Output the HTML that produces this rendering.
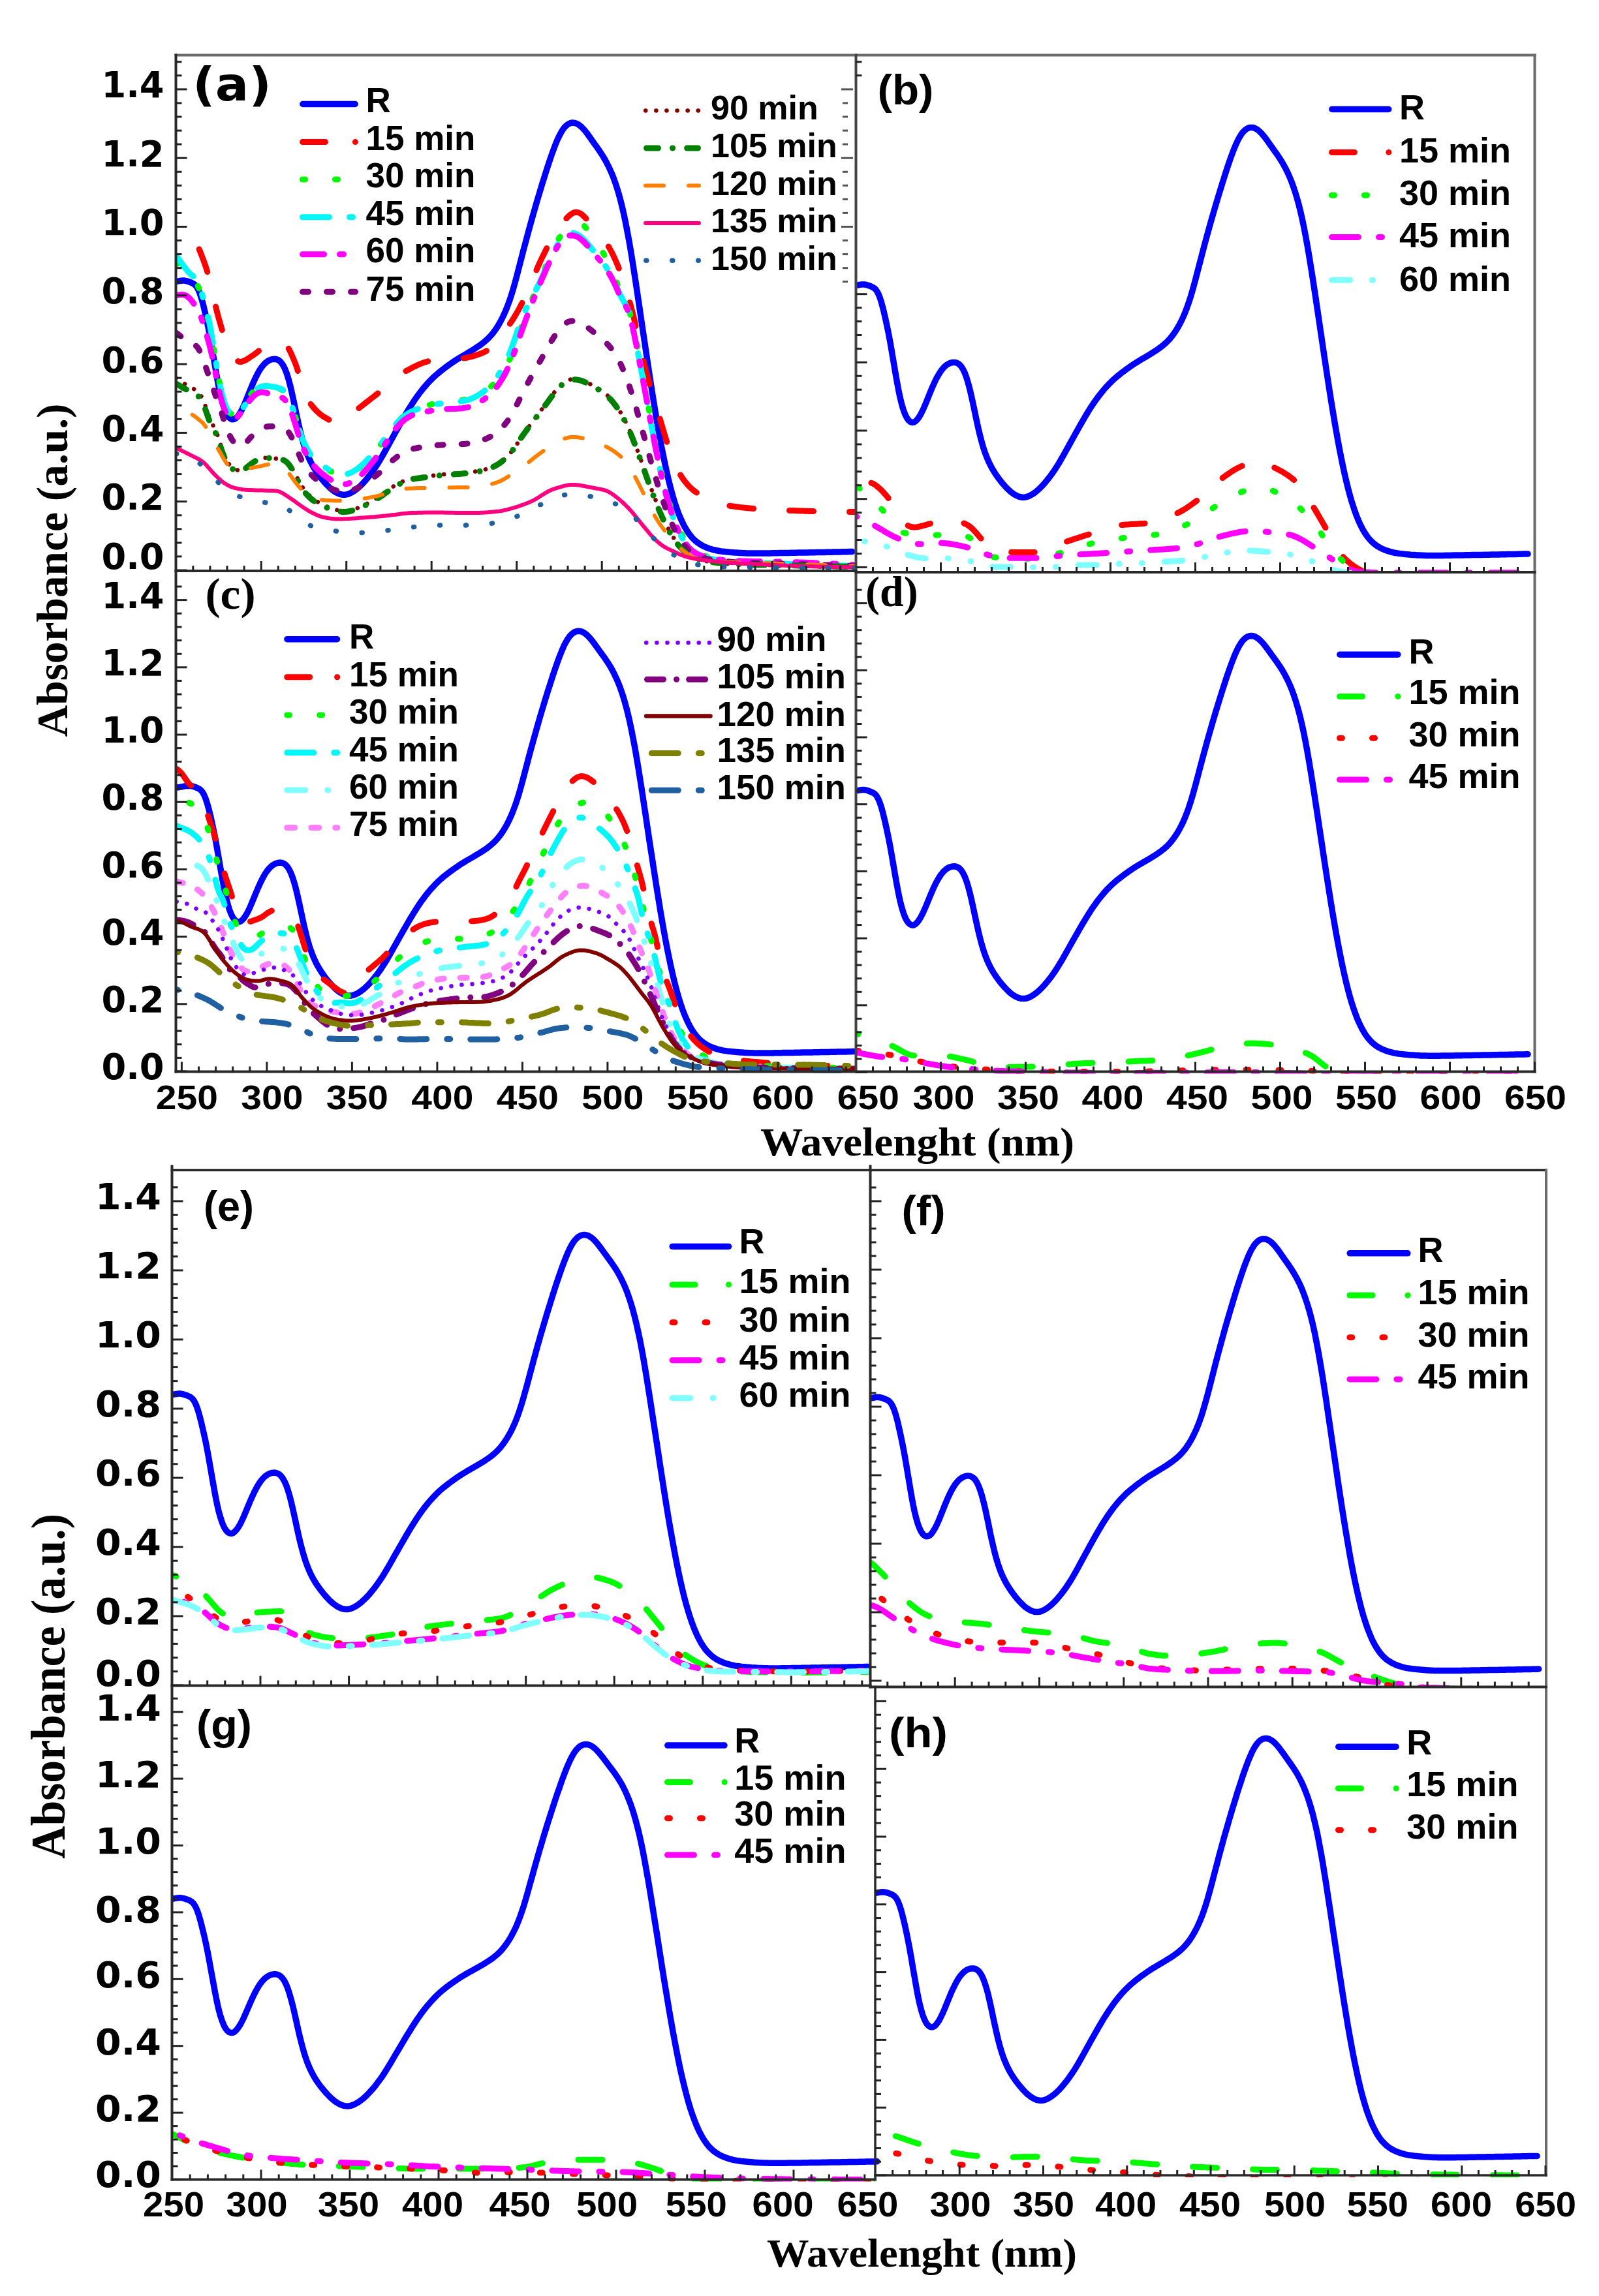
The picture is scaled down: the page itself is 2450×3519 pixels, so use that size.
<!DOCTYPE html>
<html lang="en"><head><meta charset="utf-8"><title>UV-Vis absorbance spectra</title>
<style>html,body{margin:0;padding:0;background:#fff}svg{display:block}</style></head>
<body>
<svg width="2450" height="3519" viewBox="0 0 2450 3519">
<rect width="2450" height="3519" fill="#fff"/>
<clipPath id="clip_a"><rect x="269.5" y="84.5" width="1042.0" height="793.5"/></clipPath>
<g clip-path="url(#clip_a)">
<rect x="269.5" y="84.5" width="1042.0" height="793.5" fill="#fff"/>
<path d="M269.7 431.5 L272.3 431.1 L274.9 430.6 L277.5 430.2 L280.1 430.0 L282.8 430.1 L285.4 430.6 L288.0 431.3 L290.6 432.3 L293.2 433.3 L295.8 434.5 L298.4 436.3 L301.0 439.1 L303.6 443.5 L306.2 449.7 L308.8 457.8 L311.5 467.6 L314.1 478.6 L316.7 490.4 L319.3 503.0 L321.9 516.7 L324.5 531.5 L327.1 547.0 L329.7 562.5 L332.3 577.6 L334.9 591.8 L337.6 604.4 L340.2 615.0 L342.8 623.7 L345.4 630.7 L348.0 635.9 L350.6 639.5 L353.2 641.7 L355.8 642.8 L358.4 642.6 L361.0 641.3 L363.7 638.8 L366.3 635.4 L368.9 631.1 L371.5 626.1 L374.1 620.5 L376.7 614.4 L379.3 607.9 L381.9 601.4 L384.5 595.0 L387.1 588.8 L389.8 582.8 L392.4 577.3 L395.0 572.2 L397.6 567.7 L400.2 563.7 L402.8 560.3 L405.4 557.4 L408.0 555.1 L410.6 553.3 L413.2 551.9 L415.9 550.9 L418.5 550.4 L421.1 550.3 L423.7 550.7 L426.3 551.7 L428.9 553.6 L431.5 556.4 L434.1 560.4 L436.7 565.7 L439.4 572.5 L442.0 580.9 L444.6 590.7 L447.2 601.8 L449.8 613.8 L452.4 626.3 L455.0 638.7 L457.6 650.6 L460.2 661.8 L462.8 671.9 L465.4 681.0 L468.1 688.9 L470.7 695.9 L473.3 702.1 L475.9 707.6 L478.5 712.6 L481.1 717.1 L483.7 721.3 L486.3 725.2 L488.9 728.8 L491.5 732.2 L494.2 735.5 L496.8 738.6 L499.4 741.6 L502.0 744.3 L504.6 746.9 L507.2 749.3 L509.8 751.4 L512.4 753.2 L515.0 754.8 L517.6 756.1 L520.3 757.1 L522.9 757.9 L525.5 758.3 L528.1 758.3 L530.7 757.9 L533.3 757.3 L535.9 756.2 L538.5 755.0 L541.1 753.4 L543.8 751.7 L546.4 749.7 L549.0 747.6 L551.6 745.2 L554.2 742.7 L556.8 739.9 L559.4 737.0 L562.0 734.0 L564.6 730.7 L567.2 727.4 L569.8 723.9 L572.5 720.2 L575.1 716.4 L577.7 712.4 L580.3 708.2 L582.9 703.9 L585.5 699.5 L588.1 694.9 L590.7 690.2 L593.3 685.5 L596.0 680.7 L598.6 676.0 L601.2 671.2 L603.8 666.5 L606.4 661.8 L609.0 657.1 L611.6 652.4 L614.2 647.8 L616.8 643.2 L619.4 638.7 L622.0 634.2 L624.7 629.8 L627.3 625.6 L629.9 621.4 L632.5 617.3 L635.1 613.4 L637.7 609.6 L640.3 606.0 L642.9 602.5 L645.5 599.1 L648.1 595.8 L650.8 592.6 L653.4 589.6 L656.0 586.7 L658.6 583.9 L661.2 581.3 L663.8 578.7 L666.4 576.3 L669.0 574.0 L671.6 571.8 L674.2 569.7 L676.9 567.6 L679.5 565.6 L682.1 563.6 L684.7 561.6 L687.3 559.7 L689.9 557.8 L692.5 556.0 L695.1 554.2 L697.7 552.5 L700.3 550.8 L703.0 549.2 L705.6 547.6 L708.2 546.1 L710.8 544.5 L713.4 543.0 L716.0 541.4 L718.6 539.9 L721.2 538.3 L723.8 536.7 L726.5 535.0 L729.1 533.3 L731.7 531.6 L734.3 529.8 L736.9 528.0 L739.5 526.0 L742.1 523.9 L744.7 521.7 L747.3 519.3 L749.9 516.7 L752.5 513.8 L755.2 510.7 L757.8 507.2 L760.4 503.5 L763.0 499.4 L765.6 495.0 L768.2 490.2 L770.8 485.0 L773.4 479.3 L776.0 473.2 L778.6 466.4 L781.3 459.0 L783.9 451.0 L786.5 442.3 L789.1 433.0 L791.7 423.4 L794.3 413.4 L796.9 403.3 L799.5 393.2 L802.1 383.1 L804.8 373.2 L807.4 363.4 L810.0 353.7 L812.6 344.2 L815.2 334.9 L817.8 325.7 L820.4 316.6 L823.0 307.7 L825.6 299.0 L828.2 290.3 L830.8 281.7 L833.5 273.3 L836.1 264.9 L838.7 256.8 L841.3 248.8 L843.9 241.1 L846.5 233.7 L849.1 226.6 L851.7 219.9 L854.3 213.7 L857.0 208.1 L859.6 203.2 L862.2 198.9 L864.8 195.4 L867.4 192.7 L870.0 190.6 L872.6 189.2 L875.2 188.3 L877.8 188.1 L880.4 188.4 L883.0 189.2 L885.7 190.5 L888.3 192.3 L890.9 194.5 L893.5 197.2 L896.1 200.1 L898.7 203.4 L901.3 206.9 L903.9 210.6 L906.5 214.3 L909.1 218.0 L911.8 221.7 L914.4 225.3 L917.0 229.0 L919.6 232.9 L922.2 236.8 L924.8 241.0 L927.4 245.5 L930.0 250.3 L932.6 255.4 L935.2 261.1 L937.9 267.2 L940.5 273.8 L943.1 281.1 L945.7 289.1 L948.3 297.9 L950.9 307.5 L953.5 318.0 L956.1 329.5 L958.7 342.0 L961.3 355.5 L964.0 370.0 L966.6 385.3 L969.2 401.3 L971.8 417.9 L974.4 434.9 L977.0 452.3 L979.6 469.8 L982.2 487.6 L984.8 505.4 L987.5 523.1 L990.1 540.8 L992.7 558.3 L995.3 575.5 L997.9 592.4 L1000.5 608.9 L1003.1 625.1 L1005.7 640.8 L1008.3 655.9 L1010.9 670.5 L1013.5 684.5 L1016.2 697.8 L1018.8 710.5 L1021.4 722.5 L1024.0 733.8 L1026.6 744.4 L1029.2 754.3 L1031.8 763.5 L1034.4 771.9 L1037.0 779.6 L1039.6 786.7 L1042.3 793.2 L1044.9 799.0 L1047.5 804.4 L1050.1 809.2 L1052.7 813.6 L1055.3 817.5 L1057.9 820.9 L1060.5 824.0 L1063.1 826.7 L1065.8 829.1 L1068.4 831.2 L1071.0 833.1 L1073.6 834.8 L1076.2 836.2 L1078.8 837.5 L1081.4 838.7 L1084.0 839.7 L1086.6 840.7 L1089.2 841.5 L1091.8 842.3 L1094.5 842.9 L1097.1 843.5 L1099.7 844.0 L1102.3 844.5 L1104.9 844.9 L1107.5 845.2 L1110.1 845.5 L1112.7 845.8 L1115.3 846.0 L1118.0 846.3 L1120.6 846.5 L1123.2 846.7 L1125.8 846.9 L1128.4 847.1 L1131.0 847.3 L1133.6 847.5 L1136.2 847.6 L1138.8 847.7 L1141.4 847.8 L1144.0 847.9 L1146.7 848.0 L1149.3 848.0 L1151.9 848.0 L1154.5 848.1 L1157.1 848.1 L1159.7 848.1 L1162.3 848.1 L1164.9 848.0 L1167.5 848.0 L1170.1 848.0 L1172.8 848.0 L1175.4 847.9 L1178.0 847.9 L1180.6 847.9 L1183.2 847.8 L1185.8 847.8 L1188.4 847.7 L1191.0 847.7 L1193.6 847.6 L1196.2 847.6 L1198.9 847.5 L1201.5 847.5 L1204.1 847.4 L1206.7 847.4 L1209.3 847.4 L1211.9 847.3 L1214.5 847.3 L1217.1 847.2 L1219.7 847.2 L1222.3 847.1 L1225.0 847.1 L1227.6 847.0 L1230.2 847.0 L1232.8 846.9 L1235.4 846.9 L1238.0 846.9 L1240.6 846.8 L1243.2 846.8 L1245.8 846.7 L1248.5 846.7 L1251.1 846.6 L1253.7 846.6 L1256.3 846.5 L1258.9 846.5 L1261.5 846.4 L1264.1 846.4 L1266.7 846.3 L1269.3 846.3 L1271.9 846.2 L1274.5 846.2 L1277.2 846.1 L1279.8 846.1 L1282.4 846.0 L1285.0 845.9 L1287.6 845.9 L1290.2 845.8 L1292.8 845.8 L1295.4 845.7 L1298.0 845.7 L1300.7 845.6 L1303.3 845.5 L1305.9 845.5" fill="none" stroke="#0000ff" stroke-width="9.5" stroke-linecap="round" stroke-linejoin="round"/>
<path d="M301.0 373.8 L303.6 378.3 L306.2 384.5 L308.8 391.2 L311.5 398.1 L314.1 405.3 L316.7 413.2 L319.3 422.0 L321.9 432.2 L324.5 443.6 L327.1 455.3 L329.7 466.6 L332.3 477.1 L334.9 487.0 L337.6 496.4 L340.2 505.4 L342.8 514.0 L345.4 522.4 L348.0 530.2 L350.6 536.7 L353.2 541.7 L355.8 545.5 L358.4 548.7 L361.0 551.3 L363.7 553.2 L366.3 554.3 L368.9 554.5 L371.5 554.0 L374.1 553.1 L376.7 551.7 L379.3 550.1 L381.9 548.4 L384.5 546.6 L387.1 544.9 L389.8 543.1 L392.4 541.1 L395.0 539.0 L397.6 536.9 L400.2 534.7 L402.8 532.7 L405.4 530.9 L408.0 529.2 L410.6 527.6 L413.2 526.1 L415.9 524.8 L418.5 523.6 L421.1 522.9 L423.7 522.5 L426.3 522.6 L428.9 523.0 L431.5 523.7 L434.1 524.8 L436.7 526.7 L439.4 529.7 L442.0 533.8 L444.6 538.7 L447.2 544.4 L449.8 550.4 L452.4 556.8 L455.0 564.0 L457.6 572.5 L460.2 582.0 L462.8 591.4 L465.4 599.7 L468.1 606.2 L470.7 611.1 L473.3 615.3 L475.9 619.0 L478.5 622.4 L481.1 625.6 L483.7 628.4 L486.3 631.0 L488.9 633.4 L491.5 635.5 L494.2 637.5 L496.8 639.2 L499.4 640.7 L502.0 642.2 L504.6 643.6 L507.2 644.9 L509.8 646.0 L512.4 647.0 L515.0 647.8 L517.6 648.3 L520.3 648.3 L522.9 647.8 L525.5 646.6 L528.1 644.7 L530.7 642.4 L533.3 639.9 L535.9 637.2 L538.5 634.7 L541.1 632.4 L543.8 630.3 L546.4 628.3 L549.0 626.2 L551.6 624.2 L554.2 622.2 L556.8 620.2 L559.4 618.1 L562.0 616.1 L564.6 614.1 L567.2 612.1 L569.8 610.0 L572.5 608.0 L575.1 605.9 L577.7 603.9 L580.3 601.8 L582.9 599.6 L585.5 597.4 L588.1 595.2 L590.7 592.9 L593.3 590.6 L596.0 588.3 L598.6 586.0 L601.2 583.8 L603.8 581.6 L606.4 579.4 L609.0 577.4 L611.6 575.4 L614.2 573.5 L616.8 571.8 L619.4 570.2 L622.0 568.7 L624.7 567.2 L627.3 565.9 L629.9 564.5 L632.5 563.1 L635.1 561.8 L637.7 560.6 L640.3 559.3 L642.9 558.2 L645.5 557.1 L648.1 556.1 L650.8 555.3 L653.4 554.5 L656.0 553.8 L658.6 553.3 L661.2 552.9 L663.8 552.6 L666.4 552.3 L669.0 552.1 L671.6 551.9 L674.2 551.7 L676.9 551.5 L679.5 551.4 L682.1 551.3 L684.7 551.2 L687.3 551.0 L689.9 550.9 L692.5 550.7 L695.1 550.6 L697.7 550.4 L700.3 550.2 L703.0 549.9 L705.6 549.7 L708.2 549.3 L710.8 548.9 L713.4 548.5 L716.0 548.0 L718.6 547.4 L721.2 546.8 L723.8 546.1 L726.5 545.4 L729.1 544.6 L731.7 543.7 L734.3 542.8 L736.9 541.8 L739.5 540.7 L742.1 539.6 L744.7 538.2 L747.3 536.5 L749.9 534.5 L752.5 532.2 L755.2 529.7 L757.8 526.9 L760.4 524.0 L763.0 520.8 L765.6 517.5 L768.2 514.2 L770.8 510.7 L773.4 507.2 L776.0 503.7 L778.6 500.1 L781.3 496.5 L783.9 492.6 L786.5 488.5 L789.1 484.2 L791.7 479.7 L794.3 475.1 L796.9 470.3 L799.5 465.3 L802.1 460.1 L804.8 454.6 L807.4 448.8 L810.0 442.7 L812.6 436.6 L815.2 430.3 L817.8 424.0 L820.4 417.7 L823.0 411.6 L825.6 405.6 L828.2 399.9 L830.8 394.4 L833.5 389.1 L836.1 383.8 L838.7 378.5 L841.3 373.4 L843.9 368.3 L846.5 363.5 L849.1 359.0 L851.7 354.8 L854.3 351.0 L857.0 347.6 L859.6 344.4 L862.2 341.3 L864.8 338.2 L867.4 335.2 L870.0 332.5 L872.6 330.1 L875.2 328.1 L877.8 326.5 L880.4 325.5 L883.0 325.2 L885.7 325.6 L888.3 326.6 L890.9 328.3 L893.5 330.4 L896.1 332.9 L898.7 335.7 L901.3 338.7 L903.9 341.7 L906.5 344.6 L909.1 347.5 L911.8 350.3 L914.4 353.2 L917.0 356.2 L919.6 359.4 L922.2 362.7 L924.8 366.2 L927.4 370.0 L930.0 374.0 L932.6 378.3 L935.2 382.9 L937.9 387.9 L940.5 393.3 L943.1 399.0 L945.7 405.0 L948.3 411.4 L950.9 418.3 L953.5 425.6 L956.1 433.5 L958.7 441.8 L961.3 450.6 L964.0 459.7 L966.6 469.1 L969.2 479.0 L971.8 489.5 L974.4 500.8 L977.0 512.8 L979.6 524.9 L982.2 537.0 L984.8 548.5 L987.5 559.3 L990.1 569.4 L992.7 578.9 L995.3 588.1 L997.9 597.0 L1000.5 605.8 L1003.1 614.5 L1005.7 623.1 L1008.3 631.9 L1010.9 640.8 L1013.5 649.9 L1016.2 658.9 L1018.8 667.8 L1021.4 676.2 L1024.0 684.2 L1026.6 691.6 L1029.2 698.5 L1031.8 705.1 L1034.4 711.3 L1037.0 717.2 L1039.6 722.6 L1042.3 727.4 L1044.9 731.6 L1047.5 735.3 L1050.1 738.7 L1052.7 741.9 L1055.3 744.7 L1057.9 747.4 L1060.5 749.8 L1063.1 751.9 L1065.8 753.9 L1068.4 755.7 L1071.0 757.4 L1073.6 759.1 L1076.2 760.7 L1078.8 762.3 L1081.4 763.8 L1084.0 765.2 L1086.6 766.5 L1089.2 767.7 L1091.8 768.9 L1094.5 769.9 L1097.1 770.8 L1099.7 771.6 L1102.3 772.3 L1104.9 772.9 L1107.5 773.4 L1110.1 773.9 L1112.7 774.3 L1115.3 774.7 L1118.0 775.2 L1120.6 775.6 L1123.2 776.0 L1125.8 776.3 L1128.4 776.7 L1131.0 777.0 L1133.6 777.4 L1136.2 777.7 L1138.8 778.0 L1141.4 778.3 L1144.0 778.6 L1146.7 778.8 L1149.3 779.1 L1151.9 779.3 L1154.5 779.5 L1157.1 779.8 L1159.7 780.0 L1162.3 780.2 L1164.9 780.3 L1167.5 780.5 L1170.1 780.7 L1172.8 780.8 L1175.4 781.0 L1178.0 781.1 L1180.6 781.2 L1183.2 781.3 L1185.8 781.4 L1188.4 781.6 L1191.0 781.7 L1193.6 781.8 L1196.2 781.9 L1198.9 782.0 L1201.5 782.1 L1204.1 782.2 L1206.7 782.3 L1209.3 782.4 L1211.9 782.5 L1214.5 782.5 L1217.1 782.6 L1219.7 782.7 L1222.3 782.8 L1225.0 782.9 L1227.6 783.0 L1230.2 783.1 L1232.8 783.2 L1235.4 783.2 L1238.0 783.3 L1240.6 783.4 L1243.2 783.5 L1245.8 783.5 L1248.5 783.6 L1251.1 783.7 L1253.7 783.7 L1256.3 783.8 L1258.9 783.8 L1261.5 783.9 L1264.1 784.0 L1266.7 784.0 L1269.3 784.1 L1271.9 784.1 L1274.5 784.2 L1277.2 784.2 L1279.8 784.2 L1282.4 784.3 L1285.0 784.3 L1287.6 784.3 L1290.2 784.4 L1292.8 784.4 L1295.4 784.4 L1298.0 784.4 L1300.7 784.5 L1303.3 784.5 L1305.9 784.5 L1308.5 784.5 L1311.1 784.5 L1313.7 784.5" fill="none" stroke="#ff0000" stroke-width="9" stroke-linecap="round" stroke-linejoin="round" stroke-dasharray="37 55" stroke-dashoffset="82.9"/>
<path d="M269.7 401.5 L272.3 403.8 L274.9 406.8 L277.5 409.8 L280.1 412.8 L282.8 415.9 L285.4 418.9 L288.0 421.7 L290.6 424.2 L293.2 426.4 L295.8 428.5 L298.4 430.9 L301.0 434.3 L303.6 439.1 L306.2 445.7 L308.8 453.8 L311.5 462.7 L314.1 471.6 L316.7 480.5 L319.3 490.1 L321.9 502.0 L324.5 516.3 L327.1 532.2 L329.7 548.5 L332.3 564.5 L334.9 579.5 L337.6 592.9 L340.2 604.2 L342.8 613.6 L345.4 621.1 L348.0 626.9 L350.6 630.9 L353.2 633.6 L355.8 635.1 L358.4 635.4 L361.0 634.6 L363.7 632.9 L366.3 630.5 L368.9 627.6 L371.5 624.2 L374.1 620.3 L376.7 616.3 L379.3 612.2 L381.9 608.3 L384.5 604.6 L387.1 601.3 L389.8 598.5 L392.4 596.1 L395.0 594.2 L397.6 592.9 L400.2 592.0 L402.8 591.6 L405.4 591.5 L408.0 591.7 L410.6 592.1 L413.2 592.6 L415.9 593.2 L418.5 593.8 L421.1 594.4 L423.7 595.0 L426.3 595.5 L428.9 596.3 L431.5 597.3 L434.1 598.9 L436.7 601.4 L439.4 604.8 L442.0 609.5 L444.6 615.3 L447.2 622.4 L449.8 630.3 L452.4 638.8 L455.0 647.5 L457.6 656.0 L460.2 664.0 L462.8 671.3 L465.4 677.7 L468.1 683.4 L470.7 688.3 L473.3 692.7 L475.9 696.6 L478.5 700.1 L481.1 703.2 L483.7 706.0 L486.3 708.5 L488.9 710.7 L491.5 712.7 L494.2 714.6 L496.8 716.4 L499.4 718.1 L502.0 719.7 L504.6 721.3 L507.2 722.7 L509.8 724.0 L512.4 725.1 L515.0 726.1 L517.6 727.0 L520.3 727.7 L522.9 728.2 L525.5 728.5 L528.1 728.6 L530.7 728.3 L533.3 727.7 L535.9 726.7 L538.5 725.5 L541.1 724.1 L543.8 722.5 L546.4 720.7 L549.0 718.7 L551.6 716.6 L554.2 714.4 L556.8 711.9 L559.4 709.4 L562.0 706.8 L564.6 704.0 L567.2 701.2 L569.8 698.3 L572.5 695.3 L575.1 692.2 L577.7 688.9 L580.3 685.5 L582.9 682.0 L585.5 678.4 L588.1 674.7 L590.7 671.0 L593.3 667.2 L596.0 663.4 L598.6 659.8 L601.2 656.3 L603.8 653.0 L606.4 649.9 L609.0 647.0 L611.6 644.2 L614.2 641.6 L616.8 639.2 L619.4 637.0 L622.0 635.0 L624.7 633.1 L627.3 631.4 L629.9 629.9 L632.5 628.6 L635.1 627.4 L637.7 626.4 L640.3 625.5 L642.9 624.6 L645.5 623.9 L648.1 623.2 L650.8 622.5 L653.4 621.9 L656.0 621.2 L658.6 620.5 L661.2 619.7 L663.8 619.0 L666.4 618.4 L669.0 617.8 L671.6 617.4 L674.2 617.0 L676.9 616.7 L679.5 616.4 L682.1 616.1 L684.7 615.8 L687.3 615.6 L689.9 615.3 L692.5 615.0 L695.1 614.8 L697.7 614.5 L700.3 614.3 L703.0 614.0 L705.6 613.6 L708.2 613.3 L710.8 612.8 L713.4 612.3 L716.0 611.7 L718.6 611.0 L721.2 610.1 L723.8 609.2 L726.5 608.1 L729.1 606.9 L731.7 605.6 L734.3 604.3 L736.9 603.0 L739.5 601.5 L742.1 600.0 L744.7 598.3 L747.3 596.5 L749.9 594.5 L752.5 592.3 L755.2 589.8 L757.8 587.2 L760.4 584.3 L763.0 581.2 L765.6 577.8 L768.2 574.1 L770.8 570.1 L773.4 565.7 L776.0 560.9 L778.6 555.7 L781.3 550.1 L783.9 543.9 L786.5 537.2 L789.1 530.1 L791.7 522.8 L794.3 515.2 L796.9 507.7 L799.5 500.3 L802.1 493.1 L804.8 486.0 L807.4 479.1 L810.0 472.4 L812.6 465.8 L815.2 459.3 L817.8 452.9 L820.4 446.6 L823.0 440.3 L825.6 434.0 L828.2 427.6 L830.8 421.2 L833.5 414.8 L836.1 408.4 L838.7 402.1 L841.3 396.0 L843.9 390.1 L846.5 384.3 L849.1 378.9 L851.7 373.7 L854.3 368.8 L857.0 364.5 L859.6 360.6 L862.2 357.2 L864.8 354.4 L867.4 352.1 L870.0 350.3 L872.6 349.0 L875.2 348.1 L877.8 347.3 L880.4 346.1 L883.0 344.5 L885.7 343.0 L888.3 342.3 L890.9 342.9 L893.5 344.7 L896.1 347.3 L898.7 350.4 L901.3 353.7 L903.9 357.3 L906.5 361.1 L909.1 364.9 L911.8 368.7 L914.4 372.6 L917.0 376.5 L919.6 380.4 L922.2 384.5 L924.8 388.9 L927.4 393.6 L930.0 398.8 L932.6 404.3 L935.2 410.1 L937.9 416.2 L940.5 422.5 L943.1 428.9 L945.7 435.5 L948.3 441.9 L950.9 447.8 L953.5 452.9 L956.1 457.7 L958.7 462.8 L961.3 468.7 L964.0 475.9 L966.6 484.9 L969.2 495.6 L971.8 507.6 L974.4 520.4 L977.0 533.7 L979.6 547.3 L982.2 561.3 L984.8 575.4 L987.5 589.7 L990.1 604.1 L992.7 618.4 L995.3 632.7 L997.9 646.8 L1000.5 660.6 L1003.1 674.1 L1005.7 687.2 L1008.3 700.0 L1010.9 712.2 L1013.5 723.9 L1016.2 735.0 L1018.8 745.6 L1021.4 755.6 L1024.0 764.9 L1026.6 773.7 L1029.2 781.9 L1031.8 789.5 L1034.4 796.7 L1037.0 803.3 L1039.6 809.3 L1042.3 814.8 L1044.9 819.9 L1047.5 824.4 L1050.1 828.5 L1052.7 832.2 L1055.3 835.4 L1057.9 838.3 L1060.5 840.8 L1063.1 843.0 L1065.8 844.9 L1068.4 846.6 L1071.0 848.1 L1073.6 849.4 L1076.2 850.6 L1078.8 851.6 L1081.4 852.5 L1084.0 853.4 L1086.6 854.2 L1089.2 854.9 L1091.8 855.5 L1094.5 856.1 L1097.1 856.6 L1099.7 857.1 L1102.3 857.5 L1104.9 857.9 L1107.5 858.3 L1110.1 858.6 L1112.7 858.9 L1115.3 859.2 L1118.0 859.5 L1120.6 859.7 L1123.2 860.0 L1125.8 860.3 L1128.4 860.5 L1131.0 860.7 L1133.6 860.9 L1136.2 861.1 L1138.8 861.3 L1141.4 861.5 L1144.0 861.7 L1146.7 861.8 L1149.3 862.0 L1151.9 862.1 L1154.5 862.3 L1157.1 862.4 L1159.7 862.5 L1162.3 862.6 L1164.9 862.7 L1167.5 862.9 L1170.1 863.0 L1172.8 863.1 L1175.4 863.2 L1178.0 863.3 L1180.6 863.4 L1183.2 863.5 L1185.8 863.6 L1188.4 863.7 L1191.0 863.8 L1193.6 863.9 L1196.2 863.9 L1198.9 864.0 L1201.5 864.1 L1204.1 864.2 L1206.7 864.3 L1209.3 864.4 L1211.9 864.5 L1214.5 864.6 L1217.1 864.7 L1219.7 864.8 L1222.3 864.9 L1225.0 865.0 L1227.6 865.1 L1230.2 865.2 L1232.8 865.2 L1235.4 865.3 L1238.0 865.4 L1240.6 865.5 L1243.2 865.6 L1245.8 865.7 L1248.5 865.8 L1251.1 865.9 L1253.7 865.9 L1256.3 866.0 L1258.9 866.1 L1261.5 866.2 L1264.1 866.3 L1266.7 866.4 L1269.3 866.4 L1271.9 866.5 L1274.5 866.6 L1277.2 866.7 L1279.8 866.8 L1282.4 866.8 L1285.0 866.9 L1287.6 867.0 L1290.2 867.1 L1292.8 867.1 L1295.4 867.2 L1298.0 867.3 L1300.7 867.3 L1303.3 867.4 L1305.9 867.5 L1308.5 867.5 L1311.1 867.6 L1313.7 867.7" fill="none" stroke="#00fa00" stroke-width="9" stroke-linecap="round" stroke-linejoin="round" stroke-dasharray="4 46" stroke-dashoffset="0"/>
<path d="M269.7 392.3 L272.3 395.1 L274.9 398.7 L277.5 402.5 L280.1 406.1 L282.8 409.6 L285.4 413.0 L288.0 416.2 L290.6 418.9 L293.2 421.1 L295.8 423.1 L298.4 425.5 L301.0 428.9 L303.6 433.7 L306.2 440.3 L308.8 448.6 L311.5 457.8 L314.1 467.4 L316.7 477.0 L319.3 487.6 L321.9 500.0 L324.5 514.7 L327.1 530.8 L329.7 547.3 L332.3 563.5 L334.9 578.7 L337.6 592.4 L340.2 603.9 L342.8 613.6 L345.4 621.4 L348.0 627.4 L350.6 631.7 L353.2 634.7 L355.8 636.4 L358.4 637.0 L361.0 636.4 L363.7 634.9 L366.3 632.6 L368.9 629.8 L371.5 626.4 L374.1 622.6 L376.7 618.6 L379.3 614.4 L381.9 610.4 L384.5 606.6 L387.1 603.2 L389.8 600.1 L392.4 597.5 L395.0 595.4 L397.6 593.8 L400.2 592.6 L402.8 591.9 L405.4 591.6 L408.0 591.5 L410.6 591.7 L413.2 592.0 L415.9 592.5 L418.5 592.9 L421.1 593.4 L423.7 593.9 L426.3 594.5 L428.9 595.3 L431.5 596.4 L434.1 598.1 L436.7 600.6 L439.4 604.2 L442.0 608.9 L444.6 614.9 L447.2 622.0 L449.8 630.0 L452.4 638.6 L455.0 647.4 L457.6 656.0 L460.2 664.0 L462.8 671.3 L465.4 677.8 L468.1 683.5 L470.7 688.4 L473.3 692.7 L475.9 696.6 L478.5 700.1 L481.1 703.2 L483.7 705.9 L486.3 708.2 L488.9 710.3 L491.5 712.2 L494.2 714.0 L496.8 715.6 L499.4 717.2 L502.0 718.8 L504.6 720.2 L507.2 721.5 L509.8 722.7 L512.4 723.7 L515.0 724.7 L517.6 725.5 L520.3 726.1 L522.9 726.6 L525.5 727.0 L528.1 727.0 L530.7 726.7 L533.3 726.1 L535.9 725.2 L538.5 724.0 L541.1 722.6 L543.8 721.0 L546.4 719.3 L549.0 717.4 L551.6 715.3 L554.2 713.1 L556.8 710.7 L559.4 708.2 L562.0 705.7 L564.6 703.0 L567.2 700.3 L569.8 697.4 L572.5 694.5 L575.1 691.4 L577.7 688.3 L580.3 685.0 L582.9 681.6 L585.5 678.1 L588.1 674.5 L590.7 670.8 L593.3 667.1 L596.0 663.4 L598.6 659.9 L601.2 656.5 L603.8 653.3 L606.4 650.2 L609.0 647.4 L611.6 644.7 L614.2 642.2 L616.8 639.9 L619.4 637.8 L622.0 635.8 L624.7 634.0 L627.3 632.4 L629.9 631.0 L632.5 629.8 L635.1 628.7 L637.7 627.7 L640.3 626.8 L642.9 626.1 L645.5 625.4 L648.1 624.7 L650.8 624.1 L653.4 623.4 L656.0 622.8 L658.6 622.0 L661.2 621.3 L663.8 620.6 L666.4 619.9 L669.0 619.4 L671.6 618.9 L674.2 618.6 L676.9 618.3 L679.5 618.0 L682.1 617.7 L684.7 617.5 L687.3 617.2 L689.9 617.0 L692.5 616.7 L695.1 616.4 L697.7 616.2 L700.3 615.9 L703.0 615.6 L705.6 615.2 L708.2 614.8 L710.8 614.3 L713.4 613.8 L716.0 613.1 L718.6 612.3 L721.2 611.4 L723.8 610.3 L726.5 609.1 L729.1 607.8 L731.7 606.3 L734.3 604.7 L736.9 603.0 L739.5 601.2 L742.1 599.2 L744.7 597.0 L747.3 594.7 L749.9 592.2 L752.5 589.4 L755.2 586.4 L757.8 583.1 L760.4 579.6 L763.0 575.8 L765.6 571.7 L768.2 567.4 L770.8 562.7 L773.4 557.7 L776.0 552.2 L778.6 546.4 L781.3 540.1 L783.9 533.3 L786.5 526.1 L789.1 518.5 L791.7 510.8 L794.3 503.0 L796.9 495.6 L799.5 488.7 L802.1 482.2 L804.8 476.1 L807.4 470.4 L810.0 465.1 L812.6 460.0 L815.2 455.1 L817.8 450.3 L820.4 445.5 L823.0 440.6 L825.6 435.5 L828.2 430.0 L830.8 424.3 L833.5 418.3 L836.1 412.3 L838.7 406.4 L841.3 400.6 L843.9 394.9 L846.5 389.5 L849.1 384.3 L851.7 379.4 L854.3 374.9 L857.0 370.8 L859.6 367.2 L862.2 364.2 L864.8 361.7 L867.4 359.8 L870.0 358.4 L872.6 357.5 L875.2 357.1 L877.8 357.2 L880.4 357.7 L883.0 358.6 L885.7 360.0 L888.3 361.7 L890.9 363.8 L893.5 366.2 L896.1 368.8 L898.7 371.7 L901.3 374.7 L903.9 377.9 L906.5 381.1 L909.1 384.3 L911.8 387.4 L914.4 390.6 L917.0 393.7 L919.6 396.9 L922.2 400.2 L924.8 403.7 L927.4 407.4 L930.0 411.4 L932.6 415.6 L935.2 420.1 L937.9 425.0 L940.5 430.2 L943.1 435.8 L945.7 441.7 L948.3 447.8 L950.9 453.4 L953.5 458.3 L956.1 462.7 L958.7 467.5 L961.3 473.1 L964.0 480.2 L966.6 489.1 L969.2 499.9 L971.8 512.0 L974.4 524.9 L977.0 538.2 L979.6 551.9 L982.2 565.7 L984.8 579.8 L987.5 594.0 L990.1 608.2 L992.7 622.6 L995.3 636.9 L997.9 651.1 L1000.5 665.1 L1003.1 678.8 L1005.7 692.1 L1008.3 705.0 L1010.9 717.4 L1013.5 729.2 L1016.2 740.4 L1018.8 751.0 L1021.4 761.0 L1024.0 770.3 L1026.6 778.9 L1029.2 787.0 L1031.8 794.5 L1034.4 801.5 L1037.0 807.9 L1039.6 813.8 L1042.3 819.1 L1044.9 823.9 L1047.5 828.3 L1050.1 832.2 L1052.7 835.7 L1055.3 838.8 L1057.9 841.4 L1060.5 843.8 L1063.1 845.8 L1065.8 847.6 L1068.4 849.1 L1071.0 850.4 L1073.6 851.6 L1076.2 852.6 L1078.8 853.6 L1081.4 854.4 L1084.0 855.2 L1086.6 855.9 L1089.2 856.5 L1091.8 857.0 L1094.5 857.6 L1097.1 858.0 L1099.7 858.4 L1102.3 858.8 L1104.9 859.1 L1107.5 859.4 L1110.1 859.7 L1112.7 859.9 L1115.3 860.1 L1118.0 860.4 L1120.6 860.6 L1123.2 860.8 L1125.8 861.0 L1128.4 861.2 L1131.0 861.4 L1133.6 861.5 L1136.2 861.7 L1138.8 861.8 L1141.4 862.0 L1144.0 862.1 L1146.7 862.2 L1149.3 862.3 L1151.9 862.4 L1154.5 862.5 L1157.1 862.6 L1159.7 862.7 L1162.3 862.8 L1164.9 862.9 L1167.5 863.0 L1170.1 863.1 L1172.8 863.1 L1175.4 863.2 L1178.0 863.3 L1180.6 863.4 L1183.2 863.5 L1185.8 863.6 L1188.4 863.6 L1191.0 863.7 L1193.6 863.8 L1196.2 863.9 L1198.9 864.0 L1201.5 864.1 L1204.1 864.1 L1206.7 864.2 L1209.3 864.3 L1211.9 864.4 L1214.5 864.5 L1217.1 864.6 L1219.7 864.6 L1222.3 864.7 L1225.0 864.8 L1227.6 864.9 L1230.2 865.0 L1232.8 865.1 L1235.4 865.2 L1238.0 865.2 L1240.6 865.3 L1243.2 865.4 L1245.8 865.5 L1248.5 865.6 L1251.1 865.7 L1253.7 865.7 L1256.3 865.8 L1258.9 865.9 L1261.5 866.0 L1264.1 866.1 L1266.7 866.2 L1269.3 866.2 L1271.9 866.3 L1274.5 866.4 L1277.2 866.5 L1279.8 866.6 L1282.4 866.7 L1285.0 866.8 L1287.6 866.8 L1290.2 866.9 L1292.8 867.0 L1295.4 867.1 L1298.0 867.2 L1300.7 867.3 L1303.3 867.3 L1305.9 867.4 L1308.5 867.5 L1311.1 867.6 L1313.7 867.6" fill="none" stroke="#00f8f8" stroke-width="9" stroke-linecap="round" stroke-linejoin="round" stroke-dasharray="41 31 5 31" stroke-dashoffset="0"/>
<path d="M269.7 452.6 L272.3 452.3 L274.9 452.0 L277.5 451.7 L280.1 451.8 L282.8 452.2 L285.4 453.2 L288.0 454.9 L290.6 457.4 L293.2 460.4 L295.8 463.8 L298.4 467.3 L301.0 471.3 L303.6 475.9 L306.2 481.4 L308.8 488.1 L311.5 495.9 L314.1 504.6 L316.7 513.5 L319.3 522.7 L321.9 532.5 L324.5 543.4 L327.1 555.7 L329.7 568.9 L332.3 582.4 L334.9 595.4 L337.6 607.0 L340.2 616.7 L342.8 624.7 L345.4 631.1 L348.0 635.8 L350.6 639.0 L353.2 641.0 L355.8 641.9 L358.4 641.8 L361.0 640.7 L363.7 638.8 L366.3 636.2 L368.9 633.2 L371.5 629.8 L374.1 626.1 L376.7 622.3 L379.3 618.4 L381.9 614.7 L384.5 611.4 L387.1 608.5 L389.8 606.0 L392.4 604.1 L395.0 602.6 L397.6 601.7 L400.2 601.3 L402.8 601.2 L405.4 601.5 L408.0 602.1 L410.6 602.9 L413.2 603.7 L415.9 604.5 L418.5 605.3 L421.1 605.9 L423.7 606.5 L426.3 607.1 L428.9 607.9 L431.5 609.0 L434.1 610.6 L436.7 613.1 L439.4 616.6 L442.0 621.2 L444.6 627.0 L447.2 633.9 L449.8 641.7 L452.4 650.0 L455.0 658.5 L457.6 666.8 L460.2 674.7 L462.8 681.8 L465.4 688.2 L468.1 693.8 L470.7 698.8 L473.3 703.1 L475.9 707.0 L478.5 710.6 L481.1 713.9 L483.7 716.8 L486.3 719.5 L488.9 721.9 L491.5 724.2 L494.2 726.4 L496.8 728.4 L499.4 730.4 L502.0 732.3 L504.6 734.1 L507.2 735.7 L509.8 737.2 L512.4 738.5 L515.0 739.6 L517.6 740.5 L520.3 741.3 L522.9 741.9 L525.5 742.2 L528.1 742.2 L530.7 741.9 L533.3 741.2 L535.9 740.2 L538.5 739.0 L541.1 737.5 L543.8 735.8 L546.4 733.9 L549.0 731.8 L551.6 729.5 L554.2 727.1 L556.8 724.5 L559.4 721.7 L562.0 718.8 L564.6 715.8 L567.2 712.7 L569.8 709.5 L572.5 706.2 L575.1 702.7 L577.7 699.1 L580.3 695.4 L582.9 691.6 L585.5 687.6 L588.1 683.6 L590.7 679.5 L593.3 675.4 L596.0 671.4 L598.6 667.4 L601.2 663.7 L603.8 660.2 L606.4 657.0 L609.0 653.9 L611.6 651.1 L614.2 648.4 L616.8 646.0 L619.4 643.8 L622.0 641.8 L624.7 640.1 L627.3 638.5 L629.9 637.1 L632.5 635.9 L635.1 634.9 L637.7 634.1 L640.3 633.4 L642.9 632.8 L645.5 632.3 L648.1 631.8 L650.8 631.3 L653.4 630.8 L656.0 630.3 L658.6 629.8 L661.2 629.2 L663.8 628.6 L666.4 628.1 L669.0 627.7 L671.6 627.4 L674.2 627.2 L676.9 627.1 L679.5 627.0 L682.1 626.9 L684.7 626.8 L687.3 626.7 L689.9 626.6 L692.5 626.6 L695.1 626.5 L697.7 626.4 L700.3 626.3 L703.0 626.1 L705.6 625.9 L708.2 625.7 L710.8 625.3 L713.4 624.9 L716.0 624.3 L718.6 623.6 L721.2 622.8 L723.8 621.8 L726.5 620.7 L729.1 619.4 L731.7 618.1 L734.3 616.6 L736.9 615.0 L739.5 613.4 L742.1 611.6 L744.7 609.6 L747.3 607.5 L749.9 605.2 L752.5 602.7 L755.2 600.0 L757.8 597.0 L760.4 593.8 L763.0 590.4 L765.6 586.6 L768.2 582.6 L770.8 578.3 L773.4 573.7 L776.0 568.6 L778.6 563.2 L781.3 557.3 L783.9 551.0 L786.5 544.2 L789.1 537.0 L791.7 529.6 L794.3 522.0 L796.9 514.4 L799.5 506.8 L802.1 499.4 L804.8 492.1 L807.4 485.0 L810.0 478.0 L812.6 471.1 L815.2 464.5 L817.8 457.9 L820.4 451.5 L823.0 445.1 L825.6 438.9 L828.2 432.7 L830.8 426.5 L833.5 420.4 L836.1 414.4 L838.7 408.5 L841.3 402.8 L843.9 397.2 L846.5 391.9 L849.1 386.8 L851.7 382.0 L854.3 377.6 L857.0 373.7 L859.6 370.2 L862.2 367.3 L864.8 365.0 L867.4 363.1 L870.0 361.9 L872.6 361.1 L875.2 360.8 L877.8 360.9 L880.4 361.4 L883.0 362.3 L885.7 363.6 L888.3 365.3 L890.9 367.4 L893.5 369.7 L896.1 372.3 L898.7 375.1 L901.3 378.0 L903.9 381.1 L906.5 384.2 L909.1 387.3 L911.8 390.4 L914.4 393.4 L917.0 396.5 L919.6 399.6 L922.2 402.9 L924.8 406.3 L927.4 409.9 L930.0 413.8 L932.6 418.0 L935.2 422.4 L937.9 427.2 L940.5 432.4 L943.1 437.9 L945.7 443.9 L948.3 449.9 L950.9 455.4 L953.5 460.1 L956.1 464.4 L958.7 469.0 L961.3 474.4 L964.0 481.4 L966.6 490.2 L969.2 500.9 L971.8 513.1 L974.4 526.0 L977.0 539.4 L979.6 553.0 L982.2 566.9 L984.8 580.9 L987.5 595.0 L990.1 609.2 L992.7 623.5 L995.3 637.7 L997.9 651.8 L1000.5 665.7 L1003.1 679.4 L1005.7 692.6 L1008.3 705.4 L1010.9 717.7 L1013.5 729.5 L1016.2 740.6 L1018.8 751.1 L1021.4 761.0 L1024.0 770.3 L1026.6 778.9 L1029.2 787.0 L1031.8 794.6 L1034.4 801.6 L1037.0 808.0 L1039.6 814.0 L1042.3 819.4 L1044.9 824.2 L1047.5 828.6 L1050.1 832.5 L1052.7 836.0 L1055.3 839.1 L1057.9 841.7 L1060.5 844.0 L1063.1 845.9 L1065.8 847.6 L1068.4 849.0 L1071.0 850.2 L1073.6 851.3 L1076.2 852.3 L1078.8 853.1 L1081.4 853.9 L1084.0 854.5 L1086.6 855.2 L1089.2 855.7 L1091.8 856.2 L1094.5 856.7 L1097.1 857.0 L1099.7 857.4 L1102.3 857.7 L1104.9 857.9 L1107.5 858.2 L1110.1 858.4 L1112.7 858.6 L1115.3 858.8 L1118.0 858.9 L1120.6 859.1 L1123.2 859.3 L1125.8 859.4 L1128.4 859.5 L1131.0 859.7 L1133.6 859.8 L1136.2 859.9 L1138.8 860.0 L1141.4 860.1 L1144.0 860.1 L1146.7 860.2 L1149.3 860.3 L1151.9 860.3 L1154.5 860.4 L1157.1 860.4 L1159.7 860.5 L1162.3 860.5 L1164.9 860.5 L1167.5 860.6 L1170.1 860.6 L1172.8 860.7 L1175.4 860.7 L1178.0 860.7 L1180.6 860.8 L1183.2 860.8 L1185.8 860.9 L1188.4 860.9 L1191.0 861.0 L1193.6 861.1 L1196.2 861.1 L1198.9 861.2 L1201.5 861.2 L1204.1 861.3 L1206.7 861.4 L1209.3 861.4 L1211.9 861.5 L1214.5 861.6 L1217.1 861.7 L1219.7 861.7 L1222.3 861.8 L1225.0 861.9 L1227.6 862.0 L1230.2 862.1 L1232.8 862.2 L1235.4 862.3 L1238.0 862.4 L1240.6 862.5 L1243.2 862.6 L1245.8 862.7 L1248.5 862.8 L1251.1 862.9 L1253.7 863.0 L1256.3 863.1 L1258.9 863.3 L1261.5 863.4 L1264.1 863.5 L1266.7 863.6 L1269.3 863.7 L1271.9 863.9 L1274.5 864.0 L1277.2 864.1 L1279.8 864.2 L1282.4 864.4 L1285.0 864.5 L1287.6 864.6 L1290.2 864.8 L1292.8 864.9 L1295.4 865.1 L1298.0 865.2 L1300.7 865.3 L1303.3 865.5 L1305.9 865.6 L1308.5 865.8 L1311.1 865.9 L1313.7 866.0" fill="none" stroke="#ff00ff" stroke-width="9" stroke-linecap="round" stroke-linejoin="round" stroke-dasharray="33 24 6 24" stroke-dashoffset="0"/>
<path d="M269.7 510.1 L272.3 511.7 L274.9 513.8 L277.5 515.9 L280.1 518.0 L282.8 520.0 L285.4 522.0 L288.0 523.8 L290.6 525.3 L293.2 526.4 L295.8 527.4 L298.4 528.7 L301.0 530.6 L303.6 533.7 L306.2 538.2 L308.8 544.1 L311.5 551.2 L314.1 559.0 L316.7 566.8 L319.3 574.1 L321.9 581.2 L324.5 588.8 L327.1 596.8 L329.7 604.7 L332.3 612.0 L334.9 619.3 L337.6 626.8 L340.2 634.7 L342.8 643.0 L345.4 651.1 L348.0 658.4 L350.6 664.7 L353.2 670.1 L355.8 674.4 L358.4 677.7 L361.0 680.1 L363.7 681.9 L366.3 683.1 L368.9 683.6 L371.5 683.1 L374.1 681.4 L376.7 678.8 L379.3 675.8 L381.9 672.8 L384.5 669.8 L387.1 667.0 L389.8 664.4 L392.4 662.0 L395.0 659.9 L397.6 658.2 L400.2 656.7 L402.8 655.6 L405.4 654.7 L408.0 654.1 L410.6 653.7 L413.2 653.5 L415.9 653.4 L418.5 653.5 L421.1 653.7 L423.7 653.9 L426.3 654.2 L428.9 654.5 L431.5 655.0 L434.1 655.8 L436.7 657.1 L439.4 659.2 L442.0 662.1 L444.6 666.1 L447.2 670.9 L449.8 676.6 L452.4 682.8 L455.0 689.2 L457.6 695.5 L460.2 701.4 L462.8 706.9 L465.4 711.8 L468.1 716.1 L470.7 719.9 L473.3 723.2 L475.9 726.3 L478.5 729.1 L481.1 731.7 L483.7 734.0 L486.3 736.0 L488.9 737.9 L491.5 739.7 L494.2 741.3 L496.8 742.9 L499.4 744.4 L502.0 745.9 L504.6 747.3 L507.2 748.6 L509.8 749.7 L512.4 750.8 L515.0 751.7 L517.6 752.4 L520.3 753.1 L522.9 753.5 L525.5 753.8 L528.1 753.9 L530.7 753.7 L533.3 753.3 L535.9 752.7 L538.5 751.8 L541.1 750.8 L543.8 749.7 L546.4 748.5 L549.0 747.2 L551.6 745.8 L554.2 744.3 L556.8 742.7 L559.4 741.0 L562.0 739.3 L564.6 737.5 L567.2 735.7 L569.8 733.8 L572.5 731.8 L575.1 729.8 L577.7 727.7 L580.3 725.5 L582.9 723.2 L585.5 720.8 L588.1 718.4 L590.7 715.9 L593.3 713.4 L596.0 710.8 L598.6 708.3 L601.2 706.0 L603.8 703.7 L606.4 701.7 L609.0 699.7 L611.6 697.9 L614.2 696.2 L616.8 694.6 L619.4 693.2 L622.0 691.9 L624.7 690.7 L627.3 689.7 L629.9 688.8 L632.5 688.0 L635.1 687.3 L637.7 686.8 L640.3 686.3 L642.9 685.8 L645.5 685.5 L648.1 685.1 L650.8 684.8 L653.4 684.5 L656.0 684.2 L658.6 683.8 L661.2 683.4 L663.8 683.0 L666.4 682.7 L669.0 682.4 L671.6 682.2 L674.2 682.1 L676.9 681.9 L679.5 681.8 L682.1 681.7 L684.7 681.6 L687.3 681.5 L689.9 681.4 L692.5 681.3 L695.1 681.2 L697.7 681.1 L700.3 681.0 L703.0 680.9 L705.6 680.8 L708.2 680.6 L710.8 680.4 L713.4 680.2 L716.0 679.9 L718.6 679.6 L721.2 679.2 L723.8 678.7 L726.5 678.1 L729.1 677.5 L731.7 676.8 L734.3 676.1 L736.9 675.3 L739.5 674.4 L742.1 673.5 L744.7 672.5 L747.3 671.3 L749.9 670.0 L752.5 668.6 L755.2 667.0 L757.8 665.3 L760.4 663.3 L763.0 661.2 L765.6 658.9 L768.2 656.3 L770.8 653.6 L773.4 650.6 L776.0 647.3 L778.6 643.7 L781.3 639.7 L783.9 635.4 L786.5 630.8 L789.1 625.8 L791.7 620.7 L794.3 615.4 L796.9 610.1 L799.5 604.9 L802.1 599.7 L804.8 594.7 L807.4 589.7 L810.0 584.8 L812.6 580.0 L815.2 575.3 L817.8 570.7 L820.4 566.0 L823.0 561.4 L825.6 556.8 L828.2 552.2 L830.8 547.6 L833.5 542.9 L836.1 538.2 L838.7 533.6 L841.3 529.0 L843.9 524.5 L846.5 520.1 L849.1 515.9 L851.7 511.9 L854.3 508.2 L857.0 504.7 L859.6 501.7 L862.2 499.0 L864.8 496.8 L867.4 495.0 L870.0 493.6 L872.6 492.7 L875.2 492.1 L877.8 491.9 L880.4 492.1 L883.0 492.5 L885.7 493.3 L888.3 494.3 L890.9 495.5 L893.5 497.0 L896.1 498.7 L898.7 500.5 L901.3 502.5 L903.9 504.5 L906.5 506.6 L909.1 508.7 L911.8 510.7 L914.4 512.8 L917.0 514.9 L919.6 517.0 L922.2 519.2 L924.8 521.5 L927.4 524.0 L930.0 526.6 L932.6 529.5 L935.2 532.5 L937.9 535.9 L940.5 539.5 L943.1 543.5 L945.7 547.8 L948.3 552.6 L950.9 557.9 L953.5 563.6 L956.1 569.8 L958.7 576.4 L961.3 583.4 L964.0 590.9 L966.6 598.8 L969.2 607.0 L971.8 615.6 L974.4 624.4 L977.0 633.4 L979.6 642.7 L982.2 652.1 L984.8 661.7 L987.5 671.3 L990.1 680.9 L992.7 690.4 L995.3 699.8 L997.9 709.1 L1000.5 718.2 L1003.1 727.1 L1005.7 735.9 L1008.3 744.4 L1010.9 752.7 L1013.5 760.7 L1016.2 768.4 L1018.8 775.7 L1021.4 782.8 L1024.0 789.5 L1026.6 795.9 L1029.2 802.0 L1031.8 807.7 L1034.4 813.0 L1037.0 818.0 L1039.6 822.6 L1042.3 826.9 L1044.9 830.8 L1047.5 834.3 L1050.1 837.5 L1052.7 840.3 L1055.3 842.8 L1057.9 845.1 L1060.5 847.0 L1063.1 848.7 L1065.8 850.2 L1068.4 851.5 L1071.0 852.6 L1073.6 853.6 L1076.2 854.5 L1078.8 855.3 L1081.4 856.0 L1084.0 856.7 L1086.6 857.2 L1089.2 857.8 L1091.8 858.2 L1094.5 858.7 L1097.1 859.1 L1099.7 859.4 L1102.3 859.7 L1104.9 860.0 L1107.5 860.2 L1110.1 860.4 L1112.7 860.6 L1115.3 860.8 L1118.0 861.0 L1120.6 861.2 L1123.2 861.4 L1125.8 861.5 L1128.4 861.7 L1131.0 861.8 L1133.6 862.0 L1136.2 862.1 L1138.8 862.2 L1141.4 862.3 L1144.0 862.4 L1146.7 862.5 L1149.3 862.6 L1151.9 862.7 L1154.5 862.8 L1157.1 862.8 L1159.7 862.9 L1162.3 863.0 L1164.9 863.0 L1167.5 863.1 L1170.1 863.1 L1172.8 863.2 L1175.4 863.3 L1178.0 863.3 L1180.6 863.4 L1183.2 863.5 L1185.8 863.5 L1188.4 863.6 L1191.0 863.7 L1193.6 863.7 L1196.2 863.8 L1198.9 863.9 L1201.5 863.9 L1204.1 864.0 L1206.7 864.1 L1209.3 864.2 L1211.9 864.2 L1214.5 864.3 L1217.1 864.4 L1219.7 864.5 L1222.3 864.5 L1225.0 864.6 L1227.6 864.7 L1230.2 864.8 L1232.8 864.8 L1235.4 864.9 L1238.0 865.0 L1240.6 865.1 L1243.2 865.2 L1245.8 865.3 L1248.5 865.3 L1251.1 865.4 L1253.7 865.5 L1256.3 865.6 L1258.9 865.7 L1261.5 865.8 L1264.1 865.9 L1266.7 865.9 L1269.3 866.0 L1271.9 866.1 L1274.5 866.2 L1277.2 866.3 L1279.8 866.4 L1282.4 866.5 L1285.0 866.6 L1287.6 866.7 L1290.2 866.8 L1292.8 866.9 L1295.4 867.0 L1298.0 867.1 L1300.7 867.2 L1303.3 867.3 L1305.9 867.4 L1308.5 867.5 L1311.1 867.6 L1313.7 867.6" fill="none" stroke="#800080" stroke-width="9" stroke-linecap="round" stroke-linejoin="round" stroke-dasharray="9 28" stroke-dashoffset="0"/>
<path d="M269.7 579.5 L272.3 581.0 L274.9 582.9 L277.5 584.7 L280.1 586.5 L282.8 588.2 L285.4 589.9 L288.0 591.5 L290.6 593.0 L293.2 594.3 L295.8 595.6 L298.4 596.9 L301.0 598.5 L303.6 600.7 L306.2 603.9 L308.8 608.1 L311.5 613.7 L314.1 620.6 L316.7 628.2 L319.3 636.0 L321.9 643.0 L324.5 648.6 L327.1 653.1 L329.7 657.8 L332.3 663.9 L334.9 671.7 L337.6 680.3 L340.2 688.4 L342.8 695.6 L345.4 701.8 L348.0 706.9 L350.6 711.0 L353.2 714.2 L355.8 716.7 L358.4 718.4 L361.0 719.7 L363.7 720.5 L366.3 720.9 L368.9 720.6 L371.5 719.6 L374.1 718.0 L376.7 716.1 L379.3 714.0 L381.9 711.9 L384.5 709.9 L387.1 708.1 L389.8 706.5 L392.4 705.1 L395.0 703.9 L397.6 703.0 L400.2 702.4 L402.8 702.0 L405.4 701.7 L408.0 701.7 L410.6 701.8 L413.2 701.9 L415.9 702.1 L418.5 702.3 L421.1 702.6 L423.7 702.9 L426.3 703.2 L428.9 703.4 L431.5 703.9 L434.1 704.6 L436.7 705.7 L439.4 707.5 L442.0 709.9 L444.6 713.1 L447.2 717.1 L449.8 721.6 L452.4 726.5 L455.0 731.6 L457.6 736.6 L460.2 741.4 L462.8 745.7 L465.4 749.6 L468.1 753.0 L470.7 756.0 L473.3 758.7 L475.9 761.1 L478.5 763.3 L481.1 765.4 L483.7 767.2 L486.3 768.9 L488.9 770.4 L491.5 771.9 L494.2 773.2 L496.8 774.5 L499.4 775.8 L502.0 776.9 L504.6 778.1 L507.2 779.1 L509.8 780.1 L512.4 780.9 L515.0 781.6 L517.6 782.2 L520.3 782.7 L522.9 783.1 L525.5 783.4 L528.1 783.4 L530.7 783.3 L533.3 782.9 L535.9 782.4 L538.5 781.8 L541.1 781.0 L543.8 780.2 L546.4 779.3 L549.0 778.3 L551.6 777.2 L554.2 776.0 L556.8 774.8 L559.4 773.5 L562.0 772.2 L564.6 770.8 L567.2 769.4 L569.8 767.9 L572.5 766.4 L575.1 764.9 L577.7 763.3 L580.3 761.6 L582.9 759.8 L585.5 758.0 L588.1 756.1 L590.7 754.2 L593.3 752.2 L596.0 750.3 L598.6 748.4 L601.2 746.6 L603.8 744.9 L606.4 743.3 L609.0 741.8 L611.6 740.5 L614.2 739.2 L616.8 738.0 L619.4 736.9 L622.0 736.0 L624.7 735.1 L627.3 734.3 L629.9 733.6 L632.5 733.0 L635.1 732.5 L637.7 732.1 L640.3 731.7 L642.9 731.4 L645.5 731.1 L648.1 730.8 L650.8 730.5 L653.4 730.2 L656.0 729.9 L658.6 729.6 L661.2 729.2 L663.8 728.8 L666.4 728.5 L669.0 728.2 L671.6 727.9 L674.2 727.6 L676.9 727.4 L679.5 727.1 L682.1 726.9 L684.7 726.7 L687.3 726.5 L689.9 726.3 L692.5 726.0 L695.1 725.8 L697.7 725.6 L700.3 725.4 L703.0 725.2 L705.6 725.0 L708.2 724.8 L710.8 724.6 L713.4 724.4 L716.0 724.1 L718.6 723.9 L721.2 723.6 L723.8 723.2 L726.5 722.9 L729.1 722.5 L731.7 722.0 L734.3 721.6 L736.9 721.1 L739.5 720.5 L742.1 719.9 L744.7 719.2 L747.3 718.4 L749.9 717.5 L752.5 716.5 L755.2 715.4 L757.8 714.1 L760.4 712.7 L763.0 711.2 L765.6 709.5 L768.2 707.7 L770.8 705.6 L773.4 703.4 L776.0 701.0 L778.6 698.3 L781.3 695.4 L783.9 692.2 L786.5 688.8 L789.1 685.1 L791.7 681.3 L794.3 677.3 L796.9 673.4 L799.5 669.5 L802.1 665.6 L804.8 661.9 L807.4 658.1 L810.0 654.5 L812.6 650.9 L815.2 647.4 L817.8 643.9 L820.4 640.5 L823.0 637.0 L825.6 633.5 L828.2 630.1 L830.8 626.5 L833.5 623.0 L836.1 619.4 L838.7 615.8 L841.3 612.2 L843.9 608.6 L846.5 605.1 L849.1 601.8 L851.7 598.5 L854.3 595.4 L857.0 592.6 L859.6 590.0 L862.2 587.8 L864.8 585.8 L867.4 584.2 L870.0 582.9 L872.6 581.9 L875.2 581.2 L877.8 580.9 L880.4 580.8 L883.0 580.9 L885.7 581.2 L888.3 581.8 L890.9 582.5 L893.5 583.4 L896.1 584.5 L898.7 585.8 L901.3 587.1 L903.9 588.5 L906.5 589.9 L909.1 591.4 L911.8 592.9 L914.4 594.4 L917.0 595.9 L919.6 597.5 L922.2 599.2 L924.8 601.1 L927.4 603.2 L930.0 605.5 L932.6 608.0 L935.2 610.7 L937.9 613.7 L940.5 616.9 L943.1 620.3 L945.7 624.0 L948.3 627.9 L950.9 632.2 L953.5 636.7 L956.1 641.5 L958.7 646.7 L961.3 652.2 L964.0 658.1 L966.6 664.2 L969.2 670.6 L971.8 677.3 L974.4 684.1 L977.0 691.1 L979.6 698.3 L982.2 705.5 L984.8 712.9 L987.5 720.2 L990.1 727.6 L992.7 734.9 L995.3 742.0 L997.9 749.1 L1000.5 756.0 L1003.1 762.8 L1005.7 769.4 L1008.3 775.9 L1010.9 782.2 L1013.5 788.2 L1016.2 794.0 L1018.8 799.6 L1021.4 805.0 L1024.0 810.1 L1026.6 814.9 L1029.2 819.5 L1031.8 823.7 L1034.4 827.7 L1037.0 831.5 L1039.6 834.9 L1042.3 838.0 L1044.9 840.9 L1047.5 843.5 L1050.1 845.9 L1052.7 848.0 L1055.3 849.9 L1057.9 851.6 L1060.5 853.1 L1063.1 854.4 L1065.8 855.5 L1068.4 856.5 L1071.0 857.4 L1073.6 858.2 L1076.2 858.8 L1078.8 859.5 L1081.4 860.0 L1084.0 860.5 L1086.6 861.0 L1089.2 861.4 L1091.8 861.8 L1094.5 862.1 L1097.1 862.4 L1099.7 862.7 L1102.3 862.9 L1104.9 863.1 L1107.5 863.3 L1110.1 863.5 L1112.7 863.7 L1115.3 863.8 L1118.0 864.0 L1120.6 864.1 L1123.2 864.3 L1125.8 864.4 L1128.4 864.6 L1131.0 864.7 L1133.6 864.8 L1136.2 864.9 L1138.8 865.0 L1141.4 865.1 L1144.0 865.2 L1146.7 865.3 L1149.3 865.4 L1151.9 865.4 L1154.5 865.5 L1157.1 865.6 L1159.7 865.6 L1162.3 865.7 L1164.9 865.7 L1167.5 865.8 L1170.1 865.8 L1172.8 865.9 L1175.4 865.9 L1178.0 866.0 L1180.6 866.1 L1183.2 866.1 L1185.8 866.2 L1188.4 866.2 L1191.0 866.3 L1193.6 866.3 L1196.2 866.4 L1198.9 866.4 L1201.5 866.5 L1204.1 866.5 L1206.7 866.6 L1209.3 866.6 L1211.9 866.7 L1214.5 866.7 L1217.1 866.8 L1219.7 866.8 L1222.3 866.9 L1225.0 866.9 L1227.6 867.0 L1230.2 867.0 L1232.8 867.1 L1235.4 867.1 L1238.0 867.2 L1240.6 867.2 L1243.2 867.3 L1245.8 867.3 L1248.5 867.4 L1251.1 867.4 L1253.7 867.5 L1256.3 867.5 L1258.9 867.6 L1261.5 867.6 L1264.1 867.7 L1266.7 867.8 L1269.3 867.8 L1271.9 867.9 L1274.5 867.9 L1277.2 868.0 L1279.8 868.0 L1282.4 868.1 L1285.0 868.1 L1287.6 868.2 L1290.2 868.2 L1292.8 868.3 L1295.4 868.3 L1298.0 868.4 L1300.7 868.5 L1303.3 868.5 L1305.9 868.6 L1308.5 868.6 L1311.1 868.7 L1313.7 868.7" fill="none" stroke="#800000" stroke-width="6.5" stroke-linecap="round" stroke-linejoin="round" stroke-dasharray="0.1 16" stroke-dashoffset="0"/>
<path d="M269.7 587.9 L272.3 589.2 L274.9 590.9 L277.5 592.5 L280.1 594.0 L282.8 595.5 L285.4 596.9 L288.0 598.4 L290.6 599.7 L293.2 600.9 L295.8 602.0 L298.4 603.2 L301.0 604.8 L303.6 606.9 L306.2 609.8 L308.8 613.8 L311.5 619.2 L314.1 625.8 L316.7 633.2 L319.3 640.8 L321.9 647.7 L324.5 653.1 L327.1 657.4 L329.7 661.9 L332.3 667.8 L334.9 675.4 L337.6 683.8 L340.2 691.7 L342.8 698.6 L345.4 704.5 L348.0 709.3 L350.6 713.2 L353.2 716.2 L355.8 718.4 L358.4 720.0 L361.0 721.2 L363.7 722.0 L366.3 722.4 L368.9 722.2 L371.5 721.2 L374.1 719.5 L376.7 717.5 L379.3 715.4 L381.9 713.2 L384.5 711.2 L387.1 709.3 L389.8 707.5 L392.4 706.0 L395.0 704.8 L397.6 703.8 L400.2 703.0 L402.8 702.5 L405.4 702.2 L408.0 702.0 L410.6 702.0 L413.2 702.1 L415.9 702.2 L418.5 702.4 L421.1 702.6 L423.7 702.9 L426.3 703.2 L428.9 703.6 L431.5 704.2 L434.1 705.1 L436.7 706.4 L439.4 708.4 L442.0 711.1 L444.6 714.6 L447.2 718.8 L449.8 723.5 L452.4 728.6 L455.0 733.9 L457.6 739.0 L460.2 743.9 L462.8 748.3 L465.4 752.2 L468.1 755.7 L470.7 758.7 L473.3 761.4 L475.9 763.8 L478.5 766.0 L481.1 767.9 L483.7 769.7 L486.3 771.3 L488.9 772.7 L491.5 774.0 L494.2 775.2 L496.8 776.4 L499.4 777.5 L502.0 778.6 L504.6 779.6 L507.2 780.6 L509.8 781.4 L512.4 782.2 L515.0 782.8 L517.6 783.4 L520.3 783.8 L522.9 784.2 L525.5 784.4 L528.1 784.5 L530.7 784.3 L533.3 784.0 L535.9 783.5 L538.5 782.9 L541.1 782.1 L543.8 781.3 L546.4 780.4 L549.0 779.4 L551.6 778.4 L554.2 777.2 L556.8 776.0 L559.4 774.7 L562.0 773.4 L564.6 772.1 L567.2 770.7 L569.8 769.3 L572.5 767.8 L575.1 766.3 L577.7 764.7 L580.3 763.0 L582.9 761.3 L585.5 759.5 L588.1 757.6 L590.7 755.7 L593.3 753.8 L596.0 751.9 L598.6 750.0 L601.2 748.2 L603.8 746.5 L606.4 744.9 L609.0 743.4 L611.6 742.1 L614.2 740.8 L616.8 739.6 L619.4 738.5 L622.0 737.5 L624.7 736.6 L627.3 735.7 L629.9 735.0 L632.5 734.4 L635.1 733.9 L637.7 733.4 L640.3 733.0 L642.9 732.6 L645.5 732.3 L648.1 732.0 L650.8 731.7 L653.4 731.3 L656.0 731.0 L658.6 730.7 L661.2 730.3 L663.8 729.9 L666.4 729.5 L669.0 729.2 L671.6 728.9 L674.2 728.7 L676.9 728.5 L679.5 728.2 L682.1 728.0 L684.7 727.8 L687.3 727.6 L689.9 727.4 L692.5 727.2 L695.1 727.0 L697.7 726.8 L700.3 726.6 L703.0 726.4 L705.6 726.2 L708.2 726.0 L710.8 725.8 L713.4 725.6 L716.0 725.3 L718.6 725.0 L721.2 724.7 L723.8 724.3 L726.5 723.9 L729.1 723.5 L731.7 723.0 L734.3 722.5 L736.9 721.9 L739.5 721.3 L742.1 720.6 L744.7 719.9 L747.3 719.0 L749.9 718.1 L752.5 717.0 L755.2 715.8 L757.8 714.5 L760.4 713.1 L763.0 711.5 L765.6 709.8 L768.2 707.9 L770.8 705.8 L773.4 703.6 L776.0 701.1 L778.6 698.4 L781.3 695.5 L783.9 692.3 L786.5 688.8 L789.1 685.1 L791.7 681.3 L794.3 677.3 L796.9 673.4 L799.5 669.6 L802.1 665.8 L804.8 662.1 L807.4 658.5 L810.0 654.9 L812.6 651.4 L815.2 648.0 L817.8 644.6 L820.4 641.3 L823.0 637.9 L825.6 634.5 L828.2 631.1 L830.8 627.6 L833.5 624.0 L836.1 620.4 L838.7 616.8 L841.3 613.3 L843.9 609.7 L846.5 606.2 L849.1 602.9 L851.7 599.6 L854.3 596.5 L857.0 593.7 L859.6 591.1 L862.2 588.8 L864.8 586.9 L867.4 585.2 L870.0 583.9 L872.6 583.0 L875.2 582.3 L877.8 581.9 L880.4 581.8 L883.0 581.9 L885.7 582.3 L888.3 582.8 L890.9 583.6 L893.5 584.5 L896.1 585.6 L898.7 586.8 L901.3 588.2 L903.9 589.6 L906.5 591.0 L909.1 592.5 L911.8 594.0 L914.4 595.5 L917.0 597.0 L919.6 598.6 L922.2 600.3 L924.8 602.2 L927.4 604.2 L930.0 606.5 L932.6 609.1 L935.2 611.8 L937.9 614.8 L940.5 618.0 L943.1 621.4 L945.7 625.1 L948.3 629.0 L950.9 633.2 L953.5 637.8 L956.1 642.6 L958.7 647.8 L961.3 653.3 L964.0 659.2 L966.6 665.4 L969.2 671.8 L971.8 678.5 L974.4 685.4 L977.0 692.5 L979.6 699.7 L982.2 707.0 L984.8 714.4 L987.5 721.8 L990.1 729.2 L992.7 736.6 L995.3 743.8 L997.9 750.9 L1000.5 757.9 L1003.1 764.8 L1005.7 771.4 L1008.3 777.9 L1010.9 784.2 L1013.5 790.2 L1016.2 796.0 L1018.8 801.5 L1021.4 806.8 L1024.0 811.8 L1026.6 816.5 L1029.2 820.9 L1031.8 825.0 L1034.4 828.9 L1037.0 832.4 L1039.6 835.7 L1042.3 838.7 L1044.9 841.5 L1047.5 844.0 L1050.1 846.3 L1052.7 848.3 L1055.3 850.1 L1057.9 851.7 L1060.5 853.1 L1063.1 854.4 L1065.8 855.5 L1068.4 856.5 L1071.0 857.3 L1073.6 858.1 L1076.2 858.8 L1078.8 859.4 L1081.4 859.9 L1084.0 860.4 L1086.6 860.9 L1089.2 861.3 L1091.8 861.7 L1094.5 862.0 L1097.1 862.3 L1099.7 862.6 L1102.3 862.8 L1104.9 863.0 L1107.5 863.2 L1110.1 863.4 L1112.7 863.6 L1115.3 863.8 L1118.0 863.9 L1120.6 864.1 L1123.2 864.2 L1125.8 864.4 L1128.4 864.5 L1131.0 864.6 L1133.6 864.7 L1136.2 864.9 L1138.8 865.0 L1141.4 865.1 L1144.0 865.2 L1146.7 865.2 L1149.3 865.3 L1151.9 865.4 L1154.5 865.5 L1157.1 865.5 L1159.7 865.6 L1162.3 865.7 L1164.9 865.7 L1167.5 865.8 L1170.1 865.8 L1172.8 865.9 L1175.4 865.9 L1178.0 866.0 L1180.6 866.1 L1183.2 866.1 L1185.8 866.2 L1188.4 866.2 L1191.0 866.3 L1193.6 866.3 L1196.2 866.4 L1198.9 866.4 L1201.5 866.5 L1204.1 866.5 L1206.7 866.6 L1209.3 866.6 L1211.9 866.7 L1214.5 866.7 L1217.1 866.8 L1219.7 866.8 L1222.3 866.9 L1225.0 866.9 L1227.6 867.0 L1230.2 867.0 L1232.8 867.1 L1235.4 867.1 L1238.0 867.2 L1240.6 867.2 L1243.2 867.3 L1245.8 867.3 L1248.5 867.4 L1251.1 867.4 L1253.7 867.5 L1256.3 867.5 L1258.9 867.6 L1261.5 867.6 L1264.1 867.7 L1266.7 867.8 L1269.3 867.8 L1271.9 867.9 L1274.5 867.9 L1277.2 868.0 L1279.8 868.0 L1282.4 868.1 L1285.0 868.1 L1287.6 868.2 L1290.2 868.2 L1292.8 868.3 L1295.4 868.3 L1298.0 868.4 L1300.7 868.5 L1303.3 868.5 L1305.9 868.6 L1308.5 868.6 L1311.1 868.7 L1313.7 868.7" fill="none" stroke="#008000" stroke-width="9" stroke-linecap="round" stroke-linejoin="round" stroke-dasharray="18 22 0.1 22" stroke-dashoffset="0"/>
<path d="M269.7 630.8 L272.3 630.8 L274.9 630.8 L277.5 630.8 L280.1 630.8 L282.8 631.1 L285.4 631.6 L288.0 632.4 L290.6 633.5 L293.2 634.9 L295.8 636.4 L298.4 638.2 L301.0 640.1 L303.6 642.2 L306.2 644.3 L308.8 646.6 L311.5 649.2 L314.1 652.5 L316.7 656.4 L319.3 660.8 L321.9 665.7 L324.5 670.7 L327.1 675.6 L329.7 680.4 L332.3 685.0 L334.9 689.5 L337.6 694.1 L340.2 698.7 L342.8 703.3 L345.4 707.4 L348.0 711.0 L350.6 713.8 L353.2 715.7 L355.8 717.1 L358.4 718.1 L361.0 718.9 L363.7 719.4 L366.3 719.6 L368.9 719.6 L371.5 719.4 L374.1 719.1 L376.7 718.7 L379.3 718.3 L381.9 717.8 L384.5 717.3 L387.1 716.8 L389.8 716.3 L392.4 715.9 L395.0 715.4 L397.6 714.8 L400.2 714.2 L402.8 713.6 L405.4 713.0 L408.0 712.4 L410.6 711.9 L413.2 711.5 L415.9 711.2 L418.5 711.0 L421.1 711.0 L423.7 711.4 L426.3 712.2 L428.9 713.5 L431.5 715.1 L434.1 716.9 L436.7 718.9 L439.4 721.4 L442.0 724.4 L444.6 727.9 L447.2 731.7 L449.8 735.5 L452.4 739.0 L455.0 742.2 L457.6 745.2 L460.2 748.2 L462.8 751.1 L465.4 753.9 L468.1 756.5 L470.7 758.8 L473.3 760.7 L475.9 762.2 L478.5 763.3 L481.1 764.0 L483.7 764.6 L486.3 765.1 L488.9 765.5 L491.5 765.9 L494.2 766.3 L496.8 766.5 L499.4 766.8 L502.0 767.0 L504.6 767.1 L507.2 767.2 L509.8 767.3 L512.4 767.4 L515.0 767.5 L517.6 767.5 L520.3 767.6 L522.9 767.6 L525.5 767.6 L528.1 767.6 L530.7 767.4 L533.3 767.3 L535.9 767.0 L538.5 766.7 L541.1 766.4 L543.8 766.1 L546.4 765.7 L549.0 765.4 L551.6 765.0 L554.2 764.6 L556.8 764.3 L559.4 763.8 L562.0 763.4 L564.6 762.9 L567.2 762.4 L569.8 761.9 L572.5 761.4 L575.1 760.8 L577.7 760.2 L580.3 759.6 L582.9 759.0 L585.5 758.2 L588.1 757.4 L590.7 756.4 L593.3 755.4 L596.0 754.4 L598.6 753.4 L601.2 752.4 L603.8 751.5 L606.4 750.7 L609.0 750.1 L611.6 749.6 L614.2 749.3 L616.8 749.1 L619.4 748.9 L622.0 748.8 L624.7 748.7 L627.3 748.5 L629.9 748.4 L632.5 748.4 L635.1 748.3 L637.7 748.2 L640.3 748.1 L642.9 748.0 L645.5 748.0 L648.1 747.9 L650.8 747.9 L653.4 747.8 L656.0 747.8 L658.6 747.7 L661.2 747.6 L663.8 747.6 L666.4 747.5 L669.0 747.5 L671.6 747.5 L674.2 747.4 L676.9 747.4 L679.5 747.3 L682.1 747.3 L684.7 747.3 L687.3 747.3 L689.9 747.2 L692.5 747.2 L695.1 747.2 L697.7 747.2 L700.3 747.1 L703.0 747.1 L705.6 747.1 L708.2 747.0 L710.8 747.0 L713.4 746.9 L716.0 746.9 L718.6 746.8 L721.2 746.7 L723.8 746.7 L726.5 746.6 L729.1 746.4 L731.7 746.2 L734.3 745.9 L736.9 745.5 L739.5 745.1 L742.1 744.5 L744.7 744.0 L747.3 743.4 L749.9 742.7 L752.5 742.0 L755.2 741.3 L757.8 740.5 L760.4 739.7 L763.0 738.8 L765.6 737.7 L768.2 736.5 L770.8 735.2 L773.4 733.7 L776.0 732.1 L778.6 730.5 L781.3 728.8 L783.9 727.0 L786.5 725.3 L789.1 723.6 L791.7 721.8 L794.3 720.1 L796.9 718.3 L799.5 716.4 L802.1 714.5 L804.8 712.5 L807.4 710.4 L810.0 708.4 L812.6 706.3 L815.2 704.3 L817.8 702.2 L820.4 700.2 L823.0 698.2 L825.6 696.2 L828.2 694.3 L830.8 692.3 L833.5 690.4 L836.1 688.5 L838.7 686.5 L841.3 684.5 L843.9 682.6 L846.5 680.8 L849.1 679.0 L851.7 677.5 L854.3 676.2 L857.0 675.1 L859.6 674.1 L862.2 673.1 L864.8 672.3 L867.4 671.5 L870.0 670.8 L872.6 670.3 L875.2 669.9 L877.8 669.8 L880.4 669.9 L883.0 670.0 L885.7 670.3 L888.3 670.7 L890.9 671.2 L893.5 671.7 L896.1 672.2 L898.7 672.8 L901.3 673.4 L903.9 674.1 L906.5 674.9 L909.1 675.8 L911.8 676.7 L914.4 677.8 L917.0 678.9 L919.6 680.1 L922.2 681.3 L924.8 682.6 L927.4 683.9 L930.0 685.2 L932.6 686.7 L935.2 688.2 L937.9 689.8 L940.5 691.5 L943.1 693.3 L945.7 695.3 L948.3 697.3 L950.9 699.6 L953.5 702.0 L956.1 704.8 L958.7 708.1 L961.3 711.7 L964.0 715.6 L966.6 719.8 L969.2 724.1 L971.8 728.6 L974.4 733.3 L977.0 738.3 L979.6 743.5 L982.2 748.8 L984.8 754.0 L987.5 759.2 L990.1 764.5 L992.7 769.8 L995.3 775.2 L997.9 780.4 L1000.5 785.6 L1003.1 790.4 L1005.7 794.9 L1008.3 799.0 L1010.9 803.0 L1013.5 806.7 L1016.2 810.3 L1018.8 813.8 L1021.4 817.1 L1024.0 820.3 L1026.6 823.4 L1029.2 826.5 L1031.8 829.5 L1034.4 832.3 L1037.0 835.1 L1039.6 837.7 L1042.3 840.1 L1044.9 842.4 L1047.5 844.5 L1050.1 846.5 L1052.7 848.5 L1055.3 850.3 L1057.9 852.0 L1060.5 853.4 L1063.1 854.6 L1065.8 855.5 L1068.4 856.1 L1071.0 856.7 L1073.6 857.2 L1076.2 857.7 L1078.8 858.1 L1081.4 858.5 L1084.0 858.9 L1086.6 859.2 L1089.2 859.5 L1091.8 859.8 L1094.5 860.1 L1097.1 860.3 L1099.7 860.5 L1102.3 860.7 L1104.9 860.8 L1107.5 861.0 L1110.1 861.1 L1112.7 861.2 L1115.3 861.4 L1118.0 861.5 L1120.6 861.6 L1123.2 861.7 L1125.8 861.8 L1128.4 861.9 L1131.0 862.0 L1133.6 862.1 L1136.2 862.2 L1138.8 862.2 L1141.4 862.3 L1144.0 862.4 L1146.7 862.5 L1149.3 862.5 L1151.9 862.6 L1154.5 862.7 L1157.1 862.7 L1159.7 862.8 L1162.3 862.9 L1164.9 862.9 L1167.5 863.0 L1170.1 863.1 L1172.8 863.2 L1175.4 863.2 L1178.0 863.3 L1180.6 863.4 L1183.2 863.5 L1185.8 863.6 L1188.4 863.6 L1191.0 863.7 L1193.6 863.8 L1196.2 863.9 L1198.9 864.0 L1201.5 864.1 L1204.1 864.2 L1206.7 864.2 L1209.3 864.3 L1211.9 864.4 L1214.5 864.5 L1217.1 864.6 L1219.7 864.7 L1222.3 864.8 L1225.0 864.8 L1227.6 864.9 L1230.2 865.0 L1232.8 865.1 L1235.4 865.2 L1238.0 865.3 L1240.6 865.3 L1243.2 865.4 L1245.8 865.5 L1248.5 865.6 L1251.1 865.7 L1253.7 865.8 L1256.3 865.9 L1258.9 865.9 L1261.5 866.0 L1264.1 866.1 L1266.7 866.2 L1269.3 866.3 L1271.9 866.4 L1274.5 866.4 L1277.2 866.5 L1279.8 866.6 L1282.4 866.7 L1285.0 866.8 L1287.6 866.9 L1290.2 866.9 L1292.8 867.0 L1295.4 867.1 L1298.0 867.2 L1300.7 867.3 L1303.3 867.4 L1305.9 867.4 L1308.5 867.5 L1311.1 867.6 L1313.7 867.6" fill="none" stroke="#ff8000" stroke-width="6" stroke-linecap="round" stroke-linejoin="round" stroke-dasharray="28 38" stroke-dashoffset="40"/>
<path d="M269.7 687.1 L272.3 687.9 L274.9 689.1 L277.5 690.3 L280.1 691.6 L282.8 692.9 L285.4 694.2 L288.0 695.5 L290.6 696.8 L293.2 698.1 L295.8 699.4 L298.4 700.7 L301.0 701.9 L303.6 703.2 L306.2 704.7 L308.8 706.4 L311.5 708.4 L314.1 710.8 L316.7 713.5 L319.3 716.6 L321.9 719.6 L324.5 722.6 L327.1 725.4 L329.7 728.1 L332.3 730.7 L334.9 733.2 L337.6 735.6 L340.2 737.9 L342.8 739.8 L345.4 741.5 L348.0 743.1 L350.6 744.5 L353.2 745.7 L355.8 746.7 L358.4 747.6 L361.0 748.2 L363.7 748.8 L366.3 749.3 L368.9 749.8 L371.5 750.2 L374.1 750.5 L376.7 750.7 L379.3 750.9 L381.9 751.0 L384.5 751.1 L387.1 751.2 L389.8 751.3 L392.4 751.4 L395.0 751.4 L397.6 751.5 L400.2 751.6 L402.8 751.6 L405.4 751.7 L408.0 751.8 L410.6 751.9 L413.2 751.9 L415.9 752.0 L418.5 752.1 L421.1 752.3 L423.7 752.5 L426.3 753.0 L428.9 753.9 L431.5 755.1 L434.1 756.6 L436.7 758.2 L439.4 760.0 L442.0 761.7 L444.6 763.4 L447.2 765.2 L449.8 767.0 L452.4 768.9 L455.0 770.8 L457.6 772.7 L460.2 774.6 L462.8 776.4 L465.4 778.2 L468.1 779.9 L470.7 781.6 L473.3 783.2 L475.9 784.7 L478.5 786.0 L481.1 787.3 L483.7 788.5 L486.3 789.7 L488.9 790.8 L491.5 791.7 L494.2 792.4 L496.8 793.0 L499.4 793.5 L502.0 794.0 L504.6 794.4 L507.2 794.8 L509.8 795.1 L512.4 795.3 L515.0 795.5 L517.6 795.5 L520.3 795.5 L522.9 795.5 L525.5 795.4 L528.1 795.3 L530.7 795.2 L533.3 795.1 L535.9 794.9 L538.5 794.8 L541.1 794.6 L543.8 794.4 L546.4 794.2 L549.0 794.0 L551.6 793.8 L554.2 793.6 L556.8 793.4 L559.4 793.2 L562.0 793.0 L564.6 792.8 L567.2 792.6 L569.8 792.4 L572.5 792.2 L575.1 792.0 L577.7 791.7 L580.3 791.5 L582.9 791.2 L585.5 791.0 L588.1 790.7 L590.7 790.4 L593.3 790.2 L596.0 789.9 L598.6 789.6 L601.2 789.3 L603.8 789.0 L606.4 788.7 L609.0 788.3 L611.6 788.0 L614.2 787.6 L616.8 787.3 L619.4 787.0 L622.0 786.7 L624.7 786.5 L627.3 786.3 L629.9 786.1 L632.5 786.0 L635.1 786.0 L637.7 785.9 L640.3 785.8 L642.9 785.8 L645.5 785.7 L648.1 785.7 L650.8 785.6 L653.4 785.6 L656.0 785.6 L658.6 785.6 L661.2 785.6 L663.8 785.6 L666.4 785.6 L669.0 785.6 L671.6 785.6 L674.2 785.6 L676.9 785.6 L679.5 785.6 L682.1 785.7 L684.7 785.7 L687.3 785.7 L689.9 785.8 L692.5 785.8 L695.1 785.8 L697.7 785.9 L700.3 785.9 L703.0 785.9 L705.6 785.9 L708.2 786.0 L710.8 786.0 L713.4 786.0 L716.0 786.0 L718.6 786.1 L721.2 786.1 L723.8 786.1 L726.5 786.1 L729.1 786.0 L731.7 786.0 L734.3 785.9 L736.9 785.8 L739.5 785.7 L742.1 785.6 L744.7 785.4 L747.3 785.2 L749.9 785.0 L752.5 784.8 L755.2 784.5 L757.8 784.3 L760.4 784.0 L763.0 783.7 L765.6 783.4 L768.2 783.0 L770.8 782.5 L773.4 781.9 L776.0 781.3 L778.6 780.6 L781.3 779.9 L783.9 779.2 L786.5 778.5 L789.1 777.7 L791.7 776.9 L794.3 776.0 L796.9 775.1 L799.5 774.2 L802.1 773.3 L804.8 772.3 L807.4 771.3 L810.0 770.2 L812.6 769.1 L815.2 767.9 L817.8 766.6 L820.4 765.2 L823.0 763.6 L825.6 762.0 L828.2 760.3 L830.8 758.6 L833.5 757.0 L836.1 755.3 L838.7 753.8 L841.3 752.5 L843.9 751.2 L846.5 750.2 L849.1 749.3 L851.7 748.4 L854.3 747.6 L857.0 746.8 L859.6 746.0 L862.2 745.3 L864.8 744.6 L867.4 744.1 L870.0 743.6 L872.6 743.3 L875.2 743.1 L877.8 743.0 L880.4 743.0 L883.0 743.2 L885.7 743.4 L888.3 743.8 L890.9 744.2 L893.5 744.7 L896.1 745.2 L898.7 745.7 L901.3 746.2 L903.9 746.8 L906.5 747.3 L909.1 747.8 L911.8 748.2 L914.4 748.7 L917.0 749.1 L919.6 749.7 L922.2 750.2 L924.8 750.9 L927.4 751.6 L930.0 752.6 L932.6 753.8 L935.2 755.3 L937.9 757.0 L940.5 758.9 L943.1 760.9 L945.7 762.9 L948.3 765.0 L950.9 767.2 L953.5 769.5 L956.1 772.0 L958.7 774.5 L961.3 777.2 L964.0 779.9 L966.6 782.8 L969.2 785.8 L971.8 788.9 L974.4 792.1 L977.0 795.4 L979.6 798.6 L982.2 801.9 L984.8 805.1 L987.5 808.3 L990.1 811.5 L992.7 814.7 L995.3 817.8 L997.9 820.7 L1000.5 823.4 L1003.1 826.0 L1005.7 828.6 L1008.3 831.0 L1010.9 833.2 L1013.5 835.2 L1016.2 837.0 L1018.8 838.6 L1021.4 840.1 L1024.0 841.4 L1026.6 842.6 L1029.2 843.8 L1031.8 845.0 L1034.4 846.2 L1037.0 847.5 L1039.6 848.7 L1042.3 849.9 L1044.9 851.0 L1047.5 852.0 L1050.1 852.9 L1052.7 853.6 L1055.3 854.3 L1057.9 854.9 L1060.5 855.5 L1063.1 856.0 L1065.8 856.5 L1068.4 857.0 L1071.0 857.4 L1073.6 857.8 L1076.2 858.2 L1078.8 858.6 L1081.4 858.9 L1084.0 859.3 L1086.6 859.5 L1089.2 859.8 L1091.8 860.1 L1094.5 860.4 L1097.1 860.6 L1099.7 860.9 L1102.3 861.2 L1104.9 861.4 L1107.5 861.6 L1110.1 861.8 L1112.7 862.1 L1115.3 862.3 L1118.0 862.5 L1120.6 862.7 L1123.2 862.9 L1125.8 863.0 L1128.4 863.2 L1131.0 863.4 L1133.6 863.6 L1136.2 863.7 L1138.8 863.9 L1141.4 864.0 L1144.0 864.1 L1146.7 864.3 L1149.3 864.4 L1151.9 864.5 L1154.5 864.6 L1157.1 864.8 L1159.7 864.9 L1162.3 865.0 L1164.9 865.1 L1167.5 865.2 L1170.1 865.3 L1172.8 865.5 L1175.4 865.6 L1178.0 865.7 L1180.6 865.8 L1183.2 865.9 L1185.8 866.0 L1188.4 866.1 L1191.0 866.2 L1193.6 866.3 L1196.2 866.5 L1198.9 866.6 L1201.5 866.7 L1204.1 866.8 L1206.7 866.9 L1209.3 867.0 L1211.9 867.1 L1214.5 867.2 L1217.1 867.3 L1219.7 867.4 L1222.3 867.5 L1225.0 867.5 L1227.6 867.6 L1230.2 867.7 L1232.8 867.8 L1235.4 867.9 L1238.0 868.0 L1240.6 868.1 L1243.2 868.1 L1245.8 868.2 L1248.5 868.3 L1251.1 868.4 L1253.7 868.4 L1256.3 868.5 L1258.9 868.6 L1261.5 868.6 L1264.1 868.7 L1266.7 868.7 L1269.3 868.8 L1271.9 868.8 L1274.5 868.9 L1277.2 868.9 L1279.8 869.0 L1282.4 869.0 L1285.0 869.1 L1287.6 869.1 L1290.2 869.1 L1292.8 869.1 L1295.4 869.2 L1298.0 869.2 L1300.7 869.2 L1303.3 869.2 L1305.9 869.2 L1308.5 869.3 L1311.1 869.3 L1313.7 869.3" fill="none" stroke="#ff0080" stroke-width="6" stroke-linecap="round" stroke-linejoin="round"/>
<path d="M269.7 695.2 L272.3 695.6 L274.9 696.2 L277.5 696.9 L280.1 697.7 L282.8 698.6 L285.4 699.6 L288.0 700.7 L290.6 701.8 L293.2 702.9 L295.8 704.2 L298.4 705.6 L301.0 707.1 L303.6 708.7 L306.2 710.5 L308.8 712.4 L311.5 714.4 L314.1 716.6 L316.7 719.1 L319.3 721.9 L321.9 724.9 L324.5 728.1 L327.1 731.2 L329.7 734.2 L332.3 737.1 L334.9 739.8 L337.6 742.6 L340.2 745.3 L342.8 747.8 L345.4 750.1 L348.0 752.1 L350.6 753.8 L353.2 755.2 L355.8 756.5 L358.4 757.6 L361.0 758.7 L363.7 759.7 L366.3 760.7 L368.9 761.6 L371.5 762.4 L374.1 763.2 L376.7 764.0 L379.3 764.7 L381.9 765.4 L384.5 766.0 L387.1 766.7 L389.8 767.3 L392.4 767.9 L395.0 768.4 L397.6 768.9 L400.2 769.3 L402.8 769.7 L405.4 770.0 L408.0 770.4 L410.6 770.7 L413.2 771.1 L415.9 771.5 L418.5 771.9 L421.1 772.4 L423.7 772.9 L426.3 773.5 L428.9 774.2 L431.5 775.1 L434.1 776.2 L436.7 777.7 L439.4 779.4 L442.0 781.2 L444.6 783.2 L447.2 785.2 L449.8 787.2 L452.4 789.3 L455.0 791.7 L457.6 794.1 L460.2 796.5 L462.8 798.8 L465.4 800.8 L468.1 802.4 L470.7 803.6 L473.3 804.7 L475.9 805.6 L478.5 806.5 L481.1 807.4 L483.7 808.2 L486.3 808.9 L488.9 809.6 L491.5 810.2 L494.2 810.8 L496.8 811.3 L499.4 811.8 L502.0 812.3 L504.6 812.7 L507.2 813.1 L509.8 813.4 L512.4 813.8 L515.0 814.1 L517.6 814.4 L520.3 814.7 L522.9 815.0 L525.5 815.3 L528.1 815.5 L530.7 815.8 L533.3 816.0 L535.9 816.2 L538.5 816.3 L541.1 816.4 L543.8 816.5 L546.4 816.6 L549.0 816.6 L551.6 816.6 L554.2 816.5 L556.8 816.4 L559.4 816.2 L562.0 816.1 L564.6 815.9 L567.2 815.6 L569.8 815.4 L572.5 815.2 L575.1 814.9 L577.7 814.6 L580.3 814.3 L582.9 814.1 L585.5 813.8 L588.1 813.5 L590.7 813.3 L593.3 813.0 L596.0 812.7 L598.6 812.3 L601.2 812.0 L603.8 811.6 L606.4 811.2 L609.0 810.9 L611.6 810.5 L614.2 810.1 L616.8 809.7 L619.4 809.4 L622.0 809.0 L624.7 808.7 L627.3 808.4 L629.9 808.1 L632.5 807.9 L635.1 807.6 L637.7 807.3 L640.3 807.0 L642.9 806.7 L645.5 806.5 L648.1 806.2 L650.8 805.9 L653.4 805.7 L656.0 805.5 L658.6 805.4 L661.2 805.2 L663.8 805.1 L666.4 805.1 L669.0 805.0 L671.6 805.0 L674.2 805.0 L676.9 805.0 L679.5 805.0 L682.1 805.0 L684.7 805.0 L687.3 805.0 L689.9 805.0 L692.5 805.0 L695.1 805.0 L697.7 805.0 L700.3 805.0 L703.0 805.0 L705.6 805.0 L708.2 805.0 L710.8 805.0 L713.4 805.0 L716.0 804.9 L718.6 804.8 L721.2 804.7 L723.8 804.6 L726.5 804.5 L729.1 804.3 L731.7 804.2 L734.3 804.0 L736.9 803.8 L739.5 803.6 L742.1 803.4 L744.7 803.1 L747.3 802.9 L749.9 802.6 L752.5 802.3 L755.2 801.9 L757.8 801.4 L760.4 800.9 L763.0 800.3 L765.6 799.7 L768.2 799.0 L770.8 798.3 L773.4 797.5 L776.0 796.7 L778.6 795.9 L781.3 795.1 L783.9 794.3 L786.5 793.4 L789.1 792.5 L791.7 791.6 L794.3 790.5 L796.9 789.3 L799.5 788.1 L802.1 786.8 L804.8 785.5 L807.4 784.1 L810.0 782.7 L812.6 781.3 L815.2 779.9 L817.8 778.5 L820.4 777.2 L823.0 775.9 L825.6 774.7 L828.2 773.5 L830.8 772.3 L833.5 771.1 L836.1 769.8 L838.7 768.5 L841.3 767.2 L843.9 766.0 L846.5 764.7 L849.1 763.6 L851.7 762.5 L854.3 761.4 L857.0 760.5 L859.6 759.7 L862.2 759.1 L864.8 758.6 L867.4 758.2 L870.0 757.9 L872.6 757.7 L875.2 757.5 L877.8 757.4 L880.4 757.3 L883.0 757.2 L885.7 757.2 L888.3 757.3 L890.9 757.6 L893.5 758.1 L896.1 758.6 L898.7 759.3 L901.3 760.0 L903.9 760.7 L906.5 761.3 L909.1 762.0 L911.8 762.6 L914.4 763.2 L917.0 763.9 L919.6 764.6 L922.2 765.3 L924.8 766.0 L927.4 766.8 L930.0 767.6 L932.6 768.5 L935.2 769.4 L937.9 770.3 L940.5 771.3 L943.1 772.3 L945.7 773.4 L948.3 774.7 L950.9 776.0 L953.5 777.5 L956.1 779.2 L958.7 781.0 L961.3 783.0 L964.0 785.0 L966.6 787.2 L969.2 789.7 L971.8 792.4 L974.4 795.3 L977.0 798.3 L979.6 801.4 L982.2 804.5 L984.8 807.5 L987.5 810.4 L990.1 813.2 L992.7 816.0 L995.3 818.8 L997.9 821.5 L1000.5 824.1 L1003.1 826.7 L1005.7 829.2 L1008.3 831.7 L1010.9 834.1 L1013.5 836.5 L1016.2 838.8 L1018.8 841.0 L1021.4 843.1 L1024.0 845.0 L1026.6 846.7 L1029.2 848.4 L1031.8 850.1 L1034.4 851.7 L1037.0 853.3 L1039.6 854.9 L1042.3 856.4 L1044.9 857.8 L1047.5 859.1 L1050.1 860.3 L1052.7 861.4 L1055.3 862.4 L1057.9 863.2 L1060.5 863.9 L1063.1 864.5 L1065.8 864.9 L1068.4 865.4 L1071.0 865.7 L1073.6 866.1 L1076.2 866.5 L1078.8 866.8 L1081.4 867.1 L1084.0 867.4 L1086.6 867.6 L1089.2 867.9 L1091.8 868.1 L1094.5 868.3 L1097.1 868.4 L1099.7 868.5 L1102.3 868.6 L1104.9 868.7 L1107.5 868.8 L1110.1 868.8 L1112.7 868.9 L1115.3 869.0 L1118.0 869.0 L1120.6 869.1 L1123.2 869.1 L1125.8 869.2 L1128.4 869.2 L1131.0 869.3 L1133.6 869.3 L1136.2 869.4 L1138.8 869.4 L1141.4 869.5 L1144.0 869.5 L1146.7 869.6 L1149.3 869.6 L1151.9 869.6 L1154.5 869.7 L1157.1 869.7 L1159.7 869.8 L1162.3 869.8 L1164.9 869.8 L1167.5 869.9 L1170.1 869.9 L1172.8 870.0 L1175.4 870.0 L1178.0 870.0 L1180.6 870.1 L1183.2 870.1 L1185.8 870.1 L1188.4 870.1 L1191.0 870.2 L1193.6 870.2 L1196.2 870.2 L1198.9 870.3 L1201.5 870.3 L1204.1 870.3 L1206.7 870.3 L1209.3 870.4 L1211.9 870.4 L1214.5 870.4 L1217.1 870.4 L1219.7 870.5 L1222.3 870.5 L1225.0 870.5 L1227.6 870.5 L1230.2 870.5 L1232.8 870.6 L1235.4 870.6 L1238.0 870.6 L1240.6 870.6 L1243.2 870.6 L1245.8 870.7 L1248.5 870.7 L1251.1 870.7 L1253.7 870.7 L1256.3 870.7 L1258.9 870.7 L1261.5 870.7 L1264.1 870.7 L1266.7 870.8 L1269.3 870.8 L1271.9 870.8 L1274.5 870.8 L1277.2 870.8 L1279.8 870.8 L1282.4 870.8 L1285.0 870.8 L1287.6 870.8 L1290.2 870.8 L1292.8 870.8 L1295.4 870.8 L1298.0 870.8 L1300.7 870.8 L1303.3 870.8 L1305.9 870.8 L1308.5 870.8 L1311.1 870.8 L1313.7 870.8" fill="none" stroke="#2060a0" stroke-width="7.5" stroke-linecap="round" stroke-linejoin="round" stroke-dasharray="1 39" stroke-dashoffset="0"/>
</g>
<clipPath id="clip_c"><rect x="269.5" y="875" width="1042.0" height="770.5"/></clipPath>
<g clip-path="url(#clip_c)">
<rect x="269.5" y="875" width="1042.0" height="770.5" fill="#fff"/>
<path d="M270.6 1207.0 L273.2 1206.7 L275.8 1206.4 L278.4 1205.9 L281.0 1205.4 L283.6 1204.9 L286.2 1204.5 L288.8 1204.3 L291.4 1204.4 L294.1 1204.8 L296.7 1205.6 L299.3 1206.5 L301.9 1207.5 L304.5 1208.7 L307.1 1210.5 L309.7 1213.2 L312.3 1217.5 L314.9 1223.6 L317.5 1231.5 L320.2 1241.1 L322.8 1251.9 L325.4 1263.5 L328.0 1275.8 L330.6 1289.3 L333.2 1303.8 L335.8 1318.9 L338.4 1334.1 L341.0 1349.0 L343.6 1362.9 L346.3 1375.2 L348.9 1385.6 L351.5 1394.1 L354.1 1400.9 L356.7 1406.0 L359.3 1409.6 L361.9 1411.8 L364.5 1412.8 L367.1 1412.7 L369.8 1411.4 L372.4 1408.9 L375.0 1405.5 L377.6 1401.4 L380.2 1396.5 L382.8 1391.0 L385.4 1384.9 L388.0 1378.7 L390.6 1372.3 L393.2 1366.0 L395.8 1359.9 L398.5 1354.1 L401.1 1348.6 L403.7 1343.7 L406.3 1339.2 L408.9 1335.3 L411.5 1332.0 L414.1 1329.2 L416.7 1326.9 L419.3 1325.1 L421.9 1323.7 L424.6 1322.8 L427.2 1322.2 L429.8 1322.1 L432.4 1322.5 L435.0 1323.6 L437.6 1325.4 L440.2 1328.2 L442.8 1332.1 L445.4 1337.3 L448.0 1344.0 L450.7 1352.2 L453.3 1361.8 L455.9 1372.7 L458.5 1384.4 L461.1 1396.6 L463.7 1408.8 L466.3 1420.5 L468.9 1431.4 L471.5 1441.4 L474.1 1450.2 L476.8 1458.0 L479.4 1464.9 L482.0 1471.0 L484.6 1476.4 L487.2 1481.2 L489.8 1485.6 L492.4 1489.7 L495.0 1493.5 L497.6 1497.1 L500.2 1500.5 L502.9 1503.7 L505.5 1506.7 L508.1 1509.6 L510.7 1512.3 L513.3 1514.9 L515.9 1517.2 L518.5 1519.3 L521.1 1521.1 L523.7 1522.6 L526.3 1523.9 L529.0 1524.9 L531.6 1525.6 L534.2 1526.0 L536.8 1526.0 L539.4 1525.7 L542.0 1525.0 L544.6 1524.0 L547.2 1522.8 L549.8 1521.3 L552.5 1519.5 L555.1 1517.6 L557.7 1515.5 L560.3 1513.2 L562.9 1510.7 L565.5 1508.0 L568.1 1505.2 L570.7 1502.2 L573.3 1499.0 L575.9 1495.7 L578.5 1492.3 L581.2 1488.7 L583.8 1485.0 L586.4 1481.0 L589.0 1477.0 L591.6 1472.7 L594.2 1468.4 L596.8 1463.9 L599.4 1459.3 L602.0 1454.6 L604.6 1450.0 L607.3 1445.3 L609.9 1440.7 L612.5 1436.0 L615.1 1431.4 L617.7 1426.8 L620.3 1422.3 L622.9 1417.8 L625.5 1413.3 L628.1 1408.8 L630.8 1404.4 L633.4 1400.1 L636.0 1395.9 L638.6 1391.9 L641.2 1387.9 L643.8 1384.0 L646.4 1380.3 L649.0 1376.8 L651.6 1373.3 L654.2 1370.0 L656.8 1366.8 L659.5 1363.7 L662.1 1360.7 L664.7 1357.9 L667.3 1355.1 L669.9 1352.5 L672.5 1350.1 L675.1 1347.7 L677.7 1345.4 L680.3 1343.2 L682.9 1341.1 L685.6 1339.1 L688.2 1337.1 L690.8 1335.2 L693.4 1333.3 L696.0 1331.4 L698.6 1329.6 L701.2 1327.8 L703.8 1326.0 L706.4 1324.3 L709.0 1322.7 L711.7 1321.1 L714.3 1319.5 L716.9 1318.0 L719.5 1316.5 L722.1 1315.0 L724.7 1313.5 L727.3 1311.9 L729.9 1310.4 L732.5 1308.8 L735.1 1307.2 L737.8 1305.5 L740.4 1303.9 L743.0 1302.1 L745.6 1300.3 L748.2 1298.4 L750.8 1296.3 L753.4 1294.1 L756.0 1291.8 L758.6 1289.2 L761.2 1286.4 L763.9 1283.3 L766.5 1280.0 L769.1 1276.3 L771.7 1272.3 L774.3 1268.0 L776.9 1263.3 L779.5 1258.2 L782.1 1252.6 L784.7 1246.6 L787.3 1239.9 L790.0 1232.7 L792.6 1224.8 L795.2 1216.3 L797.8 1207.3 L800.4 1197.8 L803.0 1188.0 L805.6 1178.1 L808.2 1168.2 L810.8 1158.3 L813.4 1148.6 L816.1 1139.0 L818.7 1129.5 L821.3 1120.2 L823.9 1111.1 L826.5 1102.0 L829.1 1093.2 L831.7 1084.5 L834.3 1075.8 L836.9 1067.3 L839.5 1059.0 L842.2 1050.7 L844.8 1042.5 L847.4 1034.5 L850.0 1026.7 L852.6 1019.1 L855.2 1011.9 L857.8 1004.9 L860.4 998.4 L863.0 992.3 L865.6 986.8 L868.3 982.0 L870.9 977.8 L873.5 974.4 L876.1 971.7 L878.7 969.7 L881.3 968.3 L883.9 967.4 L886.5 967.2 L889.1 967.5 L891.8 968.2 L894.4 969.5 L897.0 971.3 L899.6 973.5 L902.2 976.1 L904.8 979.0 L907.4 982.2 L910.0 985.6 L912.6 989.2 L915.2 992.8 L917.8 996.5 L920.5 1000.1 L923.1 1003.7 L925.7 1007.3 L928.3 1011.1 L930.9 1014.9 L933.5 1019.0 L936.1 1023.4 L938.7 1028.1 L941.3 1033.2 L943.9 1038.7 L946.6 1044.7 L949.2 1051.2 L951.8 1058.4 L954.4 1066.2 L957.0 1074.8 L959.6 1084.2 L962.2 1094.5 L964.8 1105.7 L967.4 1118.0 L970.0 1131.3 L972.7 1145.5 L975.3 1160.5 L977.9 1176.2 L980.5 1192.4 L983.1 1209.1 L985.7 1226.1 L988.3 1243.3 L990.9 1260.7 L993.5 1278.1 L996.1 1295.5 L998.8 1312.8 L1001.4 1330.0 L1004.0 1346.8 L1006.6 1363.4 L1009.2 1379.6 L1011.8 1395.5 L1014.4 1410.8 L1017.0 1425.7 L1019.6 1440.0 L1022.2 1453.7 L1024.9 1466.8 L1027.5 1479.2 L1030.1 1491.0 L1032.7 1502.1 L1035.3 1512.4 L1037.9 1522.1 L1040.5 1531.1 L1043.1 1539.3 L1045.7 1546.9 L1048.3 1553.9 L1051.0 1560.2 L1053.6 1566.0 L1056.2 1571.2 L1058.8 1575.9 L1061.4 1580.2 L1064.0 1584.0 L1066.6 1587.4 L1069.2 1590.4 L1071.8 1593.1 L1074.4 1595.4 L1077.1 1597.5 L1079.7 1599.3 L1082.3 1601.0 L1084.9 1602.4 L1087.5 1603.7 L1090.1 1604.8 L1092.7 1605.8 L1095.3 1606.7 L1097.9 1607.6 L1100.5 1608.3 L1103.2 1609.0 L1105.8 1609.6 L1108.4 1610.1 L1111.0 1610.5 L1113.6 1610.9 L1116.2 1611.2 L1118.8 1611.5 L1121.4 1611.8 L1124.0 1612.0 L1126.7 1612.3 L1129.3 1612.5 L1131.9 1612.7 L1134.5 1612.9 L1137.1 1613.1 L1139.7 1613.3 L1142.3 1613.4 L1144.9 1613.5 L1147.5 1613.7 L1150.1 1613.8 L1152.8 1613.8 L1155.4 1613.9 L1158.0 1613.9 L1160.6 1614.0 L1163.2 1614.0 L1165.8 1614.0 L1168.4 1614.0 L1171.0 1614.0 L1173.6 1614.0 L1176.2 1614.0 L1178.8 1613.9 L1181.5 1613.9 L1184.1 1613.9 L1186.7 1613.8 L1189.3 1613.8 L1191.9 1613.8 L1194.5 1613.7 L1197.1 1613.7 L1199.7 1613.6 L1202.3 1613.6 L1204.9 1613.5 L1207.6 1613.5 L1210.2 1613.4 L1212.8 1613.4 L1215.4 1613.4 L1218.0 1613.3 L1220.6 1613.3 L1223.2 1613.2 L1225.8 1613.2 L1228.4 1613.1 L1231.0 1613.1 L1233.7 1613.0 L1236.3 1613.0 L1238.9 1612.9 L1241.5 1612.9 L1244.1 1612.9 L1246.7 1612.8 L1249.3 1612.8 L1251.9 1612.7 L1254.5 1612.7 L1257.2 1612.6 L1259.8 1612.6 L1262.4 1612.5 L1265.0 1612.5 L1267.6 1612.4 L1270.2 1612.4 L1272.8 1612.3 L1275.4 1612.3 L1278.0 1612.2 L1280.6 1612.2 L1283.2 1612.1 L1285.9 1612.1 L1288.5 1612.0 L1291.1 1612.0 L1293.7 1611.9 L1296.3 1611.9 L1298.9 1611.8 L1301.5 1611.8 L1304.1 1611.7 L1306.7 1611.6 L1309.3 1611.6 L1312.0 1611.5 L1314.6 1611.5 L1317.2 1611.4 L1319.8 1611.4 L1322.4 1611.4" fill="none" stroke="#0000ff" stroke-width="9.5" stroke-linecap="round" stroke-linejoin="round"/>
<path d="M270.6 1178.6 L273.2 1180.3 L275.8 1182.7 L278.4 1185.6 L281.0 1189.0 L283.6 1192.8 L286.2 1196.7 L288.8 1200.2 L291.4 1203.1 L294.1 1205.4 L296.7 1207.5 L299.3 1209.4 L301.9 1211.4 L304.5 1213.9 L307.1 1217.3 L309.7 1222.4 L312.3 1229.5 L314.9 1237.8 L317.5 1246.5 L320.2 1254.9 L322.8 1262.8 L325.4 1270.5 L328.0 1278.5 L330.6 1287.3 L333.2 1296.8 L335.8 1306.8 L338.4 1317.0 L341.0 1327.5 L343.6 1337.5 L346.3 1346.3 L348.9 1354.0 L351.5 1361.5 L354.1 1369.6 L356.7 1378.4 L359.3 1387.5 L361.9 1396.1 L364.5 1403.4 L367.1 1408.6 L369.8 1411.7 L372.4 1413.2 L375.0 1413.7 L377.6 1413.7 L380.2 1413.3 L382.8 1412.6 L385.4 1411.8 L388.0 1410.9 L390.6 1410.0 L393.2 1409.1 L395.8 1408.1 L398.5 1407.0 L401.1 1405.6 L403.7 1404.0 L406.3 1402.0 L408.9 1400.0 L411.5 1398.3 L414.1 1396.8 L416.7 1395.7 L419.3 1394.9 L421.9 1394.4 L424.6 1394.1 L427.2 1394.0 L429.8 1394.1 L432.4 1394.3 L435.0 1394.5 L437.6 1394.7 L440.2 1395.2 L442.8 1396.1 L445.4 1398.0 L448.0 1401.1 L450.7 1405.4 L453.3 1410.8 L455.9 1417.2 L458.5 1424.6 L461.1 1432.7 L463.7 1441.2 L466.3 1449.7 L468.9 1457.9 L471.5 1465.4 L474.1 1472.0 L476.8 1477.8 L479.4 1482.7 L482.0 1486.8 L484.6 1490.3 L487.2 1493.2 L489.8 1495.8 L492.4 1498.1 L495.0 1500.2 L497.6 1502.2 L500.2 1504.1 L502.9 1506.0 L505.5 1508.0 L508.1 1510.0 L510.7 1512.0 L513.3 1514.0 L515.9 1515.8 L518.5 1517.6 L521.1 1519.1 L523.7 1520.4 L526.3 1521.4 L529.0 1522.0 L531.6 1522.2 L534.2 1521.8 L536.8 1520.4 L539.4 1518.0 L542.0 1514.6 L544.6 1510.6 L547.2 1506.2 L549.8 1502.0 L552.5 1498.3 L555.1 1495.2 L557.7 1492.7 L560.3 1490.3 L562.9 1488.0 L565.5 1485.8 L568.1 1483.6 L570.7 1481.4 L573.3 1479.2 L575.9 1477.1 L578.5 1474.9 L581.2 1472.7 L583.8 1470.4 L586.4 1467.9 L589.0 1465.3 L591.6 1462.5 L594.2 1459.6 L596.8 1456.6 L599.4 1453.6 L602.0 1450.8 L604.6 1448.0 L607.3 1445.4 L609.9 1442.8 L612.5 1440.4 L615.1 1438.1 L617.7 1435.9 L620.3 1433.8 L622.9 1431.8 L625.5 1429.8 L628.1 1427.9 L630.8 1426.1 L633.4 1424.3 L636.0 1422.7 L638.6 1421.2 L641.2 1419.8 L643.8 1418.6 L646.4 1417.6 L649.0 1416.6 L651.6 1415.8 L654.2 1415.1 L656.8 1414.5 L659.5 1414.0 L662.1 1413.6 L664.7 1413.2 L667.3 1412.9 L669.9 1412.6 L672.5 1412.4 L675.1 1412.2 L677.7 1412.1 L680.3 1412.1 L682.9 1412.1 L685.6 1412.2 L688.2 1412.3 L690.8 1412.4 L693.4 1412.5 L696.0 1412.6 L698.6 1412.7 L701.2 1412.7 L703.8 1412.7 L706.4 1412.7 L709.0 1412.7 L711.7 1412.6 L714.3 1412.5 L716.9 1412.3 L719.5 1412.1 L722.1 1411.9 L724.7 1411.7 L727.3 1411.5 L729.9 1411.3 L732.5 1411.0 L735.1 1410.6 L737.8 1410.2 L740.4 1409.6 L743.0 1409.0 L745.6 1408.2 L748.2 1407.3 L750.8 1406.1 L753.4 1404.8 L756.0 1403.2 L758.6 1401.4 L761.2 1399.4 L763.9 1397.2 L766.5 1394.7 L769.1 1392.0 L771.7 1389.1 L774.3 1386.0 L776.9 1382.6 L779.5 1378.9 L782.1 1374.9 L784.7 1370.6 L787.3 1365.9 L790.0 1360.9 L792.6 1355.6 L795.2 1350.3 L797.8 1345.1 L800.4 1340.1 L803.0 1335.1 L805.6 1329.9 L808.2 1324.6 L810.8 1319.0 L813.4 1313.5 L816.1 1307.9 L818.7 1302.5 L821.3 1297.1 L823.9 1291.7 L826.5 1286.2 L829.1 1280.8 L831.7 1275.4 L834.3 1270.0 L836.9 1264.7 L839.5 1259.4 L842.2 1254.1 L844.8 1248.9 L847.4 1243.7 L850.0 1238.5 L852.6 1233.4 L855.2 1228.4 L857.8 1223.6 L860.4 1218.9 L863.0 1214.5 L865.6 1210.5 L868.3 1206.8 L870.9 1203.6 L873.5 1200.6 L876.1 1197.9 L878.7 1195.6 L881.3 1193.5 L883.9 1191.8 L886.5 1190.5 L889.1 1189.8 L891.8 1189.6 L894.4 1189.9 L897.0 1190.7 L899.6 1191.8 L902.2 1193.2 L904.8 1194.9 L907.4 1196.9 L910.0 1199.0 L912.6 1201.2 L915.2 1203.6 L917.8 1206.0 L920.5 1208.6 L923.1 1211.3 L925.7 1214.2 L928.3 1217.3 L930.9 1220.5 L933.5 1223.9 L936.1 1227.5 L938.7 1231.2 L941.3 1235.1 L943.9 1239.2 L946.6 1243.4 L949.2 1248.0 L951.8 1252.9 L954.4 1258.2 L957.0 1264.0 L959.6 1270.5 L962.2 1277.6 L964.8 1285.6 L967.4 1294.3 L970.0 1303.7 L972.7 1313.4 L975.3 1322.9 L977.9 1331.8 L980.5 1340.8 L983.1 1350.5 L985.7 1361.7 L988.3 1373.9 L990.9 1386.5 L993.5 1398.5 L996.1 1409.0 L998.8 1417.8 L1001.4 1426.1 L1004.0 1435.7 L1006.6 1447.2 L1009.2 1460.1 L1011.8 1472.7 L1014.4 1483.8 L1017.0 1492.7 L1019.6 1499.7 L1022.2 1506.0 L1024.9 1512.5 L1027.5 1519.7 L1030.1 1527.2 L1032.7 1534.8 L1035.3 1542.0 L1037.9 1548.9 L1040.5 1555.4 L1043.1 1561.4 L1045.7 1566.9 L1048.3 1572.0 L1051.0 1576.7 L1053.6 1580.9 L1056.2 1584.8 L1058.8 1588.3 L1061.4 1591.5 L1064.0 1594.5 L1066.6 1597.2 L1069.2 1599.6 L1071.8 1601.9 L1074.4 1604.0 L1077.1 1605.9 L1079.7 1607.7 L1082.3 1609.4 L1084.9 1611.0 L1087.5 1612.5 L1090.1 1613.8 L1092.7 1615.1 L1095.3 1616.3 L1097.9 1617.4 L1100.5 1618.4 L1103.2 1619.3 L1105.8 1620.1 L1108.4 1620.8 L1111.0 1621.5 L1113.6 1622.0 L1116.2 1622.5 L1118.8 1622.9 L1121.4 1623.4 L1124.0 1623.7 L1126.7 1624.1 L1129.3 1624.5 L1131.9 1624.8 L1134.5 1625.2 L1137.1 1625.5 L1139.7 1625.8 L1142.3 1626.1 L1144.9 1626.4 L1147.5 1626.6 L1150.1 1626.9 L1152.8 1627.1 L1155.4 1627.4 L1158.0 1627.6 L1160.6 1627.8 L1163.2 1628.0 L1165.8 1628.3 L1168.4 1628.5 L1171.0 1628.7 L1173.6 1628.9 L1176.2 1629.1 L1178.8 1629.3 L1181.5 1629.5 L1184.1 1629.7 L1186.7 1629.9 L1189.3 1630.1 L1191.9 1630.3 L1194.5 1630.4 L1197.1 1630.6 L1199.7 1630.8 L1202.3 1630.9 L1204.9 1631.1 L1207.6 1631.2 L1210.2 1631.3 L1212.8 1631.5 L1215.4 1631.6 L1218.0 1631.7 L1220.6 1631.8 L1223.2 1631.9 L1225.8 1632.0 L1228.4 1632.1 L1231.0 1632.2 L1233.7 1632.3 L1236.3 1632.4 L1238.9 1632.5 L1241.5 1632.6 L1244.1 1632.6 L1246.7 1632.7 L1249.3 1632.8 L1251.9 1632.9 L1254.5 1633.0 L1257.2 1633.1 L1259.8 1633.2 L1262.4 1633.3 L1265.0 1633.3 L1267.6 1633.4 L1270.2 1633.5 L1272.8 1633.6 L1275.4 1633.6 L1278.0 1633.7 L1280.6 1633.8 L1283.2 1633.8 L1285.9 1633.9 L1288.5 1633.9 L1291.1 1634.0 L1293.7 1634.0 L1296.3 1634.1 L1298.9 1634.1 L1301.5 1634.1 L1304.1 1634.2 L1306.7 1634.2 L1309.3 1634.2 L1312.0 1634.2 L1314.6 1634.2 L1317.2 1634.3 L1319.8 1634.3 L1322.4 1634.3" fill="none" stroke="#ff0000" stroke-width="9" stroke-linecap="round" stroke-linejoin="round" stroke-dasharray="37 55" stroke-dashoffset="3.2"/>
<path d="M270.6 1224.4 L273.2 1225.1 L275.8 1226.0 L278.4 1226.8 L281.0 1227.6 L283.6 1228.3 L286.2 1229.0 L288.8 1229.9 L291.4 1231.0 L294.1 1232.5 L296.7 1234.1 L299.3 1235.9 L301.9 1237.8 L304.5 1239.9 L307.1 1242.7 L309.7 1246.6 L312.3 1252.0 L314.9 1258.9 L317.5 1267.0 L320.2 1275.8 L322.8 1284.8 L325.4 1293.7 L328.0 1302.9 L330.6 1312.6 L333.2 1322.7 L335.8 1332.1 L338.4 1340.4 L341.0 1348.5 L343.6 1356.9 L346.3 1366.1 L348.9 1375.8 L351.5 1385.7 L354.1 1395.2 L356.7 1403.5 L359.3 1410.7 L361.9 1416.6 L364.5 1421.6 L367.1 1425.9 L369.8 1429.4 L372.4 1432.2 L375.0 1434.2 L377.6 1435.3 L380.2 1435.7 L382.8 1435.8 L385.4 1435.7 L388.0 1435.4 L390.6 1435.1 L393.2 1434.5 L395.8 1433.7 L398.5 1432.5 L401.1 1430.9 L403.7 1429.0 L406.3 1427.2 L408.9 1425.7 L411.5 1424.5 L414.1 1423.6 L416.7 1423.0 L419.3 1422.5 L421.9 1422.3 L424.6 1422.2 L427.2 1422.3 L429.8 1422.4 L432.4 1422.6 L435.0 1422.5 L437.6 1422.2 L440.2 1421.8 L442.8 1421.8 L445.4 1422.6 L448.0 1424.6 L450.7 1428.0 L453.3 1432.7 L455.9 1438.4 L458.5 1445.0 L461.1 1452.2 L463.7 1459.8 L466.3 1467.5 L468.9 1475.2 L471.5 1482.4 L474.1 1489.1 L476.8 1495.1 L479.4 1500.3 L482.0 1505.0 L484.6 1509.2 L487.2 1512.9 L489.8 1516.3 L492.4 1519.4 L495.0 1522.2 L497.6 1524.7 L500.2 1526.7 L502.9 1528.3 L505.5 1529.2 L508.1 1529.8 L510.7 1529.9 L513.3 1529.8 L515.9 1529.5 L518.5 1529.0 L521.1 1528.4 L523.7 1527.8 L526.3 1527.2 L529.0 1526.7 L531.6 1526.2 L534.2 1525.9 L536.8 1525.4 L539.4 1524.7 L542.0 1523.7 L544.6 1522.6 L547.2 1521.3 L549.8 1520.0 L552.5 1518.5 L555.1 1517.0 L557.7 1515.4 L560.3 1513.7 L562.9 1511.9 L565.5 1510.1 L568.1 1508.2 L570.7 1506.2 L573.3 1504.2 L575.9 1502.1 L578.5 1500.0 L581.2 1497.8 L583.8 1495.5 L586.4 1493.1 L589.0 1490.5 L591.6 1487.9 L594.2 1485.1 L596.8 1482.3 L599.4 1479.5 L602.0 1476.8 L604.6 1474.2 L607.3 1471.7 L609.9 1469.3 L612.5 1467.0 L615.1 1464.9 L617.7 1462.8 L620.3 1460.9 L622.9 1459.0 L625.5 1457.2 L628.1 1455.5 L630.8 1453.9 L633.4 1452.3 L636.0 1450.8 L638.6 1449.4 L641.2 1448.0 L643.8 1446.8 L646.4 1445.6 L649.0 1444.6 L651.6 1443.7 L654.2 1442.9 L656.8 1442.3 L659.5 1441.7 L662.1 1441.2 L664.7 1440.8 L667.3 1440.5 L669.9 1440.2 L672.5 1440.0 L675.1 1439.9 L677.7 1439.7 L680.3 1439.6 L682.9 1439.5 L685.6 1439.4 L688.2 1439.3 L690.8 1439.1 L693.4 1439.0 L696.0 1438.9 L698.6 1438.9 L701.2 1438.9 L703.8 1438.9 L706.4 1439.0 L709.0 1439.1 L711.7 1439.2 L714.3 1439.2 L716.9 1439.2 L719.5 1439.2 L722.1 1439.1 L724.7 1438.9 L727.3 1438.6 L729.9 1438.2 L732.5 1437.7 L735.1 1437.0 L737.8 1436.2 L740.4 1435.2 L743.0 1434.2 L745.6 1433.0 L748.2 1431.7 L750.8 1430.4 L753.4 1429.0 L756.0 1427.4 L758.6 1425.7 L761.2 1423.8 L763.9 1421.8 L766.5 1419.6 L769.1 1417.2 L771.7 1414.6 L774.3 1411.8 L776.9 1408.9 L779.5 1405.7 L782.1 1402.2 L784.7 1398.6 L787.3 1395.0 L790.0 1391.2 L792.6 1387.3 L795.2 1383.2 L797.8 1378.9 L800.4 1374.4 L803.0 1369.7 L805.6 1364.8 L808.2 1359.6 L810.8 1354.2 L813.4 1348.6 L816.1 1342.9 L818.7 1337.2 L821.3 1331.5 L823.9 1325.9 L826.5 1320.4 L829.1 1314.9 L831.7 1309.5 L834.3 1304.1 L836.9 1298.8 L839.5 1293.5 L842.2 1288.1 L844.8 1282.8 L847.4 1277.5 L850.0 1272.3 L852.6 1267.2 L855.2 1262.3 L857.8 1257.7 L860.4 1253.3 L863.0 1249.3 L865.6 1245.8 L868.3 1242.6 L870.9 1239.9 L873.5 1237.7 L876.1 1235.8 L878.7 1234.4 L881.3 1233.3 L883.9 1232.4 L886.5 1231.8 L889.1 1231.2 L891.8 1230.5 L894.4 1229.9 L897.0 1229.5 L899.6 1229.3 L902.2 1229.7 L904.8 1230.4 L907.4 1231.6 L910.0 1233.0 L912.6 1234.6 L915.2 1236.3 L917.8 1238.1 L920.5 1240.1 L923.1 1242.2 L925.7 1244.7 L928.3 1247.4 L930.9 1250.5 L933.5 1253.9 L936.1 1257.5 L938.7 1261.3 L941.3 1265.3 L943.9 1269.5 L946.6 1273.9 L949.2 1278.6 L951.8 1283.5 L954.4 1288.9 L957.0 1294.7 L959.6 1301.0 L962.2 1307.9 L964.8 1315.4 L967.4 1323.5 L970.0 1332.2 L972.7 1341.6 L975.3 1351.4 L977.9 1361.5 L980.5 1371.6 L983.1 1381.9 L985.7 1392.2 L988.3 1402.6 L990.9 1413.1 L993.5 1423.6 L996.1 1434.1 L998.8 1444.6 L1001.4 1454.9 L1004.0 1465.0 L1006.6 1475.0 L1009.2 1484.7 L1011.8 1494.2 L1014.4 1503.4 L1017.0 1512.3 L1019.6 1520.9 L1022.2 1529.1 L1024.9 1537.0 L1027.5 1544.4 L1030.1 1551.5 L1032.7 1558.2 L1035.3 1564.4 L1037.9 1570.3 L1040.5 1575.7 L1043.1 1580.8 L1045.7 1585.5 L1048.3 1589.8 L1051.0 1593.8 L1053.6 1597.4 L1056.2 1600.7 L1058.8 1603.7 L1061.4 1606.4 L1064.0 1608.8 L1066.6 1610.9 L1069.2 1612.9 L1071.8 1614.7 L1074.4 1616.3 L1077.1 1617.8 L1079.7 1619.1 L1082.3 1620.4 L1084.9 1621.5 L1087.5 1622.5 L1090.1 1623.5 L1092.7 1624.4 L1095.3 1625.2 L1097.9 1625.9 L1100.5 1626.6 L1103.2 1627.2 L1105.8 1627.8 L1108.4 1628.3 L1111.0 1628.7 L1113.6 1629.1 L1116.2 1629.4 L1118.8 1629.7 L1121.4 1630.0 L1124.0 1630.3 L1126.7 1630.6 L1129.3 1630.8 L1131.9 1631.1 L1134.5 1631.3 L1137.1 1631.5 L1139.7 1631.7 L1142.3 1631.9 L1144.9 1632.1 L1147.5 1632.3 L1150.1 1632.5 L1152.8 1632.6 L1155.4 1632.8 L1158.0 1632.9 L1160.6 1633.1 L1163.2 1633.2 L1165.8 1633.3 L1168.4 1633.4 L1171.0 1633.5 L1173.6 1633.6 L1176.2 1633.7 L1178.8 1633.8 L1181.5 1633.9 L1184.1 1634.0 L1186.7 1634.1 L1189.3 1634.2 L1191.9 1634.3 L1194.5 1634.3 L1197.1 1634.4 L1199.7 1634.5 L1202.3 1634.6 L1204.9 1634.6 L1207.6 1634.7 L1210.2 1634.8 L1212.8 1634.8 L1215.4 1634.9 L1218.0 1635.0 L1220.6 1635.0 L1223.2 1635.1 L1225.8 1635.2 L1228.4 1635.3 L1231.0 1635.3 L1233.7 1635.4 L1236.3 1635.5 L1238.9 1635.5 L1241.5 1635.6 L1244.1 1635.7 L1246.7 1635.7 L1249.3 1635.8 L1251.9 1635.8 L1254.5 1635.9 L1257.2 1636.0 L1259.8 1636.0 L1262.4 1636.1 L1265.0 1636.1 L1267.6 1636.2 L1270.2 1636.2 L1272.8 1636.3 L1275.4 1636.3 L1278.0 1636.4 L1280.6 1636.4 L1283.2 1636.5 L1285.9 1636.5 L1288.5 1636.5 L1291.1 1636.6 L1293.7 1636.6 L1296.3 1636.6 L1298.9 1636.7 L1301.5 1636.7 L1304.1 1636.7 L1306.7 1636.7 L1309.3 1636.8 L1312.0 1636.8 L1314.6 1636.8 L1317.2 1636.8 L1319.8 1636.8 L1322.4 1636.8" fill="none" stroke="#00fa00" stroke-width="9" stroke-linecap="round" stroke-linejoin="round" stroke-dasharray="4 46" stroke-dashoffset="30"/>
<path d="M270.6 1265.8 L273.2 1266.7 L275.8 1267.8 L278.4 1268.9 L281.0 1270.0 L283.6 1271.0 L286.2 1272.1 L288.8 1273.3 L291.4 1274.8 L294.1 1276.6 L296.7 1278.7 L299.3 1280.9 L301.9 1283.3 L304.5 1286.0 L307.1 1289.0 L309.7 1292.5 L312.3 1296.8 L314.9 1301.7 L317.5 1307.4 L320.2 1313.9 L322.8 1321.6 L325.4 1330.4 L328.0 1340.2 L330.6 1350.7 L333.2 1360.5 L335.8 1367.8 L338.4 1372.8 L341.0 1377.9 L343.6 1385.3 L346.3 1394.7 L348.9 1404.1 L351.5 1412.4 L354.1 1419.2 L356.7 1424.8 L359.3 1429.6 L361.9 1434.4 L364.5 1439.5 L367.1 1444.6 L369.8 1449.0 L372.4 1452.6 L375.0 1454.9 L377.6 1456.1 L380.2 1456.4 L382.8 1456.1 L385.4 1455.3 L388.0 1453.9 L390.6 1451.9 L393.2 1449.3 L395.8 1446.6 L398.5 1444.0 L401.1 1441.7 L403.7 1439.6 L406.3 1437.8 L408.9 1436.2 L411.5 1434.9 L414.1 1433.7 L416.7 1432.8 L419.3 1432.1 L421.9 1431.4 L424.6 1430.9 L427.2 1430.5 L429.8 1430.4 L432.4 1430.5 L435.0 1430.9 L437.6 1431.5 L440.2 1432.6 L442.8 1434.2 L445.4 1436.7 L448.0 1440.1 L450.7 1444.6 L453.3 1450.0 L455.9 1456.2 L458.5 1463.1 L461.1 1470.3 L463.7 1477.6 L466.3 1484.4 L468.9 1490.7 L471.5 1496.4 L474.1 1501.5 L476.8 1506.1 L479.4 1510.3 L482.0 1514.3 L484.6 1518.1 L487.2 1521.6 L489.8 1524.9 L492.4 1527.9 L495.0 1530.6 L497.6 1532.9 L500.2 1534.7 L502.9 1535.9 L505.5 1536.7 L508.1 1537.0 L510.7 1537.1 L513.3 1537.1 L515.9 1537.0 L518.5 1536.8 L521.1 1536.6 L523.7 1536.6 L526.3 1536.7 L529.0 1537.0 L531.6 1537.5 L534.2 1537.8 L536.8 1537.8 L539.4 1537.6 L542.0 1537.0 L544.6 1536.3 L547.2 1535.2 L549.8 1534.0 L552.5 1532.6 L555.1 1531.1 L557.7 1529.3 L560.3 1527.5 L562.9 1525.4 L565.5 1523.3 L568.1 1521.1 L570.7 1518.9 L573.3 1516.8 L575.9 1514.8 L578.5 1512.8 L581.2 1510.8 L583.8 1508.8 L586.4 1506.8 L589.0 1504.8 L591.6 1502.8 L594.2 1500.8 L596.8 1498.8 L599.4 1496.7 L602.0 1494.6 L604.6 1492.5 L607.3 1490.4 L609.9 1488.2 L612.5 1486.1 L615.1 1484.1 L617.7 1482.1 L620.3 1480.2 L622.9 1478.4 L625.5 1476.7 L628.1 1475.0 L630.8 1473.5 L633.4 1472.0 L636.0 1470.6 L638.6 1469.3 L641.2 1468.1 L643.8 1466.9 L646.4 1465.8 L649.0 1464.7 L651.6 1463.7 L654.2 1462.7 L656.8 1461.7 L659.5 1460.8 L662.1 1459.9 L664.7 1459.0 L667.3 1458.3 L669.9 1457.6 L672.5 1456.9 L675.1 1456.3 L677.7 1455.8 L680.3 1455.3 L682.9 1454.8 L685.6 1454.4 L688.2 1454.1 L690.8 1453.7 L693.4 1453.4 L696.0 1453.1 L698.6 1452.8 L701.2 1452.5 L703.8 1452.2 L706.4 1451.9 L709.0 1451.7 L711.7 1451.4 L714.3 1451.1 L716.9 1450.8 L719.5 1450.5 L722.1 1450.3 L724.7 1450.1 L727.3 1449.8 L729.9 1449.5 L732.5 1449.2 L735.1 1448.9 L737.8 1448.5 L740.4 1448.0 L743.0 1447.5 L745.6 1446.8 L748.2 1446.0 L750.8 1445.1 L753.4 1444.0 L756.0 1442.7 L758.6 1441.2 L761.2 1439.4 L763.9 1437.4 L766.5 1435.1 L769.1 1432.7 L771.7 1430.0 L774.3 1427.2 L776.9 1424.1 L779.5 1421.0 L782.1 1417.6 L784.7 1414.1 L787.3 1410.3 L790.0 1406.3 L792.6 1401.9 L795.2 1397.2 L797.8 1392.2 L800.4 1387.1 L803.0 1382.1 L805.6 1377.4 L808.2 1372.9 L810.8 1368.8 L813.4 1364.9 L816.1 1361.1 L818.7 1357.4 L821.3 1353.5 L823.9 1349.4 L826.5 1344.9 L829.1 1339.9 L831.7 1334.5 L834.3 1328.7 L836.9 1322.8 L839.5 1317.0 L842.2 1311.4 L844.8 1306.1 L847.4 1300.9 L850.0 1296.0 L852.6 1291.1 L855.2 1286.5 L857.8 1282.0 L860.4 1277.6 L863.0 1273.5 L865.6 1269.7 L868.3 1266.3 L870.9 1263.2 L873.5 1260.6 L876.1 1258.4 L878.7 1256.6 L881.3 1255.2 L883.9 1254.1 L886.5 1253.4 L889.1 1253.0 L891.8 1253.1 L894.4 1253.7 L897.0 1254.6 L899.6 1255.9 L902.2 1257.4 L904.8 1259.1 L907.4 1261.1 L910.0 1263.1 L912.6 1265.2 L915.2 1267.4 L917.8 1269.5 L920.5 1271.7 L923.1 1273.9 L925.7 1276.1 L928.3 1278.5 L930.9 1281.1 L933.5 1283.9 L936.1 1287.1 L938.7 1290.4 L941.3 1294.1 L943.9 1297.9 L946.6 1302.0 L949.2 1306.2 L951.8 1310.8 L954.4 1315.7 L957.0 1321.1 L959.6 1326.8 L962.2 1333.0 L964.8 1339.5 L967.4 1346.3 L970.0 1353.2 L972.7 1360.1 L975.3 1367.5 L977.9 1376.1 L980.5 1387.0 L983.1 1399.8 L985.7 1411.7 L988.3 1420.8 L990.9 1427.7 L993.5 1433.9 L996.1 1440.8 L998.8 1449.2 L1001.4 1459.1 L1004.0 1470.2 L1006.6 1481.6 L1009.2 1492.6 L1011.8 1502.6 L1014.4 1511.2 L1017.0 1518.5 L1019.6 1525.0 L1022.2 1531.2 L1024.9 1537.8 L1027.5 1545.1 L1030.1 1552.9 L1032.7 1561.0 L1035.3 1568.8 L1037.9 1575.9 L1040.5 1582.2 L1043.1 1587.7 L1045.7 1592.5 L1048.3 1596.9 L1051.0 1600.8 L1053.6 1604.2 L1056.2 1607.3 L1058.8 1610.1 L1061.4 1612.6 L1064.0 1614.8 L1066.6 1616.7 L1069.2 1618.4 L1071.8 1619.9 L1074.4 1621.3 L1077.1 1622.5 L1079.7 1623.6 L1082.3 1624.5 L1084.9 1625.4 L1087.5 1626.1 L1090.1 1626.8 L1092.7 1627.5 L1095.3 1628.1 L1097.9 1628.6 L1100.5 1629.1 L1103.2 1629.6 L1105.8 1630.0 L1108.4 1630.4 L1111.0 1630.7 L1113.6 1631.1 L1116.2 1631.4 L1118.8 1631.6 L1121.4 1631.9 L1124.0 1632.2 L1126.7 1632.4 L1129.3 1632.7 L1131.9 1632.9 L1134.5 1633.1 L1137.1 1633.3 L1139.7 1633.6 L1142.3 1633.7 L1144.9 1633.9 L1147.5 1634.1 L1150.1 1634.3 L1152.8 1634.4 L1155.4 1634.6 L1158.0 1634.7 L1160.6 1634.8 L1163.2 1635.0 L1165.8 1635.1 L1168.4 1635.2 L1171.0 1635.3 L1173.6 1635.4 L1176.2 1635.4 L1178.8 1635.5 L1181.5 1635.6 L1184.1 1635.7 L1186.7 1635.7 L1189.3 1635.8 L1191.9 1635.8 L1194.5 1635.8 L1197.1 1635.9 L1199.7 1635.9 L1202.3 1636.0 L1204.9 1636.0 L1207.6 1636.0 L1210.2 1636.1 L1212.8 1636.1 L1215.4 1636.1 L1218.0 1636.2 L1220.6 1636.2 L1223.2 1636.2 L1225.8 1636.3 L1228.4 1636.3 L1231.0 1636.3 L1233.7 1636.4 L1236.3 1636.4 L1238.9 1636.4 L1241.5 1636.5 L1244.1 1636.5 L1246.7 1636.5 L1249.3 1636.5 L1251.9 1636.6 L1254.5 1636.6 L1257.2 1636.6 L1259.8 1636.6 L1262.4 1636.7 L1265.0 1636.7 L1267.6 1636.7 L1270.2 1636.7 L1272.8 1636.7 L1275.4 1636.8 L1278.0 1636.8 L1280.6 1636.8 L1283.2 1636.8 L1285.9 1636.8 L1288.5 1636.8 L1291.1 1636.8 L1293.7 1636.8 L1296.3 1636.8 L1298.9 1636.9 L1301.5 1636.9 L1304.1 1636.9 L1306.7 1636.9 L1309.3 1636.9 L1312.0 1636.9 L1314.6 1636.9 L1317.2 1636.8 L1319.8 1636.8 L1322.4 1636.8" fill="none" stroke="#00f8f8" stroke-width="9" stroke-linecap="round" stroke-linejoin="round" stroke-dasharray="41 31 5 31" stroke-dashoffset="0"/>
<path d="M270.6 1322.5 L273.2 1323.3 L275.8 1324.0 L278.4 1324.4 L281.0 1324.4 L283.6 1324.2 L286.2 1324.0 L288.8 1323.9 L291.4 1324.0 L294.1 1324.4 L296.7 1325.1 L299.3 1325.8 L301.9 1326.8 L304.5 1328.0 L307.1 1329.6 L309.7 1331.8 L312.3 1335.2 L314.9 1339.7 L317.5 1345.6 L320.2 1352.5 L322.8 1359.7 L325.4 1366.3 L328.0 1371.9 L330.6 1377.3 L333.2 1383.4 L335.8 1390.3 L338.4 1397.6 L341.0 1404.8 L343.6 1411.6 L346.3 1418.1 L348.9 1424.3 L351.5 1430.6 L354.1 1437.1 L356.7 1443.6 L359.3 1449.8 L361.9 1455.6 L364.5 1461.0 L367.1 1465.6 L369.8 1469.2 L372.4 1471.5 L375.0 1472.8 L377.6 1473.1 L380.2 1472.6 L382.8 1471.5 L385.4 1470.0 L388.0 1468.3 L390.6 1466.6 L393.2 1465.1 L395.8 1463.7 L398.5 1462.5 L401.1 1461.4 L403.7 1460.4 L406.3 1459.5 L408.9 1458.6 L411.5 1457.7 L414.1 1456.8 L416.7 1455.8 L419.3 1454.9 L421.9 1454.2 L424.6 1453.8 L427.2 1453.6 L429.8 1453.6 L432.4 1453.8 L435.0 1454.3 L437.6 1455.2 L440.2 1456.6 L442.8 1458.3 L445.4 1460.4 L448.0 1462.8 L450.7 1465.9 L453.3 1469.6 L455.9 1473.9 L458.5 1478.7 L461.1 1483.8 L463.7 1489.3 L466.3 1494.9 L468.9 1500.5 L471.5 1505.7 L474.1 1510.4 L476.8 1514.6 L479.4 1518.3 L482.0 1521.5 L484.6 1524.3 L487.2 1526.8 L489.8 1529.0 L492.4 1530.9 L495.0 1532.6 L497.6 1534.1 L500.2 1535.3 L502.9 1536.5 L505.5 1537.5 L508.1 1538.5 L510.7 1539.4 L513.3 1540.2 L515.9 1540.9 L518.5 1541.6 L521.1 1542.1 L523.7 1542.6 L526.3 1543.0 L529.0 1543.4 L531.6 1543.7 L534.2 1543.9 L536.8 1543.9 L539.4 1543.8 L542.0 1543.4 L544.6 1542.8 L547.2 1542.1 L549.8 1541.3 L552.5 1540.3 L555.1 1539.2 L557.7 1538.0 L560.3 1536.7 L562.9 1535.2 L565.5 1533.6 L568.1 1532.0 L570.7 1530.4 L573.3 1528.8 L575.9 1527.2 L578.5 1525.7 L581.2 1524.2 L583.8 1522.6 L586.4 1521.0 L589.0 1519.4 L591.6 1517.7 L594.2 1516.0 L596.8 1514.2 L599.4 1512.5 L602.0 1510.8 L604.6 1509.2 L607.3 1507.7 L609.9 1506.3 L612.5 1505.1 L615.1 1503.9 L617.7 1502.8 L620.3 1501.7 L622.9 1500.6 L625.5 1499.6 L628.1 1498.5 L630.8 1497.3 L633.4 1496.2 L636.0 1495.1 L638.6 1494.1 L641.2 1493.1 L643.8 1492.1 L646.4 1491.2 L649.0 1490.4 L651.6 1489.6 L654.2 1488.8 L656.8 1488.1 L659.5 1487.4 L662.1 1486.7 L664.7 1486.1 L667.3 1485.5 L669.9 1485.0 L672.5 1484.4 L675.1 1484.0 L677.7 1483.5 L680.3 1483.1 L682.9 1482.8 L685.6 1482.4 L688.2 1482.1 L690.8 1481.7 L693.4 1481.4 L696.0 1481.1 L698.6 1480.8 L701.2 1480.5 L703.8 1480.2 L706.4 1480.0 L709.0 1479.7 L711.7 1479.5 L714.3 1479.2 L716.9 1479.0 L719.5 1478.7 L722.1 1478.4 L724.7 1478.1 L727.3 1477.8 L729.9 1477.5 L732.5 1477.2 L735.1 1476.9 L737.8 1476.5 L740.4 1476.1 L743.0 1475.7 L745.6 1475.1 L748.2 1474.4 L750.8 1473.7 L753.4 1472.7 L756.0 1471.6 L758.6 1470.3 L761.2 1468.9 L763.9 1467.2 L766.5 1465.4 L769.1 1463.4 L771.7 1461.2 L774.3 1458.9 L776.9 1456.4 L779.5 1453.7 L782.1 1450.9 L784.7 1447.9 L787.3 1444.8 L790.0 1441.6 L792.6 1438.3 L795.2 1434.9 L797.8 1431.3 L800.4 1427.6 L803.0 1423.7 L805.6 1419.9 L808.2 1416.1 L810.8 1412.4 L813.4 1409.0 L816.1 1405.7 L818.7 1402.6 L821.3 1399.4 L823.9 1396.2 L826.5 1392.9 L829.1 1389.2 L831.7 1385.1 L834.3 1380.5 L836.9 1375.5 L839.5 1370.2 L842.2 1364.9 L844.8 1359.9 L847.4 1355.3 L850.0 1351.2 L852.6 1347.3 L855.2 1343.7 L857.8 1340.2 L860.4 1337.0 L863.0 1333.9 L865.6 1331.1 L868.3 1328.6 L870.9 1326.3 L873.5 1324.3 L876.1 1322.6 L878.7 1321.1 L881.3 1319.8 L883.9 1318.7 L886.5 1317.9 L889.1 1317.3 L891.8 1317.0 L894.4 1316.8 L897.0 1316.7 L899.6 1317.0 L902.2 1317.7 L904.8 1318.8 L907.4 1320.2 L910.0 1321.7 L912.6 1323.4 L915.2 1325.0 L917.8 1326.8 L920.5 1328.5 L923.1 1330.2 L925.7 1331.9 L928.3 1333.7 L930.9 1335.7 L933.5 1337.9 L936.1 1340.7 L938.7 1344.0 L941.3 1347.7 L943.9 1351.6 L946.6 1355.6 L949.2 1359.5 L951.8 1363.3 L954.4 1367.1 L957.0 1371.0 L959.6 1375.1 L962.2 1379.6 L964.8 1384.5 L967.4 1389.9 L970.0 1395.8 L972.7 1402.0 L975.3 1408.7 L977.9 1415.6 L980.5 1422.9 L983.1 1430.6 L985.7 1438.5 L988.3 1446.6 L990.9 1454.9 L993.5 1463.3 L996.1 1471.8 L998.8 1480.6 L1001.4 1489.5 L1004.0 1498.6 L1006.6 1507.6 L1009.2 1516.5 L1011.8 1525.1 L1014.4 1533.6 L1017.0 1542.0 L1019.6 1550.4 L1022.2 1558.5 L1024.9 1566.3 L1027.5 1573.4 L1030.1 1579.8 L1032.7 1585.3 L1035.3 1590.1 L1037.9 1594.2 L1040.5 1597.9 L1043.1 1601.3 L1045.7 1604.4 L1048.3 1607.2 L1051.0 1609.7 L1053.6 1612.1 L1056.2 1614.2 L1058.8 1616.0 L1061.4 1617.7 L1064.0 1619.3 L1066.6 1620.6 L1069.2 1621.8 L1071.8 1622.9 L1074.4 1623.9 L1077.1 1624.8 L1079.7 1625.5 L1082.3 1626.2 L1084.9 1626.9 L1087.5 1627.4 L1090.1 1628.0 L1092.7 1628.5 L1095.3 1628.9 L1097.9 1629.3 L1100.5 1629.7 L1103.2 1630.1 L1105.8 1630.4 L1108.4 1630.8 L1111.0 1631.0 L1113.6 1631.3 L1116.2 1631.6 L1118.8 1631.8 L1121.4 1632.0 L1124.0 1632.3 L1126.7 1632.5 L1129.3 1632.7 L1131.9 1632.9 L1134.5 1633.1 L1137.1 1633.3 L1139.7 1633.5 L1142.3 1633.7 L1144.9 1633.9 L1147.5 1634.1 L1150.1 1634.2 L1152.8 1634.4 L1155.4 1634.5 L1158.0 1634.7 L1160.6 1634.8 L1163.2 1634.9 L1165.8 1635.0 L1168.4 1635.1 L1171.0 1635.2 L1173.6 1635.3 L1176.2 1635.4 L1178.8 1635.5 L1181.5 1635.6 L1184.1 1635.7 L1186.7 1635.7 L1189.3 1635.8 L1191.9 1635.8 L1194.5 1635.8 L1197.1 1635.9 L1199.7 1635.9 L1202.3 1636.0 L1204.9 1636.0 L1207.6 1636.0 L1210.2 1636.1 L1212.8 1636.1 L1215.4 1636.1 L1218.0 1636.2 L1220.6 1636.2 L1223.2 1636.2 L1225.8 1636.3 L1228.4 1636.3 L1231.0 1636.3 L1233.7 1636.4 L1236.3 1636.4 L1238.9 1636.4 L1241.5 1636.4 L1244.1 1636.5 L1246.7 1636.5 L1249.3 1636.5 L1251.9 1636.6 L1254.5 1636.6 L1257.2 1636.6 L1259.8 1636.6 L1262.4 1636.7 L1265.0 1636.7 L1267.6 1636.7 L1270.2 1636.7 L1272.8 1636.7 L1275.4 1636.7 L1278.0 1636.8 L1280.6 1636.8 L1283.2 1636.8 L1285.9 1636.8 L1288.5 1636.8 L1291.1 1636.8 L1293.7 1636.8 L1296.3 1636.8 L1298.9 1636.8 L1301.5 1636.9 L1304.1 1636.9 L1306.7 1636.9 L1309.3 1636.9 L1312.0 1636.9 L1314.6 1636.9 L1317.2 1636.8 L1319.8 1636.8 L1322.4 1636.8" fill="none" stroke="#80ffff" stroke-width="9" stroke-linecap="round" stroke-linejoin="round" stroke-dasharray="28 34 1 34 1 34" stroke-dashoffset="100"/>
<path d="M270.6 1350.9 L273.2 1351.5 L275.8 1352.3 L278.4 1352.9 L281.0 1353.4 L283.6 1353.7 L286.2 1354.0 L288.8 1354.5 L291.4 1355.4 L294.1 1356.8 L296.7 1358.6 L299.3 1360.7 L301.9 1362.8 L304.5 1365.0 L307.1 1367.1 L309.7 1369.3 L312.3 1371.9 L314.9 1374.9 L317.5 1378.5 L320.2 1382.8 L322.8 1387.6 L325.4 1392.6 L328.0 1397.5 L330.6 1402.8 L333.2 1408.6 L335.8 1414.7 L338.4 1420.9 L341.0 1427.3 L343.6 1434.0 L346.3 1441.0 L348.9 1448.0 L351.5 1454.5 L354.1 1460.0 L356.7 1464.8 L359.3 1468.8 L361.9 1472.5 L364.5 1476.2 L367.1 1479.9 L369.8 1483.3 L372.4 1486.0 L375.0 1487.8 L377.6 1488.7 L380.2 1488.9 L382.8 1488.7 L385.4 1488.0 L388.0 1487.2 L390.6 1486.2 L393.2 1485.3 L395.8 1484.3 L398.5 1483.3 L401.1 1482.0 L403.7 1480.6 L406.3 1479.4 L408.9 1478.2 L411.5 1477.3 L414.1 1476.7 L416.7 1476.2 L419.3 1475.9 L421.9 1475.9 L424.6 1476.2 L427.2 1476.6 L429.8 1477.3 L432.4 1478.3 L435.0 1479.6 L437.6 1481.3 L440.2 1483.4 L442.8 1486.1 L445.4 1489.4 L448.0 1493.5 L450.7 1498.2 L453.3 1503.4 L455.9 1508.8 L458.5 1514.1 L461.1 1519.2 L463.7 1523.9 L466.3 1528.2 L468.9 1531.8 L471.5 1534.7 L474.1 1537.0 L476.8 1538.9 L479.4 1540.4 L482.0 1541.6 L484.6 1542.8 L487.2 1543.9 L489.8 1545.0 L492.4 1546.0 L495.0 1546.8 L497.6 1547.5 L500.2 1548.1 L502.9 1548.8 L505.5 1549.4 L508.1 1550.0 L510.7 1550.6 L513.3 1551.1 L515.9 1551.7 L518.5 1552.2 L521.1 1552.7 L523.7 1553.1 L526.3 1553.5 L529.0 1553.8 L531.6 1554.0 L534.2 1554.2 L536.8 1554.3 L539.4 1554.2 L542.0 1553.9 L544.6 1553.5 L547.2 1553.0 L549.8 1552.4 L552.5 1551.7 L555.1 1550.9 L557.7 1549.9 L560.3 1548.9 L562.9 1547.8 L565.5 1546.5 L568.1 1545.2 L570.7 1543.9 L573.3 1542.6 L575.9 1541.3 L578.5 1539.9 L581.2 1538.6 L583.8 1537.3 L586.4 1535.9 L589.0 1534.6 L591.6 1533.3 L594.2 1531.9 L596.8 1530.5 L599.4 1529.0 L602.0 1527.4 L604.6 1525.8 L607.3 1524.2 L609.9 1522.7 L612.5 1521.3 L615.1 1520.0 L617.7 1518.8 L620.3 1517.7 L622.9 1516.8 L625.5 1516.1 L628.1 1515.3 L630.8 1514.4 L633.4 1513.4 L636.0 1512.4 L638.6 1511.2 L641.2 1510.1 L643.8 1508.9 L646.4 1507.8 L649.0 1506.8 L651.6 1505.9 L654.2 1505.1 L656.8 1504.3 L659.5 1503.6 L662.1 1503.0 L664.7 1502.4 L667.3 1501.9 L669.9 1501.4 L672.5 1501.0 L675.1 1500.6 L677.7 1500.3 L680.3 1500.0 L682.9 1499.8 L685.6 1499.5 L688.2 1499.3 L690.8 1499.2 L693.4 1499.0 L696.0 1498.9 L698.6 1498.8 L701.2 1498.7 L703.8 1498.7 L706.4 1498.6 L709.0 1498.6 L711.7 1498.6 L714.3 1498.5 L716.9 1498.5 L719.5 1498.4 L722.1 1498.4 L724.7 1498.3 L727.3 1498.2 L729.9 1498.0 L732.5 1497.8 L735.1 1497.7 L737.8 1497.5 L740.4 1497.2 L743.0 1496.7 L745.6 1496.1 L748.2 1495.3 L750.8 1494.5 L753.4 1493.5 L756.0 1492.4 L758.6 1491.2 L761.2 1490.0 L763.9 1488.6 L766.5 1487.2 L769.1 1485.8 L771.7 1484.4 L774.3 1483.1 L776.9 1481.6 L779.5 1480.0 L782.1 1478.1 L784.7 1476.0 L787.3 1473.7 L790.0 1471.1 L792.6 1468.2 L795.2 1465.1 L797.8 1461.7 L800.4 1458.1 L803.0 1454.3 L805.6 1450.4 L808.2 1446.3 L810.8 1442.3 L813.4 1438.2 L816.1 1434.2 L818.7 1430.3 L821.3 1426.4 L823.9 1422.6 L826.5 1418.8 L829.1 1415.0 L831.7 1411.4 L834.3 1407.7 L836.9 1404.1 L839.5 1400.6 L842.2 1397.1 L844.8 1393.6 L847.4 1390.2 L850.0 1386.8 L852.6 1383.5 L855.2 1380.4 L857.8 1377.3 L860.4 1374.4 L863.0 1371.7 L865.6 1369.2 L868.3 1367.0 L870.9 1365.0 L873.5 1363.2 L876.1 1361.8 L878.7 1360.5 L881.3 1359.6 L883.9 1358.8 L886.5 1358.3 L889.1 1357.9 L891.8 1357.6 L894.4 1357.6 L897.0 1357.8 L899.6 1358.3 L902.2 1359.1 L904.8 1360.1 L907.4 1361.1 L910.0 1362.3 L912.6 1363.6 L915.2 1364.9 L917.8 1366.3 L920.5 1367.6 L923.1 1369.0 L925.7 1370.4 L928.3 1371.9 L930.9 1373.4 L933.5 1375.1 L936.1 1376.9 L938.7 1379.0 L941.3 1381.3 L943.9 1383.9 L946.6 1386.8 L949.2 1390.1 L951.8 1393.7 L954.4 1397.6 L957.0 1401.8 L959.6 1406.3 L962.2 1411.1 L964.8 1416.2 L967.4 1421.7 L970.0 1427.6 L972.7 1433.8 L975.3 1440.3 L977.9 1447.0 L980.5 1453.6 L983.1 1460.0 L985.7 1466.2 L988.3 1472.3 L990.9 1478.7 L993.5 1485.4 L996.1 1492.7 L998.8 1500.4 L1001.4 1508.6 L1004.0 1517.0 L1006.6 1525.4 L1009.2 1533.6 L1011.8 1541.4 L1014.4 1548.9 L1017.0 1556.1 L1019.6 1562.9 L1022.2 1569.4 L1024.9 1575.5 L1027.5 1581.2 L1030.1 1586.4 L1032.7 1591.1 L1035.3 1595.3 L1037.9 1599.2 L1040.5 1602.6 L1043.1 1605.8 L1045.7 1608.6 L1048.3 1611.2 L1051.0 1613.6 L1053.6 1615.7 L1056.2 1617.6 L1058.8 1619.3 L1061.4 1620.9 L1064.0 1622.3 L1066.6 1623.5 L1069.2 1624.6 L1071.8 1625.6 L1074.4 1626.5 L1077.1 1627.3 L1079.7 1628.0 L1082.3 1628.6 L1084.9 1629.2 L1087.5 1629.7 L1090.1 1630.2 L1092.7 1630.6 L1095.3 1631.0 L1097.9 1631.4 L1100.5 1631.8 L1103.2 1632.1 L1105.8 1632.4 L1108.4 1632.6 L1111.0 1632.9 L1113.6 1633.1 L1116.2 1633.3 L1118.8 1633.6 L1121.4 1633.8 L1124.0 1633.9 L1126.7 1634.1 L1129.3 1634.3 L1131.9 1634.5 L1134.5 1634.7 L1137.1 1634.8 L1139.7 1635.0 L1142.3 1635.1 L1144.9 1635.3 L1147.5 1635.4 L1150.1 1635.5 L1152.8 1635.7 L1155.4 1635.8 L1158.0 1635.9 L1160.6 1636.0 L1163.2 1636.1 L1165.8 1636.2 L1168.4 1636.3 L1171.0 1636.4 L1173.6 1636.4 L1176.2 1636.5 L1178.8 1636.6 L1181.5 1636.6 L1184.1 1636.7 L1186.7 1636.8 L1189.3 1636.8 L1191.9 1636.8 L1194.5 1636.9 L1197.1 1636.9 L1199.7 1636.9 L1202.3 1637.0 L1204.9 1637.0 L1207.6 1637.0 L1210.2 1637.1 L1212.8 1637.1 L1215.4 1637.1 L1218.0 1637.2 L1220.6 1637.2 L1223.2 1637.2 L1225.8 1637.3 L1228.4 1637.3 L1231.0 1637.3 L1233.7 1637.4 L1236.3 1637.4 L1238.9 1637.4 L1241.5 1637.5 L1244.1 1637.5 L1246.7 1637.5 L1249.3 1637.5 L1251.9 1637.6 L1254.5 1637.6 L1257.2 1637.6 L1259.8 1637.6 L1262.4 1637.7 L1265.0 1637.7 L1267.6 1637.7 L1270.2 1637.7 L1272.8 1637.7 L1275.4 1637.8 L1278.0 1637.8 L1280.6 1637.8 L1283.2 1637.8 L1285.9 1637.8 L1288.5 1637.8 L1291.1 1637.8 L1293.7 1637.9 L1296.3 1637.9 L1298.9 1637.9 L1301.5 1637.9 L1304.1 1637.9 L1306.7 1637.9 L1309.3 1637.9 L1312.0 1637.9 L1314.6 1637.9 L1317.2 1637.9 L1319.8 1637.9 L1322.4 1637.9" fill="none" stroke="#ff80ff" stroke-width="9" stroke-linecap="round" stroke-linejoin="round" stroke-dasharray="10 25" stroke-dashoffset="0"/>
<path d="M270.6 1381.8 L273.2 1382.5 L275.8 1383.2 L278.4 1383.9 L281.0 1384.4 L283.6 1384.7 L286.2 1385.1 L288.8 1385.8 L291.4 1386.9 L294.1 1388.5 L296.7 1390.3 L299.3 1392.0 L301.9 1393.3 L304.5 1394.2 L307.1 1394.8 L309.7 1395.4 L312.3 1396.5 L314.9 1398.3 L317.5 1400.9 L320.2 1404.2 L322.8 1407.6 L325.4 1410.7 L328.0 1413.8 L330.6 1417.6 L333.2 1422.3 L335.8 1427.5 L338.4 1432.9 L341.0 1438.4 L343.6 1444.4 L346.3 1450.7 L348.9 1457.4 L351.5 1463.8 L354.1 1469.7 L356.7 1474.6 L359.3 1478.7 L361.9 1482.1 L364.5 1485.2 L367.1 1488.2 L369.8 1490.9 L372.4 1492.9 L375.0 1494.2 L377.6 1494.6 L380.2 1494.4 L382.8 1493.8 L385.4 1492.7 L388.0 1491.6 L390.6 1490.3 L393.2 1489.2 L395.8 1488.2 L398.5 1487.5 L401.1 1486.9 L403.7 1486.3 L406.3 1485.8 L408.9 1485.1 L411.5 1484.4 L414.1 1483.8 L416.7 1483.3 L419.3 1483.0 L421.9 1482.9 L424.6 1483.1 L427.2 1483.6 L429.8 1484.4 L432.4 1485.5 L435.0 1486.8 L437.6 1488.3 L440.2 1489.7 L442.8 1491.1 L445.4 1492.5 L448.0 1494.2 L450.7 1496.3 L453.3 1499.0 L455.9 1502.3 L458.5 1505.8 L461.1 1509.4 L463.7 1513.1 L466.3 1516.9 L468.9 1520.7 L471.5 1524.2 L474.1 1527.5 L476.8 1530.3 L479.4 1532.8 L482.0 1534.9 L484.6 1536.9 L487.2 1538.7 L489.8 1540.4 L492.4 1541.9 L495.0 1543.2 L497.6 1544.5 L500.2 1545.7 L502.9 1546.8 L505.5 1547.9 L508.1 1549.0 L510.7 1550.0 L513.3 1551.0 L515.9 1551.9 L518.5 1552.8 L521.1 1553.5 L523.7 1554.2 L526.3 1554.7 L529.0 1555.2 L531.6 1555.5 L534.2 1555.8 L536.8 1555.9 L539.4 1556.0 L542.0 1556.0 L544.6 1555.9 L547.2 1555.8 L549.8 1555.7 L552.5 1555.5 L555.1 1555.2 L557.7 1554.9 L560.3 1554.4 L562.9 1553.9 L565.5 1553.2 L568.1 1552.5 L570.7 1551.8 L573.3 1551.1 L575.9 1550.5 L578.5 1549.9 L581.2 1549.3 L583.8 1548.7 L586.4 1548.1 L589.0 1547.4 L591.6 1546.6 L594.2 1545.8 L596.8 1544.9 L599.4 1543.9 L602.0 1543.0 L604.6 1542.0 L607.3 1541.0 L609.9 1540.0 L612.5 1538.9 L615.1 1537.8 L617.7 1536.6 L620.3 1535.3 L622.9 1533.9 L625.5 1532.6 L628.1 1531.2 L630.8 1529.9 L633.4 1528.7 L636.0 1527.5 L638.6 1526.3 L641.2 1525.2 L643.8 1524.1 L646.4 1523.1 L649.0 1522.1 L651.6 1521.1 L654.2 1520.2 L656.8 1519.3 L659.5 1518.4 L662.1 1517.6 L664.7 1516.9 L667.3 1516.2 L669.9 1515.6 L672.5 1515.0 L675.1 1514.5 L677.7 1514.0 L680.3 1513.5 L682.9 1513.0 L685.6 1512.5 L688.2 1512.0 L690.8 1511.5 L693.4 1511.1 L696.0 1510.6 L698.6 1510.3 L701.2 1509.9 L703.8 1509.6 L706.4 1509.4 L709.0 1509.1 L711.7 1508.9 L714.3 1508.8 L716.9 1508.6 L719.5 1508.5 L722.1 1508.3 L724.7 1508.2 L727.3 1508.0 L729.9 1507.8 L732.5 1507.5 L735.1 1507.3 L737.8 1507.0 L740.4 1506.6 L743.0 1506.3 L745.6 1505.9 L748.2 1505.5 L750.8 1505.0 L753.4 1504.4 L756.0 1503.8 L758.6 1503.1 L761.2 1502.2 L763.9 1501.3 L766.5 1500.2 L769.1 1499.0 L771.7 1497.7 L774.3 1496.2 L776.9 1494.4 L779.5 1492.4 L782.1 1490.1 L784.7 1487.4 L787.3 1484.5 L790.0 1481.4 L792.6 1478.2 L795.2 1475.1 L797.8 1472.1 L800.4 1469.3 L803.0 1466.7 L805.6 1464.0 L808.2 1461.4 L810.8 1458.8 L813.4 1456.2 L816.1 1453.8 L818.7 1451.3 L821.3 1448.6 L823.9 1445.8 L826.5 1442.9 L829.1 1440.0 L831.7 1437.0 L834.3 1434.0 L836.9 1430.8 L839.5 1427.5 L842.2 1424.0 L844.8 1420.5 L847.4 1417.0 L850.0 1413.7 L852.6 1410.8 L855.2 1408.1 L857.8 1405.6 L860.4 1403.3 L863.0 1401.1 L865.6 1399.1 L868.3 1397.3 L870.9 1395.8 L873.5 1394.4 L876.1 1393.3 L878.7 1392.4 L881.3 1391.7 L883.9 1391.2 L886.5 1391.0 L889.1 1390.9 L891.8 1391.0 L894.4 1391.3 L897.0 1391.7 L899.6 1392.3 L902.2 1392.9 L904.8 1393.6 L907.4 1394.3 L910.0 1395.1 L912.6 1395.9 L915.2 1396.8 L917.8 1397.8 L920.5 1398.8 L923.1 1399.9 L925.7 1400.9 L928.3 1402.1 L930.9 1403.5 L933.5 1405.3 L936.1 1407.4 L938.7 1410.0 L941.3 1412.8 L943.9 1415.6 L946.6 1418.2 L949.2 1420.7 L951.8 1423.2 L954.4 1425.9 L957.0 1428.8 L959.6 1432.1 L962.2 1435.9 L964.8 1440.4 L967.4 1445.5 L970.0 1451.0 L972.7 1456.8 L975.3 1462.6 L977.9 1468.3 L980.5 1473.8 L983.1 1479.0 L985.7 1484.3 L988.3 1489.8 L990.9 1495.5 L993.5 1501.6 L996.1 1508.1 L998.8 1515.2 L1001.4 1522.8 L1004.0 1530.5 L1006.6 1538.2 L1009.2 1545.7 L1011.8 1552.7 L1014.4 1559.2 L1017.0 1565.2 L1019.6 1570.9 L1022.2 1576.2 L1024.9 1581.3 L1027.5 1585.9 L1030.1 1590.3 L1032.7 1594.3 L1035.3 1598.0 L1037.9 1601.4 L1040.5 1604.5 L1043.1 1607.3 L1045.7 1609.9 L1048.3 1612.3 L1051.0 1614.5 L1053.6 1616.4 L1056.2 1618.2 L1058.8 1619.8 L1061.4 1621.3 L1064.0 1622.6 L1066.6 1623.7 L1069.2 1624.7 L1071.8 1625.7 L1074.4 1626.5 L1077.1 1627.2 L1079.7 1627.9 L1082.3 1628.5 L1084.9 1629.0 L1087.5 1629.5 L1090.1 1629.9 L1092.7 1630.4 L1095.3 1630.7 L1097.9 1631.1 L1100.5 1631.5 L1103.2 1631.8 L1105.8 1632.1 L1108.4 1632.3 L1111.0 1632.6 L1113.6 1632.8 L1116.2 1633.0 L1118.8 1633.2 L1121.4 1633.5 L1124.0 1633.7 L1126.7 1633.9 L1129.3 1634.0 L1131.9 1634.2 L1134.5 1634.4 L1137.1 1634.6 L1139.7 1634.8 L1142.3 1634.9 L1144.9 1635.1 L1147.5 1635.2 L1150.1 1635.4 L1152.8 1635.5 L1155.4 1635.7 L1158.0 1635.8 L1160.6 1635.9 L1163.2 1636.0 L1165.8 1636.1 L1168.4 1636.2 L1171.0 1636.3 L1173.6 1636.4 L1176.2 1636.5 L1178.8 1636.6 L1181.5 1636.6 L1184.1 1636.7 L1186.7 1636.7 L1189.3 1636.8 L1191.9 1636.8 L1194.5 1636.9 L1197.1 1636.9 L1199.7 1636.9 L1202.3 1637.0 L1204.9 1637.0 L1207.6 1637.0 L1210.2 1637.1 L1212.8 1637.1 L1215.4 1637.1 L1218.0 1637.2 L1220.6 1637.2 L1223.2 1637.2 L1225.8 1637.3 L1228.4 1637.3 L1231.0 1637.3 L1233.7 1637.4 L1236.3 1637.4 L1238.9 1637.4 L1241.5 1637.5 L1244.1 1637.5 L1246.7 1637.5 L1249.3 1637.5 L1251.9 1637.6 L1254.5 1637.6 L1257.2 1637.6 L1259.8 1637.6 L1262.4 1637.7 L1265.0 1637.7 L1267.6 1637.7 L1270.2 1637.7 L1272.8 1637.7 L1275.4 1637.8 L1278.0 1637.8 L1280.6 1637.8 L1283.2 1637.8 L1285.9 1637.8 L1288.5 1637.8 L1291.1 1637.8 L1293.7 1637.9 L1296.3 1637.9 L1298.9 1637.9 L1301.5 1637.9 L1304.1 1637.9 L1306.7 1637.9 L1309.3 1637.9 L1312.0 1637.9 L1314.6 1637.9 L1317.2 1637.9 L1319.8 1637.9 L1322.4 1637.9" fill="none" stroke="#8000ff" stroke-width="6.5" stroke-linecap="round" stroke-linejoin="round" stroke-dasharray="0.1 16" stroke-dashoffset="0"/>
<path d="M270.6 1409.9 L273.2 1410.2 L275.8 1410.5 L278.4 1410.9 L281.0 1411.4 L283.6 1412.0 L286.2 1412.8 L288.8 1413.7 L291.4 1414.9 L294.1 1416.3 L296.7 1417.7 L299.3 1419.2 L301.9 1420.5 L304.5 1421.9 L307.1 1423.2 L309.7 1424.8 L312.3 1426.9 L314.9 1429.7 L317.5 1433.1 L320.2 1437.1 L322.8 1441.5 L325.4 1446.2 L328.0 1450.6 L330.6 1454.5 L333.2 1457.8 L335.8 1460.9 L338.4 1464.2 L341.0 1468.2 L343.6 1472.8 L346.3 1477.5 L348.9 1481.7 L351.5 1485.1 L354.1 1487.8 L356.7 1489.8 L359.3 1491.4 L361.9 1493.0 L364.5 1494.9 L367.1 1497.4 L369.8 1500.1 L372.4 1502.7 L375.0 1504.9 L377.6 1506.7 L380.2 1508.3 L382.8 1509.9 L385.4 1511.4 L388.0 1512.7 L390.6 1513.3 L393.2 1513.2 L395.8 1512.4 L398.5 1511.5 L401.1 1510.6 L403.7 1509.8 L406.3 1509.0 L408.9 1508.4 L411.5 1507.9 L414.1 1507.5 L416.7 1507.1 L419.3 1506.8 L421.9 1506.6 L424.6 1506.5 L427.2 1506.5 L429.8 1506.6 L432.4 1506.9 L435.0 1507.2 L437.6 1507.7 L440.2 1508.4 L442.8 1509.5 L445.4 1511.0 L448.0 1513.1 L450.7 1515.7 L453.3 1518.6 L455.9 1521.7 L458.5 1524.9 L461.1 1528.4 L463.7 1532.2 L466.3 1536.2 L468.9 1540.1 L471.5 1543.7 L474.1 1546.9 L476.8 1549.8 L479.4 1552.4 L482.0 1554.8 L484.6 1557.1 L487.2 1559.4 L489.8 1561.7 L492.4 1563.9 L495.0 1566.0 L497.6 1568.0 L500.2 1569.9 L502.9 1571.7 L505.5 1573.3 L508.1 1574.8 L510.7 1575.9 L513.3 1576.6 L515.9 1576.9 L518.5 1577.0 L521.1 1576.9 L523.7 1576.6 L526.3 1576.4 L529.0 1576.1 L531.6 1576.0 L534.2 1576.0 L536.8 1576.0 L539.4 1575.9 L542.0 1575.6 L544.6 1575.3 L547.2 1574.9 L549.8 1574.4 L552.5 1573.8 L555.1 1573.1 L557.7 1572.4 L560.3 1571.6 L562.9 1570.7 L565.5 1569.8 L568.1 1568.8 L570.7 1567.9 L573.3 1567.1 L575.9 1566.4 L578.5 1565.6 L581.2 1564.9 L583.8 1564.2 L586.4 1563.5 L589.0 1562.7 L591.6 1561.8 L594.2 1560.8 L596.8 1559.7 L599.4 1558.6 L602.0 1557.4 L604.6 1556.2 L607.3 1555.1 L609.9 1553.9 L612.5 1552.9 L615.1 1551.8 L617.7 1550.8 L620.3 1549.7 L622.9 1548.7 L625.5 1547.8 L628.1 1546.8 L630.8 1545.8 L633.4 1544.9 L636.0 1544.0 L638.6 1543.1 L641.2 1542.2 L643.8 1541.4 L646.4 1540.6 L649.0 1539.8 L651.6 1539.0 L654.2 1538.3 L656.8 1537.6 L659.5 1537.0 L662.1 1536.4 L664.7 1535.8 L667.3 1535.2 L669.9 1534.7 L672.5 1534.2 L675.1 1533.8 L677.7 1533.4 L680.3 1533.0 L682.9 1532.6 L685.6 1532.2 L688.2 1531.9 L690.8 1531.5 L693.4 1531.1 L696.0 1530.8 L698.6 1530.4 L701.2 1530.1 L703.8 1529.8 L706.4 1529.5 L709.0 1529.2 L711.7 1529.0 L714.3 1528.9 L716.9 1528.8 L719.5 1528.8 L722.1 1528.8 L724.7 1528.9 L727.3 1528.9 L729.9 1528.9 L732.5 1528.9 L735.1 1528.8 L737.8 1528.6 L740.4 1528.3 L743.0 1527.9 L745.6 1527.4 L748.2 1526.8 L750.8 1526.1 L753.4 1525.3 L756.0 1524.5 L758.6 1523.6 L761.2 1522.6 L763.9 1521.5 L766.5 1520.4 L769.1 1519.1 L771.7 1517.8 L774.3 1516.4 L776.9 1514.9 L779.5 1513.2 L782.1 1511.5 L784.7 1509.5 L787.3 1507.5 L790.0 1505.2 L792.6 1502.8 L795.2 1500.2 L797.8 1497.6 L800.4 1494.8 L803.0 1491.9 L805.6 1489.0 L808.2 1486.0 L810.8 1483.0 L813.4 1480.1 L816.1 1477.1 L818.7 1474.3 L821.3 1471.5 L823.9 1468.7 L826.5 1466.0 L829.1 1463.3 L831.7 1460.6 L834.3 1458.0 L836.9 1455.4 L839.5 1452.7 L842.2 1450.1 L844.8 1447.5 L847.4 1444.9 L850.0 1442.3 L852.6 1439.8 L855.2 1437.4 L857.8 1435.1 L860.4 1432.9 L863.0 1430.9 L865.6 1429.0 L868.3 1427.3 L870.9 1425.9 L873.5 1424.5 L876.1 1423.3 L878.7 1422.1 L881.3 1421.1 L883.9 1420.3 L886.5 1419.6 L889.1 1419.3 L891.8 1419.2 L894.4 1419.4 L897.0 1419.8 L899.6 1420.4 L902.2 1421.2 L904.8 1422.0 L907.4 1422.9 L910.0 1423.9 L912.6 1424.9 L915.2 1425.9 L917.8 1426.9 L920.5 1427.9 L923.1 1428.9 L925.7 1429.9 L928.3 1431.0 L930.9 1432.2 L933.5 1433.5 L936.1 1435.0 L938.7 1436.7 L941.3 1438.7 L943.9 1440.9 L946.6 1443.3 L949.2 1445.8 L951.8 1448.4 L954.4 1451.2 L957.0 1454.0 L959.6 1457.1 L962.2 1460.5 L964.8 1464.2 L967.4 1468.2 L970.0 1472.2 L972.7 1476.4 L975.3 1480.7 L977.9 1485.2 L980.5 1490.0 L983.1 1495.1 L985.7 1500.4 L988.3 1506.0 L990.9 1511.7 L993.5 1517.5 L996.1 1523.4 L998.8 1529.4 L1001.4 1535.4 L1004.0 1541.5 L1006.6 1547.4 L1009.2 1553.3 L1011.8 1559.0 L1014.4 1564.5 L1017.0 1569.9 L1019.6 1575.1 L1022.2 1580.1 L1024.9 1584.8 L1027.5 1589.3 L1030.1 1593.4 L1032.7 1597.1 L1035.3 1600.6 L1037.9 1603.7 L1040.5 1606.5 L1043.1 1609.0 L1045.7 1611.4 L1048.3 1613.5 L1051.0 1615.5 L1053.6 1617.2 L1056.2 1618.8 L1058.8 1620.3 L1061.4 1621.6 L1064.0 1622.8 L1066.6 1623.9 L1069.2 1624.8 L1071.8 1625.7 L1074.4 1626.5 L1077.1 1627.2 L1079.7 1627.8 L1082.3 1628.4 L1084.9 1628.9 L1087.5 1629.4 L1090.1 1629.8 L1092.7 1630.2 L1095.3 1630.6 L1097.9 1631.0 L1100.5 1631.3 L1103.2 1631.6 L1105.8 1631.9 L1108.4 1632.2 L1111.0 1632.4 L1113.6 1632.7 L1116.2 1632.9 L1118.8 1633.1 L1121.4 1633.3 L1124.0 1633.5 L1126.7 1633.7 L1129.3 1633.9 L1131.9 1634.1 L1134.5 1634.3 L1137.1 1634.5 L1139.7 1634.7 L1142.3 1634.8 L1144.9 1635.0 L1147.5 1635.2 L1150.1 1635.3 L1152.8 1635.5 L1155.4 1635.6 L1158.0 1635.7 L1160.6 1635.9 L1163.2 1636.0 L1165.8 1636.1 L1168.4 1636.2 L1171.0 1636.3 L1173.6 1636.4 L1176.2 1636.5 L1178.8 1636.6 L1181.5 1636.6 L1184.1 1636.7 L1186.7 1636.7 L1189.3 1636.8 L1191.9 1636.8 L1194.5 1636.9 L1197.1 1636.9 L1199.7 1636.9 L1202.3 1637.0 L1204.9 1637.0 L1207.6 1637.0 L1210.2 1637.1 L1212.8 1637.1 L1215.4 1637.1 L1218.0 1637.2 L1220.6 1637.2 L1223.2 1637.2 L1225.8 1637.3 L1228.4 1637.3 L1231.0 1637.3 L1233.7 1637.4 L1236.3 1637.4 L1238.9 1637.4 L1241.5 1637.5 L1244.1 1637.5 L1246.7 1637.5 L1249.3 1637.5 L1251.9 1637.6 L1254.5 1637.6 L1257.2 1637.6 L1259.8 1637.6 L1262.4 1637.7 L1265.0 1637.7 L1267.6 1637.7 L1270.2 1637.7 L1272.8 1637.7 L1275.4 1637.8 L1278.0 1637.8 L1280.6 1637.8 L1283.2 1637.8 L1285.9 1637.8 L1288.5 1637.8 L1291.1 1637.8 L1293.7 1637.9 L1296.3 1637.9 L1298.9 1637.9 L1301.5 1637.9 L1304.1 1637.9 L1306.7 1637.9 L1309.3 1637.9 L1312.0 1637.9 L1314.6 1637.9 L1317.2 1637.9 L1319.8 1637.9 L1322.4 1637.9" fill="none" stroke="#800080" stroke-width="9" stroke-linecap="round" stroke-linejoin="round" stroke-dasharray="27 21 0.1 21" stroke-dashoffset="0"/>
<path d="M270.6 1411.6 L273.2 1412.0 L275.8 1412.7 L278.4 1413.5 L281.0 1414.5 L283.6 1415.6 L286.2 1416.9 L288.8 1418.2 L291.4 1419.5 L294.1 1420.7 L296.7 1421.7 L299.3 1422.6 L301.9 1423.5 L304.5 1424.4 L307.1 1425.6 L309.7 1427.0 L312.3 1429.0 L314.9 1431.8 L317.5 1435.3 L320.2 1439.4 L322.8 1443.6 L325.4 1447.8 L328.0 1451.8 L330.6 1455.6 L333.2 1459.4 L335.8 1463.2 L338.4 1466.9 L341.0 1470.5 L343.6 1473.8 L346.3 1476.9 L348.9 1479.8 L351.5 1482.7 L354.1 1485.3 L356.7 1487.8 L359.3 1490.1 L361.9 1492.2 L364.5 1494.2 L367.1 1496.0 L369.8 1497.8 L372.4 1499.3 L375.0 1500.5 L377.6 1501.4 L380.2 1502.0 L382.8 1502.5 L385.4 1502.9 L388.0 1503.2 L390.6 1503.5 L393.2 1503.6 L395.8 1503.5 L398.5 1503.2 L401.1 1502.6 L403.7 1501.9 L406.3 1501.1 L408.9 1500.6 L411.5 1500.3 L414.1 1500.3 L416.7 1500.5 L419.3 1500.8 L421.9 1501.3 L424.6 1501.8 L427.2 1502.4 L429.8 1503.1 L432.4 1503.7 L435.0 1504.4 L437.6 1505.2 L440.2 1506.1 L442.8 1507.2 L445.4 1508.7 L448.0 1510.7 L450.7 1513.3 L453.3 1516.6 L455.9 1520.1 L458.5 1523.6 L461.1 1527.0 L463.7 1530.1 L466.3 1532.9 L468.9 1535.7 L471.5 1538.4 L474.1 1540.9 L476.8 1543.3 L479.4 1545.4 L482.0 1547.4 L484.6 1549.2 L487.2 1550.8 L489.8 1552.4 L492.4 1553.8 L495.0 1555.2 L497.6 1556.4 L500.2 1557.6 L502.9 1558.7 L505.5 1559.7 L508.1 1560.6 L510.7 1561.4 L513.3 1562.0 L515.9 1562.4 L518.5 1562.9 L521.1 1563.3 L523.7 1563.6 L526.3 1563.9 L529.0 1564.2 L531.6 1564.4 L534.2 1564.5 L536.8 1564.6 L539.4 1564.5 L542.0 1564.3 L544.6 1564.1 L547.2 1563.8 L549.8 1563.4 L552.5 1563.0 L555.1 1562.6 L557.7 1562.1 L560.3 1561.6 L562.9 1561.2 L565.5 1560.7 L568.1 1560.2 L570.7 1559.7 L573.3 1559.1 L575.9 1558.5 L578.5 1557.8 L581.2 1557.2 L583.8 1556.5 L586.4 1555.8 L589.0 1555.1 L591.6 1554.4 L594.2 1553.7 L596.8 1552.9 L599.4 1552.2 L602.0 1551.4 L604.6 1550.6 L607.3 1549.7 L609.9 1548.8 L612.5 1547.9 L615.1 1547.0 L617.7 1546.2 L620.3 1545.3 L622.9 1544.6 L625.5 1543.8 L628.1 1543.2 L630.8 1542.6 L633.4 1542.1 L636.0 1541.6 L638.6 1541.1 L641.2 1540.7 L643.8 1540.3 L646.4 1539.8 L649.0 1539.5 L651.6 1539.1 L654.2 1538.7 L656.8 1538.4 L659.5 1538.1 L662.1 1537.9 L664.7 1537.6 L667.3 1537.4 L669.9 1537.3 L672.5 1537.1 L675.1 1537.0 L677.7 1536.9 L680.3 1536.8 L682.9 1536.7 L685.6 1536.6 L688.2 1536.5 L690.8 1536.4 L693.4 1536.3 L696.0 1536.3 L698.6 1536.2 L701.2 1536.2 L703.8 1536.1 L706.4 1536.1 L709.0 1536.1 L711.7 1536.0 L714.3 1536.0 L716.9 1536.0 L719.5 1536.0 L722.1 1535.9 L724.7 1535.9 L727.3 1535.9 L729.9 1535.8 L732.5 1535.8 L735.1 1535.7 L737.8 1535.6 L740.4 1535.4 L743.0 1535.1 L745.6 1534.8 L748.2 1534.4 L750.8 1534.0 L753.4 1533.5 L756.0 1532.9 L758.6 1532.4 L761.2 1531.8 L763.9 1531.2 L766.5 1530.5 L769.1 1529.7 L771.7 1528.8 L774.3 1527.8 L776.9 1526.6 L779.5 1525.3 L782.1 1523.8 L784.7 1522.1 L787.3 1520.2 L790.0 1518.1 L792.6 1516.0 L795.2 1513.7 L797.8 1511.5 L800.4 1509.4 L803.0 1507.3 L805.6 1505.3 L808.2 1503.5 L810.8 1501.7 L813.4 1500.0 L816.1 1498.3 L818.7 1496.6 L821.3 1494.9 L823.9 1493.3 L826.5 1491.6 L829.1 1490.0 L831.7 1488.3 L834.3 1486.6 L836.9 1484.8 L839.5 1483.0 L842.2 1481.1 L844.8 1479.1 L847.4 1476.9 L850.0 1474.8 L852.6 1472.6 L855.2 1470.6 L857.8 1468.6 L860.4 1466.9 L863.0 1465.4 L865.6 1464.1 L868.3 1462.8 L870.9 1461.6 L873.5 1460.5 L876.1 1459.4 L878.7 1458.5 L881.3 1457.7 L883.9 1457.0 L886.5 1456.6 L889.1 1456.4 L891.8 1456.4 L894.4 1456.5 L897.0 1456.8 L899.6 1457.3 L902.2 1457.8 L904.8 1458.4 L907.4 1459.1 L910.0 1459.8 L912.6 1460.6 L915.2 1461.5 L917.8 1462.5 L920.5 1463.7 L923.1 1465.0 L925.7 1466.5 L928.3 1468.1 L930.9 1469.6 L933.5 1471.2 L936.1 1472.7 L938.7 1474.3 L941.3 1476.0 L943.9 1477.7 L946.6 1479.6 L949.2 1481.6 L951.8 1483.9 L954.4 1486.4 L957.0 1489.2 L959.6 1492.0 L962.2 1495.0 L964.8 1498.1 L967.4 1501.4 L970.0 1504.8 L972.7 1508.3 L975.3 1511.8 L977.9 1515.3 L980.5 1518.8 L983.1 1522.2 L985.7 1525.5 L988.3 1528.7 L990.9 1531.9 L993.5 1535.3 L996.1 1539.0 L998.8 1543.2 L1001.4 1547.7 L1004.0 1552.5 L1006.6 1557.5 L1009.2 1562.6 L1011.8 1567.5 L1014.4 1572.3 L1017.0 1576.7 L1019.6 1581.0 L1022.2 1585.3 L1024.9 1589.4 L1027.5 1593.3 L1030.1 1596.9 L1032.7 1600.2 L1035.3 1603.1 L1037.9 1605.8 L1040.5 1608.2 L1043.1 1610.4 L1045.7 1612.5 L1048.3 1614.5 L1051.0 1616.2 L1053.6 1617.9 L1056.2 1619.3 L1058.8 1620.7 L1061.4 1622.0 L1064.0 1623.3 L1066.6 1624.4 L1069.2 1625.6 L1071.8 1626.6 L1074.4 1627.5 L1077.1 1628.4 L1079.7 1629.1 L1082.3 1629.7 L1084.9 1630.2 L1087.5 1630.7 L1090.1 1631.1 L1092.7 1631.5 L1095.3 1631.9 L1097.9 1632.3 L1100.5 1632.7 L1103.2 1633.1 L1105.8 1633.4 L1108.4 1633.7 L1111.0 1634.1 L1113.6 1634.4 L1116.2 1634.6 L1118.8 1634.9 L1121.4 1635.2 L1124.0 1635.4 L1126.7 1635.6 L1129.3 1635.8 L1131.9 1636.0 L1134.5 1636.2 L1137.1 1636.3 L1139.7 1636.5 L1142.3 1636.6 L1144.9 1636.7 L1147.5 1636.8 L1150.1 1636.8 L1152.8 1636.9 L1155.4 1636.9 L1158.0 1636.9 L1160.6 1637.0 L1163.2 1637.0 L1165.8 1637.0 L1168.4 1637.0 L1171.0 1637.1 L1173.6 1637.1 L1176.2 1637.1 L1178.8 1637.2 L1181.5 1637.2 L1184.1 1637.2 L1186.7 1637.2 L1189.3 1637.3 L1191.9 1637.3 L1194.5 1637.3 L1197.1 1637.3 L1199.7 1637.4 L1202.3 1637.4 L1204.9 1637.4 L1207.6 1637.4 L1210.2 1637.5 L1212.8 1637.5 L1215.4 1637.5 L1218.0 1637.5 L1220.6 1637.5 L1223.2 1637.5 L1225.8 1637.6 L1228.4 1637.6 L1231.0 1637.6 L1233.7 1637.6 L1236.3 1637.6 L1238.9 1637.6 L1241.5 1637.7 L1244.1 1637.7 L1246.7 1637.7 L1249.3 1637.7 L1251.9 1637.7 L1254.5 1637.7 L1257.2 1637.7 L1259.8 1637.7 L1262.4 1637.8 L1265.0 1637.8 L1267.6 1637.8 L1270.2 1637.8 L1272.8 1637.8 L1275.4 1637.8 L1278.0 1637.8 L1280.6 1637.8 L1283.2 1637.8 L1285.9 1637.8 L1288.5 1637.8 L1291.1 1637.8 L1293.7 1637.8 L1296.3 1637.9 L1298.9 1637.9 L1301.5 1637.9 L1304.1 1637.9 L1306.7 1637.9 L1309.3 1637.9 L1312.0 1637.9 L1314.6 1637.9 L1317.2 1637.9 L1319.8 1637.9 L1322.4 1637.9" fill="none" stroke="#800000" stroke-width="6" stroke-linecap="round" stroke-linejoin="round"/>
<path d="M270.6 1459.1 L273.2 1459.6 L275.8 1460.2 L278.4 1460.9 L281.0 1461.6 L283.6 1462.3 L286.2 1462.9 L288.8 1463.6 L291.4 1464.3 L294.1 1465.0 L296.7 1465.8 L299.3 1466.6 L301.9 1467.5 L304.5 1468.5 L307.1 1469.6 L309.7 1470.8 L312.3 1472.1 L314.9 1473.4 L317.5 1474.9 L320.2 1476.6 L322.8 1478.5 L325.4 1480.5 L328.0 1482.8 L330.6 1485.1 L333.2 1487.5 L335.8 1489.9 L338.4 1492.2 L341.0 1494.4 L343.6 1496.5 L346.3 1498.5 L348.9 1500.4 L351.5 1502.2 L354.1 1504.0 L356.7 1505.9 L359.3 1507.7 L361.9 1509.5 L364.5 1511.2 L367.1 1512.9 L369.8 1514.6 L372.4 1516.1 L375.0 1517.6 L377.6 1519.0 L380.2 1520.2 L382.8 1521.3 L385.4 1522.3 L388.0 1523.2 L390.6 1523.9 L393.2 1524.5 L395.8 1525.0 L398.5 1525.5 L401.1 1525.9 L403.7 1526.2 L406.3 1526.6 L408.9 1526.9 L411.5 1527.2 L414.1 1527.6 L416.7 1528.0 L419.3 1528.5 L421.9 1529.0 L424.6 1529.6 L427.2 1530.3 L429.8 1531.0 L432.4 1531.8 L435.0 1532.7 L437.6 1533.5 L440.2 1534.5 L442.8 1535.4 L445.4 1536.4 L448.0 1537.5 L450.7 1538.7 L453.3 1539.9 L455.9 1541.3 L458.5 1542.8 L461.1 1544.3 L463.7 1545.9 L466.3 1547.6 L468.9 1549.3 L471.5 1550.9 L474.1 1552.6 L476.8 1554.2 L479.4 1555.8 L482.0 1557.3 L484.6 1558.7 L487.2 1560.0 L489.8 1561.2 L492.4 1562.3 L495.0 1563.3 L497.6 1564.2 L500.2 1565.0 L502.9 1565.8 L505.5 1566.6 L508.1 1567.3 L510.7 1568.0 L513.3 1568.6 L515.9 1569.2 L518.5 1569.8 L521.1 1570.3 L523.7 1570.9 L526.3 1571.4 L529.0 1571.8 L531.6 1572.1 L534.2 1572.3 L536.8 1572.3 L539.4 1572.3 L542.0 1572.2 L544.6 1572.1 L547.2 1572.0 L549.8 1571.9 L552.5 1571.8 L555.1 1571.7 L557.7 1571.6 L560.3 1571.5 L562.9 1571.4 L565.5 1571.3 L568.1 1571.2 L570.7 1571.1 L573.3 1571.0 L575.9 1570.9 L578.5 1570.8 L581.2 1570.7 L583.8 1570.6 L586.4 1570.5 L589.0 1570.4 L591.6 1570.3 L594.2 1570.2 L596.8 1570.1 L599.4 1570.0 L602.0 1569.9 L604.6 1569.7 L607.3 1569.6 L609.9 1569.5 L612.5 1569.4 L615.1 1569.3 L617.7 1569.1 L620.3 1569.0 L622.9 1568.8 L625.5 1568.7 L628.1 1568.5 L630.8 1568.2 L633.4 1567.9 L636.0 1567.7 L638.6 1567.4 L641.2 1567.1 L643.8 1566.9 L646.4 1566.8 L649.0 1566.7 L651.6 1566.7 L654.2 1566.7 L656.8 1566.7 L659.5 1566.7 L662.1 1566.7 L664.7 1566.7 L667.3 1566.7 L669.9 1566.7 L672.5 1566.7 L675.1 1566.7 L677.7 1566.7 L680.3 1566.7 L682.9 1566.7 L685.6 1566.7 L688.2 1566.7 L690.8 1566.7 L693.4 1566.7 L696.0 1566.7 L698.6 1566.7 L701.2 1566.7 L703.8 1566.7 L706.4 1566.8 L709.0 1566.9 L711.7 1567.0 L714.3 1567.1 L716.9 1567.3 L719.5 1567.4 L722.1 1567.5 L724.7 1567.6 L727.3 1567.8 L729.9 1567.9 L732.5 1568.0 L735.1 1568.1 L737.8 1568.2 L740.4 1568.4 L743.0 1568.5 L745.6 1568.6 L748.2 1568.6 L750.8 1568.7 L753.4 1568.7 L756.0 1568.6 L758.6 1568.5 L761.2 1568.3 L763.9 1568.0 L766.5 1567.7 L769.1 1567.3 L771.7 1566.9 L774.3 1566.4 L776.9 1565.9 L779.5 1565.4 L782.1 1564.8 L784.7 1564.3 L787.3 1563.8 L790.0 1563.2 L792.6 1562.7 L795.2 1562.2 L797.8 1561.8 L800.4 1561.3 L803.0 1560.7 L805.6 1560.2 L808.2 1559.7 L810.8 1559.1 L813.4 1558.5 L816.1 1557.9 L818.7 1557.3 L821.3 1556.7 L823.9 1556.1 L826.5 1555.4 L829.1 1554.7 L831.7 1553.9 L834.3 1553.0 L836.9 1552.1 L839.5 1551.0 L842.2 1549.9 L844.8 1548.9 L847.4 1547.9 L850.0 1547.0 L852.6 1546.3 L855.2 1545.7 L857.8 1545.4 L860.4 1545.1 L863.0 1544.8 L865.6 1544.6 L868.3 1544.4 L870.9 1544.2 L873.5 1544.1 L876.1 1544.0 L878.7 1544.0 L881.3 1544.0 L883.9 1544.1 L886.5 1544.2 L889.1 1544.3 L891.8 1544.5 L894.4 1544.7 L897.0 1544.9 L899.6 1545.1 L902.2 1545.4 L904.8 1545.7 L907.4 1546.0 L910.0 1546.5 L912.6 1547.0 L915.2 1547.6 L917.8 1548.2 L920.5 1548.9 L923.1 1549.6 L925.7 1550.3 L928.3 1551.0 L930.9 1551.7 L933.5 1552.4 L936.1 1553.1 L938.7 1553.8 L941.3 1554.5 L943.9 1555.2 L946.6 1556.0 L949.2 1556.8 L951.8 1557.6 L954.4 1558.5 L957.0 1559.5 L959.6 1560.5 L962.2 1561.6 L964.8 1562.9 L967.4 1564.4 L970.0 1565.9 L972.7 1567.6 L975.3 1569.4 L977.9 1571.2 L980.5 1573.1 L983.1 1575.0 L985.7 1577.0 L988.3 1579.1 L990.9 1581.3 L993.5 1583.6 L996.1 1585.9 L998.8 1588.1 L1001.4 1590.3 L1004.0 1592.3 L1006.6 1594.3 L1009.2 1596.2 L1011.8 1598.0 L1014.4 1599.8 L1017.0 1601.6 L1019.6 1603.3 L1022.2 1605.0 L1024.9 1606.6 L1027.5 1608.2 L1030.1 1609.7 L1032.7 1611.1 L1035.3 1612.5 L1037.9 1613.9 L1040.5 1615.3 L1043.1 1616.7 L1045.7 1618.1 L1048.3 1619.4 L1051.0 1620.6 L1053.6 1621.8 L1056.2 1622.8 L1058.8 1623.6 L1061.4 1624.4 L1064.0 1624.9 L1066.6 1625.4 L1069.2 1625.7 L1071.8 1626.1 L1074.4 1626.4 L1077.1 1626.7 L1079.7 1626.9 L1082.3 1627.2 L1084.9 1627.4 L1087.5 1627.6 L1090.1 1627.8 L1092.7 1628.0 L1095.3 1628.2 L1097.9 1628.4 L1100.5 1628.6 L1103.2 1628.8 L1105.8 1629.0 L1108.4 1629.2 L1111.0 1629.4 L1113.6 1629.6 L1116.2 1629.8 L1118.8 1630.0 L1121.4 1630.2 L1124.0 1630.4 L1126.7 1630.6 L1129.3 1630.8 L1131.9 1631.0 L1134.5 1631.1 L1137.1 1631.3 L1139.7 1631.4 L1142.3 1631.5 L1144.9 1631.6 L1147.5 1631.6 L1150.1 1631.7 L1152.8 1631.7 L1155.4 1631.7 L1158.0 1631.7 L1160.6 1631.7 L1163.2 1631.7 L1165.8 1631.7 L1168.4 1631.7 L1171.0 1631.7 L1173.6 1631.7 L1176.2 1631.7 L1178.8 1631.7 L1181.5 1631.7 L1184.1 1631.7 L1186.7 1631.7 L1189.3 1631.7 L1191.9 1631.7 L1194.5 1631.7 L1197.1 1631.7 L1199.7 1631.7 L1202.3 1631.7 L1204.9 1631.7 L1207.6 1631.7 L1210.2 1631.7 L1212.8 1631.8 L1215.4 1631.8 L1218.0 1631.8 L1220.6 1631.8 L1223.2 1631.9 L1225.8 1631.9 L1228.4 1631.9 L1231.0 1632.0 L1233.7 1632.0 L1236.3 1632.0 L1238.9 1632.1 L1241.5 1632.1 L1244.1 1632.2 L1246.7 1632.2 L1249.3 1632.2 L1251.9 1632.3 L1254.5 1632.3 L1257.2 1632.4 L1259.8 1632.5 L1262.4 1632.5 L1265.0 1632.6 L1267.6 1632.6 L1270.2 1632.7 L1272.8 1632.8 L1275.4 1632.8 L1278.0 1632.9 L1280.6 1633.0 L1283.2 1633.0 L1285.9 1633.1 L1288.5 1633.2 L1291.1 1633.3 L1293.7 1633.3 L1296.3 1633.4 L1298.9 1633.5 L1301.5 1633.6 L1304.1 1633.7 L1306.7 1633.7 L1309.3 1633.8 L1312.0 1633.9 L1314.6 1634.0 L1317.2 1634.1 L1319.8 1634.2 L1322.4 1634.2" fill="none" stroke="#808000" stroke-width="9" stroke-linecap="round" stroke-linejoin="round" stroke-dasharray="41 31 5 31" stroke-dashoffset="75"/>
<path d="M270.6 1516.9 L273.2 1517.4 L275.8 1518.0 L278.4 1518.7 L281.0 1519.4 L283.6 1520.0 L286.2 1520.7 L288.8 1521.4 L291.4 1522.0 L294.1 1522.8 L296.7 1523.6 L299.3 1524.4 L301.9 1525.3 L304.5 1526.3 L307.1 1527.3 L309.7 1528.5 L312.3 1529.6 L314.9 1530.9 L317.5 1532.1 L320.2 1533.5 L322.8 1535.0 L325.4 1536.6 L328.0 1538.2 L330.6 1539.9 L333.2 1541.6 L335.8 1543.2 L338.4 1544.9 L341.0 1546.4 L343.6 1547.8 L346.3 1549.1 L348.9 1550.3 L351.5 1551.5 L354.1 1552.7 L356.7 1553.8 L359.3 1555.0 L361.9 1556.1 L364.5 1557.2 L367.1 1558.3 L369.8 1559.3 L372.4 1560.2 L375.0 1561.1 L377.6 1561.9 L380.2 1562.7 L382.8 1563.3 L385.4 1563.8 L388.0 1564.3 L390.6 1564.6 L393.2 1564.9 L395.8 1565.1 L398.5 1565.3 L401.1 1565.4 L403.7 1565.6 L406.3 1565.7 L408.9 1565.9 L411.5 1566.0 L414.1 1566.2 L416.7 1566.4 L419.3 1566.6 L421.9 1566.8 L424.6 1567.1 L427.2 1567.5 L429.8 1567.9 L432.4 1568.3 L435.0 1568.7 L437.6 1569.2 L440.2 1569.7 L442.8 1570.3 L445.4 1570.9 L448.0 1571.5 L450.7 1572.3 L453.3 1573.2 L455.9 1574.2 L458.5 1575.4 L461.1 1576.7 L463.7 1578.0 L466.3 1579.4 L468.9 1580.8 L471.5 1582.2 L474.1 1583.6 L476.8 1584.9 L479.4 1586.1 L482.0 1587.2 L484.6 1588.2 L487.2 1589.1 L489.8 1589.8 L492.4 1590.3 L495.0 1590.6 L497.6 1590.9 L500.2 1591.2 L502.9 1591.5 L505.5 1591.7 L508.1 1592.0 L510.7 1592.1 L513.3 1592.3 L515.9 1592.4 L518.5 1592.4 L521.1 1592.5 L523.7 1592.5 L526.3 1592.5 L529.0 1592.5 L531.6 1592.5 L534.2 1592.5 L536.8 1592.5 L539.4 1592.5 L542.0 1592.5 L544.6 1592.5 L547.2 1592.5 L549.8 1592.5 L552.5 1592.4 L555.1 1592.4 L557.7 1592.4 L560.3 1592.3 L562.9 1592.2 L565.5 1592.2 L568.1 1592.1 L570.7 1592.0 L573.3 1591.9 L575.9 1591.8 L578.5 1591.8 L581.2 1591.7 L583.8 1591.6 L586.4 1591.5 L589.0 1591.5 L591.6 1591.5 L594.2 1591.4 L596.8 1591.5 L599.4 1591.5 L602.0 1591.6 L604.6 1591.8 L607.3 1592.0 L609.9 1592.2 L612.5 1592.4 L615.1 1592.6 L617.7 1592.7 L620.3 1592.9 L622.9 1592.9 L625.5 1593.0 L628.1 1593.0 L630.8 1593.0 L633.4 1592.9 L636.0 1592.9 L638.6 1592.9 L641.2 1592.8 L643.8 1592.8 L646.4 1592.7 L649.0 1592.7 L651.6 1592.7 L654.2 1592.6 L656.8 1592.6 L659.5 1592.5 L662.1 1592.5 L664.7 1592.5 L667.3 1592.5 L669.9 1592.5 L672.5 1592.5 L675.1 1592.5 L677.7 1592.5 L680.3 1592.5 L682.9 1592.5 L685.6 1592.6 L688.2 1592.6 L690.8 1592.6 L693.4 1592.7 L696.0 1592.7 L698.6 1592.7 L701.2 1592.8 L703.8 1592.8 L706.4 1592.8 L709.0 1592.9 L711.7 1592.9 L714.3 1592.9 L716.9 1592.9 L719.5 1593.0 L722.1 1593.0 L724.7 1593.0 L727.3 1593.0 L729.9 1593.0 L732.5 1593.0 L735.1 1593.0 L737.8 1593.0 L740.4 1593.0 L743.0 1593.0 L745.6 1593.0 L748.2 1593.0 L750.8 1593.0 L753.4 1593.0 L756.0 1593.0 L758.6 1592.9 L761.2 1592.8 L763.9 1592.7 L766.5 1592.6 L769.1 1592.5 L771.7 1592.3 L774.3 1592.1 L776.9 1591.9 L779.5 1591.7 L782.1 1591.5 L784.7 1591.3 L787.3 1591.0 L790.0 1590.8 L792.6 1590.5 L795.2 1590.2 L797.8 1589.8 L800.4 1589.4 L803.0 1588.9 L805.6 1588.4 L808.2 1587.8 L810.8 1587.2 L813.4 1586.6 L816.1 1585.9 L818.7 1585.3 L821.3 1584.6 L823.9 1583.9 L826.5 1583.3 L829.1 1582.6 L831.7 1582.0 L834.3 1581.3 L836.9 1580.5 L839.5 1579.8 L842.2 1579.0 L844.8 1578.3 L847.4 1577.6 L850.0 1577.0 L852.6 1576.5 L855.2 1576.1 L857.8 1575.8 L860.4 1575.5 L863.0 1575.3 L865.6 1575.0 L868.3 1574.8 L870.9 1574.7 L873.5 1574.5 L876.1 1574.5 L878.7 1574.4 L881.3 1574.4 L883.9 1574.5 L886.5 1574.5 L889.1 1574.6 L891.8 1574.8 L894.4 1574.9 L897.0 1575.0 L899.6 1575.2 L902.2 1575.4 L904.8 1575.6 L907.4 1575.8 L910.0 1576.2 L912.6 1576.6 L915.2 1577.0 L917.8 1577.5 L920.5 1578.0 L923.1 1578.5 L925.7 1579.1 L928.3 1579.6 L930.9 1580.1 L933.5 1580.5 L936.1 1581.0 L938.7 1581.5 L941.3 1581.9 L943.9 1582.4 L946.6 1582.9 L949.2 1583.4 L951.8 1584.0 L954.4 1584.6 L957.0 1585.2 L959.6 1585.9 L962.2 1586.8 L964.8 1587.8 L967.4 1588.9 L970.0 1590.2 L972.7 1591.6 L975.3 1593.1 L977.9 1594.6 L980.5 1596.1 L983.1 1597.6 L985.7 1599.2 L988.3 1600.9 L990.9 1602.6 L993.5 1604.3 L996.1 1606.1 L998.8 1607.8 L1001.4 1609.5 L1004.0 1611.1 L1006.6 1612.6 L1009.2 1614.2 L1011.8 1615.7 L1014.4 1617.2 L1017.0 1618.8 L1019.6 1620.2 L1022.2 1621.6 L1024.9 1622.9 L1027.5 1624.1 L1030.1 1625.2 L1032.7 1626.2 L1035.3 1627.1 L1037.9 1627.9 L1040.5 1628.7 L1043.1 1629.5 L1045.7 1630.3 L1048.3 1631.0 L1051.0 1631.7 L1053.6 1632.4 L1056.2 1633.0 L1058.8 1633.6 L1061.4 1634.1 L1064.0 1634.6 L1066.6 1635.0 L1069.2 1635.3 L1071.8 1635.6 L1074.4 1635.8 L1077.1 1636.0 L1079.7 1636.1 L1082.3 1636.3 L1084.9 1636.4 L1087.5 1636.5 L1090.1 1636.7 L1092.7 1636.8 L1095.3 1636.9 L1097.9 1637.1 L1100.5 1637.2 L1103.2 1637.3 L1105.8 1637.4 L1108.4 1637.5 L1111.0 1637.6 L1113.6 1637.7 L1116.2 1637.8 L1118.8 1637.9 L1121.4 1638.0 L1124.0 1638.1 L1126.7 1638.1 L1129.3 1638.2 L1131.9 1638.3 L1134.5 1638.4 L1137.1 1638.4 L1139.7 1638.5 L1142.3 1638.6 L1144.9 1638.6 L1147.5 1638.7 L1150.1 1638.7 L1152.8 1638.8 L1155.4 1638.9 L1158.0 1638.9 L1160.6 1638.9 L1163.2 1639.0 L1165.8 1639.0 L1168.4 1639.1 L1171.0 1639.1 L1173.6 1639.2 L1176.2 1639.2 L1178.8 1639.2 L1181.5 1639.3 L1184.1 1639.3 L1186.7 1639.4 L1189.3 1639.4 L1191.9 1639.4 L1194.5 1639.5 L1197.1 1639.5 L1199.7 1639.5 L1202.3 1639.6 L1204.9 1639.6 L1207.6 1639.6 L1210.2 1639.6 L1212.8 1639.7 L1215.4 1639.7 L1218.0 1639.7 L1220.6 1639.8 L1223.2 1639.8 L1225.8 1639.8 L1228.4 1639.9 L1231.0 1639.9 L1233.7 1639.9 L1236.3 1639.9 L1238.9 1640.0 L1241.5 1640.0 L1244.1 1640.0 L1246.7 1640.0 L1249.3 1640.1 L1251.9 1640.1 L1254.5 1640.1 L1257.2 1640.1 L1259.8 1640.2 L1262.4 1640.2 L1265.0 1640.2 L1267.6 1640.2 L1270.2 1640.2 L1272.8 1640.3 L1275.4 1640.3 L1278.0 1640.3 L1280.6 1640.3 L1283.2 1640.3 L1285.9 1640.3 L1288.5 1640.4 L1291.1 1640.4 L1293.7 1640.4 L1296.3 1640.4 L1298.9 1640.4 L1301.5 1640.4 L1304.1 1640.4 L1306.7 1640.4 L1309.3 1640.4 L1312.0 1640.4 L1314.6 1640.4 L1317.2 1640.4 L1319.8 1640.5 L1322.4 1640.5" fill="none" stroke="#2060a0" stroke-width="9" stroke-linecap="round" stroke-linejoin="round" stroke-dasharray="41 31 5 31" stroke-dashoffset="75"/>
</g>
<clipPath id="clip_b"><rect x="1311.5" y="84.5" width="1040.0" height="795.5"/></clipPath>
<g clip-path="url(#clip_b)">
<rect x="1311.5" y="84.5" width="1040.0" height="795.5" fill="#fff"/>
<path d="M1311.5 437.4 L1314.1 437.0 L1316.7 436.5 L1319.3 436.1 L1321.9 435.9 L1324.5 436.0 L1327.1 436.4 L1329.7 437.2 L1332.3 438.1 L1334.9 439.2 L1337.5 440.4 L1340.1 442.1 L1342.7 444.9 L1345.3 449.2 L1347.9 455.4 L1350.5 463.5 L1353.1 473.2 L1355.7 484.2 L1358.3 495.9 L1360.9 508.4 L1363.5 522.1 L1366.1 536.8 L1368.7 552.2 L1371.3 567.6 L1373.9 582.6 L1376.5 596.7 L1379.1 609.2 L1381.7 619.8 L1384.3 628.4 L1386.9 635.3 L1389.5 640.5 L1392.1 644.1 L1394.7 646.3 L1397.3 647.4 L1399.9 647.3 L1402.5 645.9 L1405.1 643.4 L1407.7 640.0 L1410.3 635.8 L1412.9 630.8 L1415.5 625.2 L1418.1 619.1 L1420.7 612.7 L1423.3 606.3 L1425.9 599.9 L1428.5 593.7 L1431.1 587.8 L1433.7 582.3 L1436.3 577.3 L1438.9 572.8 L1441.5 568.8 L1444.1 565.4 L1446.7 562.6 L1449.3 560.2 L1451.9 558.4 L1454.5 557.0 L1457.1 556.1 L1459.7 555.5 L1462.3 555.4 L1464.9 555.8 L1467.5 556.9 L1470.1 558.7 L1472.7 561.5 L1475.3 565.5 L1477.9 570.8 L1480.5 577.6 L1483.1 585.9 L1485.7 595.7 L1488.3 606.7 L1490.9 618.6 L1493.5 631.0 L1496.1 643.3 L1498.7 655.2 L1501.3 666.3 L1503.9 676.4 L1506.5 685.4 L1509.1 693.3 L1511.7 700.2 L1514.3 706.4 L1516.9 711.8 L1519.5 716.8 L1522.1 721.3 L1524.7 725.4 L1527.3 729.3 L1529.9 732.9 L1532.5 736.3 L1535.1 739.6 L1537.7 742.7 L1540.3 745.6 L1542.9 748.4 L1545.5 750.9 L1548.1 753.3 L1550.7 755.4 L1553.3 757.2 L1555.9 758.8 L1558.5 760.1 L1561.1 761.1 L1563.7 761.8 L1566.3 762.2 L1568.9 762.2 L1571.5 761.9 L1574.1 761.2 L1576.7 760.2 L1579.3 758.9 L1581.9 757.4 L1584.5 755.7 L1587.1 753.7 L1589.7 751.6 L1592.3 749.2 L1594.9 746.7 L1597.5 744.0 L1600.1 741.1 L1602.7 738.0 L1605.3 734.8 L1607.9 731.5 L1610.5 728.0 L1613.1 724.4 L1615.7 720.6 L1618.3 716.6 L1620.9 712.5 L1623.5 708.2 L1626.1 703.7 L1628.7 699.2 L1631.3 694.5 L1633.9 689.8 L1636.5 685.1 L1639.1 680.4 L1641.7 675.7 L1644.3 671.0 L1646.9 666.3 L1649.5 661.6 L1652.1 657.0 L1654.7 652.4 L1657.3 647.8 L1659.9 643.3 L1662.5 638.9 L1665.1 634.5 L1667.7 630.3 L1670.3 626.1 L1672.9 622.1 L1675.5 618.2 L1678.1 614.5 L1680.7 610.8 L1683.3 607.3 L1685.9 603.9 L1688.5 600.7 L1691.1 597.5 L1693.7 594.5 L1696.3 591.7 L1698.9 588.9 L1701.5 586.3 L1704.1 583.7 L1706.7 581.3 L1709.3 579.0 L1711.9 576.8 L1714.5 574.7 L1717.1 572.6 L1719.7 570.6 L1722.3 568.7 L1724.9 566.7 L1727.5 564.8 L1730.1 563.0 L1732.7 561.1 L1735.3 559.4 L1737.9 557.6 L1740.5 556.0 L1743.1 554.4 L1745.7 552.8 L1748.3 551.2 L1750.9 549.7 L1753.5 548.2 L1756.1 546.6 L1758.7 545.1 L1761.3 543.5 L1763.9 541.9 L1766.5 540.3 L1769.1 538.6 L1771.7 536.9 L1774.3 535.1 L1776.9 533.2 L1779.5 531.3 L1782.1 529.2 L1784.7 527.0 L1787.3 524.6 L1789.9 522.0 L1792.5 519.2 L1795.1 516.0 L1797.7 512.6 L1800.3 508.9 L1802.9 504.9 L1805.5 500.5 L1808.1 495.7 L1810.7 490.6 L1813.3 484.9 L1815.9 478.8 L1818.5 472.0 L1821.1 464.7 L1823.7 456.7 L1826.3 448.1 L1828.9 438.9 L1831.5 429.3 L1834.1 419.3 L1836.7 409.3 L1839.3 399.2 L1841.9 389.3 L1844.5 379.4 L1847.1 369.6 L1849.7 360.1 L1852.3 350.6 L1854.9 341.3 L1857.5 332.2 L1860.1 323.2 L1862.7 314.3 L1865.3 305.6 L1867.9 297.0 L1870.5 288.5 L1873.1 280.1 L1875.7 271.8 L1878.3 263.7 L1880.9 255.7 L1883.5 248.1 L1886.1 240.7 L1888.7 233.6 L1891.3 227.0 L1893.9 220.9 L1896.5 215.3 L1899.1 210.4 L1901.7 206.2 L1904.3 202.7 L1906.9 199.9 L1909.5 197.9 L1912.1 196.5 L1914.7 195.6 L1917.3 195.4 L1919.9 195.6 L1922.5 196.4 L1925.1 197.8 L1927.7 199.5 L1930.3 201.8 L1932.9 204.4 L1935.5 207.4 L1938.1 210.6 L1940.7 214.1 L1943.3 217.7 L1945.9 221.4 L1948.5 225.1 L1951.1 228.7 L1953.7 232.4 L1956.3 236.1 L1958.9 239.9 L1961.5 243.8 L1964.1 248.0 L1966.7 252.4 L1969.3 257.2 L1971.9 262.3 L1974.5 267.9 L1977.1 274.0 L1979.7 280.6 L1982.3 287.9 L1984.9 295.8 L1987.5 304.5 L1990.1 314.0 L1992.7 324.5 L1995.3 335.9 L1997.9 348.4 L2000.5 361.8 L2003.1 376.2 L2005.7 391.4 L2008.3 407.4 L2010.9 423.8 L2013.5 440.8 L2016.1 458.0 L2018.7 475.5 L2021.3 493.1 L2023.9 510.8 L2026.5 528.4 L2029.1 546.0 L2031.7 563.4 L2034.3 580.5 L2036.9 597.3 L2039.5 613.8 L2042.1 629.8 L2044.7 645.4 L2047.3 660.5 L2049.9 675.0 L2052.5 688.9 L2055.1 702.1 L2057.7 714.7 L2060.3 726.7 L2062.9 737.9 L2065.5 748.5 L2068.1 758.3 L2070.7 767.4 L2073.3 775.7 L2075.9 783.4 L2078.5 790.5 L2081.1 796.9 L2083.7 802.7 L2086.3 808.1 L2088.9 812.9 L2091.5 817.2 L2094.1 821.0 L2096.7 824.5 L2099.3 827.5 L2101.9 830.2 L2104.5 832.6 L2107.1 834.7 L2109.7 836.6 L2112.3 838.2 L2114.9 839.7 L2117.5 841.0 L2120.1 842.1 L2122.7 843.2 L2125.3 844.1 L2127.9 844.9 L2130.5 845.7 L2133.1 846.4 L2135.7 847.0 L2138.3 847.5 L2140.9 847.9 L2143.5 848.3 L2146.1 848.6 L2148.7 848.9 L2151.3 849.2 L2153.9 849.5 L2156.5 849.7 L2159.1 849.9 L2161.7 850.2 L2164.3 850.4 L2166.9 850.5 L2169.5 850.7 L2172.1 850.9 L2174.7 851.0 L2177.3 851.1 L2179.9 851.2 L2182.5 851.3 L2185.1 851.4 L2187.7 851.4 L2190.3 851.4 L2192.9 851.5 L2195.5 851.5 L2198.1 851.5 L2200.7 851.5 L2203.3 851.4 L2205.9 851.4 L2208.5 851.4 L2211.1 851.4 L2213.7 851.3 L2216.3 851.3 L2218.9 851.3 L2221.5 851.2 L2224.1 851.2 L2226.7 851.1 L2229.3 851.1 L2231.9 851.0 L2234.5 851.0 L2237.1 851.0 L2239.7 850.9 L2242.3 850.9 L2244.9 850.8 L2247.5 850.8 L2250.1 850.7 L2252.7 850.7 L2255.3 850.6 L2257.9 850.6 L2260.5 850.5 L2263.1 850.5 L2265.7 850.4 L2268.3 850.4 L2270.9 850.4 L2273.5 850.3 L2276.1 850.3 L2278.7 850.2 L2281.3 850.2 L2283.9 850.1 L2286.5 850.1 L2289.1 850.0 L2291.7 850.0 L2294.3 849.9 L2296.9 849.9 L2299.5 849.8 L2302.1 849.8 L2304.7 849.7 L2307.3 849.7 L2309.9 849.6 L2312.5 849.6 L2315.1 849.5 L2317.7 849.5 L2320.3 849.4 L2322.9 849.4 L2325.5 849.3 L2328.1 849.2 L2330.7 849.2 L2333.3 849.1 L2335.9 849.1 L2338.5 849.0 L2341.1 849.0" fill="none" stroke="#0000ff" stroke-width="9.5" stroke-linecap="round" stroke-linejoin="round"/>
<path d="M1334.9 740.1 L1337.5 741.1 L1340.1 742.6 L1342.7 744.4 L1345.3 746.5 L1347.9 748.8 L1350.5 751.3 L1353.1 754.0 L1355.7 756.9 L1358.3 759.9 L1360.9 763.1 L1363.5 766.4 L1366.1 769.8 L1368.7 773.5 L1371.3 777.8 L1373.9 782.9 L1376.5 788.3 L1379.1 793.4 L1381.7 797.7 L1384.3 800.8 L1386.9 803.0 L1389.5 804.7 L1392.1 806.1 L1394.7 807.1 L1397.3 807.8 L1399.9 808.0 L1402.5 807.9 L1405.1 807.7 L1407.7 807.3 L1410.3 806.7 L1412.9 806.1 L1415.5 805.4 L1418.1 804.7 L1420.7 803.9 L1423.3 803.1 L1425.9 802.4 L1428.5 801.6 L1431.1 800.9 L1433.7 800.3 L1436.3 799.8 L1438.9 799.4 L1441.5 799.1 L1444.1 798.8 L1446.7 798.6 L1449.3 798.4 L1451.9 798.2 L1454.5 798.0 L1457.1 797.8 L1459.7 797.8 L1462.3 797.8 L1464.9 798.0 L1467.5 798.5 L1470.1 799.2 L1472.7 800.1 L1475.3 801.2 L1477.9 802.4 L1480.5 803.7 L1483.1 805.2 L1485.7 806.8 L1488.3 808.9 L1490.9 811.4 L1493.5 814.2 L1496.1 817.2 L1498.7 820.2 L1501.3 823.3 L1503.9 826.3 L1506.5 829.1 L1509.1 831.5 L1511.7 833.6 L1514.3 835.2 L1516.9 836.6 L1519.5 837.9 L1522.1 839.1 L1524.7 840.3 L1527.3 841.4 L1529.9 842.4 L1532.5 843.4 L1535.1 844.2 L1537.7 844.9 L1540.3 845.5 L1542.9 845.9 L1545.5 846.2 L1548.1 846.3 L1550.7 846.4 L1553.3 846.4 L1555.9 846.4 L1558.5 846.4 L1561.1 846.4 L1563.7 846.4 L1566.3 846.4 L1568.9 846.4 L1571.5 846.4 L1574.1 846.4 L1576.7 846.4 L1579.3 846.4 L1581.9 846.4 L1584.5 846.4 L1587.1 846.3 L1589.7 846.2 L1592.3 845.9 L1594.9 845.4 L1597.5 844.8 L1600.1 844.1 L1602.7 843.2 L1605.3 842.2 L1607.9 841.2 L1610.5 840.0 L1613.1 838.9 L1615.7 837.7 L1618.3 836.5 L1620.9 835.3 L1623.5 834.2 L1626.1 833.1 L1628.7 832.0 L1631.3 831.1 L1633.9 830.2 L1636.5 829.3 L1639.1 828.4 L1641.7 827.6 L1644.3 826.7 L1646.9 825.8 L1649.5 825.0 L1652.1 824.2 L1654.7 823.3 L1657.3 822.5 L1659.9 821.6 L1662.5 820.8 L1665.1 820.0 L1667.7 819.2 L1670.3 818.3 L1672.9 817.5 L1675.5 816.6 L1678.1 815.8 L1680.7 814.8 L1683.3 813.9 L1685.9 813.0 L1688.5 812.0 L1691.1 811.1 L1693.7 810.2 L1696.3 809.4 L1698.9 808.5 L1701.5 807.8 L1704.1 807.1 L1706.7 806.4 L1709.3 805.9 L1711.9 805.4 L1714.5 805.1 L1717.1 804.8 L1719.7 804.5 L1722.3 804.3 L1724.9 804.1 L1727.5 803.9 L1730.1 803.7 L1732.7 803.6 L1735.3 803.5 L1737.9 803.3 L1740.5 803.2 L1743.1 803.0 L1745.7 802.8 L1748.3 802.6 L1750.9 802.4 L1753.5 802.2 L1756.1 801.9 L1758.7 801.5 L1761.3 801.1 L1763.9 800.6 L1766.5 800.0 L1769.1 799.4 L1771.7 798.7 L1774.3 797.9 L1776.9 797.1 L1779.5 796.3 L1782.1 795.4 L1784.7 794.5 L1787.3 793.5 L1789.9 792.5 L1792.5 791.5 L1795.1 790.4 L1797.7 789.3 L1800.3 788.2 L1802.9 787.1 L1805.5 785.8 L1808.1 784.5 L1810.7 783.0 L1813.3 781.5 L1815.9 779.9 L1818.5 778.2 L1821.1 776.4 L1823.7 774.6 L1826.3 772.8 L1828.9 770.9 L1831.5 769.0 L1834.1 767.1 L1836.7 765.1 L1839.3 763.1 L1841.9 761.0 L1844.5 758.8 L1847.1 756.5 L1849.7 754.1 L1852.3 751.6 L1854.9 749.0 L1857.5 746.5 L1860.1 744.0 L1862.7 741.5 L1865.3 739.1 L1867.9 736.8 L1870.5 734.6 L1873.1 732.6 L1875.7 730.7 L1878.3 728.8 L1880.9 727.0 L1883.5 725.2 L1886.1 723.5 L1888.7 721.8 L1891.3 720.2 L1893.9 718.7 L1896.5 717.3 L1899.1 716.0 L1901.7 714.7 L1904.3 713.6 L1906.9 712.6 L1909.5 711.7 L1912.1 710.7 L1914.7 709.8 L1917.3 709.0 L1919.9 708.3 L1922.5 707.7 L1925.1 707.4 L1927.7 707.3 L1930.3 707.5 L1932.9 708.0 L1935.5 708.8 L1938.1 709.8 L1940.7 710.9 L1943.3 712.2 L1945.9 713.5 L1948.5 714.8 L1951.1 716.0 L1953.7 717.3 L1956.3 718.5 L1958.9 719.9 L1961.5 721.3 L1964.1 722.7 L1966.7 724.2 L1969.3 725.9 L1971.9 727.5 L1974.5 729.3 L1977.1 731.2 L1979.7 733.2 L1982.3 735.3 L1984.9 737.6 L1987.5 740.0 L1990.1 742.8 L1992.7 746.0 L1995.3 749.6 L1997.9 753.4 L2000.5 757.6 L2003.1 761.8 L2005.7 766.1 L2008.3 770.4 L2010.9 774.7 L2013.5 778.9 L2016.1 783.2 L2018.7 787.6 L2021.3 792.1 L2023.9 796.6 L2026.5 801.1 L2029.1 805.6 L2031.7 810.2 L2034.3 814.9 L2036.9 819.9 L2039.5 824.9 L2042.1 829.9 L2044.7 834.8 L2047.3 839.3 L2049.9 843.5 L2052.5 847.2 L2055.1 850.4 L2057.7 853.3 L2060.3 855.9 L2062.9 858.4 L2065.5 860.7 L2068.1 862.9 L2070.7 865.0 L2073.3 866.9 L2075.9 868.7 L2078.5 870.3 L2081.1 871.9 L2083.7 873.3 L2086.3 874.6 L2088.9 875.8 L2091.5 877.0 L2094.1 878.2 L2096.7 879.4 L2099.3 880.4 L2101.9 881.4 L2104.5 882.4 L2107.1 883.2 L2109.7 883.8 L2112.3 884.4 L2114.9 884.8 L2117.5 885.1 L2120.1 885.2 L2122.7 885.4 L2125.3 885.5 L2127.9 885.6 L2130.5 885.8 L2133.1 885.9 L2135.7 886.0 L2138.3 886.1 L2140.9 886.3 L2143.5 886.4 L2146.1 886.5 L2148.7 886.6 L2151.3 886.7 L2153.9 886.8 L2156.5 887.0 L2159.1 887.1 L2161.7 887.2 L2164.3 887.3 L2166.9 887.4 L2169.5 887.5 L2172.1 887.6 L2174.7 887.6 L2177.3 887.7 L2179.9 887.8 L2182.5 887.9 L2185.1 888.0 L2187.7 888.1 L2190.3 888.2 L2192.9 888.3 L2195.5 888.3 L2198.1 888.4 L2200.7 888.5 L2203.3 888.6 L2205.9 888.6 L2208.5 888.7 L2211.1 888.8 L2213.7 888.8 L2216.3 888.9 L2218.9 889.0 L2221.5 889.0 L2224.1 889.1 L2226.7 889.1 L2229.3 889.2 L2231.9 889.2 L2234.5 889.3 L2237.1 889.3 L2239.7 889.4 L2242.3 889.4 L2244.9 889.5 L2247.5 889.5 L2250.1 889.6 L2252.7 889.6 L2255.3 889.7 L2257.9 889.7 L2260.5 889.7 L2263.1 889.8 L2265.7 889.8 L2268.3 889.8 L2270.9 889.9 L2273.5 889.9 L2276.1 889.9 L2278.7 890.0 L2281.3 890.0 L2283.9 890.0 L2286.5 890.1 L2289.1 890.1 L2291.7 890.1 L2294.3 890.1 L2296.9 890.1 L2299.5 890.2 L2302.1 890.2 L2304.7 890.2 L2307.3 890.2 L2309.9 890.2 L2312.5 890.2 L2315.1 890.3 L2317.7 890.3 L2320.3 890.3 L2322.9 890.3 L2325.5 890.3 L2328.1 890.3 L2330.7 890.3 L2333.3 890.3 L2335.9 890.3 L2338.5 890.3 L2341.1 890.3 L2343.7 890.3 L2346.3 890.3 L2348.9 890.3 L2351.5 890.3" fill="none" stroke="#ff0000" stroke-width="9" stroke-linecap="round" stroke-linejoin="round" stroke-dasharray="35.5 52.5" stroke-dashoffset="0"/>
<path d="M1311.5 744.7 L1314.1 746.2 L1316.7 748.3 L1319.3 750.6 L1321.9 752.9 L1324.5 755.3 L1327.1 757.7 L1329.7 760.0 L1332.3 762.5 L1334.9 764.9 L1337.5 767.3 L1340.1 769.8 L1342.7 772.3 L1345.3 774.8 L1347.9 777.4 L1350.5 780.0 L1353.1 782.8 L1355.7 785.8 L1358.3 789.1 L1360.9 792.5 L1363.5 796.0 L1366.1 799.4 L1368.7 802.8 L1371.3 806.0 L1373.9 808.9 L1376.5 811.5 L1379.1 813.7 L1381.7 815.3 L1384.3 816.4 L1386.9 817.1 L1389.5 817.5 L1392.1 817.8 L1394.7 818.1 L1397.3 818.4 L1399.9 818.7 L1402.5 818.9 L1405.1 819.1 L1407.7 819.3 L1410.3 819.5 L1412.9 819.7 L1415.5 819.8 L1418.1 819.9 L1420.7 820.0 L1423.3 820.1 L1425.9 820.1 L1428.5 820.2 L1431.1 820.2 L1433.7 820.1 L1436.3 820.0 L1438.9 819.9 L1441.5 819.6 L1444.1 819.4 L1446.7 819.2 L1449.3 818.9 L1451.9 818.7 L1454.5 818.5 L1457.1 818.3 L1459.7 818.2 L1462.3 818.2 L1464.9 818.3 L1467.5 818.6 L1470.1 819.0 L1472.7 819.6 L1475.3 820.3 L1477.9 821.0 L1480.5 821.9 L1483.1 822.8 L1485.7 824.1 L1488.3 825.7 L1490.9 827.7 L1493.5 829.9 L1496.1 832.3 L1498.7 834.9 L1501.3 837.6 L1503.9 840.2 L1506.5 842.9 L1509.1 845.3 L1511.7 847.6 L1514.3 849.7 L1516.9 851.4 L1519.5 852.7 L1522.1 853.6 L1524.7 854.2 L1527.3 854.5 L1529.9 854.7 L1532.5 854.8 L1535.1 855.0 L1537.7 855.2 L1540.3 855.3 L1542.9 855.5 L1545.5 855.6 L1548.1 855.7 L1550.7 855.8 L1553.3 855.9 L1555.9 856.0 L1558.5 856.1 L1561.1 856.2 L1563.7 856.2 L1566.3 856.3 L1568.9 856.3 L1571.5 856.3 L1574.1 856.3 L1576.7 856.2 L1579.3 856.1 L1581.9 856.0 L1584.5 855.7 L1587.1 855.4 L1589.7 855.1 L1592.3 854.7 L1594.9 854.2 L1597.5 853.7 L1600.1 853.2 L1602.7 852.7 L1605.3 852.1 L1607.9 851.5 L1610.5 850.9 L1613.1 850.3 L1615.7 849.7 L1618.3 849.1 L1620.9 848.5 L1623.5 847.9 L1626.1 847.3 L1628.7 846.7 L1631.3 846.0 L1633.9 845.2 L1636.5 844.5 L1639.1 843.6 L1641.7 842.8 L1644.3 841.9 L1646.9 841.0 L1649.5 840.1 L1652.1 839.2 L1654.7 838.3 L1657.3 837.5 L1659.9 836.6 L1662.5 835.8 L1665.1 835.0 L1667.7 834.2 L1670.3 833.5 L1672.9 832.9 L1675.5 832.3 L1678.1 831.7 L1680.7 831.2 L1683.3 830.7 L1685.9 830.2 L1688.5 829.7 L1691.1 829.2 L1693.7 828.7 L1696.3 828.3 L1698.9 827.9 L1701.5 827.4 L1704.1 827.0 L1706.7 826.6 L1709.3 826.2 L1711.9 825.9 L1714.5 825.5 L1717.1 825.1 L1719.7 824.8 L1722.3 824.4 L1724.9 824.1 L1727.5 823.8 L1730.1 823.5 L1732.7 823.2 L1735.3 822.9 L1737.9 822.7 L1740.5 822.4 L1743.1 822.2 L1745.7 822.0 L1748.3 821.8 L1750.9 821.5 L1753.5 821.3 L1756.1 821.1 L1758.7 820.9 L1761.3 820.6 L1763.9 820.3 L1766.5 820.0 L1769.1 819.7 L1771.7 819.4 L1774.3 819.0 L1776.9 818.6 L1779.5 818.1 L1782.1 817.6 L1784.7 817.0 L1787.3 816.3 L1789.9 815.5 L1792.5 814.7 L1795.1 813.8 L1797.7 812.8 L1800.3 811.8 L1802.9 810.8 L1805.5 809.7 L1808.1 808.6 L1810.7 807.4 L1813.3 806.2 L1815.9 805.0 L1818.5 803.8 L1821.1 802.5 L1823.7 801.3 L1826.3 800.0 L1828.9 798.7 L1831.5 797.3 L1834.1 795.9 L1836.7 794.3 L1839.3 792.6 L1841.9 790.8 L1844.5 789.0 L1847.1 787.1 L1849.7 785.2 L1852.3 783.3 L1854.9 781.4 L1857.5 779.5 L1860.1 777.6 L1862.7 775.8 L1865.3 774.1 L1867.9 772.4 L1870.5 770.8 L1873.1 769.4 L1875.7 767.9 L1878.3 766.5 L1880.9 765.1 L1883.5 763.7 L1886.1 762.2 L1888.7 760.8 L1891.3 759.4 L1893.9 758.0 L1896.5 756.7 L1899.1 755.5 L1901.7 754.3 L1904.3 753.3 L1906.9 752.3 L1909.5 751.5 L1912.1 750.8 L1914.7 750.2 L1917.3 749.8 L1919.9 749.6 L1922.5 749.4 L1925.1 749.3 L1927.7 749.2 L1930.3 749.1 L1932.9 749.1 L1935.5 749.1 L1938.1 749.2 L1940.7 749.6 L1943.3 750.1 L1945.9 750.8 L1948.5 751.6 L1951.1 752.6 L1953.7 753.7 L1956.3 754.8 L1958.9 756.1 L1961.5 757.4 L1964.1 758.8 L1966.7 760.2 L1969.3 761.6 L1971.9 763.0 L1974.5 764.6 L1977.1 766.3 L1979.7 768.2 L1982.3 770.2 L1984.9 772.4 L1987.5 774.7 L1990.1 777.1 L1992.7 779.6 L1995.3 782.2 L1997.9 784.8 L2000.5 787.6 L2003.1 790.4 L2005.7 793.2 L2008.3 796.1 L2010.9 799.1 L2013.5 802.2 L2016.1 805.5 L2018.7 809.2 L2021.3 813.0 L2023.9 817.1 L2026.5 821.2 L2029.1 825.4 L2031.7 829.5 L2034.3 833.4 L2036.9 837.2 L2039.5 840.6 L2042.1 843.8 L2044.7 846.7 L2047.3 849.5 L2049.9 852.2 L2052.5 854.8 L2055.1 857.4 L2057.7 859.9 L2060.3 862.2 L2062.9 864.5 L2065.5 866.6 L2068.1 868.6 L2070.7 870.4 L2073.3 871.9 L2075.9 873.4 L2078.5 874.6 L2081.1 875.7 L2083.7 876.7 L2086.3 877.7 L2088.9 878.6 L2091.5 879.5 L2094.1 880.4 L2096.7 881.2 L2099.3 881.9 L2101.9 882.6 L2104.5 883.2 L2107.1 883.8 L2109.7 884.2 L2112.3 884.6 L2114.9 884.9 L2117.5 885.1 L2120.1 885.2 L2122.7 885.4 L2125.3 885.5 L2127.9 885.6 L2130.5 885.7 L2133.1 885.9 L2135.7 886.0 L2138.3 886.1 L2140.9 886.2 L2143.5 886.3 L2146.1 886.5 L2148.7 886.6 L2151.3 886.7 L2153.9 886.8 L2156.5 886.9 L2159.1 887.0 L2161.7 887.1 L2164.3 887.2 L2166.9 887.3 L2169.5 887.4 L2172.1 887.5 L2174.7 887.6 L2177.3 887.7 L2179.9 887.8 L2182.5 887.8 L2185.1 887.9 L2187.7 888.0 L2190.3 888.1 L2192.9 888.2 L2195.5 888.3 L2198.1 888.3 L2200.7 888.4 L2203.3 888.5 L2205.9 888.5 L2208.5 888.6 L2211.1 888.7 L2213.7 888.8 L2216.3 888.8 L2218.9 888.9 L2221.5 888.9 L2224.1 889.0 L2226.7 889.1 L2229.3 889.1 L2231.9 889.2 L2234.5 889.2 L2237.1 889.3 L2239.7 889.3 L2242.3 889.4 L2244.9 889.4 L2247.5 889.5 L2250.1 889.5 L2252.7 889.6 L2255.3 889.6 L2257.9 889.7 L2260.5 889.7 L2263.1 889.7 L2265.7 889.8 L2268.3 889.8 L2270.9 889.8 L2273.5 889.9 L2276.1 889.9 L2278.7 889.9 L2281.3 890.0 L2283.9 890.0 L2286.5 890.0 L2289.1 890.0 L2291.7 890.1 L2294.3 890.1 L2296.9 890.1 L2299.5 890.1 L2302.1 890.2 L2304.7 890.2 L2307.3 890.2 L2309.9 890.2 L2312.5 890.2 L2315.1 890.2 L2317.7 890.3 L2320.3 890.3 L2322.9 890.3 L2325.5 890.3 L2328.1 890.3 L2330.7 890.3 L2333.3 890.3 L2335.9 890.3 L2338.5 890.3 L2341.1 890.3 L2343.7 890.3 L2346.3 890.3 L2348.9 890.3 L2351.5 890.3" fill="none" stroke="#00fa00" stroke-width="9" stroke-linecap="round" stroke-linejoin="round" stroke-dasharray="4 46" stroke-dashoffset="47.1"/>
<path d="M1311.5 791.4 L1314.1 792.3 L1316.7 793.5 L1319.3 794.8 L1321.9 796.1 L1324.5 797.4 L1327.1 798.7 L1329.7 800.0 L1332.3 801.4 L1334.9 802.7 L1337.5 804.1 L1340.1 805.6 L1342.7 807.1 L1345.3 808.6 L1347.9 810.1 L1350.5 811.7 L1353.1 813.2 L1355.7 814.8 L1358.3 816.3 L1360.9 817.8 L1363.5 819.2 L1366.1 820.6 L1368.7 821.9 L1371.3 823.2 L1373.9 824.4 L1376.5 825.4 L1379.1 826.4 L1381.7 827.3 L1384.3 828.2 L1386.9 829.1 L1389.5 830.0 L1392.1 830.9 L1394.7 831.6 L1397.3 832.3 L1399.9 832.9 L1402.5 833.3 L1405.1 833.6 L1407.7 833.7 L1410.3 833.7 L1412.9 833.7 L1415.5 833.6 L1418.1 833.4 L1420.7 833.2 L1423.3 833.1 L1425.9 832.9 L1428.5 832.7 L1431.1 832.5 L1433.7 832.4 L1436.3 832.3 L1438.9 832.3 L1441.5 832.3 L1444.1 832.4 L1446.7 832.5 L1449.3 832.7 L1451.9 833.0 L1454.5 833.3 L1457.1 833.7 L1459.7 834.1 L1462.3 834.6 L1464.9 835.0 L1467.5 835.6 L1470.1 836.1 L1472.7 836.7 L1475.3 837.3 L1477.9 837.9 L1480.5 838.5 L1483.1 839.2 L1485.7 839.8 L1488.3 840.5 L1490.9 841.3 L1493.5 842.3 L1496.1 843.4 L1498.7 844.5 L1501.3 845.7 L1503.9 846.9 L1506.5 848.0 L1509.1 849.0 L1511.7 849.9 L1514.3 850.6 L1516.9 851.3 L1519.5 851.8 L1522.1 852.3 L1524.7 852.8 L1527.3 853.2 L1529.9 853.6 L1532.5 854.0 L1535.1 854.4 L1537.7 854.7 L1540.3 854.9 L1542.9 855.1 L1545.5 855.2 L1548.1 855.2 L1550.7 855.3 L1553.3 855.3 L1555.9 855.3 L1558.5 855.3 L1561.1 855.3 L1563.7 855.3 L1566.3 855.3 L1568.9 855.3 L1571.5 855.3 L1574.1 855.3 L1576.7 855.3 L1579.3 855.3 L1581.9 855.3 L1584.5 855.3 L1587.1 855.2 L1589.7 855.2 L1592.3 855.1 L1594.9 854.9 L1597.5 854.7 L1600.1 854.5 L1602.7 854.2 L1605.3 853.9 L1607.9 853.6 L1610.5 853.3 L1613.1 853.0 L1615.7 852.8 L1618.3 852.5 L1620.9 852.3 L1623.5 852.1 L1626.1 851.9 L1628.7 851.7 L1631.3 851.5 L1633.9 851.3 L1636.5 851.1 L1639.1 850.9 L1641.7 850.7 L1644.3 850.5 L1646.9 850.3 L1649.5 850.1 L1652.1 850.0 L1654.7 849.8 L1657.3 849.6 L1659.9 849.5 L1662.5 849.3 L1665.1 849.2 L1667.7 849.0 L1670.3 848.9 L1672.9 848.7 L1675.5 848.6 L1678.1 848.5 L1680.7 848.3 L1683.3 848.2 L1685.9 848.0 L1688.5 847.9 L1691.1 847.7 L1693.7 847.6 L1696.3 847.4 L1698.9 847.3 L1701.5 847.1 L1704.1 846.9 L1706.7 846.7 L1709.3 846.6 L1711.9 846.4 L1714.5 846.2 L1717.1 846.0 L1719.7 845.9 L1722.3 845.7 L1724.9 845.5 L1727.5 845.3 L1730.1 845.1 L1732.7 845.0 L1735.3 844.8 L1737.9 844.6 L1740.5 844.5 L1743.1 844.3 L1745.7 844.1 L1748.3 843.9 L1750.9 843.8 L1753.5 843.6 L1756.1 843.4 L1758.7 843.2 L1761.3 843.1 L1763.9 842.9 L1766.5 842.8 L1769.1 842.6 L1771.7 842.5 L1774.3 842.3 L1776.9 842.2 L1779.5 842.0 L1782.1 841.9 L1784.7 841.7 L1787.3 841.6 L1789.9 841.4 L1792.5 841.2 L1795.1 841.0 L1797.7 840.8 L1800.3 840.6 L1802.9 840.3 L1805.5 840.1 L1808.1 839.7 L1810.7 839.4 L1813.3 838.9 L1815.9 838.4 L1818.5 837.9 L1821.1 837.3 L1823.7 836.7 L1826.3 836.0 L1828.9 835.4 L1831.5 834.7 L1834.1 834.0 L1836.7 833.3 L1839.3 832.5 L1841.9 831.7 L1844.5 830.8 L1847.1 829.9 L1849.7 828.9 L1852.3 827.9 L1854.9 827.0 L1857.5 826.0 L1860.1 825.1 L1862.7 824.2 L1865.3 823.4 L1867.9 822.7 L1870.5 822.0 L1873.1 821.4 L1875.7 820.7 L1878.3 820.1 L1880.9 819.4 L1883.5 818.8 L1886.1 818.2 L1888.7 817.6 L1891.3 817.0 L1893.9 816.5 L1896.5 816.0 L1899.1 815.5 L1901.7 815.1 L1904.3 814.7 L1906.9 814.5 L1909.5 814.2 L1912.1 814.1 L1914.7 814.0 L1917.3 813.9 L1919.9 814.0 L1922.5 814.0 L1925.1 814.1 L1927.7 814.3 L1930.3 814.4 L1932.9 814.6 L1935.5 814.8 L1938.1 815.0 L1940.7 815.2 L1943.3 815.4 L1945.9 815.6 L1948.5 815.8 L1951.1 816.0 L1953.7 816.3 L1956.3 816.6 L1958.9 816.9 L1961.5 817.2 L1964.1 817.5 L1966.7 817.9 L1969.3 818.3 L1971.9 818.8 L1974.5 819.3 L1977.1 819.9 L1979.7 820.6 L1982.3 821.5 L1984.9 822.5 L1987.5 823.6 L1990.1 824.9 L1992.7 826.2 L1995.3 827.7 L1997.9 829.2 L2000.5 830.7 L2003.1 832.4 L2005.7 834.0 L2008.3 835.7 L2010.9 837.4 L2013.5 839.1 L2016.1 840.7 L2018.7 842.4 L2021.3 844.0 L2023.9 845.6 L2026.5 847.3 L2029.1 849.0 L2031.7 850.8 L2034.3 852.6 L2036.9 854.4 L2039.5 856.2 L2042.1 857.9 L2044.7 859.5 L2047.3 861.1 L2049.9 862.6 L2052.5 864.1 L2055.1 865.6 L2057.7 867.1 L2060.3 868.6 L2062.9 870.1 L2065.5 871.4 L2068.1 872.6 L2070.7 873.7 L2073.3 874.5 L2075.9 875.2 L2078.5 875.6 L2081.1 875.9 L2083.7 876.2 L2086.3 876.4 L2088.9 876.6 L2091.5 876.8 L2094.1 877.0 L2096.7 877.1 L2099.3 877.3 L2101.9 877.4 L2104.5 877.5 L2107.1 877.6 L2109.7 877.7 L2112.3 877.7 L2114.9 877.8 L2117.5 877.8 L2120.1 877.8 L2122.7 877.8 L2125.3 877.8 L2127.9 877.8 L2130.5 877.8 L2133.1 877.8 L2135.7 877.8 L2138.3 877.8 L2140.9 877.8 L2143.5 877.8 L2146.1 877.8 L2148.7 877.8 L2151.3 877.8 L2153.9 877.8 L2156.5 877.8 L2159.1 877.8 L2161.7 877.8 L2164.3 877.8 L2166.9 877.8 L2169.5 877.8 L2172.1 877.8 L2174.7 877.8 L2177.3 877.8 L2179.9 877.8 L2182.5 877.8 L2185.1 877.8 L2187.7 877.8 L2190.3 877.8 L2192.9 877.8 L2195.5 877.8 L2198.1 877.8 L2200.7 877.8 L2203.3 877.8 L2205.9 877.8 L2208.5 877.8 L2211.1 877.8 L2213.7 877.8 L2216.3 877.8 L2218.9 877.8 L2221.5 877.8 L2224.1 877.8 L2226.7 877.8 L2229.3 877.8 L2231.9 877.8 L2234.5 877.8 L2237.1 877.8 L2239.7 877.8 L2242.3 877.8 L2244.9 877.8 L2247.5 877.8 L2250.1 877.8 L2252.7 877.8 L2255.3 877.8 L2257.9 877.8 L2260.5 877.8 L2263.1 877.8 L2265.7 877.8 L2268.3 877.8 L2270.9 877.8 L2273.5 877.8 L2276.1 877.8 L2278.7 877.8 L2281.3 877.8 L2283.9 877.8 L2286.5 877.8 L2289.1 877.8 L2291.7 877.8 L2294.3 877.8 L2296.9 877.8 L2299.5 877.8 L2302.1 877.8 L2304.7 877.8 L2307.3 877.8 L2309.9 877.8 L2312.5 877.8 L2315.1 877.8 L2317.7 877.8 L2320.3 877.8 L2322.9 877.8 L2325.5 877.8 L2328.1 877.8 L2330.7 877.8 L2333.3 877.8 L2335.9 877.8 L2338.5 877.8 L2341.1 877.8 L2343.7 877.8 L2346.3 877.8 L2348.9 877.8 L2351.5 877.8" fill="none" stroke="#ff00ff" stroke-width="9" stroke-linecap="round" stroke-linejoin="round" stroke-dasharray="41 31 5 31" stroke-dashoffset="75.5"/>
<path d="M1311.5 826.7 L1314.1 827.2 L1316.7 827.8 L1319.3 828.5 L1321.9 829.1 L1324.5 829.7 L1327.1 830.3 L1329.7 830.9 L1332.3 831.4 L1334.9 831.9 L1337.5 832.5 L1340.1 833.0 L1342.7 833.6 L1345.3 834.2 L1347.9 834.7 L1350.5 835.4 L1353.1 836.0 L1355.7 836.7 L1358.3 837.5 L1360.9 838.4 L1363.5 839.4 L1366.1 840.5 L1368.7 841.7 L1371.3 842.9 L1373.9 844.2 L1376.5 845.4 L1379.1 846.5 L1381.7 847.5 L1384.3 848.5 L1386.9 849.3 L1389.5 850.0 L1392.1 850.7 L1394.7 851.5 L1397.3 852.2 L1399.9 852.8 L1402.5 853.5 L1405.1 854.0 L1407.7 854.6 L1410.3 855.0 L1412.9 855.3 L1415.5 855.6 L1418.1 855.7 L1420.7 855.8 L1423.3 855.8 L1425.9 855.8 L1428.5 855.8 L1431.1 855.8 L1433.7 855.8 L1436.3 855.8 L1438.9 855.8 L1441.5 855.8 L1444.1 855.8 L1446.7 855.8 L1449.3 855.8 L1451.9 855.8 L1454.5 855.9 L1457.1 856.0 L1459.7 856.1 L1462.3 856.3 L1464.9 856.6 L1467.5 856.9 L1470.1 857.2 L1472.7 857.6 L1475.3 858.0 L1477.9 858.4 L1480.5 858.9 L1483.1 859.3 L1485.7 859.8 L1488.3 860.3 L1490.9 861.0 L1493.5 861.9 L1496.1 862.9 L1498.7 863.9 L1501.3 865.0 L1503.9 866.0 L1506.5 867.0 L1509.1 867.7 L1511.7 868.3 L1514.3 868.7 L1516.9 868.8 L1519.5 868.9 L1522.1 868.9 L1524.7 868.9 L1527.3 868.9 L1529.9 868.9 L1532.5 868.9 L1535.1 868.9 L1537.7 868.9 L1540.3 868.9 L1542.9 868.9 L1545.5 868.9 L1548.1 868.9 L1550.7 868.9 L1553.3 868.9 L1555.9 868.9 L1558.5 868.9 L1561.1 869.0 L1563.7 869.0 L1566.3 869.1 L1568.9 869.2 L1571.5 869.2 L1574.1 869.3 L1576.7 869.3 L1579.3 869.4 L1581.9 869.4 L1584.5 869.4 L1587.1 869.4 L1589.7 869.4 L1592.3 869.4 L1594.9 869.3 L1597.5 869.3 L1600.1 869.2 L1602.7 869.2 L1605.3 869.2 L1607.9 869.1 L1610.5 869.0 L1613.1 869.0 L1615.7 868.9 L1618.3 868.8 L1620.9 868.7 L1623.5 868.4 L1626.1 868.2 L1628.7 867.9 L1631.3 867.6 L1633.9 867.3 L1636.5 866.9 L1639.1 866.7 L1641.7 866.4 L1644.3 866.2 L1646.9 866.1 L1649.5 866.0 L1652.1 866.0 L1654.7 866.0 L1657.3 866.0 L1659.9 866.0 L1662.5 866.0 L1665.1 866.0 L1667.7 866.0 L1670.3 866.0 L1672.9 866.0 L1675.5 866.0 L1678.1 866.0 L1680.7 866.0 L1683.3 866.0 L1685.9 865.9 L1688.5 865.9 L1691.1 865.7 L1693.7 865.6 L1696.3 865.4 L1698.9 865.2 L1701.5 865.0 L1704.1 864.8 L1706.7 864.6 L1709.3 864.4 L1711.9 864.2 L1714.5 864.1 L1717.1 864.0 L1719.7 863.9 L1722.3 863.9 L1724.9 863.8 L1727.5 863.7 L1730.1 863.7 L1732.7 863.6 L1735.3 863.5 L1737.9 863.5 L1740.5 863.4 L1743.1 863.3 L1745.7 863.2 L1748.3 863.1 L1750.9 863.0 L1753.5 862.9 L1756.1 862.7 L1758.7 862.6 L1761.3 862.4 L1763.9 862.2 L1766.5 862.0 L1769.1 861.8 L1771.7 861.6 L1774.3 861.5 L1776.9 861.3 L1779.5 861.1 L1782.1 861.0 L1784.7 860.8 L1787.3 860.7 L1789.9 860.5 L1792.5 860.4 L1795.1 860.3 L1797.7 860.1 L1800.3 860.0 L1802.9 859.9 L1805.5 859.7 L1808.1 859.5 L1810.7 859.3 L1813.3 859.1 L1815.9 858.9 L1818.5 858.6 L1821.1 858.3 L1823.7 857.9 L1826.3 857.4 L1828.9 856.9 L1831.5 856.4 L1834.1 855.9 L1836.7 855.3 L1839.3 854.8 L1841.9 854.2 L1844.5 853.7 L1847.1 853.2 L1849.7 852.7 L1852.3 852.1 L1854.9 851.6 L1857.5 851.0 L1860.1 850.5 L1862.7 849.9 L1865.3 849.3 L1867.9 848.8 L1870.5 848.3 L1873.1 847.8 L1875.7 847.3 L1878.3 846.9 L1880.9 846.6 L1883.5 846.3 L1886.1 846.0 L1888.7 845.7 L1891.3 845.4 L1893.9 845.1 L1896.5 844.8 L1899.1 844.6 L1901.7 844.4 L1904.3 844.2 L1906.9 844.1 L1909.5 844.1 L1912.1 844.0 L1914.7 844.1 L1917.3 844.1 L1919.9 844.2 L1922.5 844.3 L1925.1 844.5 L1927.7 844.6 L1930.3 844.8 L1932.9 845.0 L1935.5 845.2 L1938.1 845.4 L1940.7 845.6 L1943.3 845.8 L1945.9 846.0 L1948.5 846.2 L1951.1 846.5 L1953.7 846.7 L1956.3 847.0 L1958.9 847.2 L1961.5 847.5 L1964.1 847.8 L1966.7 848.2 L1969.3 848.5 L1971.9 848.9 L1974.5 849.3 L1977.1 849.8 L1979.7 850.3 L1982.3 850.8 L1984.9 851.4 L1987.5 852.1 L1990.1 852.9 L1992.7 853.7 L1995.3 854.5 L1997.9 855.4 L2000.5 856.4 L2003.1 857.3 L2005.7 858.3 L2008.3 859.3 L2010.9 860.3 L2013.5 861.3 L2016.1 862.3 L2018.7 863.5 L2021.3 864.7 L2023.9 866.0 L2026.5 867.3 L2029.1 868.7 L2031.7 869.9 L2034.3 871.1 L2036.9 872.1 L2039.5 873.0 L2042.1 873.7 L2044.7 874.4 L2047.3 874.9 L2049.9 875.5 L2052.5 876.0 L2055.1 876.5 L2057.7 876.9 L2060.3 877.3 L2062.9 877.6 L2065.5 877.9 L2068.1 878.1 L2070.7 878.3 L2073.3 878.5 L2075.9 878.6 L2078.5 878.8 L2081.1 878.9 L2083.7 879.0 L2086.3 879.1 L2088.9 879.2 L2091.5 879.3 L2094.1 879.4 L2096.7 879.5 L2099.3 879.6 L2101.9 879.7 L2104.5 879.7 L2107.1 879.8 L2109.7 879.8 L2112.3 879.8 L2114.9 879.9 L2117.5 879.9 L2120.1 879.9 L2122.7 879.9 L2125.3 879.9 L2127.9 879.9 L2130.5 879.9 L2133.1 879.9 L2135.7 879.9 L2138.3 879.9 L2140.9 879.9 L2143.5 879.9 L2146.1 879.9 L2148.7 879.9 L2151.3 879.9 L2153.9 879.9 L2156.5 879.9 L2159.1 879.9 L2161.7 879.9 L2164.3 879.9 L2166.9 879.9 L2169.5 879.9 L2172.1 879.9 L2174.7 879.9 L2177.3 879.9 L2179.9 879.9 L2182.5 879.9 L2185.1 879.9 L2187.7 879.9 L2190.3 879.9 L2192.9 879.9 L2195.5 879.9 L2198.1 879.9 L2200.7 879.9 L2203.3 879.9 L2205.9 879.9 L2208.5 879.9 L2211.1 879.9 L2213.7 879.9 L2216.3 879.9 L2218.9 879.9 L2221.5 879.9 L2224.1 879.9 L2226.7 879.9 L2229.3 879.9 L2231.9 879.9 L2234.5 879.9 L2237.1 879.9 L2239.7 879.9 L2242.3 879.9 L2244.9 879.9 L2247.5 879.9 L2250.1 879.9 L2252.7 879.9 L2255.3 879.9 L2257.9 879.9 L2260.5 879.9 L2263.1 879.9 L2265.7 879.9 L2268.3 879.9 L2270.9 879.9 L2273.5 879.9 L2276.1 879.9 L2278.7 879.9 L2281.3 879.9 L2283.9 879.9 L2286.5 879.9 L2289.1 879.9 L2291.7 879.9 L2294.3 879.9 L2296.9 879.9 L2299.5 879.9 L2302.1 879.9 L2304.7 879.9 L2307.3 879.9 L2309.9 879.9 L2312.5 879.9 L2315.1 879.9 L2317.7 879.9 L2320.3 879.9 L2322.9 879.9 L2325.5 879.9 L2328.1 879.9 L2330.7 879.9 L2333.3 879.9 L2335.9 879.9 L2338.5 879.9 L2341.1 879.9 L2343.7 879.9 L2346.3 879.9 L2348.9 879.9 L2351.5 879.9" fill="none" stroke="#80ffff" stroke-width="9" stroke-linecap="round" stroke-linejoin="round" stroke-dasharray="28 34 1 34 1 34" stroke-dashoffset="48.9"/>
</g>
<clipPath id="clip_d"><rect x="1311.5" y="877" width="1040.0" height="768.5"/></clipPath>
<g clip-path="url(#clip_d)">
<rect x="1311.5" y="877" width="1040.0" height="768.5" fill="#fff"/>
<path d="M1311.5 1211.9 L1314.1 1211.6 L1316.7 1211.1 L1319.3 1210.7 L1321.9 1210.5 L1324.5 1210.6 L1327.1 1211.0 L1329.7 1211.8 L1332.3 1212.7 L1334.9 1213.7 L1337.5 1214.9 L1340.1 1216.6 L1342.7 1219.3 L1345.3 1223.6 L1347.9 1229.7 L1350.5 1237.6 L1353.1 1247.1 L1355.7 1257.9 L1358.3 1269.4 L1360.9 1281.7 L1363.5 1295.0 L1366.1 1309.5 L1368.7 1324.6 L1371.3 1339.7 L1373.9 1354.5 L1376.5 1368.3 L1379.1 1380.6 L1381.7 1390.9 L1384.3 1399.4 L1386.9 1406.2 L1389.5 1411.2 L1392.1 1414.8 L1394.7 1416.9 L1397.3 1418.0 L1399.9 1417.9 L1402.5 1416.5 L1405.1 1414.1 L1407.7 1410.8 L1410.3 1406.6 L1412.9 1401.7 L1415.5 1396.2 L1418.1 1390.3 L1420.7 1384.0 L1423.3 1377.7 L1425.9 1371.4 L1428.5 1365.3 L1431.1 1359.5 L1433.7 1354.1 L1436.3 1349.2 L1438.9 1344.8 L1441.5 1340.9 L1444.1 1337.6 L1446.7 1334.8 L1449.3 1332.5 L1451.9 1330.7 L1454.5 1329.3 L1457.1 1328.4 L1459.7 1327.9 L1462.3 1327.8 L1464.9 1328.2 L1467.5 1329.2 L1470.1 1331.0 L1472.7 1333.7 L1475.3 1337.6 L1477.9 1342.8 L1480.5 1349.5 L1483.1 1357.6 L1485.7 1367.2 L1488.3 1378.0 L1490.9 1389.7 L1493.5 1401.9 L1496.1 1414.0 L1498.7 1425.7 L1501.3 1436.5 L1503.9 1446.4 L1506.5 1455.2 L1509.1 1463.0 L1511.7 1469.8 L1514.3 1475.9 L1516.9 1481.2 L1519.5 1486.1 L1522.1 1490.5 L1524.7 1494.5 L1527.3 1498.3 L1529.9 1501.9 L1532.5 1505.2 L1535.1 1508.4 L1537.7 1511.4 L1540.3 1514.3 L1542.9 1517.0 L1545.5 1519.6 L1548.1 1521.9 L1550.7 1523.9 L1553.3 1525.7 L1555.9 1527.3 L1558.5 1528.5 L1561.1 1529.5 L1563.7 1530.2 L1566.3 1530.6 L1568.9 1530.6 L1571.5 1530.3 L1574.1 1529.6 L1576.7 1528.7 L1579.3 1527.4 L1581.9 1525.9 L1584.5 1524.2 L1587.1 1522.3 L1589.7 1520.2 L1592.3 1517.9 L1594.9 1515.4 L1597.5 1512.7 L1600.1 1509.9 L1602.7 1506.9 L1605.3 1503.8 L1607.9 1500.5 L1610.5 1497.1 L1613.1 1493.5 L1615.7 1489.8 L1618.3 1485.9 L1620.9 1481.8 L1623.5 1477.6 L1626.1 1473.3 L1628.7 1468.8 L1631.3 1464.2 L1633.9 1459.6 L1636.5 1455.0 L1639.1 1450.3 L1641.7 1445.7 L1644.3 1441.1 L1646.9 1436.5 L1649.5 1432.0 L1652.1 1427.4 L1654.7 1422.9 L1657.3 1418.4 L1659.9 1414.0 L1662.5 1409.7 L1665.1 1405.4 L1667.7 1401.2 L1670.3 1397.1 L1672.9 1393.2 L1675.5 1389.4 L1678.1 1385.7 L1680.7 1382.1 L1683.3 1378.7 L1685.9 1375.4 L1688.5 1372.2 L1691.1 1369.1 L1693.7 1366.1 L1696.3 1363.3 L1698.9 1360.6 L1701.5 1358.0 L1704.1 1355.5 L1706.7 1353.2 L1709.3 1350.9 L1711.9 1348.8 L1714.5 1346.7 L1717.1 1344.7 L1719.7 1342.7 L1722.3 1340.7 L1724.9 1338.8 L1727.5 1337.0 L1730.1 1335.1 L1732.7 1333.4 L1735.3 1331.6 L1737.9 1329.9 L1740.5 1328.3 L1743.1 1326.7 L1745.7 1325.2 L1748.3 1323.7 L1750.9 1322.1 L1753.5 1320.6 L1756.1 1319.1 L1758.7 1317.6 L1761.3 1316.1 L1763.9 1314.5 L1766.5 1312.9 L1769.1 1311.2 L1771.7 1309.6 L1774.3 1307.8 L1776.9 1306.0 L1779.5 1304.1 L1782.1 1302.1 L1784.7 1299.9 L1787.3 1297.6 L1789.9 1295.0 L1792.5 1292.2 L1795.1 1289.1 L1797.7 1285.8 L1800.3 1282.1 L1802.9 1278.2 L1805.5 1273.9 L1808.1 1269.2 L1810.7 1264.1 L1813.3 1258.6 L1815.9 1252.6 L1818.5 1246.0 L1821.1 1238.8 L1823.7 1230.9 L1826.3 1222.5 L1828.9 1213.4 L1831.5 1204.0 L1834.1 1194.2 L1836.7 1184.4 L1839.3 1174.5 L1841.9 1164.7 L1844.5 1155.1 L1847.1 1145.5 L1849.7 1136.1 L1852.3 1126.8 L1854.9 1117.7 L1857.5 1108.7 L1860.1 1099.9 L1862.7 1091.2 L1865.3 1082.7 L1867.9 1074.2 L1870.5 1065.8 L1873.1 1057.6 L1875.7 1049.5 L1878.3 1041.5 L1880.9 1033.8 L1883.5 1026.2 L1886.1 1019.0 L1888.7 1012.1 L1891.3 1005.5 L1893.9 999.5 L1896.5 994.1 L1899.1 989.2 L1901.7 985.1 L1904.3 981.7 L1906.9 979.0 L1909.5 977.0 L1912.1 975.6 L1914.7 974.8 L1917.3 974.5 L1919.9 974.8 L1922.5 975.6 L1925.1 976.9 L1927.7 978.6 L1930.3 980.8 L1932.9 983.4 L1935.5 986.3 L1938.1 989.5 L1940.7 992.9 L1943.3 996.4 L1945.9 1000.1 L1948.5 1003.7 L1951.1 1007.3 L1953.7 1010.8 L1956.3 1014.5 L1958.9 1018.2 L1961.5 1022.0 L1964.1 1026.1 L1966.7 1030.5 L1969.3 1035.2 L1971.9 1040.2 L1974.5 1045.7 L1977.1 1051.6 L1979.7 1058.1 L1982.3 1065.2 L1984.9 1073.0 L1987.5 1081.6 L1990.1 1090.9 L1992.7 1101.2 L1995.3 1112.4 L1997.9 1124.6 L2000.5 1137.8 L2003.1 1151.9 L2005.7 1166.9 L2008.3 1182.5 L2010.9 1198.7 L2013.5 1215.3 L2016.1 1232.2 L2018.7 1249.3 L2021.3 1266.6 L2023.9 1284.0 L2026.5 1301.3 L2029.1 1318.5 L2031.7 1335.5 L2034.3 1352.3 L2036.9 1368.8 L2039.5 1385.0 L2042.1 1400.7 L2044.7 1416.0 L2047.3 1430.8 L2049.9 1445.0 L2052.5 1458.7 L2055.1 1471.7 L2057.7 1484.1 L2060.3 1495.8 L2062.9 1506.8 L2065.5 1517.1 L2068.1 1526.8 L2070.7 1535.7 L2073.3 1543.9 L2075.9 1551.4 L2078.5 1558.4 L2081.1 1564.7 L2083.7 1570.4 L2086.3 1575.6 L2088.9 1580.3 L2091.5 1584.6 L2094.1 1588.4 L2096.7 1591.7 L2099.3 1594.7 L2101.9 1597.4 L2104.5 1599.7 L2107.1 1601.8 L2109.7 1603.6 L2112.3 1605.2 L2114.9 1606.6 L2117.5 1607.9 L2120.1 1609.0 L2122.7 1610.1 L2125.3 1611.0 L2127.9 1611.8 L2130.5 1612.5 L2133.1 1613.2 L2135.7 1613.8 L2138.3 1614.3 L2140.9 1614.7 L2143.5 1615.1 L2146.1 1615.4 L2148.7 1615.7 L2151.3 1616.0 L2153.9 1616.2 L2156.5 1616.5 L2159.1 1616.7 L2161.7 1616.9 L2164.3 1617.1 L2166.9 1617.3 L2169.5 1617.5 L2172.1 1617.6 L2174.7 1617.7 L2177.3 1617.9 L2179.9 1618.0 L2182.5 1618.0 L2185.1 1618.1 L2187.7 1618.2 L2190.3 1618.2 L2192.9 1618.2 L2195.5 1618.2 L2198.1 1618.2 L2200.7 1618.2 L2203.3 1618.2 L2205.9 1618.2 L2208.5 1618.1 L2211.1 1618.1 L2213.7 1618.1 L2216.3 1618.0 L2218.9 1618.0 L2221.5 1618.0 L2224.1 1617.9 L2226.7 1617.9 L2229.3 1617.8 L2231.9 1617.8 L2234.5 1617.7 L2237.1 1617.7 L2239.7 1617.7 L2242.3 1617.6 L2244.9 1617.6 L2247.5 1617.5 L2250.1 1617.5 L2252.7 1617.4 L2255.3 1617.4 L2257.9 1617.3 L2260.5 1617.3 L2263.1 1617.2 L2265.7 1617.2 L2268.3 1617.2 L2270.9 1617.1 L2273.5 1617.1 L2276.1 1617.0 L2278.7 1617.0 L2281.3 1616.9 L2283.9 1616.9 L2286.5 1616.8 L2289.1 1616.8 L2291.7 1616.7 L2294.3 1616.7 L2296.9 1616.6 L2299.5 1616.6 L2302.1 1616.5 L2304.7 1616.5 L2307.3 1616.4 L2309.9 1616.4 L2312.5 1616.3 L2315.1 1616.3 L2317.7 1616.2 L2320.3 1616.2 L2322.9 1616.1 L2325.5 1616.1 L2328.1 1616.0 L2330.7 1616.0 L2333.3 1615.9 L2335.9 1615.9 L2338.5 1615.8 L2341.1 1615.8" fill="none" stroke="#0000ff" stroke-width="9.5" stroke-linecap="round" stroke-linejoin="round"/>
<path d="M1311.5 1583.8 L1314.1 1584.5 L1316.7 1585.5 L1319.3 1586.4 L1321.9 1587.4 L1324.5 1588.3 L1327.1 1589.2 L1329.7 1590.1 L1332.3 1590.9 L1334.9 1591.8 L1337.5 1592.7 L1340.1 1593.5 L1342.7 1594.4 L1345.3 1595.2 L1347.9 1596.1 L1350.5 1597.0 L1353.1 1597.9 L1355.7 1598.8 L1358.3 1599.7 L1360.9 1600.7 L1363.5 1601.6 L1366.1 1602.7 L1368.7 1603.8 L1371.3 1605.1 L1373.9 1606.5 L1376.5 1608.0 L1379.1 1609.5 L1381.7 1610.9 L1384.3 1612.4 L1386.9 1613.7 L1389.5 1614.9 L1392.1 1616.0 L1394.7 1616.8 L1397.3 1617.4 L1399.9 1617.7 L1402.5 1617.8 L1405.1 1617.8 L1407.7 1617.8 L1410.3 1617.8 L1412.9 1617.8 L1415.5 1617.8 L1418.1 1617.8 L1420.7 1617.8 L1423.3 1617.8 L1425.9 1617.8 L1428.5 1617.8 L1431.1 1617.8 L1433.7 1617.8 L1436.3 1617.8 L1438.9 1617.8 L1441.5 1617.9 L1444.1 1617.9 L1446.7 1618.1 L1449.3 1618.3 L1451.9 1618.6 L1454.5 1619.0 L1457.1 1619.4 L1459.7 1619.9 L1462.3 1620.5 L1464.9 1621.0 L1467.5 1621.6 L1470.1 1622.2 L1472.7 1622.8 L1475.3 1623.4 L1477.9 1623.9 L1480.5 1624.5 L1483.1 1625.1 L1485.7 1625.8 L1488.3 1626.5 L1490.9 1627.3 L1493.5 1628.2 L1496.1 1629.1 L1498.7 1630.0 L1501.3 1630.8 L1503.9 1631.7 L1506.5 1632.5 L1509.1 1633.3 L1511.7 1633.9 L1514.3 1634.5 L1516.9 1635.0 L1519.5 1635.4 L1522.1 1635.6 L1524.7 1635.8 L1527.3 1635.8 L1529.9 1635.8 L1532.5 1635.7 L1535.1 1635.7 L1537.7 1635.7 L1540.3 1635.6 L1542.9 1635.6 L1545.5 1635.5 L1548.1 1635.5 L1550.7 1635.4 L1553.3 1635.4 L1555.9 1635.3 L1558.5 1635.3 L1561.1 1635.2 L1563.7 1635.2 L1566.3 1635.2 L1568.9 1635.1 L1571.5 1635.1 L1574.1 1635.0 L1576.7 1635.0 L1579.3 1634.9 L1581.9 1634.9 L1584.5 1634.9 L1587.1 1634.8 L1589.7 1634.8 L1592.3 1634.7 L1594.9 1634.6 L1597.5 1634.6 L1600.1 1634.5 L1602.7 1634.4 L1605.3 1634.3 L1607.9 1634.2 L1610.5 1634.1 L1613.1 1633.9 L1615.7 1633.7 L1618.3 1633.5 L1620.9 1633.2 L1623.5 1632.9 L1626.1 1632.6 L1628.7 1632.3 L1631.3 1632.0 L1633.9 1631.6 L1636.5 1631.3 L1639.1 1631.0 L1641.7 1630.8 L1644.3 1630.5 L1646.9 1630.3 L1649.5 1630.2 L1652.1 1630.0 L1654.7 1629.9 L1657.3 1629.8 L1659.9 1629.7 L1662.5 1629.6 L1665.1 1629.5 L1667.7 1629.4 L1670.3 1629.4 L1672.9 1629.3 L1675.5 1629.2 L1678.1 1629.1 L1680.7 1629.0 L1683.3 1629.0 L1685.9 1628.9 L1688.5 1628.8 L1691.1 1628.7 L1693.7 1628.6 L1696.3 1628.5 L1698.9 1628.4 L1701.5 1628.3 L1704.1 1628.2 L1706.7 1628.0 L1709.3 1627.9 L1711.9 1627.8 L1714.5 1627.7 L1717.1 1627.5 L1719.7 1627.4 L1722.3 1627.3 L1724.9 1627.2 L1727.5 1627.0 L1730.1 1626.9 L1732.7 1626.8 L1735.3 1626.7 L1737.9 1626.6 L1740.5 1626.4 L1743.1 1626.3 L1745.7 1626.2 L1748.3 1626.1 L1750.9 1626.1 L1753.5 1626.0 L1756.1 1625.9 L1758.7 1625.8 L1761.3 1625.7 L1763.9 1625.6 L1766.5 1625.5 L1769.1 1625.4 L1771.7 1625.3 L1774.3 1625.1 L1776.9 1625.0 L1779.5 1624.8 L1782.1 1624.7 L1784.7 1624.5 L1787.3 1624.2 L1789.9 1623.9 L1792.5 1623.6 L1795.1 1623.2 L1797.7 1622.7 L1800.3 1622.2 L1802.9 1621.7 L1805.5 1621.1 L1808.1 1620.5 L1810.7 1619.9 L1813.3 1619.3 L1815.9 1618.7 L1818.5 1618.1 L1821.1 1617.5 L1823.7 1616.9 L1826.3 1616.3 L1828.9 1615.7 L1831.5 1615.1 L1834.1 1614.5 L1836.7 1613.8 L1839.3 1613.2 L1841.9 1612.5 L1844.5 1611.9 L1847.1 1611.2 L1849.7 1610.5 L1852.3 1609.8 L1854.9 1609.2 L1857.5 1608.5 L1860.1 1607.9 L1862.7 1607.2 L1865.3 1606.6 L1867.9 1606.1 L1870.5 1605.5 L1873.1 1605.0 L1875.7 1604.5 L1878.3 1604.1 L1880.9 1603.6 L1883.5 1603.2 L1886.1 1602.7 L1888.7 1602.3 L1891.3 1601.8 L1893.9 1601.4 L1896.5 1601.0 L1899.1 1600.6 L1901.7 1600.3 L1904.3 1599.9 L1906.9 1599.7 L1909.5 1599.4 L1912.1 1599.2 L1914.7 1599.1 L1917.3 1599.1 L1919.9 1599.1 L1922.5 1599.1 L1925.1 1599.2 L1927.7 1599.3 L1930.3 1599.4 L1932.9 1599.6 L1935.5 1599.8 L1938.1 1600.0 L1940.7 1600.2 L1943.3 1600.5 L1945.9 1600.7 L1948.5 1601.0 L1951.1 1601.3 L1953.7 1601.6 L1956.3 1602.0 L1958.9 1602.3 L1961.5 1602.7 L1964.1 1603.0 L1966.7 1603.4 L1969.3 1603.9 L1971.9 1604.4 L1974.5 1605.0 L1977.1 1605.7 L1979.7 1606.4 L1982.3 1607.2 L1984.9 1608.0 L1987.5 1608.9 L1990.1 1609.8 L1992.7 1610.7 L1995.3 1611.7 L1997.9 1612.7 L2000.5 1613.8 L2003.1 1614.9 L2005.7 1616.1 L2008.3 1617.5 L2010.9 1619.0 L2013.5 1620.8 L2016.1 1622.7 L2018.7 1624.7 L2021.3 1626.8 L2023.9 1628.9 L2026.5 1631.0 L2029.1 1633.0 L2031.7 1635.0 L2034.3 1636.8 L2036.9 1638.4 L2039.5 1639.8 L2042.1 1641.0 L2044.7 1642.0 L2047.3 1642.9 L2049.9 1643.7 L2052.5 1644.6 L2055.1 1645.4 L2057.7 1646.1 L2060.3 1646.8 L2062.9 1647.5 L2065.5 1648.1 L2068.1 1648.6 L2070.7 1649.0 L2073.3 1649.3 L2075.9 1649.5 L2078.5 1649.6 L2081.1 1649.7 L2083.7 1649.7 L2086.3 1649.8 L2088.9 1649.8 L2091.5 1649.8 L2094.1 1649.9 L2096.7 1649.9 L2099.3 1649.9 L2101.9 1650.0 L2104.5 1650.0 L2107.1 1650.0 L2109.7 1650.1 L2112.3 1650.1 L2114.9 1650.1 L2117.5 1650.2 L2120.1 1650.2 L2122.7 1650.2 L2125.3 1650.3 L2127.9 1650.3 L2130.5 1650.3 L2133.1 1650.3 L2135.7 1650.4 L2138.3 1650.4 L2140.9 1650.4 L2143.5 1650.4 L2146.1 1650.5 L2148.7 1650.5 L2151.3 1650.5 L2153.9 1650.5 L2156.5 1650.5 L2159.1 1650.6 L2161.7 1650.6 L2164.3 1650.6 L2166.9 1650.6 L2169.5 1650.7 L2172.1 1650.7 L2174.7 1650.7 L2177.3 1650.7 L2179.9 1650.7 L2182.5 1650.7 L2185.1 1650.8 L2187.7 1650.8 L2190.3 1650.8 L2192.9 1650.8 L2195.5 1650.8 L2198.1 1650.8 L2200.7 1650.9 L2203.3 1650.9 L2205.9 1650.9 L2208.5 1650.9 L2211.1 1650.9 L2213.7 1650.9 L2216.3 1650.9 L2218.9 1650.9 L2221.5 1651.0 L2224.1 1651.0 L2226.7 1651.0 L2229.3 1651.0 L2231.9 1651.0 L2234.5 1651.0 L2237.1 1651.0 L2239.7 1651.0 L2242.3 1651.0 L2244.9 1651.1 L2247.5 1651.1 L2250.1 1651.1 L2252.7 1651.1 L2255.3 1651.1 L2257.9 1651.1 L2260.5 1651.1 L2263.1 1651.1 L2265.7 1651.1 L2268.3 1651.1 L2270.9 1651.1 L2273.5 1651.1 L2276.1 1651.1 L2278.7 1651.1 L2281.3 1651.1 L2283.9 1651.1 L2286.5 1651.2 L2289.1 1651.2 L2291.7 1651.2 L2294.3 1651.2 L2296.9 1651.2 L2299.5 1651.2 L2302.1 1651.2 L2304.7 1651.2 L2307.3 1651.2 L2309.9 1651.2 L2312.5 1651.2 L2315.1 1651.2 L2317.7 1651.2 L2320.3 1651.2 L2322.9 1651.2 L2325.5 1651.2 L2328.1 1651.2 L2330.7 1651.2 L2333.3 1651.2 L2335.9 1651.2 L2338.5 1651.2 L2341.1 1651.2 L2343.7 1651.2 L2346.3 1651.2 L2348.9 1651.2 L2351.5 1651.2" fill="none" stroke="#00fa00" stroke-width="9" stroke-linecap="round" stroke-linejoin="round" stroke-dasharray="37 55" stroke-dashoffset="33.3"/>
<path d="M1311.5 1610.2 L1314.1 1610.4 L1316.7 1610.6 L1319.3 1610.8 L1321.9 1611.1 L1324.5 1611.3 L1327.1 1611.6 L1329.7 1611.9 L1332.3 1612.2 L1334.9 1612.6 L1337.5 1612.9 L1340.1 1613.2 L1342.7 1613.6 L1345.3 1613.9 L1347.9 1614.3 L1350.5 1614.7 L1353.1 1615.1 L1355.7 1615.5 L1358.3 1615.9 L1360.9 1616.3 L1363.5 1616.7 L1366.1 1617.2 L1368.7 1617.7 L1371.3 1618.2 L1373.9 1618.8 L1376.5 1619.4 L1379.1 1620.0 L1381.7 1620.6 L1384.3 1621.2 L1386.9 1621.8 L1389.5 1622.4 L1392.1 1623.1 L1394.7 1623.7 L1397.3 1624.3 L1399.9 1624.9 L1402.5 1625.5 L1405.1 1626.0 L1407.7 1626.6 L1410.3 1627.1 L1412.9 1627.6 L1415.5 1628.0 L1418.1 1628.5 L1420.7 1628.9 L1423.3 1629.4 L1425.9 1629.8 L1428.5 1630.2 L1431.1 1630.7 L1433.7 1631.1 L1436.3 1631.5 L1438.9 1631.9 L1441.5 1632.3 L1444.1 1632.7 L1446.7 1633.0 L1449.3 1633.4 L1451.9 1633.7 L1454.5 1634.1 L1457.1 1634.4 L1459.7 1634.7 L1462.3 1635.0 L1464.9 1635.3 L1467.5 1635.6 L1470.1 1635.8 L1472.7 1636.1 L1475.3 1636.3 L1477.9 1636.6 L1480.5 1636.8 L1483.1 1637.1 L1485.7 1637.3 L1488.3 1637.5 L1490.9 1637.7 L1493.5 1637.9 L1496.1 1638.2 L1498.7 1638.3 L1501.3 1638.5 L1503.9 1638.7 L1506.5 1638.9 L1509.1 1639.1 L1511.7 1639.2 L1514.3 1639.4 L1516.9 1639.5 L1519.5 1639.7 L1522.1 1639.9 L1524.7 1640.0 L1527.3 1640.2 L1529.9 1640.3 L1532.5 1640.5 L1535.1 1640.6 L1537.7 1640.8 L1540.3 1640.9 L1542.9 1641.0 L1545.5 1641.2 L1548.1 1641.3 L1550.7 1641.4 L1553.3 1641.5 L1555.9 1641.6 L1558.5 1641.7 L1561.1 1641.8 L1563.7 1641.8 L1566.3 1641.9 L1568.9 1641.9 L1571.5 1642.0 L1574.1 1642.0 L1576.7 1642.0 L1579.3 1642.0 L1581.9 1642.0 L1584.5 1642.1 L1587.1 1642.1 L1589.7 1642.1 L1592.3 1642.1 L1594.9 1642.1 L1597.5 1642.1 L1600.1 1642.2 L1602.7 1642.2 L1605.3 1642.2 L1607.9 1642.2 L1610.5 1642.2 L1613.1 1642.2 L1615.7 1642.3 L1618.3 1642.3 L1620.9 1642.3 L1623.5 1642.3 L1626.1 1642.3 L1628.7 1642.3 L1631.3 1642.3 L1633.9 1642.3 L1636.5 1642.3 L1639.1 1642.4 L1641.7 1642.4 L1644.3 1642.4 L1646.9 1642.4 L1649.5 1642.4 L1652.1 1642.4 L1654.7 1642.4 L1657.3 1642.4 L1659.9 1642.4 L1662.5 1642.4 L1665.1 1642.4 L1667.7 1642.4 L1670.3 1642.4 L1672.9 1642.4 L1675.5 1642.5 L1678.1 1642.5 L1680.7 1642.5 L1683.3 1642.5 L1685.9 1642.5 L1688.5 1642.5 L1691.1 1642.5 L1693.7 1642.5 L1696.3 1642.5 L1698.9 1642.5 L1701.5 1642.5 L1704.1 1642.5 L1706.7 1642.5 L1709.3 1642.5 L1711.9 1642.4 L1714.5 1642.4 L1717.1 1642.4 L1719.7 1642.4 L1722.3 1642.4 L1724.9 1642.4 L1727.5 1642.3 L1730.1 1642.3 L1732.7 1642.3 L1735.3 1642.3 L1737.9 1642.2 L1740.5 1642.2 L1743.1 1642.2 L1745.7 1642.1 L1748.3 1642.1 L1750.9 1642.0 L1753.5 1642.0 L1756.1 1641.9 L1758.7 1641.9 L1761.3 1641.9 L1763.9 1641.8 L1766.5 1641.8 L1769.1 1641.7 L1771.7 1641.7 L1774.3 1641.6 L1776.9 1641.6 L1779.5 1641.5 L1782.1 1641.4 L1784.7 1641.4 L1787.3 1641.3 L1789.9 1641.3 L1792.5 1641.2 L1795.1 1641.2 L1797.7 1641.1 L1800.3 1641.0 L1802.9 1641.0 L1805.5 1640.9 L1808.1 1640.9 L1810.7 1640.8 L1813.3 1640.8 L1815.9 1640.7 L1818.5 1640.6 L1821.1 1640.6 L1823.7 1640.5 L1826.3 1640.5 L1828.9 1640.4 L1831.5 1640.4 L1834.1 1640.3 L1836.7 1640.3 L1839.3 1640.2 L1841.9 1640.2 L1844.5 1640.1 L1847.1 1640.1 L1849.7 1640.0 L1852.3 1640.0 L1854.9 1639.9 L1857.5 1639.9 L1860.1 1639.8 L1862.7 1639.8 L1865.3 1639.8 L1867.9 1639.7 L1870.5 1639.7 L1873.1 1639.6 L1875.7 1639.6 L1878.3 1639.6 L1880.9 1639.6 L1883.5 1639.5 L1886.1 1639.5 L1888.7 1639.5 L1891.3 1639.5 L1893.9 1639.4 L1896.5 1639.4 L1899.1 1639.4 L1901.7 1639.4 L1904.3 1639.4 L1906.9 1639.4 L1909.5 1639.4 L1912.1 1639.4 L1914.7 1639.4 L1917.3 1639.4 L1919.9 1639.4 L1922.5 1639.4 L1925.1 1639.4 L1927.7 1639.5 L1930.3 1639.5 L1932.9 1639.5 L1935.5 1639.5 L1938.1 1639.6 L1940.7 1639.6 L1943.3 1639.6 L1945.9 1639.7 L1948.5 1639.7 L1951.1 1639.8 L1953.7 1639.8 L1956.3 1639.9 L1958.9 1639.9 L1961.5 1640.0 L1964.1 1640.0 L1966.7 1640.1 L1969.3 1640.1 L1971.9 1640.2 L1974.5 1640.3 L1977.1 1640.3 L1979.7 1640.4 L1982.3 1640.5 L1984.9 1640.5 L1987.5 1640.6 L1990.1 1640.7 L1992.7 1640.8 L1995.3 1640.8 L1997.9 1640.9 L2000.5 1641.0 L2003.1 1641.1 L2005.7 1641.2 L2008.3 1641.3 L2010.9 1641.4 L2013.5 1641.5 L2016.1 1641.6 L2018.7 1641.7 L2021.3 1641.9 L2023.9 1642.1 L2026.5 1642.4 L2029.1 1642.7 L2031.7 1642.9 L2034.3 1643.2 L2036.9 1643.5 L2039.5 1643.9 L2042.1 1644.2 L2044.7 1644.5 L2047.3 1644.7 L2049.9 1645.0 L2052.5 1645.3 L2055.1 1645.5 L2057.7 1645.7 L2060.3 1645.8 L2062.9 1646.0 L2065.5 1646.1 L2068.1 1646.1 L2070.7 1646.2 L2073.3 1646.2 L2075.9 1646.3 L2078.5 1646.3 L2081.1 1646.4 L2083.7 1646.4 L2086.3 1646.5 L2088.9 1646.5 L2091.5 1646.6 L2094.1 1646.6 L2096.7 1646.6 L2099.3 1646.7 L2101.9 1646.7 L2104.5 1646.8 L2107.1 1646.8 L2109.7 1646.9 L2112.3 1646.9 L2114.9 1646.9 L2117.5 1647.0 L2120.1 1647.0 L2122.7 1647.1 L2125.3 1647.1 L2127.9 1647.1 L2130.5 1647.2 L2133.1 1647.2 L2135.7 1647.3 L2138.3 1647.3 L2140.9 1647.3 L2143.5 1647.4 L2146.1 1647.4 L2148.7 1647.4 L2151.3 1647.5 L2153.9 1647.5 L2156.5 1647.5 L2159.1 1647.6 L2161.7 1647.6 L2164.3 1647.6 L2166.9 1647.7 L2169.5 1647.7 L2172.1 1647.7 L2174.7 1647.7 L2177.3 1647.8 L2179.9 1647.8 L2182.5 1647.8 L2185.1 1647.9 L2187.7 1647.9 L2190.3 1647.9 L2192.9 1647.9 L2195.5 1648.0 L2198.1 1648.0 L2200.7 1648.0 L2203.3 1648.0 L2205.9 1648.0 L2208.5 1648.1 L2211.1 1648.1 L2213.7 1648.1 L2216.3 1648.1 L2218.9 1648.2 L2221.5 1648.2 L2224.1 1648.2 L2226.7 1648.2 L2229.3 1648.2 L2231.9 1648.2 L2234.5 1648.3 L2237.1 1648.3 L2239.7 1648.3 L2242.3 1648.3 L2244.9 1648.3 L2247.5 1648.3 L2250.1 1648.4 L2252.7 1648.4 L2255.3 1648.4 L2257.9 1648.4 L2260.5 1648.4 L2263.1 1648.4 L2265.7 1648.4 L2268.3 1648.5 L2270.9 1648.5 L2273.5 1648.5 L2276.1 1648.5 L2278.7 1648.5 L2281.3 1648.5 L2283.9 1648.5 L2286.5 1648.5 L2289.1 1648.5 L2291.7 1648.5 L2294.3 1648.6 L2296.9 1648.6 L2299.5 1648.6 L2302.1 1648.6 L2304.7 1648.6 L2307.3 1648.6 L2309.9 1648.6 L2312.5 1648.6 L2315.1 1648.6 L2317.7 1648.6 L2320.3 1648.6 L2322.9 1648.6 L2325.5 1648.6 L2328.1 1648.6 L2330.7 1648.6 L2333.3 1648.6 L2335.9 1648.6 L2338.5 1648.6 L2341.1 1648.6 L2343.7 1648.6 L2346.3 1648.6 L2348.9 1648.6 L2351.5 1648.6" fill="none" stroke="#ff0000" stroke-width="9" stroke-linecap="round" stroke-linejoin="round" stroke-dasharray="4 46" stroke-dashoffset="0"/>
<path d="M1311.5 1612.9 L1314.1 1613.3 L1316.7 1613.9 L1319.3 1614.4 L1321.9 1615.0 L1324.5 1615.5 L1327.1 1616.0 L1329.7 1616.5 L1332.3 1617.0 L1334.9 1617.5 L1337.5 1617.9 L1340.1 1618.4 L1342.7 1618.8 L1345.3 1619.2 L1347.9 1619.5 L1350.5 1619.9 L1353.1 1620.2 L1355.7 1620.5 L1358.3 1620.7 L1360.9 1621.0 L1363.5 1621.2 L1366.1 1621.4 L1368.7 1621.6 L1371.3 1621.9 L1373.9 1622.1 L1376.5 1622.4 L1379.1 1622.7 L1381.7 1623.0 L1384.3 1623.3 L1386.9 1623.7 L1389.5 1624.2 L1392.1 1624.6 L1394.7 1625.1 L1397.3 1625.6 L1399.9 1626.1 L1402.5 1626.7 L1405.1 1627.2 L1407.7 1627.7 L1410.3 1628.2 L1412.9 1628.7 L1415.5 1629.1 L1418.1 1629.6 L1420.7 1630.0 L1423.3 1630.4 L1425.9 1630.9 L1428.5 1631.3 L1431.1 1631.8 L1433.7 1632.2 L1436.3 1632.7 L1438.9 1633.1 L1441.5 1633.5 L1444.1 1633.9 L1446.7 1634.3 L1449.3 1634.7 L1451.9 1635.0 L1454.5 1635.4 L1457.1 1635.7 L1459.7 1636.0 L1462.3 1636.3 L1464.9 1636.6 L1467.5 1636.8 L1470.1 1637.1 L1472.7 1637.3 L1475.3 1637.5 L1477.9 1637.7 L1480.5 1637.9 L1483.1 1638.1 L1485.7 1638.3 L1488.3 1638.5 L1490.9 1638.7 L1493.5 1638.9 L1496.1 1639.1 L1498.7 1639.3 L1501.3 1639.5 L1503.9 1639.7 L1506.5 1639.9 L1509.1 1640.1 L1511.7 1640.2 L1514.3 1640.4 L1516.9 1640.6 L1519.5 1640.8 L1522.1 1640.9 L1524.7 1641.1 L1527.3 1641.2 L1529.9 1641.3 L1532.5 1641.4 L1535.1 1641.5 L1537.7 1641.6 L1540.3 1641.7 L1542.9 1641.8 L1545.5 1641.9 L1548.1 1641.9 L1550.7 1642.0 L1553.3 1642.1 L1555.9 1642.1 L1558.5 1642.2 L1561.1 1642.3 L1563.7 1642.3 L1566.3 1642.4 L1568.9 1642.4 L1571.5 1642.5 L1574.1 1642.5 L1576.7 1642.6 L1579.3 1642.6 L1581.9 1642.7 L1584.5 1642.7 L1587.1 1642.8 L1589.7 1642.9 L1592.3 1642.9 L1594.9 1643.0 L1597.5 1643.0 L1600.1 1643.1 L1602.7 1643.1 L1605.3 1643.2 L1607.9 1643.3 L1610.5 1643.3 L1613.1 1643.4 L1615.7 1643.4 L1618.3 1643.5 L1620.9 1643.5 L1623.5 1643.6 L1626.1 1643.6 L1628.7 1643.7 L1631.3 1643.7 L1633.9 1643.8 L1636.5 1643.8 L1639.1 1643.9 L1641.7 1643.9 L1644.3 1644.0 L1646.9 1644.0 L1649.5 1644.1 L1652.1 1644.1 L1654.7 1644.1 L1657.3 1644.2 L1659.9 1644.2 L1662.5 1644.3 L1665.1 1644.3 L1667.7 1644.3 L1670.3 1644.3 L1672.9 1644.4 L1675.5 1644.4 L1678.1 1644.4 L1680.7 1644.4 L1683.3 1644.5 L1685.9 1644.5 L1688.5 1644.5 L1691.1 1644.5 L1693.7 1644.5 L1696.3 1644.5 L1698.9 1644.5 L1701.5 1644.5 L1704.1 1644.5 L1706.7 1644.5 L1709.3 1644.5 L1711.9 1644.5 L1714.5 1644.5 L1717.1 1644.5 L1719.7 1644.5 L1722.3 1644.5 L1724.9 1644.5 L1727.5 1644.5 L1730.1 1644.5 L1732.7 1644.5 L1735.3 1644.5 L1737.9 1644.4 L1740.5 1644.4 L1743.1 1644.4 L1745.7 1644.4 L1748.3 1644.4 L1750.9 1644.4 L1753.5 1644.4 L1756.1 1644.4 L1758.7 1644.3 L1761.3 1644.3 L1763.9 1644.3 L1766.5 1644.3 L1769.1 1644.3 L1771.7 1644.3 L1774.3 1644.2 L1776.9 1644.2 L1779.5 1644.2 L1782.1 1644.2 L1784.7 1644.2 L1787.3 1644.1 L1789.9 1644.1 L1792.5 1644.1 L1795.1 1644.1 L1797.7 1644.1 L1800.3 1644.1 L1802.9 1644.0 L1805.5 1644.0 L1808.1 1644.0 L1810.7 1644.0 L1813.3 1644.0 L1815.9 1643.9 L1818.5 1643.9 L1821.1 1643.9 L1823.7 1643.9 L1826.3 1643.9 L1828.9 1643.8 L1831.5 1643.8 L1834.1 1643.8 L1836.7 1643.8 L1839.3 1643.8 L1841.9 1643.8 L1844.5 1643.7 L1847.1 1643.7 L1849.7 1643.7 L1852.3 1643.7 L1854.9 1643.7 L1857.5 1643.7 L1860.1 1643.6 L1862.7 1643.6 L1865.3 1643.6 L1867.9 1643.6 L1870.5 1643.6 L1873.1 1643.6 L1875.7 1643.6 L1878.3 1643.6 L1880.9 1643.6 L1883.5 1643.5 L1886.1 1643.5 L1888.7 1643.5 L1891.3 1643.5 L1893.9 1643.5 L1896.5 1643.5 L1899.1 1643.5 L1901.7 1643.5 L1904.3 1643.5 L1906.9 1643.5 L1909.5 1643.5 L1912.1 1643.5 L1914.7 1643.5 L1917.3 1643.5 L1919.9 1643.5 L1922.5 1643.6 L1925.1 1643.6 L1927.7 1643.6 L1930.3 1643.7 L1932.9 1643.7 L1935.5 1643.7 L1938.1 1643.8 L1940.7 1643.8 L1943.3 1643.9 L1945.9 1643.9 L1948.5 1644.0 L1951.1 1644.0 L1953.7 1644.1 L1956.3 1644.2 L1958.9 1644.2 L1961.5 1644.3 L1964.1 1644.4 L1966.7 1644.4 L1969.3 1644.5 L1971.9 1644.6 L1974.5 1644.6 L1977.1 1644.7 L1979.7 1644.8 L1982.3 1644.9 L1984.9 1644.9 L1987.5 1645.0 L1990.1 1645.1 L1992.7 1645.1 L1995.3 1645.2 L1997.9 1645.3 L2000.5 1645.3 L2003.1 1645.4 L2005.7 1645.5 L2008.3 1645.5 L2010.9 1645.6 L2013.5 1645.7 L2016.1 1645.7 L2018.7 1645.8 L2021.3 1645.8 L2023.9 1645.9 L2026.5 1645.9 L2029.1 1645.9 L2031.7 1646.0 L2034.3 1646.0 L2036.9 1646.0 L2039.5 1646.1 L2042.1 1646.1 L2044.7 1646.1 L2047.3 1646.1 L2049.9 1646.2 L2052.5 1646.2 L2055.1 1646.2 L2057.7 1646.2 L2060.3 1646.2 L2062.9 1646.3 L2065.5 1646.3 L2068.1 1646.3 L2070.7 1646.3 L2073.3 1646.3 L2075.9 1646.4 L2078.5 1646.4 L2081.1 1646.4 L2083.7 1646.4 L2086.3 1646.5 L2088.9 1646.5 L2091.5 1646.5 L2094.1 1646.5 L2096.7 1646.5 L2099.3 1646.6 L2101.9 1646.6 L2104.5 1646.6 L2107.1 1646.6 L2109.7 1646.6 L2112.3 1646.6 L2114.9 1646.7 L2117.5 1646.7 L2120.1 1646.7 L2122.7 1646.7 L2125.3 1646.7 L2127.9 1646.8 L2130.5 1646.8 L2133.1 1646.8 L2135.7 1646.8 L2138.3 1646.8 L2140.9 1646.8 L2143.5 1646.9 L2146.1 1646.9 L2148.7 1646.9 L2151.3 1646.9 L2153.9 1646.9 L2156.5 1646.9 L2159.1 1647.0 L2161.7 1647.0 L2164.3 1647.0 L2166.9 1647.0 L2169.5 1647.0 L2172.1 1647.0 L2174.7 1647.1 L2177.3 1647.1 L2179.9 1647.1 L2182.5 1647.1 L2185.1 1647.1 L2187.7 1647.1 L2190.3 1647.1 L2192.9 1647.2 L2195.5 1647.2 L2198.1 1647.2 L2200.7 1647.2 L2203.3 1647.2 L2205.9 1647.2 L2208.5 1647.2 L2211.1 1647.3 L2213.7 1647.3 L2216.3 1647.3 L2218.9 1647.3 L2221.5 1647.3 L2224.1 1647.3 L2226.7 1647.3 L2229.3 1647.3 L2231.9 1647.3 L2234.5 1647.4 L2237.1 1647.4 L2239.7 1647.4 L2242.3 1647.4 L2244.9 1647.4 L2247.5 1647.4 L2250.1 1647.4 L2252.7 1647.4 L2255.3 1647.4 L2257.9 1647.4 L2260.5 1647.5 L2263.1 1647.5 L2265.7 1647.5 L2268.3 1647.5 L2270.9 1647.5 L2273.5 1647.5 L2276.1 1647.5 L2278.7 1647.5 L2281.3 1647.5 L2283.9 1647.5 L2286.5 1647.5 L2289.1 1647.5 L2291.7 1647.5 L2294.3 1647.5 L2296.9 1647.6 L2299.5 1647.6 L2302.1 1647.6 L2304.7 1647.6 L2307.3 1647.6 L2309.9 1647.6 L2312.5 1647.6 L2315.1 1647.6 L2317.7 1647.6 L2320.3 1647.6 L2322.9 1647.6 L2325.5 1647.6 L2328.1 1647.6 L2330.7 1647.6 L2333.3 1647.6 L2335.9 1647.6 L2338.5 1647.6 L2341.1 1647.6 L2343.7 1647.6 L2346.3 1647.6 L2348.9 1647.6 L2351.5 1647.6" fill="none" stroke="#ff00ff" stroke-width="9" stroke-linecap="round" stroke-linejoin="round" stroke-dasharray="41 31 5 31" stroke-dashoffset="0"/>
</g>
<clipPath id="clip_e"><rect x="263.5" y="1793.5" width="1070.0" height="793.0"/></clipPath>
<g clip-path="url(#clip_e)">
<rect x="263.5" y="1793.5" width="1070.0" height="793.0" fill="#fff"/>
<path d="M264.9 2137.3 L267.6 2136.9 L270.3 2136.5 L273.0 2136.1 L275.7 2136.0 L278.4 2136.4 L281.1 2137.0 L283.8 2137.9 L286.5 2138.8 L289.3 2140.0 L292.0 2141.4 L294.7 2143.6 L297.4 2147.2 L300.1 2152.5 L302.8 2159.7 L305.5 2168.8 L308.2 2179.3 L310.9 2190.8 L313.7 2203.1 L316.4 2216.3 L319.1 2230.7 L321.8 2246.0 L324.5 2261.6 L327.2 2277.1 L329.9 2292.0 L332.6 2305.5 L335.3 2317.2 L338.1 2326.9 L340.8 2334.8 L343.5 2340.9 L346.2 2345.3 L348.9 2348.2 L351.6 2349.9 L354.3 2350.3 L357.0 2349.6 L359.7 2347.6 L362.5 2344.6 L365.2 2340.7 L367.9 2336.1 L370.6 2330.7 L373.3 2324.8 L376.0 2318.4 L378.7 2311.9 L381.4 2305.4 L384.1 2299.0 L386.9 2292.8 L389.6 2287.0 L392.3 2281.7 L395.0 2276.9 L397.7 2272.6 L400.4 2268.9 L403.1 2265.7 L405.8 2263.1 L408.5 2261.0 L411.2 2259.4 L414.0 2258.2 L416.7 2257.4 L419.4 2257.1 L422.1 2257.2 L424.8 2258.0 L427.5 2259.4 L430.2 2261.7 L432.9 2265.1 L435.6 2269.8 L438.4 2275.9 L441.1 2283.6 L443.8 2292.7 L446.5 2303.3 L449.2 2315.0 L451.9 2327.3 L454.6 2339.9 L457.3 2352.2 L460.0 2363.9 L462.8 2374.6 L465.5 2384.3 L468.2 2392.8 L470.9 2400.3 L473.6 2407.0 L476.3 2412.8 L479.0 2418.1 L481.7 2422.8 L484.4 2427.2 L487.2 2431.2 L489.9 2435.0 L492.6 2438.6 L495.3 2441.9 L498.0 2445.2 L500.7 2448.2 L503.4 2451.1 L506.1 2453.8 L508.8 2456.3 L511.6 2458.5 L514.3 2460.5 L517.0 2462.3 L519.7 2463.7 L522.4 2464.9 L525.1 2465.8 L527.8 2466.3 L530.5 2466.5 L533.2 2466.4 L536.0 2465.9 L538.7 2465.0 L541.4 2463.8 L544.1 2462.4 L546.8 2460.8 L549.5 2458.9 L552.2 2456.9 L554.9 2454.6 L557.6 2452.1 L560.4 2449.4 L563.1 2446.6 L565.8 2443.6 L568.5 2440.4 L571.2 2437.1 L573.9 2433.7 L576.6 2430.0 L579.3 2426.3 L582.0 2422.4 L584.8 2418.3 L587.5 2414.0 L590.2 2409.6 L592.9 2405.0 L595.6 2400.3 L598.3 2395.6 L601.0 2390.8 L603.7 2386.0 L606.4 2381.2 L609.2 2376.5 L611.9 2371.7 L614.6 2367.0 L617.3 2362.3 L620.0 2357.6 L622.7 2353.0 L625.4 2348.4 L628.1 2343.9 L630.8 2339.4 L633.6 2335.1 L636.3 2330.8 L639.0 2326.7 L641.7 2322.7 L644.4 2318.8 L647.1 2315.0 L649.8 2311.4 L652.5 2307.9 L655.2 2304.6 L658.0 2301.3 L660.7 2298.2 L663.4 2295.3 L666.1 2292.4 L668.8 2289.7 L671.5 2287.0 L674.2 2284.5 L676.9 2282.2 L679.6 2279.9 L682.3 2277.7 L685.1 2275.6 L687.8 2273.5 L690.5 2271.5 L693.2 2269.5 L695.9 2267.6 L698.6 2265.7 L701.3 2263.8 L704.0 2262.0 L706.7 2260.2 L709.5 2258.5 L712.2 2256.9 L714.9 2255.2 L717.6 2253.7 L720.3 2252.1 L723.0 2250.5 L725.7 2249.0 L728.4 2247.4 L731.1 2245.8 L733.9 2244.2 L736.6 2242.6 L739.3 2240.9 L742.0 2239.2 L744.7 2237.4 L747.4 2235.6 L750.1 2233.7 L752.8 2231.7 L755.5 2229.5 L758.3 2227.2 L761.0 2224.6 L763.7 2221.9 L766.4 2218.9 L769.1 2215.5 L771.8 2211.9 L774.5 2208.0 L777.2 2203.8 L779.9 2199.1 L782.7 2194.1 L785.4 2188.6 L788.1 2182.7 L790.8 2176.2 L793.5 2169.1 L796.2 2161.3 L798.9 2152.9 L801.6 2143.8 L804.3 2134.3 L807.1 2124.4 L809.8 2114.2 L812.5 2104.0 L815.2 2093.9 L817.9 2083.8 L820.6 2073.9 L823.3 2064.1 L826.0 2054.5 L828.7 2045.0 L831.5 2035.7 L834.2 2026.5 L836.9 2017.4 L839.6 2008.5 L842.3 1999.8 L845.0 1991.1 L847.7 1982.5 L850.4 1974.1 L853.1 1965.8 L855.9 1957.6 L858.6 1949.7 L861.3 1942.1 L864.0 1934.8 L866.7 1927.9 L869.4 1921.4 L872.1 1915.4 L874.8 1910.1 L877.5 1905.5 L880.3 1901.6 L883.0 1898.5 L885.7 1896.0 L888.4 1894.3 L891.1 1893.1 L893.8 1892.6 L896.5 1892.6 L899.2 1893.1 L901.9 1894.2 L904.7 1895.8 L907.4 1897.8 L910.1 1900.3 L912.8 1903.1 L915.5 1906.3 L918.2 1909.7 L920.9 1913.3 L923.6 1917.0 L926.3 1920.7 L929.1 1924.5 L931.8 1928.2 L934.5 1931.9 L937.2 1935.7 L939.9 1939.6 L942.6 1943.7 L945.3 1948.0 L948.0 1952.7 L950.7 1957.7 L953.4 1963.1 L956.2 1969.0 L958.9 1975.4 L961.6 1982.4 L964.3 1990.1 L967.0 1998.5 L969.7 2007.7 L972.4 2017.9 L975.1 2028.9 L977.8 2041.0 L980.6 2054.1 L983.3 2068.2 L986.0 2083.2 L988.7 2099.0 L991.4 2115.5 L994.1 2132.4 L996.8 2149.7 L999.5 2167.3 L1002.2 2185.1 L1005.0 2202.9 L1007.7 2220.9 L1010.4 2238.7 L1013.1 2256.4 L1015.8 2273.9 L1018.5 2291.0 L1021.2 2307.9 L1023.9 2324.4 L1026.6 2340.4 L1029.4 2355.9 L1032.1 2370.9 L1034.8 2385.3 L1037.5 2399.0 L1040.2 2412.1 L1042.9 2424.6 L1045.6 2436.3 L1048.3 2447.3 L1051.0 2457.6 L1053.8 2467.2 L1056.5 2476.1 L1059.2 2484.2 L1061.9 2491.6 L1064.6 2498.4 L1067.3 2504.7 L1070.0 2510.3 L1072.7 2515.4 L1075.4 2520.0 L1078.2 2524.2 L1080.9 2527.9 L1083.6 2531.2 L1086.3 2534.1 L1089.0 2536.6 L1091.7 2538.9 L1094.4 2540.9 L1097.1 2542.7 L1099.8 2544.3 L1102.6 2545.6 L1105.3 2546.9 L1108.0 2548.0 L1110.7 2549.0 L1113.4 2549.9 L1116.1 2550.7 L1118.8 2551.4 L1121.5 2552.0 L1124.2 2552.6 L1127.0 2553.1 L1129.7 2553.5 L1132.4 2553.8 L1135.1 2554.2 L1137.8 2554.5 L1140.5 2554.7 L1143.2 2555.0 L1145.9 2555.2 L1148.6 2555.4 L1151.4 2555.7 L1154.1 2555.9 L1156.8 2556.0 L1159.5 2556.2 L1162.2 2556.4 L1164.9 2556.5 L1167.6 2556.6 L1170.3 2556.7 L1173.0 2556.8 L1175.8 2556.8 L1178.5 2556.9 L1181.2 2556.9 L1183.9 2556.9 L1186.6 2556.9 L1189.3 2556.9 L1192.0 2556.9 L1194.7 2556.9 L1197.4 2556.8 L1200.2 2556.8 L1202.9 2556.8 L1205.6 2556.7 L1208.3 2556.7 L1211.0 2556.7 L1213.7 2556.6 L1216.4 2556.6 L1219.1 2556.5 L1221.8 2556.5 L1224.5 2556.4 L1227.3 2556.4 L1230.0 2556.3 L1232.7 2556.3 L1235.4 2556.2 L1238.1 2556.2 L1240.8 2556.2 L1243.5 2556.1 L1246.2 2556.1 L1248.9 2556.0 L1251.7 2556.0 L1254.4 2555.9 L1257.1 2555.9 L1259.8 2555.8 L1262.5 2555.8 L1265.2 2555.7 L1267.9 2555.7 L1270.6 2555.7 L1273.3 2555.6 L1276.1 2555.6 L1278.8 2555.5 L1281.5 2555.5 L1284.2 2555.4 L1286.9 2555.4 L1289.6 2555.3 L1292.3 2555.3 L1295.0 2555.2 L1297.7 2555.2 L1300.5 2555.1 L1303.2 2555.1 L1305.9 2555.0 L1308.6 2554.9 L1311.3 2554.9 L1314.0 2554.8 L1316.7 2554.8 L1319.4 2554.7 L1322.1 2554.7 L1324.9 2554.6 L1327.6 2554.6 L1330.3 2554.5 L1333.0 2554.4 L1335.7 2554.4 L1338.4 2554.3 L1341.1 2554.3 L1343.8 2554.2 L1346.5 2554.2" fill="none" stroke="#0000ff" stroke-width="9.5" stroke-linecap="round" stroke-linejoin="round"/>
<path d="M264.9 2414.4 L267.6 2415.2 L270.3 2416.3 L273.0 2417.6 L275.7 2418.9 L278.4 2420.3 L281.1 2421.8 L283.8 2423.3 L286.5 2424.8 L289.3 2426.5 L292.0 2428.2 L294.7 2430.0 L297.4 2431.8 L300.1 2433.7 L302.8 2435.7 L305.5 2437.8 L308.2 2439.9 L310.9 2442.1 L313.7 2444.6 L316.4 2447.2 L319.1 2450.2 L321.8 2453.2 L324.5 2456.4 L327.2 2459.6 L329.9 2462.7 L332.6 2465.6 L335.3 2468.3 L338.1 2470.6 L340.8 2472.6 L343.5 2474.1 L346.2 2475.3 L348.9 2476.2 L351.6 2477.0 L354.3 2477.8 L357.0 2478.4 L359.7 2479.0 L362.5 2479.3 L365.2 2479.5 L367.9 2479.4 L370.6 2478.9 L373.3 2478.1 L376.0 2477.0 L378.7 2475.7 L381.4 2474.5 L384.1 2473.4 L386.9 2472.5 L389.6 2471.9 L392.3 2471.5 L395.0 2471.3 L397.7 2471.1 L400.4 2470.8 L403.1 2470.7 L405.8 2470.5 L408.5 2470.3 L411.2 2470.2 L414.0 2470.0 L416.7 2469.9 L419.4 2469.8 L422.1 2469.7 L424.8 2469.7 L427.5 2469.6 L430.2 2469.6 L432.9 2469.8 L435.6 2470.4 L438.4 2471.7 L441.1 2473.6 L443.8 2475.9 L446.5 2478.5 L449.2 2481.1 L451.9 2483.7 L454.6 2486.3 L457.3 2489.0 L460.0 2491.8 L462.8 2494.7 L465.5 2497.4 L468.2 2499.7 L470.9 2501.5 L473.6 2502.8 L476.3 2503.8 L479.0 2504.7 L481.7 2505.5 L484.4 2506.3 L487.2 2506.9 L489.9 2507.6 L492.6 2508.1 L495.3 2508.7 L498.0 2509.1 L500.7 2509.6 L503.4 2509.9 L506.1 2510.3 L508.8 2510.6 L511.6 2510.8 L514.3 2511.0 L517.0 2511.2 L519.7 2511.4 L522.4 2511.6 L525.1 2511.7 L527.8 2511.8 L530.5 2511.9 L533.2 2512.0 L536.0 2512.0 L538.7 2511.9 L541.4 2511.8 L544.1 2511.7 L546.8 2511.6 L549.5 2511.4 L552.2 2511.3 L554.9 2511.0 L557.6 2510.8 L560.4 2510.5 L563.1 2510.2 L565.8 2509.9 L568.5 2509.6 L571.2 2509.3 L573.9 2508.9 L576.6 2508.6 L579.3 2508.2 L582.0 2507.9 L584.8 2507.5 L587.5 2507.1 L590.2 2506.7 L592.9 2506.3 L595.6 2505.9 L598.3 2505.5 L601.0 2505.0 L603.7 2504.4 L606.4 2503.8 L609.2 2503.1 L611.9 2502.5 L614.6 2501.8 L617.3 2501.1 L620.0 2500.3 L622.7 2499.6 L625.4 2498.9 L628.1 2498.2 L630.8 2497.6 L633.6 2496.9 L636.3 2496.4 L639.0 2495.8 L641.7 2495.3 L644.4 2494.9 L647.1 2494.4 L649.8 2494.0 L652.5 2493.6 L655.2 2493.2 L658.0 2492.8 L660.7 2492.4 L663.4 2492.0 L666.1 2491.6 L668.8 2491.3 L671.5 2490.9 L674.2 2490.6 L676.9 2490.2 L679.6 2489.9 L682.3 2489.6 L685.1 2489.2 L687.8 2488.9 L690.5 2488.6 L693.2 2488.3 L695.9 2488.0 L698.6 2487.7 L701.3 2487.4 L704.0 2487.1 L706.7 2486.8 L709.5 2486.5 L712.2 2486.3 L714.9 2486.0 L717.6 2485.7 L720.3 2485.4 L723.0 2485.1 L725.7 2484.8 L728.4 2484.5 L731.1 2484.3 L733.9 2484.0 L736.6 2483.8 L739.3 2483.5 L742.0 2483.3 L744.7 2483.1 L747.4 2482.8 L750.1 2482.6 L752.8 2482.3 L755.5 2482.0 L758.3 2481.6 L761.0 2481.3 L763.7 2480.8 L766.4 2480.4 L769.1 2479.8 L771.8 2479.1 L774.5 2478.3 L777.2 2477.3 L779.9 2476.1 L782.7 2474.8 L785.4 2473.4 L788.1 2472.0 L790.8 2470.4 L793.5 2468.8 L796.2 2467.2 L798.9 2465.6 L801.6 2464.0 L804.3 2462.4 L807.1 2460.8 L809.8 2459.2 L812.5 2457.6 L815.2 2456.0 L817.9 2454.3 L820.6 2452.5 L823.3 2450.7 L826.0 2448.8 L828.7 2447.0 L831.5 2445.2 L834.2 2443.4 L836.9 2441.6 L839.6 2439.9 L842.3 2438.3 L845.0 2436.8 L847.7 2435.3 L850.4 2434.0 L853.1 2432.6 L855.9 2431.3 L858.6 2430.0 L861.3 2428.8 L864.0 2427.6 L866.7 2426.4 L869.4 2425.3 L872.1 2424.3 L874.8 2423.3 L877.5 2422.5 L880.3 2421.7 L883.0 2421.0 L885.7 2420.4 L888.4 2419.7 L891.1 2419.1 L893.8 2418.5 L896.5 2418.0 L899.2 2417.6 L901.9 2417.4 L904.7 2417.2 L907.4 2417.2 L910.1 2417.4 L912.8 2417.7 L915.5 2418.1 L918.2 2418.7 L920.9 2419.3 L923.6 2420.1 L926.3 2420.9 L929.1 2421.8 L931.8 2422.6 L934.5 2423.6 L937.2 2424.5 L939.9 2425.6 L942.6 2426.9 L945.3 2428.3 L948.0 2429.8 L950.7 2431.4 L953.4 2433.2 L956.2 2435.1 L958.9 2437.0 L961.6 2439.1 L964.3 2441.2 L967.0 2443.3 L969.7 2445.6 L972.4 2447.8 L975.1 2450.2 L977.8 2452.7 L980.6 2455.3 L983.3 2458.2 L986.0 2461.2 L988.7 2464.3 L991.4 2467.5 L994.1 2470.8 L996.8 2474.2 L999.5 2477.6 L1002.2 2480.9 L1005.0 2484.3 L1007.7 2487.6 L1010.4 2490.9 L1013.1 2494.3 L1015.8 2497.9 L1018.5 2501.6 L1021.2 2505.3 L1023.9 2509.1 L1026.6 2512.8 L1029.4 2516.4 L1032.1 2519.8 L1034.8 2523.0 L1037.5 2526.0 L1040.2 2528.7 L1042.9 2531.0 L1045.6 2533.2 L1048.3 2535.1 L1051.0 2537.0 L1053.8 2538.9 L1056.5 2540.6 L1059.2 2542.3 L1061.9 2544.0 L1064.6 2545.5 L1067.3 2546.9 L1070.0 2548.3 L1072.7 2549.6 L1075.4 2550.8 L1078.2 2551.9 L1080.9 2552.9 L1083.6 2553.7 L1086.3 2554.5 L1089.0 2555.2 L1091.7 2555.9 L1094.4 2556.5 L1097.1 2557.1 L1099.8 2557.7 L1102.6 2558.2 L1105.3 2558.7 L1108.0 2559.2 L1110.7 2559.7 L1113.4 2560.1 L1116.1 2560.5 L1118.8 2560.8 L1121.5 2561.1 L1124.2 2561.4 L1127.0 2561.6 L1129.7 2561.7 L1132.4 2561.8 L1135.1 2561.9 L1137.8 2562.0 L1140.5 2562.1 L1143.2 2562.2 L1145.9 2562.3 L1148.6 2562.4 L1151.4 2562.5 L1154.1 2562.6 L1156.8 2562.6 L1159.5 2562.7 L1162.2 2562.8 L1164.9 2562.8 L1167.6 2562.9 L1170.3 2563.0 L1173.0 2563.0 L1175.8 2563.1 L1178.5 2563.1 L1181.2 2563.1 L1183.9 2563.2 L1186.6 2563.2 L1189.3 2563.3 L1192.0 2563.3 L1194.7 2563.3 L1197.4 2563.3 L1200.2 2563.4 L1202.9 2563.4 L1205.6 2563.4 L1208.3 2563.4 L1211.0 2563.4 L1213.7 2563.4 L1216.4 2563.4 L1219.1 2563.4 L1221.8 2563.4 L1224.5 2563.4 L1227.3 2563.4 L1230.0 2563.4 L1232.7 2563.4 L1235.4 2563.4 L1238.1 2563.4 L1240.8 2563.4 L1243.5 2563.3 L1246.2 2563.3 L1248.9 2563.3 L1251.7 2563.3 L1254.4 2563.3 L1257.1 2563.3 L1259.8 2563.3 L1262.5 2563.3 L1265.2 2563.2 L1267.9 2563.2 L1270.6 2563.2 L1273.3 2563.2 L1276.1 2563.2 L1278.8 2563.1 L1281.5 2563.1 L1284.2 2563.1 L1286.9 2563.1 L1289.6 2563.0 L1292.3 2563.0 L1295.0 2563.0 L1297.7 2562.9 L1300.5 2562.9 L1303.2 2562.8 L1305.9 2562.8 L1308.6 2562.7 L1311.3 2562.7 L1314.0 2562.6 L1316.7 2562.6 L1319.4 2562.5 L1322.1 2562.5 L1324.9 2562.4 L1327.6 2562.4 L1330.3 2562.3 L1333.0 2562.2 L1335.7 2562.2 L1338.4 2562.1 L1341.1 2562.0 L1343.8 2561.9 L1346.5 2561.9" fill="none" stroke="#00fa00" stroke-width="9" stroke-linecap="round" stroke-linejoin="round" stroke-dasharray="37 55" stroke-dashoffset="31.5"/>
<path d="M264.9 2437.7 L267.6 2438.1 L270.3 2438.7 L273.0 2439.5 L275.7 2440.5 L278.4 2441.7 L281.1 2443.1 L283.8 2444.7 L286.5 2446.5 L289.3 2448.4 L292.0 2450.3 L294.7 2452.2 L297.4 2454.2 L300.1 2456.3 L302.8 2458.6 L305.5 2460.9 L308.2 2463.3 L310.9 2465.6 L313.7 2467.7 L316.4 2469.7 L319.1 2471.5 L321.8 2473.2 L324.5 2475.0 L327.2 2476.8 L329.9 2478.5 L332.6 2480.2 L335.3 2481.8 L338.1 2483.2 L340.8 2484.5 L343.5 2485.6 L346.2 2486.5 L348.9 2487.1 L351.6 2487.4 L354.3 2487.5 L357.0 2487.5 L359.7 2487.3 L362.5 2487.1 L365.2 2486.9 L367.9 2486.6 L370.6 2486.2 L373.3 2485.9 L376.0 2485.5 L378.7 2485.2 L381.4 2484.8 L384.1 2484.5 L386.9 2484.3 L389.6 2484.0 L392.3 2483.8 L395.0 2483.6 L397.7 2483.4 L400.4 2483.2 L403.1 2483.0 L405.8 2482.8 L408.5 2482.7 L411.2 2482.6 L414.0 2482.4 L416.7 2482.4 L419.4 2482.4 L422.1 2482.5 L424.8 2482.9 L427.5 2483.7 L430.2 2484.7 L432.9 2486.0 L435.6 2487.5 L438.4 2489.2 L441.1 2491.1 L443.8 2493.0 L446.5 2494.9 L449.2 2496.8 L451.9 2498.6 L454.6 2500.4 L457.3 2501.9 L460.0 2503.3 L462.8 2504.6 L465.5 2505.8 L468.2 2507.0 L470.9 2508.2 L473.6 2509.4 L476.3 2510.6 L479.0 2511.7 L481.7 2512.8 L484.4 2513.8 L487.2 2514.7 L489.9 2515.5 L492.6 2516.2 L495.3 2516.7 L498.0 2517.1 L500.7 2517.4 L503.4 2517.6 L506.1 2517.8 L508.8 2517.9 L511.6 2518.1 L514.3 2518.2 L517.0 2518.4 L519.7 2518.5 L522.4 2518.6 L525.1 2518.7 L527.8 2518.7 L530.5 2518.8 L533.2 2518.8 L536.0 2518.8 L538.7 2518.8 L541.4 2518.6 L544.1 2518.3 L546.8 2517.9 L549.5 2517.3 L552.2 2516.7 L554.9 2516.0 L557.6 2515.3 L560.4 2514.6 L563.1 2513.8 L565.8 2513.1 L568.5 2512.4 L571.2 2511.8 L573.9 2511.2 L576.6 2510.6 L579.3 2510.0 L582.0 2509.3 L584.8 2508.7 L587.5 2508.1 L590.2 2507.4 L592.9 2506.8 L595.6 2506.3 L598.3 2505.7 L601.0 2505.2 L603.7 2504.8 L606.4 2504.5 L609.2 2504.2 L611.9 2504.0 L614.6 2503.8 L617.3 2503.6 L620.0 2503.5 L622.7 2503.4 L625.4 2503.3 L628.1 2503.2 L630.8 2503.1 L633.6 2503.0 L636.3 2502.9 L639.0 2502.8 L641.7 2502.7 L644.4 2502.5 L647.1 2502.3 L649.8 2502.1 L652.5 2501.7 L655.2 2501.4 L658.0 2501.0 L660.7 2500.5 L663.4 2500.1 L666.1 2499.6 L668.8 2499.1 L671.5 2498.6 L674.2 2498.1 L676.9 2497.7 L679.6 2497.2 L682.3 2496.8 L685.1 2496.4 L687.8 2496.1 L690.5 2495.7 L693.2 2495.3 L695.9 2495.0 L698.6 2494.6 L701.3 2494.3 L704.0 2494.0 L706.7 2493.6 L709.5 2493.3 L712.2 2493.0 L714.9 2492.6 L717.6 2492.3 L720.3 2492.0 L723.0 2491.7 L725.7 2491.4 L728.4 2491.1 L731.1 2490.8 L733.9 2490.5 L736.6 2490.3 L739.3 2490.0 L742.0 2489.7 L744.7 2489.5 L747.4 2489.2 L750.1 2488.9 L752.8 2488.5 L755.5 2488.2 L758.3 2487.8 L761.0 2487.4 L763.7 2486.9 L766.4 2486.4 L769.1 2485.8 L771.8 2485.2 L774.5 2484.6 L777.2 2483.9 L779.9 2483.2 L782.7 2482.5 L785.4 2481.8 L788.1 2481.1 L790.8 2480.4 L793.5 2479.6 L796.2 2478.9 L798.9 2478.2 L801.6 2477.5 L804.3 2476.8 L807.1 2476.0 L809.8 2475.3 L812.5 2474.5 L815.2 2473.8 L817.9 2473.0 L820.6 2472.2 L823.3 2471.5 L826.0 2470.8 L828.7 2470.1 L831.5 2469.4 L834.2 2468.7 L836.9 2468.0 L839.6 2467.3 L842.3 2466.6 L845.0 2465.9 L847.7 2465.2 L850.4 2464.5 L853.1 2463.9 L855.9 2463.4 L858.6 2462.9 L861.3 2462.6 L864.0 2462.3 L866.7 2462.1 L869.4 2462.0 L872.1 2461.8 L874.8 2461.7 L877.5 2461.6 L880.3 2461.5 L883.0 2461.4 L885.7 2461.4 L888.4 2461.3 L891.1 2461.2 L893.8 2461.2 L896.5 2461.1 L899.2 2461.1 L901.9 2461.1 L904.7 2461.2 L907.4 2461.3 L910.1 2461.6 L912.8 2462.0 L915.5 2462.5 L918.2 2463.1 L920.9 2463.8 L923.6 2464.6 L926.3 2465.3 L929.1 2466.2 L931.8 2467.0 L934.5 2467.8 L937.2 2468.6 L939.9 2469.5 L942.6 2470.3 L945.3 2471.3 L948.0 2472.2 L950.7 2473.3 L953.4 2474.3 L956.2 2475.5 L958.9 2476.6 L961.6 2477.9 L964.3 2479.1 L967.0 2480.5 L969.7 2481.8 L972.4 2483.2 L975.1 2484.7 L977.8 2486.2 L980.6 2487.8 L983.3 2489.5 L986.0 2491.3 L988.7 2493.2 L991.4 2495.1 L994.1 2497.1 L996.8 2499.2 L999.5 2501.2 L1002.2 2503.4 L1005.0 2505.5 L1007.7 2507.7 L1010.4 2510.0 L1013.1 2512.5 L1015.8 2515.1 L1018.5 2517.7 L1021.2 2520.5 L1023.9 2523.2 L1026.6 2525.8 L1029.4 2528.2 L1032.1 2530.5 L1034.8 2532.5 L1037.5 2534.4 L1040.2 2536.2 L1042.9 2538.0 L1045.6 2539.7 L1048.3 2541.3 L1051.0 2542.9 L1053.8 2544.3 L1056.5 2545.6 L1059.2 2546.9 L1061.9 2548.0 L1064.6 2549.0 L1067.3 2550.0 L1070.0 2551.0 L1072.7 2551.9 L1075.4 2552.9 L1078.2 2553.8 L1080.9 2554.6 L1083.6 2555.4 L1086.3 2556.2 L1089.0 2556.8 L1091.7 2557.4 L1094.4 2558.0 L1097.1 2558.4 L1099.8 2558.8 L1102.6 2559.0 L1105.3 2559.2 L1108.0 2559.4 L1110.7 2559.5 L1113.4 2559.6 L1116.1 2559.7 L1118.8 2559.9 L1121.5 2560.0 L1124.2 2560.1 L1127.0 2560.2 L1129.7 2560.3 L1132.4 2560.4 L1135.1 2560.5 L1137.8 2560.6 L1140.5 2560.7 L1143.2 2560.8 L1145.9 2560.8 L1148.6 2560.9 L1151.4 2561.0 L1154.1 2561.1 L1156.8 2561.1 L1159.5 2561.2 L1162.2 2561.3 L1164.9 2561.3 L1167.6 2561.4 L1170.3 2561.4 L1173.0 2561.5 L1175.8 2561.5 L1178.5 2561.6 L1181.2 2561.6 L1183.9 2561.6 L1186.6 2561.7 L1189.3 2561.7 L1192.0 2561.7 L1194.7 2561.7 L1197.4 2561.8 L1200.2 2561.8 L1202.9 2561.8 L1205.6 2561.8 L1208.3 2561.8 L1211.0 2561.8 L1213.7 2561.8 L1216.4 2561.8 L1219.1 2561.8 L1221.8 2561.8 L1224.5 2561.8 L1227.3 2561.8 L1230.0 2561.8 L1232.7 2561.8 L1235.4 2561.7 L1238.1 2561.7 L1240.8 2561.7 L1243.5 2561.7 L1246.2 2561.7 L1248.9 2561.6 L1251.7 2561.6 L1254.4 2561.6 L1257.1 2561.6 L1259.8 2561.5 L1262.5 2561.5 L1265.2 2561.5 L1267.9 2561.4 L1270.6 2561.4 L1273.3 2561.3 L1276.1 2561.3 L1278.8 2561.2 L1281.5 2561.2 L1284.2 2561.1 L1286.9 2561.1 L1289.6 2561.0 L1292.3 2561.0 L1295.0 2560.9 L1297.7 2560.8 L1300.5 2560.8 L1303.2 2560.7 L1305.9 2560.6 L1308.6 2560.6 L1311.3 2560.5 L1314.0 2560.4 L1316.7 2560.3 L1319.4 2560.2 L1322.1 2560.1 L1324.9 2560.1 L1327.6 2560.0 L1330.3 2559.9 L1333.0 2559.8 L1335.7 2559.7 L1338.4 2559.5 L1341.1 2559.4 L1343.8 2559.3 L1346.5 2559.2" fill="none" stroke="#ff0000" stroke-width="9" stroke-linecap="round" stroke-linejoin="round" stroke-dasharray="4 46" stroke-dashoffset="25"/>
<path d="M264.9 2449.2 L267.6 2450.1 L270.3 2451.2 L273.0 2452.2 L275.7 2453.2 L278.4 2454.1 L281.1 2455.0 L283.8 2455.9 L286.5 2456.9 L289.3 2457.9 L292.0 2459.1 L294.7 2460.3 L297.4 2461.6 L300.1 2463.0 L302.8 2464.5 L305.5 2466.0 L308.2 2467.6 L310.9 2469.3 L313.7 2471.2 L316.4 2473.4 L319.1 2475.8 L321.8 2478.4 L324.5 2481.0 L327.2 2483.5 L329.9 2485.7 L332.6 2487.7 L335.3 2489.3 L338.1 2490.9 L340.8 2492.3 L343.5 2493.6 L346.2 2494.8 L348.9 2495.8 L351.6 2496.5 L354.3 2496.9 L357.0 2497.1 L359.7 2497.0 L362.5 2496.9 L365.2 2496.7 L367.9 2496.5 L370.6 2496.2 L373.3 2495.9 L376.0 2495.7 L378.7 2495.4 L381.4 2495.0 L384.1 2494.6 L386.9 2494.2 L389.6 2493.8 L392.3 2493.4 L395.0 2493.1 L397.7 2493.0 L400.4 2492.9 L403.1 2493.0 L405.8 2493.0 L408.5 2493.1 L411.2 2493.2 L414.0 2493.3 L416.7 2493.5 L419.4 2493.7 L422.1 2493.9 L424.8 2494.2 L427.5 2494.8 L430.2 2495.6 L432.9 2496.5 L435.6 2497.7 L438.4 2499.0 L441.1 2500.3 L443.8 2501.6 L446.5 2502.9 L449.2 2504.2 L451.9 2505.5 L454.6 2506.9 L457.3 2508.4 L460.0 2510.0 L462.8 2511.5 L465.5 2512.9 L468.2 2514.2 L470.9 2515.3 L473.6 2516.3 L476.3 2517.1 L479.0 2517.7 L481.7 2518.4 L484.4 2519.0 L487.2 2519.6 L489.9 2520.1 L492.6 2520.6 L495.3 2521.0 L498.0 2521.4 L500.7 2521.7 L503.4 2521.9 L506.1 2522.0 L508.8 2522.0 L511.6 2522.0 L514.3 2522.0 L517.0 2521.9 L519.7 2521.9 L522.4 2521.8 L525.1 2521.7 L527.8 2521.6 L530.5 2521.5 L533.2 2521.4 L536.0 2521.3 L538.7 2521.1 L541.4 2521.0 L544.1 2520.9 L546.8 2520.7 L549.5 2520.6 L552.2 2520.4 L554.9 2520.3 L557.6 2520.1 L560.4 2520.0 L563.1 2519.9 L565.8 2519.7 L568.5 2519.5 L571.2 2519.4 L573.9 2519.2 L576.6 2519.0 L579.3 2518.8 L582.0 2518.6 L584.8 2518.4 L587.5 2518.1 L590.2 2517.9 L592.9 2517.7 L595.6 2517.5 L598.3 2517.2 L601.0 2517.0 L603.7 2516.7 L606.4 2516.5 L609.2 2516.3 L611.9 2516.0 L614.6 2515.8 L617.3 2515.5 L620.0 2515.3 L622.7 2515.0 L625.4 2514.8 L628.1 2514.6 L630.8 2514.3 L633.6 2514.1 L636.3 2513.8 L639.0 2513.6 L641.7 2513.3 L644.4 2513.0 L647.1 2512.8 L649.8 2512.5 L652.5 2512.3 L655.2 2512.0 L658.0 2511.7 L660.7 2511.4 L663.4 2511.2 L666.1 2510.9 L668.8 2510.6 L671.5 2510.3 L674.2 2510.1 L676.9 2509.8 L679.6 2509.5 L682.3 2509.2 L685.1 2508.9 L687.8 2508.7 L690.5 2508.4 L693.2 2508.1 L695.9 2507.8 L698.6 2507.5 L701.3 2507.2 L704.0 2506.9 L706.7 2506.6 L709.5 2506.2 L712.2 2505.9 L714.9 2505.6 L717.6 2505.3 L720.3 2505.0 L723.0 2504.7 L725.7 2504.4 L728.4 2504.1 L731.1 2503.9 L733.9 2503.6 L736.6 2503.3 L739.3 2503.1 L742.0 2502.8 L744.7 2502.6 L747.4 2502.3 L750.1 2502.0 L752.8 2501.8 L755.5 2501.5 L758.3 2501.1 L761.0 2500.8 L763.7 2500.4 L766.4 2500.0 L769.1 2499.5 L771.8 2498.9 L774.5 2498.3 L777.2 2497.5 L779.9 2496.7 L782.7 2495.9 L785.4 2495.0 L788.1 2494.1 L790.8 2493.2 L793.5 2492.3 L796.2 2491.4 L798.9 2490.6 L801.6 2489.9 L804.3 2489.2 L807.1 2488.5 L809.8 2487.8 L812.5 2487.1 L815.2 2486.4 L817.9 2485.7 L820.6 2485.1 L823.3 2484.5 L826.0 2483.8 L828.7 2483.2 L831.5 2482.6 L834.2 2482.0 L836.9 2481.4 L839.6 2480.8 L842.3 2480.2 L845.0 2479.6 L847.7 2479.0 L850.4 2478.4 L853.1 2477.9 L855.9 2477.4 L858.6 2476.9 L861.3 2476.5 L864.0 2476.1 L866.7 2475.8 L869.4 2475.5 L872.1 2475.2 L874.8 2474.9 L877.5 2474.6 L880.3 2474.3 L883.0 2474.0 L885.7 2473.8 L888.4 2473.6 L891.1 2473.5 L893.8 2473.4 L896.5 2473.3 L899.2 2473.3 L901.9 2473.4 L904.7 2473.6 L907.4 2473.9 L910.1 2474.2 L912.8 2474.6 L915.5 2475.0 L918.2 2475.5 L920.9 2476.0 L923.6 2476.5 L926.3 2477.1 L929.1 2477.7 L931.8 2478.3 L934.5 2478.9 L937.2 2479.7 L939.9 2480.5 L942.6 2481.4 L945.3 2482.4 L948.0 2483.5 L950.7 2484.6 L953.4 2485.8 L956.2 2487.0 L958.9 2488.3 L961.6 2489.7 L964.3 2491.2 L967.0 2492.8 L969.7 2494.4 L972.4 2496.2 L975.1 2498.0 L977.8 2499.9 L980.6 2501.9 L983.3 2504.1 L986.0 2506.3 L988.7 2508.7 L991.4 2511.2 L994.1 2513.7 L996.8 2516.1 L999.5 2518.5 L1002.2 2520.9 L1005.0 2523.2 L1007.7 2525.4 L1010.4 2527.7 L1013.1 2529.9 L1015.8 2532.1 L1018.5 2534.2 L1021.2 2536.2 L1023.9 2538.0 L1026.6 2539.7 L1029.4 2541.3 L1032.1 2542.8 L1034.8 2544.2 L1037.5 2545.6 L1040.2 2547.0 L1042.9 2548.3 L1045.6 2549.5 L1048.3 2550.7 L1051.0 2551.8 L1053.8 2552.8 L1056.5 2553.6 L1059.2 2554.4 L1061.9 2555.1 L1064.6 2555.7 L1067.3 2556.2 L1070.0 2556.8 L1072.7 2557.2 L1075.4 2557.7 L1078.2 2558.2 L1080.9 2558.6 L1083.6 2559.0 L1086.3 2559.4 L1089.0 2559.7 L1091.7 2560.0 L1094.4 2560.2 L1097.1 2560.4 L1099.8 2560.6 L1102.6 2560.7 L1105.3 2560.8 L1108.0 2560.8 L1110.7 2560.9 L1113.4 2560.9 L1116.1 2561.0 L1118.8 2561.0 L1121.5 2561.1 L1124.2 2561.1 L1127.0 2561.2 L1129.7 2561.2 L1132.4 2561.2 L1135.1 2561.3 L1137.8 2561.3 L1140.5 2561.4 L1143.2 2561.4 L1145.9 2561.4 L1148.6 2561.5 L1151.4 2561.5 L1154.1 2561.5 L1156.8 2561.5 L1159.5 2561.6 L1162.2 2561.6 L1164.9 2561.6 L1167.6 2561.6 L1170.3 2561.7 L1173.0 2561.7 L1175.8 2561.7 L1178.5 2561.7 L1181.2 2561.7 L1183.9 2561.7 L1186.6 2561.7 L1189.3 2561.8 L1192.0 2561.8 L1194.7 2561.8 L1197.4 2561.8 L1200.2 2561.8 L1202.9 2561.8 L1205.6 2561.8 L1208.3 2561.8 L1211.0 2561.8 L1213.7 2561.8 L1216.4 2561.8 L1219.1 2561.8 L1221.8 2561.8 L1224.5 2561.8 L1227.3 2561.8 L1230.0 2561.8 L1232.7 2561.7 L1235.4 2561.7 L1238.1 2561.7 L1240.8 2561.7 L1243.5 2561.7 L1246.2 2561.7 L1248.9 2561.6 L1251.7 2561.6 L1254.4 2561.6 L1257.1 2561.6 L1259.8 2561.5 L1262.5 2561.5 L1265.2 2561.5 L1267.9 2561.4 L1270.6 2561.4 L1273.3 2561.3 L1276.1 2561.3 L1278.8 2561.3 L1281.5 2561.2 L1284.2 2561.2 L1286.9 2561.1 L1289.6 2561.1 L1292.3 2561.0 L1295.0 2561.0 L1297.7 2560.9 L1300.5 2560.9 L1303.2 2560.8 L1305.9 2560.8 L1308.6 2560.7 L1311.3 2560.6 L1314.0 2560.6 L1316.7 2560.5 L1319.4 2560.4 L1322.1 2560.4 L1324.9 2560.3 L1327.6 2560.2 L1330.3 2560.2 L1333.0 2560.1 L1335.7 2560.0 L1338.4 2560.0 L1341.1 2559.9 L1343.8 2559.8 L1346.5 2559.7" fill="none" stroke="#ff00ff" stroke-width="9" stroke-linecap="round" stroke-linejoin="round" stroke-dasharray="41 31 5 31" stroke-dashoffset="54"/>
<path d="M264.9 2451.9 L267.6 2452.7 L270.3 2453.7 L273.0 2454.6 L275.7 2455.4 L278.4 2456.2 L281.1 2457.0 L283.8 2457.8 L286.5 2458.6 L289.3 2459.6 L292.0 2460.7 L294.7 2461.8 L297.4 2463.1 L300.1 2464.5 L302.8 2466.0 L305.5 2467.5 L308.2 2469.1 L310.9 2470.9 L313.7 2472.8 L316.4 2475.0 L319.1 2477.4 L321.8 2480.0 L324.5 2482.6 L327.2 2485.1 L329.9 2487.3 L332.6 2489.3 L335.3 2490.9 L338.1 2492.5 L340.8 2493.9 L343.5 2495.2 L346.2 2496.4 L348.9 2497.4 L351.6 2498.1 L354.3 2498.5 L357.0 2498.6 L359.7 2498.6 L362.5 2498.5 L365.2 2498.3 L367.9 2498.0 L370.6 2497.8 L373.3 2497.5 L376.0 2497.3 L378.7 2497.0 L381.4 2496.6 L384.1 2496.2 L386.9 2495.8 L389.6 2495.4 L392.3 2495.0 L395.0 2494.7 L397.7 2494.6 L400.4 2494.5 L403.1 2494.5 L405.8 2494.6 L408.5 2494.7 L411.2 2494.8 L414.0 2494.9 L416.7 2495.1 L419.4 2495.3 L422.1 2495.5 L424.8 2495.8 L427.5 2496.4 L430.2 2497.1 L432.9 2498.1 L435.6 2499.3 L438.4 2500.6 L441.1 2501.9 L443.8 2503.2 L446.5 2504.5 L449.2 2505.7 L451.9 2507.1 L454.6 2508.5 L457.3 2510.0 L460.0 2511.6 L462.8 2513.1 L465.5 2514.5 L468.2 2515.8 L470.9 2516.9 L473.6 2517.9 L476.3 2518.6 L479.0 2519.3 L481.7 2520.0 L484.4 2520.6 L487.2 2521.2 L489.9 2521.7 L492.6 2522.2 L495.3 2522.6 L498.0 2523.0 L500.7 2523.3 L503.4 2523.5 L506.1 2523.6 L508.8 2523.6 L511.6 2523.6 L514.3 2523.6 L517.0 2523.5 L519.7 2523.5 L522.4 2523.4 L525.1 2523.3 L527.8 2523.2 L530.5 2523.1 L533.2 2523.0 L536.0 2522.9 L538.7 2522.7 L541.4 2522.6 L544.1 2522.5 L546.8 2522.3 L549.5 2522.2 L552.2 2522.0 L554.9 2521.9 L557.6 2521.7 L560.4 2521.6 L563.1 2521.4 L565.8 2521.3 L568.5 2521.1 L571.2 2521.0 L573.9 2520.8 L576.6 2520.6 L579.3 2520.4 L582.0 2520.2 L584.8 2520.0 L587.5 2519.7 L590.2 2519.5 L592.9 2519.3 L595.6 2519.0 L598.3 2518.8 L601.0 2518.6 L603.7 2518.3 L606.4 2518.1 L609.2 2517.8 L611.9 2517.6 L614.6 2517.4 L617.3 2517.1 L620.0 2516.9 L622.7 2516.6 L625.4 2516.4 L628.1 2516.1 L630.8 2515.9 L633.6 2515.6 L636.3 2515.4 L639.0 2515.1 L641.7 2514.9 L644.4 2514.6 L647.1 2514.4 L649.8 2514.1 L652.5 2513.8 L655.2 2513.6 L658.0 2513.3 L660.7 2513.0 L663.4 2512.8 L666.1 2512.5 L668.8 2512.2 L671.5 2511.9 L674.2 2511.7 L676.9 2511.4 L679.6 2511.1 L682.3 2510.8 L685.1 2510.5 L687.8 2510.2 L690.5 2510.0 L693.2 2509.7 L695.9 2509.4 L698.6 2509.1 L701.3 2508.8 L704.0 2508.5 L706.7 2508.1 L709.5 2507.8 L712.2 2507.5 L714.9 2507.2 L717.6 2506.9 L720.3 2506.6 L723.0 2506.3 L725.7 2506.0 L728.4 2505.7 L731.1 2505.5 L733.9 2505.2 L736.6 2504.9 L739.3 2504.7 L742.0 2504.4 L744.7 2504.2 L747.4 2503.9 L750.1 2503.6 L752.8 2503.4 L755.5 2503.0 L758.3 2502.7 L761.0 2502.4 L763.7 2502.0 L766.4 2501.6 L769.1 2501.1 L771.8 2500.5 L774.5 2499.9 L777.2 2499.1 L779.9 2498.3 L782.7 2497.5 L785.4 2496.6 L788.1 2495.7 L790.8 2494.8 L793.5 2493.9 L796.2 2493.0 L798.9 2492.2 L801.6 2491.5 L804.3 2490.8 L807.1 2490.1 L809.8 2489.4 L812.5 2488.7 L815.2 2488.0 L817.9 2487.3 L820.6 2486.7 L823.3 2486.0 L826.0 2485.4 L828.7 2484.8 L831.5 2484.2 L834.2 2483.6 L836.9 2483.0 L839.6 2482.4 L842.3 2481.8 L845.0 2481.2 L847.7 2480.6 L850.4 2480.0 L853.1 2479.5 L855.9 2479.0 L858.6 2478.5 L861.3 2478.1 L864.0 2477.7 L866.7 2477.4 L869.4 2477.1 L872.1 2476.7 L874.8 2476.4 L877.5 2476.2 L880.3 2475.9 L883.0 2475.6 L885.7 2475.4 L888.4 2475.2 L891.1 2475.1 L893.8 2475.0 L896.5 2474.9 L899.2 2474.9 L901.9 2475.0 L904.7 2475.2 L907.4 2475.5 L910.1 2475.8 L912.8 2476.2 L915.5 2476.6 L918.2 2477.1 L920.9 2477.6 L923.6 2478.1 L926.3 2478.7 L929.1 2479.3 L931.8 2479.9 L934.5 2480.5 L937.2 2481.3 L939.9 2482.1 L942.6 2483.0 L945.3 2484.0 L948.0 2485.0 L950.7 2486.2 L953.4 2487.4 L956.2 2488.6 L958.9 2489.9 L961.6 2491.3 L964.3 2492.8 L967.0 2494.3 L969.7 2496.0 L972.4 2497.8 L975.1 2499.6 L977.8 2501.5 L980.6 2503.5 L983.3 2505.7 L986.0 2507.9 L988.7 2510.3 L991.4 2512.8 L994.1 2515.3 L996.8 2517.8 L999.5 2520.2 L1002.2 2522.5 L1005.0 2524.7 L1007.7 2526.9 L1010.4 2529.1 L1013.1 2531.3 L1015.8 2533.4 L1018.5 2535.4 L1021.2 2537.4 L1023.9 2539.2 L1026.6 2540.8 L1029.4 2542.4 L1032.1 2543.8 L1034.8 2545.3 L1037.5 2546.7 L1040.2 2548.0 L1042.9 2549.3 L1045.6 2550.6 L1048.3 2551.7 L1051.0 2552.8 L1053.8 2553.8 L1056.5 2554.7 L1059.2 2555.5 L1061.9 2556.2 L1064.6 2556.8 L1067.3 2557.3 L1070.0 2557.8 L1072.7 2558.3 L1075.4 2558.8 L1078.2 2559.2 L1080.9 2559.7 L1083.6 2560.1 L1086.3 2560.4 L1089.0 2560.7 L1091.7 2561.0 L1094.4 2561.3 L1097.1 2561.5 L1099.8 2561.6 L1102.6 2561.7 L1105.3 2561.8 L1108.0 2561.9 L1110.7 2561.9 L1113.4 2562.0 L1116.1 2562.0 L1118.8 2562.1 L1121.5 2562.1 L1124.2 2562.2 L1127.0 2562.2 L1129.7 2562.3 L1132.4 2562.3 L1135.1 2562.3 L1137.8 2562.4 L1140.5 2562.4 L1143.2 2562.5 L1145.9 2562.5 L1148.6 2562.5 L1151.4 2562.5 L1154.1 2562.6 L1156.8 2562.6 L1159.5 2562.6 L1162.2 2562.6 L1164.9 2562.7 L1167.6 2562.7 L1170.3 2562.7 L1173.0 2562.7 L1175.8 2562.7 L1178.5 2562.8 L1181.2 2562.8 L1183.9 2562.8 L1186.6 2562.8 L1189.3 2562.8 L1192.0 2562.8 L1194.7 2562.8 L1197.4 2562.8 L1200.2 2562.8 L1202.9 2562.9 L1205.6 2562.9 L1208.3 2562.9 L1211.0 2562.9 L1213.7 2562.9 L1216.4 2562.9 L1219.1 2562.9 L1221.8 2562.8 L1224.5 2562.8 L1227.3 2562.8 L1230.0 2562.8 L1232.7 2562.8 L1235.4 2562.8 L1238.1 2562.8 L1240.8 2562.8 L1243.5 2562.7 L1246.2 2562.7 L1248.9 2562.7 L1251.7 2562.7 L1254.4 2562.6 L1257.1 2562.6 L1259.8 2562.6 L1262.5 2562.6 L1265.2 2562.5 L1267.9 2562.5 L1270.6 2562.4 L1273.3 2562.4 L1276.1 2562.4 L1278.8 2562.3 L1281.5 2562.3 L1284.2 2562.2 L1286.9 2562.2 L1289.6 2562.1 L1292.3 2562.1 L1295.0 2562.0 L1297.7 2562.0 L1300.5 2561.9 L1303.2 2561.9 L1305.9 2561.8 L1308.6 2561.8 L1311.3 2561.7 L1314.0 2561.6 L1316.7 2561.6 L1319.4 2561.5 L1322.1 2561.4 L1324.9 2561.4 L1327.6 2561.3 L1330.3 2561.2 L1333.0 2561.2 L1335.7 2561.1 L1338.4 2561.0 L1341.1 2560.9 L1343.8 2560.9 L1346.5 2560.8" fill="none" stroke="#80ffff" stroke-width="9" stroke-linecap="round" stroke-linejoin="round" stroke-dasharray="41 31 5 31" stroke-dashoffset="0"/>
</g>
<clipPath id="clip_g"><rect x="263.5" y="2583.5" width="1077.5" height="760.0"/></clipPath>
<g clip-path="url(#clip_g)">
<rect x="263.5" y="2583.5" width="1077.5" height="760.0" fill="#fff"/>
<path d="M264.0 2910.2 L266.7 2909.8 L269.4 2909.4 L272.2 2908.9 L274.9 2908.7 L277.6 2908.8 L280.3 2909.3 L283.0 2910.0 L285.8 2910.9 L288.5 2911.9 L291.2 2913.1 L293.9 2914.9 L296.6 2917.6 L299.4 2921.8 L302.1 2927.9 L304.8 2935.8 L307.5 2945.3 L310.2 2956.0 L313.0 2967.5 L315.7 2979.7 L318.4 2993.0 L321.1 3007.5 L323.8 3022.5 L326.6 3037.6 L329.3 3052.3 L332.0 3066.1 L334.7 3078.3 L337.4 3088.6 L340.2 3097.1 L342.9 3103.9 L345.6 3108.9 L348.3 3112.4 L351.0 3114.6 L353.8 3115.6 L356.5 3115.5 L359.2 3114.2 L361.9 3111.8 L364.6 3108.4 L367.4 3104.3 L370.1 3099.5 L372.8 3094.0 L375.5 3088.0 L378.2 3081.8 L381.0 3075.4 L383.7 3069.2 L386.4 3063.1 L389.1 3057.3 L391.8 3052.0 L394.6 3047.0 L397.3 3042.6 L400.0 3038.8 L402.7 3035.5 L405.4 3032.7 L408.2 3030.4 L410.9 3028.6 L413.6 3027.2 L416.3 3026.3 L419.0 3025.8 L421.8 3025.7 L424.5 3026.1 L427.2 3027.1 L429.9 3028.9 L432.6 3031.6 L435.4 3035.5 L438.1 3040.7 L440.8 3047.3 L443.5 3055.5 L446.2 3065.0 L449.0 3075.8 L451.7 3087.5 L454.4 3099.6 L457.1 3111.7 L459.8 3123.3 L462.6 3134.1 L465.3 3144.0 L468.0 3152.8 L470.7 3160.5 L473.4 3167.3 L476.2 3173.3 L478.9 3178.7 L481.6 3183.5 L484.3 3187.9 L487.0 3192.0 L489.8 3195.8 L492.5 3199.3 L495.2 3202.6 L497.9 3205.8 L500.6 3208.8 L503.4 3211.7 L506.1 3214.4 L508.8 3216.9 L511.5 3219.2 L514.2 3221.3 L517.0 3223.1 L519.7 3224.6 L522.4 3225.9 L525.1 3226.9 L527.8 3227.6 L530.6 3227.9 L533.3 3228.0 L536.0 3227.6 L538.7 3227.0 L541.4 3226.0 L544.2 3224.7 L546.9 3223.2 L549.6 3221.6 L552.3 3219.7 L555.0 3217.6 L557.8 3215.3 L560.5 3212.8 L563.2 3210.1 L565.9 3207.3 L568.6 3204.3 L571.4 3201.2 L574.1 3197.9 L576.8 3194.5 L579.5 3190.9 L582.2 3187.2 L585.0 3183.4 L587.7 3179.3 L590.4 3175.1 L593.1 3170.8 L595.8 3166.3 L598.6 3161.8 L601.3 3157.2 L604.0 3152.5 L606.7 3147.9 L609.4 3143.3 L612.2 3138.7 L614.9 3134.1 L617.6 3129.6 L620.3 3125.0 L623.0 3120.6 L625.8 3116.1 L628.5 3111.7 L631.2 3107.3 L633.9 3103.1 L636.6 3098.9 L639.4 3094.8 L642.1 3090.9 L644.8 3087.1 L647.5 3083.4 L650.2 3079.9 L653.0 3076.4 L655.7 3073.1 L658.4 3070.0 L661.1 3066.9 L663.8 3064.0 L666.6 3061.1 L669.3 3058.4 L672.0 3055.8 L674.7 3053.4 L677.4 3051.0 L680.2 3048.8 L682.9 3046.6 L685.6 3044.5 L688.3 3042.5 L691.0 3040.6 L693.8 3038.6 L696.5 3036.7 L699.2 3034.9 L701.9 3033.1 L704.6 3031.3 L707.4 3029.5 L710.1 3027.9 L712.8 3026.2 L715.5 3024.6 L718.2 3023.1 L721.0 3021.6 L723.7 3020.1 L726.4 3018.6 L729.1 3017.1 L731.8 3015.6 L734.6 3014.0 L737.3 3012.5 L740.0 3010.9 L742.7 3009.2 L745.4 3007.5 L748.2 3005.8 L750.9 3004.0 L753.6 3002.1 L756.3 3000.1 L759.0 2997.9 L761.8 2995.6 L764.5 2993.0 L767.2 2990.2 L769.9 2987.2 L772.6 2983.8 L775.4 2980.2 L778.1 2976.2 L780.8 2972.0 L783.5 2967.3 L786.2 2962.2 L789.0 2956.7 L791.7 2950.7 L794.4 2944.1 L797.1 2936.9 L799.8 2929.1 L802.6 2920.7 L805.3 2911.7 L808.0 2902.3 L810.7 2892.6 L813.4 2882.7 L816.2 2872.9 L818.9 2863.1 L821.6 2853.5 L824.3 2844.0 L827.0 2834.6 L829.8 2825.3 L832.5 2816.2 L835.2 2807.3 L837.9 2798.5 L840.6 2789.8 L843.4 2781.3 L846.1 2772.9 L848.8 2764.5 L851.5 2756.3 L854.2 2748.2 L857.0 2740.3 L859.7 2732.5 L862.4 2725.0 L865.1 2717.8 L867.8 2710.9 L870.6 2704.4 L873.3 2698.4 L876.0 2692.9 L878.7 2688.1 L881.4 2684.0 L884.2 2680.6 L886.9 2677.9 L889.6 2675.9 L892.3 2674.5 L895.0 2673.7 L897.8 2673.5 L900.5 2673.7 L903.2 2674.5 L905.9 2675.8 L908.6 2677.5 L911.4 2679.7 L914.1 2682.3 L916.8 2685.2 L919.5 2688.4 L922.2 2691.8 L925.0 2695.3 L927.7 2698.9 L930.4 2702.5 L933.1 2706.1 L935.8 2709.7 L938.6 2713.3 L941.3 2717.0 L944.0 2720.9 L946.7 2724.9 L949.4 2729.3 L952.2 2733.9 L954.9 2739.0 L957.6 2744.4 L960.3 2750.4 L963.0 2756.9 L965.8 2763.9 L968.5 2771.7 L971.2 2780.2 L973.9 2789.6 L976.6 2799.8 L979.4 2811.0 L982.1 2823.1 L984.8 2836.3 L987.5 2850.4 L990.2 2865.3 L993.0 2880.8 L995.7 2897.0 L998.4 2913.5 L1001.1 2930.4 L1003.8 2947.5 L1006.6 2964.7 L1009.3 2982.0 L1012.0 2999.3 L1014.7 3016.5 L1017.4 3033.4 L1020.2 3050.2 L1022.9 3066.6 L1025.6 3082.7 L1028.3 3098.4 L1031.0 3113.7 L1033.8 3128.4 L1036.5 3142.6 L1039.2 3156.2 L1041.9 3169.2 L1044.6 3181.5 L1047.4 3193.2 L1050.1 3204.2 L1052.8 3214.5 L1055.5 3224.1 L1058.2 3233.0 L1061.0 3241.2 L1063.7 3248.7 L1066.4 3255.6 L1069.1 3261.9 L1071.8 3267.6 L1074.6 3272.8 L1077.3 3277.5 L1080.0 3281.7 L1082.7 3285.5 L1085.4 3288.9 L1088.2 3291.9 L1090.9 3294.5 L1093.6 3296.9 L1096.3 3298.9 L1099.0 3300.7 L1101.8 3302.3 L1104.5 3303.8 L1107.2 3305.0 L1109.9 3306.1 L1112.6 3307.2 L1115.4 3308.1 L1118.1 3308.9 L1120.8 3309.6 L1123.5 3310.3 L1126.2 3310.9 L1129.0 3311.4 L1131.7 3311.8 L1134.4 3312.2 L1137.1 3312.5 L1139.8 3312.8 L1142.6 3313.1 L1145.3 3313.3 L1148.0 3313.6 L1150.7 3313.8 L1153.4 3314.0 L1156.2 3314.2 L1158.9 3314.4 L1161.6 3314.5 L1164.3 3314.7 L1167.0 3314.8 L1169.8 3314.9 L1172.5 3315.0 L1175.2 3315.1 L1177.9 3315.2 L1180.6 3315.2 L1183.4 3315.3 L1186.1 3315.3 L1188.8 3315.3 L1191.5 3315.3 L1194.2 3315.3 L1197.0 3315.2 L1199.7 3315.2 L1202.4 3315.2 L1205.1 3315.2 L1207.8 3315.1 L1210.6 3315.1 L1213.3 3315.1 L1216.0 3315.0 L1218.7 3315.0 L1221.4 3315.0 L1224.2 3314.9 L1226.9 3314.9 L1229.6 3314.8 L1232.3 3314.8 L1235.0 3314.7 L1237.8 3314.7 L1240.5 3314.6 L1243.2 3314.6 L1245.9 3314.5 L1248.6 3314.5 L1251.4 3314.5 L1254.1 3314.4 L1256.8 3314.4 L1259.5 3314.3 L1262.2 3314.3 L1265.0 3314.2 L1267.7 3314.2 L1270.4 3314.1 L1273.1 3314.1 L1275.8 3314.1 L1278.6 3314.0 L1281.3 3314.0 L1284.0 3313.9 L1286.7 3313.9 L1289.4 3313.8 L1292.2 3313.8 L1294.9 3313.7 L1297.6 3313.7 L1300.3 3313.6 L1303.0 3313.6 L1305.8 3313.5 L1308.5 3313.5 L1311.2 3313.4 L1313.9 3313.4 L1316.6 3313.3 L1319.4 3313.3 L1322.1 3313.2 L1324.8 3313.2 L1327.5 3313.1 L1330.2 3313.1 L1333.0 3313.0 L1335.7 3312.9 L1338.4 3312.9 L1341.1 3312.8 L1343.8 3312.8 L1346.6 3312.7 L1349.3 3312.7 L1352.0 3312.7" fill="none" stroke="#0000ff" stroke-width="9.5" stroke-linecap="round" stroke-linejoin="round"/>
<path d="M264.0 3270.9 L266.7 3271.9 L269.4 3273.3 L272.2 3274.7 L274.9 3276.1 L277.6 3277.5 L280.3 3278.9 L283.0 3280.2 L285.8 3281.5 L288.5 3282.8 L291.2 3284.1 L293.9 3285.3 L296.6 3286.5 L299.4 3287.6 L302.1 3288.7 L304.8 3289.8 L307.5 3290.8 L310.2 3291.8 L313.0 3292.7 L315.7 3293.6 L318.4 3294.4 L321.1 3295.2 L323.8 3296.0 L326.6 3296.8 L329.3 3297.5 L332.0 3298.2 L334.7 3298.9 L337.4 3299.6 L340.2 3300.3 L342.9 3300.9 L345.6 3301.6 L348.3 3302.2 L351.0 3302.8 L353.8 3303.4 L356.5 3303.9 L359.2 3304.5 L361.9 3305.0 L364.6 3305.5 L367.4 3306.0 L370.1 3306.5 L372.8 3307.0 L375.5 3307.4 L378.2 3307.8 L381.0 3308.2 L383.7 3308.6 L386.4 3309.0 L389.1 3309.4 L391.8 3309.8 L394.6 3310.2 L397.3 3310.6 L400.0 3311.0 L402.7 3311.3 L405.4 3311.7 L408.2 3312.1 L410.9 3312.4 L413.6 3312.8 L416.3 3313.1 L419.0 3313.4 L421.8 3313.8 L424.5 3314.1 L427.2 3314.4 L429.9 3314.7 L432.6 3315.0 L435.4 3315.3 L438.1 3315.6 L440.8 3315.8 L443.5 3316.1 L446.2 3316.4 L449.0 3316.6 L451.7 3316.8 L454.4 3317.1 L457.1 3317.3 L459.8 3317.5 L462.6 3317.7 L465.3 3317.9 L468.0 3318.0 L470.7 3318.2 L473.4 3318.3 L476.2 3318.5 L478.9 3318.6 L481.6 3318.7 L484.3 3318.8 L487.0 3318.9 L489.8 3319.0 L492.5 3319.1 L495.2 3319.2 L497.9 3319.3 L500.6 3319.4 L503.4 3319.5 L506.1 3319.6 L508.8 3319.6 L511.5 3319.7 L514.2 3319.8 L517.0 3319.8 L519.7 3319.9 L522.4 3320.0 L525.1 3320.1 L527.8 3320.2 L530.6 3320.2 L533.3 3320.3 L536.0 3320.4 L538.7 3320.5 L541.4 3320.6 L544.2 3320.8 L546.9 3320.9 L549.6 3321.0 L552.3 3321.1 L555.0 3321.3 L557.8 3321.4 L560.5 3321.6 L563.2 3321.7 L565.9 3321.8 L568.6 3322.0 L571.4 3322.1 L574.1 3322.3 L576.8 3322.4 L579.5 3322.5 L582.2 3322.6 L585.0 3322.7 L587.7 3322.8 L590.4 3322.9 L593.1 3323.0 L595.8 3323.1 L598.6 3323.2 L601.3 3323.2 L604.0 3323.3 L606.7 3323.4 L609.4 3323.4 L612.2 3323.5 L614.9 3323.5 L617.6 3323.6 L620.3 3323.7 L623.0 3323.7 L625.8 3323.8 L628.5 3323.8 L631.2 3323.9 L633.9 3323.9 L636.6 3323.9 L639.4 3324.0 L642.1 3324.0 L644.8 3324.0 L647.5 3324.1 L650.2 3324.1 L653.0 3324.1 L655.7 3324.1 L658.4 3324.1 L661.1 3324.1 L663.8 3324.1 L666.6 3324.1 L669.3 3324.1 L672.0 3324.1 L674.7 3324.1 L677.4 3324.1 L680.2 3324.1 L682.9 3324.1 L685.6 3324.1 L688.3 3324.1 L691.0 3324.1 L693.8 3324.1 L696.5 3324.1 L699.2 3324.1 L701.9 3324.1 L704.6 3324.1 L707.4 3324.1 L710.1 3324.1 L712.8 3324.1 L715.5 3324.1 L718.2 3324.1 L721.0 3324.1 L723.7 3324.1 L726.4 3324.1 L729.1 3324.1 L731.8 3324.1 L734.6 3324.1 L737.3 3324.1 L740.0 3324.1 L742.7 3324.1 L745.4 3324.1 L748.2 3324.1 L750.9 3324.1 L753.6 3324.1 L756.3 3324.1 L759.0 3324.1 L761.8 3324.1 L764.5 3324.1 L767.2 3324.0 L769.9 3323.9 L772.6 3323.8 L775.4 3323.7 L778.1 3323.6 L780.8 3323.4 L783.5 3323.3 L786.2 3323.1 L789.0 3322.9 L791.7 3322.7 L794.4 3322.5 L797.1 3322.3 L799.8 3322.0 L802.6 3321.7 L805.3 3321.4 L808.0 3320.9 L810.7 3320.4 L813.4 3319.8 L816.2 3319.2 L818.9 3318.5 L821.6 3317.8 L824.3 3317.2 L827.0 3316.5 L829.8 3315.9 L832.5 3315.3 L835.2 3314.8 L837.9 3314.3 L840.6 3313.9 L843.4 3313.5 L846.1 3313.2 L848.8 3312.9 L851.5 3312.5 L854.2 3312.2 L857.0 3311.9 L859.7 3311.6 L862.4 3311.3 L865.1 3311.1 L867.8 3310.9 L870.6 3310.7 L873.3 3310.5 L876.0 3310.4 L878.7 3310.3 L881.4 3310.3 L884.2 3310.3 L886.9 3310.3 L889.6 3310.3 L892.3 3310.3 L895.0 3310.3 L897.8 3310.3 L900.5 3310.3 L903.2 3310.3 L905.9 3310.3 L908.6 3310.3 L911.4 3310.3 L914.1 3310.3 L916.8 3310.3 L919.5 3310.3 L922.2 3310.3 L925.0 3310.3 L927.7 3310.3 L930.4 3310.3 L933.1 3310.4 L935.8 3310.5 L938.6 3310.7 L941.3 3310.9 L944.0 3311.2 L946.7 3311.4 L949.4 3311.7 L952.2 3312.1 L954.9 3312.4 L957.6 3312.8 L960.3 3313.1 L963.0 3313.5 L965.8 3313.9 L968.5 3314.3 L971.2 3314.8 L973.9 3315.4 L976.6 3316.0 L979.4 3316.7 L982.1 3317.4 L984.8 3318.2 L987.5 3319.0 L990.2 3319.8 L993.0 3320.7 L995.7 3321.5 L998.4 3322.4 L1001.1 3323.3 L1003.8 3324.2 L1006.6 3325.2 L1009.3 3326.2 L1012.0 3327.2 L1014.7 3328.4 L1017.4 3329.7 L1020.2 3330.9 L1022.9 3332.2 L1025.6 3333.5 L1028.3 3334.8 L1031.0 3335.9 L1033.8 3337.0 L1036.5 3338.0 L1039.2 3338.8 L1041.9 3339.4 L1044.6 3340.0 L1047.4 3340.5 L1050.1 3341.0 L1052.8 3341.5 L1055.5 3341.9 L1058.2 3342.3 L1061.0 3342.7 L1063.7 3343.1 L1066.4 3343.4 L1069.1 3343.6 L1071.8 3343.8 L1074.6 3344.0 L1077.3 3344.1 L1080.0 3344.1 L1082.7 3344.2 L1085.4 3344.3 L1088.2 3344.3 L1090.9 3344.4 L1093.6 3344.4 L1096.3 3344.5 L1099.0 3344.5 L1101.8 3344.6 L1104.5 3344.6 L1107.2 3344.7 L1109.9 3344.8 L1112.6 3344.8 L1115.4 3344.8 L1118.1 3344.9 L1120.8 3344.9 L1123.5 3345.0 L1126.2 3345.0 L1129.0 3345.1 L1131.7 3345.1 L1134.4 3345.2 L1137.1 3345.2 L1139.8 3345.3 L1142.6 3345.3 L1145.3 3345.3 L1148.0 3345.4 L1150.7 3345.4 L1153.4 3345.5 L1156.2 3345.5 L1158.9 3345.5 L1161.6 3345.6 L1164.3 3345.6 L1167.0 3345.6 L1169.8 3345.7 L1172.5 3345.7 L1175.2 3345.7 L1177.9 3345.8 L1180.6 3345.8 L1183.4 3345.8 L1186.1 3345.9 L1188.8 3345.9 L1191.5 3345.9 L1194.2 3345.9 L1197.0 3346.0 L1199.7 3346.0 L1202.4 3346.0 L1205.1 3346.0 L1207.8 3346.1 L1210.6 3346.1 L1213.3 3346.1 L1216.0 3346.1 L1218.7 3346.2 L1221.4 3346.2 L1224.2 3346.2 L1226.9 3346.2 L1229.6 3346.2 L1232.3 3346.3 L1235.0 3346.3 L1237.8 3346.3 L1240.5 3346.3 L1243.2 3346.3 L1245.9 3346.4 L1248.6 3346.4 L1251.4 3346.4 L1254.1 3346.4 L1256.8 3346.4 L1259.5 3346.4 L1262.2 3346.4 L1265.0 3346.5 L1267.7 3346.5 L1270.4 3346.5 L1273.1 3346.5 L1275.8 3346.5 L1278.6 3346.5 L1281.3 3346.5 L1284.0 3346.5 L1286.7 3346.5 L1289.4 3346.6 L1292.2 3346.6 L1294.9 3346.6 L1297.6 3346.6 L1300.3 3346.6 L1303.0 3346.6 L1305.8 3346.6 L1308.5 3346.6 L1311.2 3346.6 L1313.9 3346.6 L1316.6 3346.6 L1319.4 3346.6 L1322.1 3346.6 L1324.8 3346.6 L1327.5 3346.6 L1330.2 3346.6 L1333.0 3346.6 L1335.7 3346.6 L1338.4 3346.6 L1341.1 3346.6 L1343.8 3346.6 L1346.6 3346.6 L1349.3 3346.6 L1352.0 3346.6" fill="none" stroke="#00fa00" stroke-width="9" stroke-linecap="round" stroke-linejoin="round" stroke-dasharray="37 55" stroke-dashoffset="13.7"/>
<path d="M264.0 3271.9 L266.7 3272.8 L269.4 3273.9 L272.2 3275.1 L274.9 3276.3 L277.6 3277.4 L280.3 3278.6 L283.0 3279.7 L285.8 3280.8 L288.5 3281.9 L291.2 3283.0 L293.9 3284.1 L296.6 3285.1 L299.4 3286.2 L302.1 3287.2 L304.8 3288.2 L307.5 3289.1 L310.2 3290.1 L313.0 3291.0 L315.7 3291.9 L318.4 3292.8 L321.1 3293.6 L323.8 3294.4 L326.6 3295.2 L329.3 3296.0 L332.0 3296.7 L334.7 3297.5 L337.4 3298.2 L340.2 3298.9 L342.9 3299.6 L345.6 3300.3 L348.3 3300.9 L351.0 3301.6 L353.8 3302.2 L356.5 3302.8 L359.2 3303.4 L361.9 3304.0 L364.6 3304.6 L367.4 3305.1 L370.1 3305.7 L372.8 3306.2 L375.5 3306.7 L378.2 3307.2 L381.0 3307.7 L383.7 3308.2 L386.4 3308.7 L389.1 3309.2 L391.8 3309.6 L394.6 3310.1 L397.3 3310.6 L400.0 3311.0 L402.7 3311.4 L405.4 3311.9 L408.2 3312.3 L410.9 3312.6 L413.6 3313.0 L416.3 3313.4 L419.0 3313.7 L421.8 3314.0 L424.5 3314.3 L427.2 3314.6 L429.9 3314.9 L432.6 3315.1 L435.4 3315.4 L438.1 3315.6 L440.8 3315.8 L443.5 3316.0 L446.2 3316.2 L449.0 3316.4 L451.7 3316.6 L454.4 3316.8 L457.1 3317.0 L459.8 3317.1 L462.6 3317.3 L465.3 3317.5 L468.0 3317.6 L470.7 3317.8 L473.4 3317.9 L476.2 3318.1 L478.9 3318.2 L481.6 3318.3 L484.3 3318.5 L487.0 3318.6 L489.8 3318.8 L492.5 3318.9 L495.2 3319.0 L497.9 3319.1 L500.6 3319.3 L503.4 3319.4 L506.1 3319.5 L508.8 3319.6 L511.5 3319.7 L514.2 3319.8 L517.0 3319.9 L519.7 3320.0 L522.4 3320.1 L525.1 3320.2 L527.8 3320.3 L530.6 3320.4 L533.3 3320.5 L536.0 3320.6 L538.7 3320.7 L541.4 3320.8 L544.2 3320.9 L546.9 3321.0 L549.6 3321.0 L552.3 3321.1 L555.0 3321.2 L557.8 3321.3 L560.5 3321.3 L563.2 3321.4 L565.9 3321.5 L568.6 3321.6 L571.4 3321.6 L574.1 3321.7 L576.8 3321.8 L579.5 3321.9 L582.2 3322.0 L585.0 3322.1 L587.7 3322.2 L590.4 3322.3 L593.1 3322.4 L595.8 3322.5 L598.6 3322.6 L601.3 3322.7 L604.0 3322.8 L606.7 3322.9 L609.4 3323.0 L612.2 3323.1 L614.9 3323.2 L617.6 3323.3 L620.3 3323.4 L623.0 3323.5 L625.8 3323.6 L628.5 3323.8 L631.2 3323.9 L633.9 3324.0 L636.6 3324.1 L639.4 3324.2 L642.1 3324.4 L644.8 3324.5 L647.5 3324.6 L650.2 3324.8 L653.0 3324.9 L655.7 3325.0 L658.4 3325.2 L661.1 3325.3 L663.8 3325.5 L666.6 3325.6 L669.3 3325.7 L672.0 3325.9 L674.7 3326.0 L677.4 3326.2 L680.2 3326.4 L682.9 3326.5 L685.6 3326.7 L688.3 3326.9 L691.0 3327.1 L693.8 3327.3 L696.5 3327.5 L699.2 3327.7 L701.9 3328.0 L704.6 3328.2 L707.4 3328.5 L710.1 3328.7 L712.8 3329.0 L715.5 3329.2 L718.2 3329.4 L721.0 3329.6 L723.7 3329.8 L726.4 3329.9 L729.1 3330.1 L731.8 3330.2 L734.6 3330.2 L737.3 3330.2 L740.0 3330.2 L742.7 3330.2 L745.4 3330.2 L748.2 3330.1 L750.9 3330.1 L753.6 3330.0 L756.3 3329.9 L759.0 3329.9 L761.8 3329.8 L764.5 3329.7 L767.2 3329.6 L769.9 3329.6 L772.6 3329.5 L775.4 3329.4 L778.1 3329.4 L780.8 3329.3 L783.5 3329.3 L786.2 3329.3 L789.0 3329.2 L791.7 3329.2 L794.4 3329.3 L797.1 3329.3 L799.8 3329.3 L802.6 3329.4 L805.3 3329.4 L808.0 3329.5 L810.7 3329.5 L813.4 3329.6 L816.2 3329.7 L818.9 3329.7 L821.6 3329.8 L824.3 3329.9 L827.0 3330.0 L829.8 3330.0 L832.5 3330.1 L835.2 3330.2 L837.9 3330.3 L840.6 3330.3 L843.4 3330.4 L846.1 3330.5 L848.8 3330.6 L851.5 3330.7 L854.2 3330.8 L857.0 3330.9 L859.7 3331.0 L862.4 3331.1 L865.1 3331.3 L867.8 3331.4 L870.6 3331.5 L873.3 3331.6 L876.0 3331.7 L878.7 3331.9 L881.4 3332.0 L884.2 3332.1 L886.9 3332.2 L889.6 3332.3 L892.3 3332.4 L895.0 3332.5 L897.8 3332.6 L900.5 3332.7 L903.2 3332.8 L905.9 3332.9 L908.6 3333.0 L911.4 3333.1 L914.1 3333.2 L916.8 3333.3 L919.5 3333.5 L922.2 3333.6 L925.0 3333.7 L927.7 3333.8 L930.4 3333.9 L933.1 3334.0 L935.8 3334.1 L938.6 3334.2 L941.3 3334.4 L944.0 3334.5 L946.7 3334.6 L949.4 3334.7 L952.2 3334.9 L954.9 3335.0 L957.6 3335.2 L960.3 3335.3 L963.0 3335.5 L965.8 3335.6 L968.5 3335.7 L971.2 3335.9 L973.9 3336.1 L976.6 3336.2 L979.4 3336.4 L982.1 3336.5 L984.8 3336.7 L987.5 3336.8 L990.2 3337.0 L993.0 3337.1 L995.7 3337.3 L998.4 3337.4 L1001.1 3337.6 L1003.8 3337.7 L1006.6 3337.9 L1009.3 3338.1 L1012.0 3338.3 L1014.7 3338.4 L1017.4 3338.6 L1020.2 3338.8 L1022.9 3339.0 L1025.6 3339.2 L1028.3 3339.3 L1031.0 3339.5 L1033.8 3339.7 L1036.5 3339.8 L1039.2 3340.0 L1041.9 3340.1 L1044.6 3340.2 L1047.4 3340.3 L1050.1 3340.4 L1052.8 3340.5 L1055.5 3340.6 L1058.2 3340.6 L1061.0 3340.7 L1063.7 3340.8 L1066.4 3340.8 L1069.1 3340.9 L1071.8 3341.0 L1074.6 3341.0 L1077.3 3341.1 L1080.0 3341.2 L1082.7 3341.2 L1085.4 3341.3 L1088.2 3341.4 L1090.9 3341.4 L1093.6 3341.5 L1096.3 3341.5 L1099.0 3341.6 L1101.8 3341.7 L1104.5 3341.7 L1107.2 3341.8 L1109.9 3341.8 L1112.6 3341.9 L1115.4 3342.0 L1118.1 3342.0 L1120.8 3342.1 L1123.5 3342.1 L1126.2 3342.2 L1129.0 3342.2 L1131.7 3342.3 L1134.4 3342.4 L1137.1 3342.4 L1139.8 3342.5 L1142.6 3342.5 L1145.3 3342.6 L1148.0 3342.6 L1150.7 3342.7 L1153.4 3342.7 L1156.2 3342.8 L1158.9 3342.8 L1161.6 3342.9 L1164.3 3342.9 L1167.0 3343.0 L1169.8 3343.0 L1172.5 3343.0 L1175.2 3343.1 L1177.9 3343.1 L1180.6 3343.2 L1183.4 3343.2 L1186.1 3343.3 L1188.8 3343.3 L1191.5 3343.3 L1194.2 3343.4 L1197.0 3343.4 L1199.7 3343.5 L1202.4 3343.5 L1205.1 3343.5 L1207.8 3343.6 L1210.6 3343.6 L1213.3 3343.7 L1216.0 3343.7 L1218.7 3343.7 L1221.4 3343.8 L1224.2 3343.8 L1226.9 3343.8 L1229.6 3343.9 L1232.3 3343.9 L1235.0 3343.9 L1237.8 3344.0 L1240.5 3344.0 L1243.2 3344.0 L1245.9 3344.0 L1248.6 3344.1 L1251.4 3344.1 L1254.1 3344.1 L1256.8 3344.1 L1259.5 3344.2 L1262.2 3344.2 L1265.0 3344.2 L1267.7 3344.2 L1270.4 3344.3 L1273.1 3344.3 L1275.8 3344.3 L1278.6 3344.3 L1281.3 3344.3 L1284.0 3344.4 L1286.7 3344.4 L1289.4 3344.4 L1292.2 3344.4 L1294.9 3344.4 L1297.6 3344.4 L1300.3 3344.5 L1303.0 3344.5 L1305.8 3344.5 L1308.5 3344.5 L1311.2 3344.5 L1313.9 3344.5 L1316.6 3344.5 L1319.4 3344.5 L1322.1 3344.6 L1324.8 3344.6 L1327.5 3344.6 L1330.2 3344.6 L1333.0 3344.6 L1335.7 3344.6 L1338.4 3344.6 L1341.1 3344.6 L1343.8 3344.6 L1346.6 3344.6 L1349.3 3344.6 L1352.0 3344.6" fill="none" stroke="#ff0000" stroke-width="9" stroke-linecap="round" stroke-linejoin="round" stroke-dasharray="4 46" stroke-dashoffset="30"/>
<path d="M264.0 3268.7 L266.7 3269.5 L269.4 3270.5 L272.2 3271.6 L274.9 3272.6 L277.6 3273.7 L280.3 3274.7 L283.0 3275.8 L285.8 3276.8 L288.5 3277.8 L291.2 3278.8 L293.9 3279.8 L296.6 3280.7 L299.4 3281.7 L302.1 3282.6 L304.8 3283.5 L307.5 3284.4 L310.2 3285.3 L313.0 3286.1 L315.7 3286.9 L318.4 3287.8 L321.1 3288.6 L323.8 3289.4 L326.6 3290.2 L329.3 3291.0 L332.0 3291.8 L334.7 3292.6 L337.4 3293.4 L340.2 3294.2 L342.9 3295.0 L345.6 3295.8 L348.3 3296.6 L351.0 3297.3 L353.8 3298.0 L356.5 3298.8 L359.2 3299.4 L361.9 3300.1 L364.6 3300.7 L367.4 3301.4 L370.1 3301.9 L372.8 3302.5 L375.5 3303.0 L378.2 3303.5 L381.0 3303.9 L383.7 3304.3 L386.4 3304.6 L389.1 3305.0 L391.8 3305.3 L394.6 3305.6 L397.3 3305.9 L400.0 3306.1 L402.7 3306.4 L405.4 3306.6 L408.2 3306.9 L410.9 3307.1 L413.6 3307.3 L416.3 3307.5 L419.0 3307.7 L421.8 3307.9 L424.5 3308.1 L427.2 3308.3 L429.9 3308.5 L432.6 3308.7 L435.4 3308.9 L438.1 3309.1 L440.8 3309.2 L443.5 3309.4 L446.2 3309.6 L449.0 3309.8 L451.7 3309.9 L454.4 3310.1 L457.1 3310.3 L459.8 3310.5 L462.6 3310.7 L465.3 3310.8 L468.0 3311.0 L470.7 3311.2 L473.4 3311.4 L476.2 3311.6 L478.9 3311.7 L481.6 3311.9 L484.3 3312.1 L487.0 3312.3 L489.8 3312.4 L492.5 3312.6 L495.2 3312.8 L497.9 3312.9 L500.6 3313.1 L503.4 3313.2 L506.1 3313.4 L508.8 3313.5 L511.5 3313.7 L514.2 3313.8 L517.0 3314.0 L519.7 3314.1 L522.4 3314.3 L525.1 3314.4 L527.8 3314.5 L530.6 3314.7 L533.3 3314.8 L536.0 3314.9 L538.7 3315.0 L541.4 3315.1 L544.2 3315.2 L546.9 3315.3 L549.6 3315.4 L552.3 3315.5 L555.0 3315.6 L557.8 3315.7 L560.5 3315.8 L563.2 3315.9 L565.9 3315.9 L568.6 3316.0 L571.4 3316.1 L574.1 3316.2 L576.8 3316.3 L579.5 3316.4 L582.2 3316.4 L585.0 3316.5 L587.7 3316.6 L590.4 3316.7 L593.1 3316.8 L595.8 3317.0 L598.6 3317.1 L601.3 3317.2 L604.0 3317.3 L606.7 3317.5 L609.4 3317.6 L612.2 3317.7 L614.9 3317.9 L617.6 3318.0 L620.3 3318.2 L623.0 3318.3 L625.8 3318.5 L628.5 3318.6 L631.2 3318.8 L633.9 3319.0 L636.6 3319.1 L639.4 3319.3 L642.1 3319.4 L644.8 3319.6 L647.5 3319.7 L650.2 3319.9 L653.0 3320.0 L655.7 3320.2 L658.4 3320.3 L661.1 3320.4 L663.8 3320.5 L666.6 3320.6 L669.3 3320.8 L672.0 3320.9 L674.7 3321.0 L677.4 3321.1 L680.2 3321.2 L682.9 3321.3 L685.6 3321.4 L688.3 3321.5 L691.0 3321.6 L693.8 3321.7 L696.5 3321.8 L699.2 3321.9 L701.9 3322.0 L704.6 3322.1 L707.4 3322.2 L710.1 3322.3 L712.8 3322.4 L715.5 3322.5 L718.2 3322.6 L721.0 3322.6 L723.7 3322.7 L726.4 3322.8 L729.1 3322.9 L731.8 3323.0 L734.6 3323.1 L737.3 3323.2 L740.0 3323.3 L742.7 3323.3 L745.4 3323.4 L748.2 3323.5 L750.9 3323.6 L753.6 3323.7 L756.3 3323.7 L759.0 3323.8 L761.8 3323.9 L764.5 3324.0 L767.2 3324.0 L769.9 3324.1 L772.6 3324.2 L775.4 3324.3 L778.1 3324.3 L780.8 3324.4 L783.5 3324.5 L786.2 3324.6 L789.0 3324.6 L791.7 3324.7 L794.4 3324.8 L797.1 3324.9 L799.8 3325.0 L802.6 3325.1 L805.3 3325.1 L808.0 3325.2 L810.7 3325.3 L813.4 3325.4 L816.2 3325.5 L818.9 3325.6 L821.6 3325.8 L824.3 3325.9 L827.0 3326.0 L829.8 3326.1 L832.5 3326.2 L835.2 3326.3 L837.9 3326.5 L840.6 3326.6 L843.4 3326.7 L846.1 3326.8 L848.8 3326.9 L851.5 3327.0 L854.2 3327.1 L857.0 3327.2 L859.7 3327.3 L862.4 3327.4 L865.1 3327.5 L867.8 3327.6 L870.6 3327.6 L873.3 3327.7 L876.0 3327.8 L878.7 3327.8 L881.4 3327.9 L884.2 3327.9 L886.9 3327.9 L889.6 3328.0 L892.3 3328.0 L895.0 3328.0 L897.8 3328.1 L900.5 3328.1 L903.2 3328.1 L905.9 3328.2 L908.6 3328.2 L911.4 3328.2 L914.1 3328.3 L916.8 3328.3 L919.5 3328.3 L922.2 3328.4 L925.0 3328.4 L927.7 3328.4 L930.4 3328.5 L933.1 3328.5 L935.8 3328.6 L938.6 3328.6 L941.3 3328.7 L944.0 3328.7 L946.7 3328.8 L949.4 3328.9 L952.2 3329.0 L954.9 3329.1 L957.6 3329.2 L960.3 3329.3 L963.0 3329.4 L965.8 3329.5 L968.5 3329.7 L971.2 3329.8 L973.9 3330.0 L976.6 3330.1 L979.4 3330.3 L982.1 3330.5 L984.8 3330.6 L987.5 3330.8 L990.2 3331.0 L993.0 3331.1 L995.7 3331.3 L998.4 3331.5 L1001.1 3331.6 L1003.8 3331.8 L1006.6 3332.0 L1009.3 3332.1 L1012.0 3332.3 L1014.7 3332.5 L1017.4 3332.6 L1020.2 3332.8 L1022.9 3333.0 L1025.6 3333.2 L1028.3 3333.4 L1031.0 3333.6 L1033.8 3333.8 L1036.5 3334.0 L1039.2 3334.1 L1041.9 3334.3 L1044.6 3334.5 L1047.4 3334.7 L1050.1 3334.9 L1052.8 3335.1 L1055.5 3335.3 L1058.2 3335.5 L1061.0 3335.7 L1063.7 3335.9 L1066.4 3336.0 L1069.1 3336.2 L1071.8 3336.4 L1074.6 3336.5 L1077.3 3336.7 L1080.0 3336.8 L1082.7 3336.9 L1085.4 3337.0 L1088.2 3337.2 L1090.9 3337.3 L1093.6 3337.4 L1096.3 3337.5 L1099.0 3337.6 L1101.8 3337.7 L1104.5 3337.8 L1107.2 3338.0 L1109.9 3338.1 L1112.6 3338.2 L1115.4 3338.3 L1118.1 3338.4 L1120.8 3338.5 L1123.5 3338.6 L1126.2 3338.7 L1129.0 3338.8 L1131.7 3338.8 L1134.4 3338.9 L1137.1 3339.0 L1139.8 3339.1 L1142.6 3339.1 L1145.3 3339.2 L1148.0 3339.3 L1150.7 3339.3 L1153.4 3339.4 L1156.2 3339.4 L1158.9 3339.4 L1161.6 3339.5 L1164.3 3339.5 L1167.0 3339.5 L1169.8 3339.6 L1172.5 3339.6 L1175.2 3339.6 L1177.9 3339.6 L1180.6 3339.7 L1183.4 3339.7 L1186.1 3339.7 L1188.8 3339.7 L1191.5 3339.8 L1194.2 3339.8 L1197.0 3339.8 L1199.7 3339.8 L1202.4 3339.9 L1205.1 3339.9 L1207.8 3339.9 L1210.6 3339.9 L1213.3 3339.9 L1216.0 3340.0 L1218.7 3340.0 L1221.4 3340.0 L1224.2 3340.0 L1226.9 3340.0 L1229.6 3340.1 L1232.3 3340.1 L1235.0 3340.1 L1237.8 3340.1 L1240.5 3340.1 L1243.2 3340.2 L1245.9 3340.2 L1248.6 3340.2 L1251.4 3340.2 L1254.1 3340.2 L1256.8 3340.2 L1259.5 3340.2 L1262.2 3340.3 L1265.0 3340.3 L1267.7 3340.3 L1270.4 3340.3 L1273.1 3340.3 L1275.8 3340.3 L1278.6 3340.3 L1281.3 3340.3 L1284.0 3340.4 L1286.7 3340.4 L1289.4 3340.4 L1292.2 3340.4 L1294.9 3340.4 L1297.6 3340.4 L1300.3 3340.4 L1303.0 3340.4 L1305.8 3340.4 L1308.5 3340.4 L1311.2 3340.4 L1313.9 3340.5 L1316.6 3340.5 L1319.4 3340.5 L1322.1 3340.5 L1324.8 3340.5 L1327.5 3340.5 L1330.2 3340.5 L1333.0 3340.5 L1335.7 3340.5 L1338.4 3340.5 L1341.1 3340.5 L1343.8 3340.5 L1346.6 3340.5 L1349.3 3340.5 L1352.0 3340.5" fill="none" stroke="#ff00ff" stroke-width="9" stroke-linecap="round" stroke-linejoin="round" stroke-dasharray="41 31 5 31" stroke-dashoffset="60"/>
</g>
<clipPath id="clip_f"><rect x="1333.5" y="1793.5" width="1035.5" height="795.0"/></clipPath>
<g clip-path="url(#clip_f)">
<rect x="1333.5" y="1793.5" width="1035.5" height="795.0" fill="#fff"/>
<path d="M1334.0 2142.9 L1336.6 2142.5 L1339.2 2142.0 L1341.8 2141.6 L1344.3 2141.4 L1346.9 2141.5 L1349.5 2142.0 L1352.1 2142.7 L1354.7 2143.7 L1357.3 2144.7 L1359.8 2145.9 L1362.4 2147.7 L1365.0 2150.5 L1367.6 2154.9 L1370.2 2161.1 L1372.8 2169.2 L1375.4 2179.1 L1377.9 2190.1 L1380.5 2201.9 L1383.1 2214.6 L1385.7 2228.3 L1388.3 2243.2 L1390.9 2258.7 L1393.5 2274.3 L1396.0 2289.4 L1398.6 2303.7 L1401.2 2316.3 L1403.8 2326.9 L1406.4 2335.6 L1409.0 2342.6 L1411.5 2347.8 L1414.1 2351.4 L1416.7 2353.7 L1419.3 2354.8 L1421.9 2354.6 L1424.5 2353.3 L1427.1 2350.8 L1429.6 2347.3 L1432.2 2343.1 L1434.8 2338.1 L1437.4 2332.4 L1440.0 2326.3 L1442.6 2319.8 L1445.2 2313.3 L1447.7 2306.8 L1450.3 2300.6 L1452.9 2294.6 L1455.5 2289.1 L1458.1 2284.0 L1460.7 2279.5 L1463.2 2275.5 L1465.8 2272.1 L1468.4 2269.2 L1471.0 2266.8 L1473.6 2265.0 L1476.2 2263.6 L1478.8 2262.6 L1481.3 2262.1 L1483.9 2262.0 L1486.5 2262.4 L1489.1 2263.5 L1491.7 2265.3 L1494.3 2268.1 L1496.9 2272.1 L1499.4 2277.5 L1502.0 2284.3 L1504.6 2292.7 L1507.2 2302.6 L1509.8 2313.7 L1512.4 2325.7 L1515.0 2338.2 L1517.5 2350.7 L1520.1 2362.6 L1522.7 2373.8 L1525.3 2384.0 L1527.9 2393.1 L1530.5 2401.1 L1533.0 2408.1 L1535.6 2414.3 L1538.2 2419.8 L1540.8 2424.8 L1543.4 2429.3 L1546.0 2433.5 L1548.6 2437.4 L1551.1 2441.0 L1553.7 2444.5 L1556.3 2447.7 L1558.9 2450.9 L1561.5 2453.8 L1564.1 2456.6 L1566.7 2459.2 L1569.2 2461.6 L1571.8 2463.7 L1574.4 2465.5 L1577.0 2467.1 L1579.6 2468.4 L1582.2 2469.5 L1584.7 2470.2 L1587.3 2470.6 L1589.9 2470.6 L1592.5 2470.3 L1595.1 2469.6 L1597.7 2468.5 L1600.3 2467.3 L1602.8 2465.7 L1605.4 2464.0 L1608.0 2462.0 L1610.6 2459.9 L1613.2 2457.5 L1615.8 2454.9 L1618.3 2452.2 L1620.9 2449.3 L1623.5 2446.2 L1626.1 2443.0 L1628.7 2439.6 L1631.3 2436.1 L1633.9 2432.4 L1636.4 2428.6 L1639.0 2424.6 L1641.6 2420.4 L1644.2 2416.1 L1646.8 2411.6 L1649.4 2407.0 L1652.0 2402.3 L1654.5 2397.6 L1657.1 2392.8 L1659.7 2388.0 L1662.3 2383.3 L1664.9 2378.5 L1667.5 2373.8 L1670.0 2369.1 L1672.6 2364.5 L1675.2 2359.8 L1677.8 2355.2 L1680.4 2350.7 L1683.0 2346.2 L1685.6 2341.8 L1688.1 2337.5 L1690.7 2333.3 L1693.3 2329.3 L1695.9 2325.3 L1698.5 2321.5 L1701.1 2317.9 L1703.7 2314.3 L1706.2 2310.9 L1708.8 2307.6 L1711.4 2304.5 L1714.0 2301.4 L1716.6 2298.5 L1719.2 2295.8 L1721.8 2293.1 L1724.3 2290.5 L1726.9 2288.1 L1729.5 2285.8 L1732.1 2283.6 L1734.7 2281.4 L1737.3 2279.4 L1739.8 2277.3 L1742.4 2275.3 L1745.0 2273.4 L1747.6 2271.5 L1750.2 2269.6 L1752.8 2267.7 L1755.4 2266.0 L1757.9 2264.2 L1760.5 2262.5 L1763.1 2260.9 L1765.7 2259.3 L1768.3 2257.8 L1770.9 2256.2 L1773.5 2254.7 L1776.0 2253.1 L1778.6 2251.5 L1781.2 2250.0 L1783.8 2248.3 L1786.4 2246.7 L1789.0 2245.0 L1791.5 2243.3 L1794.1 2241.5 L1796.7 2239.6 L1799.3 2237.6 L1801.9 2235.6 L1804.5 2233.3 L1807.1 2230.9 L1809.6 2228.3 L1812.2 2225.4 L1814.8 2222.3 L1817.4 2218.8 L1820.0 2215.1 L1822.6 2211.0 L1825.2 2206.6 L1827.7 2201.8 L1830.3 2196.5 L1832.9 2190.9 L1835.5 2184.7 L1838.1 2177.9 L1840.7 2170.5 L1843.2 2162.4 L1845.8 2153.7 L1848.4 2144.4 L1851.0 2134.7 L1853.6 2124.7 L1856.2 2114.6 L1858.8 2104.4 L1861.3 2094.4 L1863.9 2084.4 L1866.5 2074.6 L1869.1 2064.9 L1871.7 2055.4 L1874.3 2046.0 L1876.8 2036.8 L1879.4 2027.7 L1882.0 2018.8 L1884.6 2010.0 L1887.2 2001.3 L1889.8 1992.7 L1892.4 1984.2 L1894.9 1975.9 L1897.5 1967.7 L1900.1 1959.7 L1902.7 1951.9 L1905.3 1944.5 L1907.9 1937.4 L1910.5 1930.7 L1913.0 1924.5 L1915.6 1918.9 L1918.2 1913.9 L1920.8 1909.7 L1923.4 1906.2 L1926.0 1903.4 L1928.5 1901.3 L1931.1 1899.9 L1933.7 1899.0 L1936.3 1898.8 L1938.9 1899.0 L1941.5 1899.9 L1944.1 1901.2 L1946.6 1903.0 L1949.2 1905.2 L1951.8 1907.9 L1954.4 1910.9 L1957.0 1914.2 L1959.6 1917.7 L1962.2 1921.3 L1964.7 1925.0 L1967.3 1928.7 L1969.9 1932.4 L1972.5 1936.1 L1975.1 1939.8 L1977.7 1943.7 L1980.2 1947.6 L1982.8 1951.8 L1985.4 1956.3 L1988.0 1961.1 L1990.6 1966.3 L1993.2 1971.9 L1995.8 1978.1 L1998.3 1984.8 L2000.9 1992.1 L2003.5 2000.1 L2006.1 2008.8 L2008.7 2018.5 L2011.3 2029.0 L2013.9 2040.6 L2016.4 2053.1 L2019.0 2066.7 L2021.6 2081.2 L2024.2 2096.6 L2026.8 2112.6 L2029.4 2129.3 L2032.0 2146.3 L2034.5 2163.7 L2037.1 2181.3 L2039.7 2199.1 L2042.3 2216.9 L2044.9 2234.8 L2047.5 2252.5 L2050.0 2270.0 L2052.6 2287.3 L2055.2 2304.2 L2057.8 2320.8 L2060.4 2337.0 L2063.0 2352.7 L2065.6 2367.9 L2068.1 2382.6 L2070.7 2396.6 L2073.3 2410.0 L2075.9 2422.7 L2078.5 2434.7 L2081.1 2446.1 L2083.7 2456.7 L2086.2 2466.6 L2088.8 2475.8 L2091.4 2484.2 L2094.0 2492.0 L2096.6 2499.1 L2099.2 2505.6 L2101.7 2511.5 L2104.3 2516.8 L2106.9 2521.7 L2109.5 2526.0 L2112.1 2529.9 L2114.7 2533.4 L2117.3 2536.5 L2119.8 2539.2 L2122.4 2541.6 L2125.0 2543.8 L2127.6 2545.6 L2130.2 2547.3 L2132.8 2548.7 L2135.3 2550.0 L2137.9 2551.2 L2140.5 2552.2 L2143.1 2553.2 L2145.7 2554.0 L2148.3 2554.8 L2150.9 2555.5 L2153.4 2556.1 L2156.0 2556.6 L2158.6 2557.0 L2161.2 2557.4 L2163.8 2557.8 L2166.4 2558.1 L2169.0 2558.3 L2171.5 2558.6 L2174.1 2558.8 L2176.7 2559.1 L2179.3 2559.3 L2181.9 2559.5 L2184.5 2559.7 L2187.1 2559.9 L2189.6 2560.0 L2192.2 2560.2 L2194.8 2560.3 L2197.4 2560.4 L2200.0 2560.5 L2202.6 2560.5 L2205.1 2560.6 L2207.7 2560.6 L2210.3 2560.6 L2212.9 2560.6 L2215.5 2560.6 L2218.1 2560.6 L2220.7 2560.6 L2223.2 2560.6 L2225.8 2560.6 L2228.4 2560.5 L2231.0 2560.5 L2233.6 2560.5 L2236.2 2560.4 L2238.8 2560.4 L2241.3 2560.3 L2243.9 2560.3 L2246.5 2560.3 L2249.1 2560.2 L2251.7 2560.2 L2254.3 2560.1 L2256.8 2560.1 L2259.4 2560.0 L2262.0 2560.0 L2264.6 2559.9 L2267.2 2559.9 L2269.8 2559.8 L2272.4 2559.8 L2274.9 2559.7 L2277.5 2559.7 L2280.1 2559.6 L2282.7 2559.6 L2285.3 2559.6 L2287.9 2559.5 L2290.4 2559.5 L2293.0 2559.4 L2295.6 2559.4 L2298.2 2559.3 L2300.8 2559.3 L2303.4 2559.2 L2306.0 2559.2 L2308.5 2559.1 L2311.1 2559.1 L2313.7 2559.0 L2316.3 2559.0 L2318.9 2558.9 L2321.5 2558.9 L2324.1 2558.8 L2326.6 2558.8 L2329.2 2558.7 L2331.8 2558.7 L2334.4 2558.6 L2337.0 2558.6 L2339.6 2558.5 L2342.2 2558.4 L2344.7 2558.4 L2347.3 2558.3 L2349.9 2558.3 L2352.5 2558.2 L2355.1 2558.2 L2357.7 2558.1" fill="none" stroke="#0000ff" stroke-width="9.5" stroke-linecap="round" stroke-linejoin="round"/>
<path d="M1334.0 2394.9 L1336.6 2396.7 L1339.2 2399.1 L1341.8 2401.7 L1344.3 2404.3 L1346.9 2406.9 L1349.5 2409.5 L1352.1 2412.2 L1354.7 2414.9 L1357.3 2417.6 L1359.8 2420.4 L1362.4 2423.2 L1365.0 2426.1 L1367.6 2429.1 L1370.2 2432.1 L1372.8 2435.2 L1375.4 2438.3 L1377.9 2441.3 L1380.5 2444.3 L1383.1 2447.1 L1385.7 2449.9 L1388.3 2452.4 L1390.9 2454.8 L1393.5 2457.0 L1396.0 2459.2 L1398.6 2461.3 L1401.2 2463.4 L1403.8 2465.4 L1406.4 2467.3 L1409.0 2469.1 L1411.5 2470.9 L1414.1 2472.4 L1416.7 2473.9 L1419.3 2475.1 L1421.9 2476.2 L1424.5 2477.1 L1427.1 2477.9 L1429.6 2478.7 L1432.2 2479.4 L1434.8 2480.0 L1437.4 2480.6 L1440.0 2481.2 L1442.6 2481.8 L1445.2 2482.3 L1447.7 2482.7 L1450.3 2483.2 L1452.9 2483.6 L1455.5 2484.0 L1458.1 2484.4 L1460.7 2484.8 L1463.2 2485.1 L1465.8 2485.4 L1468.4 2485.7 L1471.0 2486.0 L1473.6 2486.2 L1476.2 2486.4 L1478.8 2486.7 L1481.3 2486.9 L1483.9 2487.1 L1486.5 2487.3 L1489.1 2487.5 L1491.7 2487.6 L1494.3 2487.9 L1496.9 2488.1 L1499.4 2488.3 L1502.0 2488.6 L1504.6 2488.8 L1507.2 2489.1 L1509.8 2489.5 L1512.4 2489.8 L1515.0 2490.2 L1517.5 2490.6 L1520.1 2491.1 L1522.7 2491.5 L1525.3 2492.0 L1527.9 2492.4 L1530.5 2492.9 L1533.0 2493.4 L1535.6 2493.9 L1538.2 2494.3 L1540.8 2494.8 L1543.4 2495.2 L1546.0 2495.6 L1548.6 2496.0 L1551.1 2496.3 L1553.7 2496.7 L1556.3 2497.0 L1558.9 2497.3 L1561.5 2497.6 L1564.1 2497.9 L1566.7 2498.2 L1569.2 2498.5 L1571.8 2498.8 L1574.4 2499.1 L1577.0 2499.4 L1579.6 2499.7 L1582.2 2499.9 L1584.7 2500.2 L1587.3 2500.4 L1589.9 2500.7 L1592.5 2500.9 L1595.1 2501.2 L1597.7 2501.4 L1600.3 2501.7 L1602.8 2501.9 L1605.4 2502.1 L1608.0 2502.3 L1610.6 2502.4 L1613.2 2502.6 L1615.8 2502.8 L1618.3 2503.0 L1620.9 2503.2 L1623.5 2503.4 L1626.1 2503.7 L1628.7 2503.9 L1631.3 2504.2 L1633.9 2504.5 L1636.4 2504.8 L1639.0 2505.2 L1641.6 2505.7 L1644.2 2506.2 L1646.8 2506.9 L1649.4 2507.5 L1652.0 2508.2 L1654.5 2509.0 L1657.1 2509.8 L1659.7 2510.5 L1662.3 2511.3 L1664.9 2512.1 L1667.5 2512.8 L1670.0 2513.5 L1672.6 2514.2 L1675.2 2514.8 L1677.8 2515.3 L1680.4 2515.8 L1683.0 2516.3 L1685.6 2516.7 L1688.1 2517.1 L1690.7 2517.5 L1693.3 2517.8 L1695.9 2518.2 L1698.5 2518.5 L1701.1 2518.9 L1703.7 2519.2 L1706.2 2519.6 L1708.8 2520.0 L1711.4 2520.4 L1714.0 2520.8 L1716.6 2521.2 L1719.2 2521.7 L1721.8 2522.3 L1724.3 2522.9 L1726.9 2523.6 L1729.5 2524.4 L1732.1 2525.2 L1734.7 2526.1 L1737.3 2527.1 L1739.8 2528.0 L1742.4 2529.0 L1745.0 2530.0 L1747.6 2530.9 L1750.2 2531.8 L1752.8 2532.6 L1755.4 2533.4 L1757.9 2534.0 L1760.5 2534.6 L1763.1 2535.0 L1765.7 2535.5 L1768.3 2535.8 L1770.9 2536.2 L1773.5 2536.6 L1776.0 2536.9 L1778.6 2537.1 L1781.2 2537.3 L1783.8 2537.5 L1786.4 2537.5 L1789.0 2537.5 L1791.5 2537.5 L1794.1 2537.5 L1796.7 2537.5 L1799.3 2537.5 L1801.9 2537.5 L1804.5 2537.5 L1807.1 2537.5 L1809.6 2537.5 L1812.2 2537.5 L1814.8 2537.3 L1817.4 2537.2 L1820.0 2537.0 L1822.6 2536.7 L1825.2 2536.4 L1827.7 2536.1 L1830.3 2535.8 L1832.9 2535.4 L1835.5 2535.0 L1838.1 2534.6 L1840.7 2534.2 L1843.2 2533.8 L1845.8 2533.4 L1848.4 2533.0 L1851.0 2532.6 L1853.6 2532.2 L1856.2 2531.8 L1858.8 2531.3 L1861.3 2530.9 L1863.9 2530.4 L1866.5 2529.8 L1869.1 2529.3 L1871.7 2528.8 L1874.3 2528.3 L1876.8 2527.7 L1879.4 2527.2 L1882.0 2526.7 L1884.6 2526.2 L1887.2 2525.7 L1889.8 2525.2 L1892.4 2524.8 L1894.9 2524.3 L1897.5 2523.9 L1900.1 2523.5 L1902.7 2523.1 L1905.3 2522.7 L1907.9 2522.2 L1910.5 2521.8 L1913.0 2521.4 L1915.6 2521.0 L1918.2 2520.6 L1920.8 2520.2 L1923.4 2519.9 L1926.0 2519.6 L1928.5 2519.3 L1931.1 2519.0 L1933.7 2518.8 L1936.3 2518.6 L1938.9 2518.5 L1941.5 2518.4 L1944.1 2518.3 L1946.6 2518.2 L1949.2 2518.1 L1951.8 2518.0 L1954.4 2518.0 L1957.0 2518.1 L1959.6 2518.2 L1962.2 2518.4 L1964.7 2518.6 L1967.3 2518.9 L1969.9 2519.2 L1972.5 2519.5 L1975.1 2519.9 L1977.7 2520.3 L1980.2 2520.6 L1982.8 2521.0 L1985.4 2521.5 L1988.0 2522.0 L1990.6 2522.5 L1993.2 2523.0 L1995.8 2523.6 L1998.3 2524.2 L2000.9 2524.9 L2003.5 2525.6 L2006.1 2526.3 L2008.7 2527.1 L2011.3 2527.9 L2013.9 2528.7 L2016.4 2529.5 L2019.0 2530.3 L2021.6 2531.2 L2024.2 2532.2 L2026.8 2533.2 L2029.4 2534.4 L2032.0 2535.6 L2034.5 2536.9 L2037.1 2538.3 L2039.7 2539.7 L2042.3 2541.2 L2044.9 2542.6 L2047.5 2544.1 L2050.0 2545.5 L2052.6 2547.0 L2055.2 2548.4 L2057.8 2549.8 L2060.4 2551.1 L2063.0 2552.3 L2065.6 2553.5 L2068.1 2554.7 L2070.7 2555.8 L2073.3 2557.0 L2075.9 2558.1 L2078.5 2559.3 L2081.1 2560.4 L2083.7 2561.5 L2086.2 2562.5 L2088.8 2563.6 L2091.4 2564.6 L2094.0 2565.6 L2096.6 2566.6 L2099.2 2567.6 L2101.7 2568.5 L2104.3 2569.5 L2106.9 2570.4 L2109.5 2571.4 L2112.1 2572.3 L2114.7 2573.2 L2117.3 2574.1 L2119.8 2575.0 L2122.4 2575.9 L2125.0 2576.7 L2127.6 2577.5 L2130.2 2578.3 L2132.8 2579.0 L2135.3 2579.7 L2137.9 2580.3 L2140.5 2580.8 L2143.1 2581.3 L2145.7 2581.8 L2148.3 2582.2 L2150.9 2582.7 L2153.4 2583.1 L2156.0 2583.5 L2158.6 2583.8 L2161.2 2584.2 L2163.8 2584.6 L2166.4 2584.9 L2169.0 2585.2 L2171.5 2585.5 L2174.1 2585.7 L2176.7 2586.0 L2179.3 2586.2 L2181.9 2586.4 L2184.5 2586.5 L2187.1 2586.6 L2189.6 2586.7 L2192.2 2586.8 L2194.8 2586.9 L2197.4 2587.0 L2200.0 2587.1 L2202.6 2587.2 L2205.1 2587.3 L2207.7 2587.4 L2210.3 2587.5 L2212.9 2587.6 L2215.5 2587.7 L2218.1 2587.8 L2220.7 2587.9 L2223.2 2588.0 L2225.8 2588.1 L2228.4 2588.1 L2231.0 2588.2 L2233.6 2588.3 L2236.2 2588.4 L2238.8 2588.4 L2241.3 2588.5 L2243.9 2588.6 L2246.5 2588.7 L2249.1 2588.7 L2251.7 2588.8 L2254.3 2588.9 L2256.8 2588.9 L2259.4 2589.0 L2262.0 2589.1 L2264.6 2589.1 L2267.2 2589.2 L2269.8 2589.2 L2272.4 2589.3 L2274.9 2589.4 L2277.5 2589.4 L2280.1 2589.5 L2282.7 2589.5 L2285.3 2589.6 L2287.9 2589.6 L2290.4 2589.7 L2293.0 2589.7 L2295.6 2589.7 L2298.2 2589.8 L2300.8 2589.8 L2303.4 2589.9 L2306.0 2589.9 L2308.5 2589.9 L2311.1 2590.0 L2313.7 2590.0 L2316.3 2590.0 L2318.9 2590.1 L2321.5 2590.1 L2324.1 2590.1 L2326.6 2590.1 L2329.2 2590.2 L2331.8 2590.2 L2334.4 2590.2 L2337.0 2590.2 L2339.6 2590.2 L2342.2 2590.3 L2344.7 2590.3 L2347.3 2590.3 L2349.9 2590.3 L2352.5 2590.3 L2355.1 2590.3 L2357.7 2590.3 L2360.2 2590.3 L2362.8 2590.3 L2365.4 2590.3 L2368.0 2590.3" fill="none" stroke="#00fa00" stroke-width="9" stroke-linecap="round" stroke-linejoin="round" stroke-dasharray="37 55" stroke-dashoffset="6.0"/>
<path d="M1334.0 2439.4 L1336.6 2440.5 L1339.2 2441.9 L1341.8 2443.6 L1344.3 2445.4 L1346.9 2447.3 L1349.5 2449.3 L1352.1 2451.3 L1354.7 2453.4 L1357.3 2455.6 L1359.8 2457.8 L1362.4 2460.0 L1365.0 2462.2 L1367.6 2464.4 L1370.2 2466.6 L1372.8 2468.7 L1375.4 2470.8 L1377.9 2472.8 L1380.5 2474.8 L1383.1 2476.6 L1385.7 2478.4 L1388.3 2480.1 L1390.9 2481.7 L1393.5 2483.4 L1396.0 2485.0 L1398.6 2486.6 L1401.2 2488.1 L1403.8 2489.7 L1406.4 2491.2 L1409.0 2492.6 L1411.5 2494.0 L1414.1 2495.3 L1416.7 2496.6 L1419.3 2497.8 L1421.9 2499.0 L1424.5 2500.1 L1427.1 2501.1 L1429.6 2502.1 L1432.2 2503.0 L1434.8 2504.0 L1437.4 2504.9 L1440.0 2505.9 L1442.6 2506.8 L1445.2 2507.7 L1447.7 2508.5 L1450.3 2509.4 L1452.9 2510.2 L1455.5 2510.9 L1458.1 2511.6 L1460.7 2512.3 L1463.2 2512.9 L1465.8 2513.5 L1468.4 2514.0 L1471.0 2514.4 L1473.6 2514.8 L1476.2 2515.1 L1478.8 2515.3 L1481.3 2515.5 L1483.9 2515.7 L1486.5 2515.9 L1489.1 2516.0 L1491.7 2516.2 L1494.3 2516.4 L1496.9 2516.5 L1499.4 2516.6 L1502.0 2516.8 L1504.6 2516.9 L1507.2 2517.0 L1509.8 2517.1 L1512.4 2517.2 L1515.0 2517.2 L1517.5 2517.3 L1520.1 2517.4 L1522.7 2517.4 L1525.3 2517.4 L1527.9 2517.5 L1530.5 2517.5 L1533.0 2517.5 L1535.6 2517.5 L1538.2 2517.5 L1540.8 2517.5 L1543.4 2517.5 L1546.0 2517.5 L1548.6 2517.5 L1551.1 2517.5 L1553.7 2517.5 L1556.3 2517.5 L1558.9 2517.5 L1561.5 2517.5 L1564.1 2517.5 L1566.7 2517.5 L1569.2 2517.5 L1571.8 2517.5 L1574.4 2517.5 L1577.0 2517.5 L1579.6 2517.5 L1582.2 2517.5 L1584.7 2517.5 L1587.3 2517.7 L1589.9 2517.8 L1592.5 2518.1 L1595.1 2518.4 L1597.7 2518.7 L1600.3 2519.1 L1602.8 2519.6 L1605.4 2520.0 L1608.0 2520.5 L1610.6 2521.1 L1613.2 2521.6 L1615.8 2522.2 L1618.3 2522.7 L1620.9 2523.3 L1623.5 2523.8 L1626.1 2524.4 L1628.7 2524.9 L1631.3 2525.4 L1633.9 2525.9 L1636.4 2526.4 L1639.0 2526.9 L1641.6 2527.4 L1644.2 2527.8 L1646.8 2528.3 L1649.4 2528.8 L1652.0 2529.3 L1654.5 2529.8 L1657.1 2530.4 L1659.7 2530.9 L1662.3 2531.4 L1664.9 2531.9 L1667.5 2532.5 L1670.0 2533.0 L1672.6 2533.6 L1675.2 2534.2 L1677.8 2534.7 L1680.4 2535.3 L1683.0 2535.9 L1685.6 2536.5 L1688.1 2537.1 L1690.7 2537.8 L1693.3 2538.4 L1695.9 2539.1 L1698.5 2539.8 L1701.1 2540.6 L1703.7 2541.3 L1706.2 2542.1 L1708.8 2542.8 L1711.4 2543.6 L1714.0 2544.3 L1716.6 2545.1 L1719.2 2545.8 L1721.8 2546.5 L1724.3 2547.2 L1726.9 2547.9 L1729.5 2548.5 L1732.1 2549.1 L1734.7 2549.7 L1737.3 2550.2 L1739.8 2550.7 L1742.4 2551.2 L1745.0 2551.7 L1747.6 2552.2 L1750.2 2552.6 L1752.8 2553.1 L1755.4 2553.5 L1757.9 2554.0 L1760.5 2554.4 L1763.1 2554.8 L1765.7 2555.2 L1768.3 2555.6 L1770.9 2555.9 L1773.5 2556.3 L1776.0 2556.6 L1778.6 2556.9 L1781.2 2557.1 L1783.8 2557.4 L1786.4 2557.6 L1789.0 2557.8 L1791.5 2558.0 L1794.1 2558.2 L1796.7 2558.4 L1799.3 2558.6 L1801.9 2558.7 L1804.5 2558.9 L1807.1 2559.1 L1809.6 2559.3 L1812.2 2559.4 L1814.8 2559.6 L1817.4 2559.7 L1820.0 2559.8 L1822.6 2559.9 L1825.2 2560.0 L1827.7 2560.1 L1830.3 2560.1 L1832.9 2560.2 L1835.5 2560.2 L1838.1 2560.2 L1840.7 2560.2 L1843.2 2560.2 L1845.8 2560.2 L1848.4 2560.1 L1851.0 2560.0 L1853.6 2560.0 L1856.2 2559.9 L1858.8 2559.8 L1861.3 2559.7 L1863.9 2559.6 L1866.5 2559.5 L1869.1 2559.4 L1871.7 2559.3 L1874.3 2559.2 L1876.8 2559.1 L1879.4 2559.0 L1882.0 2558.9 L1884.6 2558.8 L1887.2 2558.7 L1889.8 2558.7 L1892.4 2558.6 L1894.9 2558.5 L1897.5 2558.5 L1900.1 2558.4 L1902.7 2558.3 L1905.3 2558.2 L1907.9 2558.2 L1910.5 2558.1 L1913.0 2558.0 L1915.6 2558.0 L1918.2 2557.9 L1920.8 2557.9 L1923.4 2557.8 L1926.0 2557.8 L1928.5 2557.7 L1931.1 2557.7 L1933.7 2557.6 L1936.3 2557.6 L1938.9 2557.6 L1941.5 2557.6 L1944.1 2557.6 L1946.6 2557.6 L1949.2 2557.6 L1951.8 2557.6 L1954.4 2557.6 L1957.0 2557.6 L1959.6 2557.6 L1962.2 2557.6 L1964.7 2557.6 L1967.3 2557.6 L1969.9 2557.6 L1972.5 2557.6 L1975.1 2557.6 L1977.7 2557.6 L1980.2 2557.6 L1982.8 2557.6 L1985.4 2557.6 L1988.0 2557.6 L1990.6 2557.6 L1993.2 2557.6 L1995.8 2557.6 L1998.3 2557.7 L2000.9 2557.8 L2003.5 2557.9 L2006.1 2558.1 L2008.7 2558.3 L2011.3 2558.5 L2013.9 2558.8 L2016.4 2559.1 L2019.0 2559.4 L2021.6 2559.7 L2024.2 2560.0 L2026.8 2560.3 L2029.4 2560.7 L2032.0 2561.0 L2034.5 2561.4 L2037.1 2561.8 L2039.7 2562.1 L2042.3 2562.5 L2044.9 2562.9 L2047.5 2563.3 L2050.0 2563.7 L2052.6 2564.1 L2055.2 2564.6 L2057.8 2565.1 L2060.4 2565.6 L2063.0 2566.2 L2065.6 2566.7 L2068.1 2567.3 L2070.7 2567.9 L2073.3 2568.5 L2075.9 2569.1 L2078.5 2569.7 L2081.1 2570.3 L2083.7 2571.0 L2086.2 2571.6 L2088.8 2572.2 L2091.4 2572.8 L2094.0 2573.5 L2096.6 2574.1 L2099.2 2574.8 L2101.7 2575.5 L2104.3 2576.3 L2106.9 2577.1 L2109.5 2577.9 L2112.1 2578.7 L2114.7 2579.5 L2117.3 2580.3 L2119.8 2581.0 L2122.4 2581.7 L2125.0 2582.3 L2127.6 2582.9 L2130.2 2583.3 L2132.8 2583.7 L2135.3 2584.0 L2137.9 2584.2 L2140.5 2584.4 L2143.1 2584.6 L2145.7 2584.7 L2148.3 2584.9 L2150.9 2585.1 L2153.4 2585.3 L2156.0 2585.4 L2158.6 2585.6 L2161.2 2585.8 L2163.8 2585.9 L2166.4 2586.1 L2169.0 2586.2 L2171.5 2586.4 L2174.1 2586.6 L2176.7 2586.7 L2179.3 2586.9 L2181.9 2587.0 L2184.5 2587.1 L2187.1 2587.3 L2189.6 2587.4 L2192.2 2587.6 L2194.8 2587.7 L2197.4 2587.8 L2200.0 2588.0 L2202.6 2588.1 L2205.1 2588.2 L2207.7 2588.3 L2210.3 2588.5 L2212.9 2588.6 L2215.5 2588.7 L2218.1 2588.8 L2220.7 2588.9 L2223.2 2589.0 L2225.8 2589.1 L2228.4 2589.2 L2231.0 2589.3 L2233.6 2589.4 L2236.2 2589.5 L2238.8 2589.6 L2241.3 2589.7 L2243.9 2589.8 L2246.5 2589.9 L2249.1 2590.0 L2251.7 2590.1 L2254.3 2590.2 L2256.8 2590.2 L2259.4 2590.3 L2262.0 2590.4 L2264.6 2590.5 L2267.2 2590.6 L2269.8 2590.6 L2272.4 2590.7 L2274.9 2590.8 L2277.5 2590.8 L2280.1 2590.9 L2282.7 2591.0 L2285.3 2591.0 L2287.9 2591.1 L2290.4 2591.1 L2293.0 2591.2 L2295.6 2591.2 L2298.2 2591.3 L2300.8 2591.3 L2303.4 2591.4 L2306.0 2591.4 L2308.5 2591.5 L2311.1 2591.5 L2313.7 2591.5 L2316.3 2591.6 L2318.9 2591.6 L2321.5 2591.6 L2324.1 2591.7 L2326.6 2591.7 L2329.2 2591.7 L2331.8 2591.8 L2334.4 2591.8 L2337.0 2591.8 L2339.6 2591.8 L2342.2 2591.8 L2344.7 2591.9 L2347.3 2591.9 L2349.9 2591.9 L2352.5 2591.9 L2355.1 2591.9 L2357.7 2591.9 L2360.2 2591.9 L2362.8 2591.9 L2365.4 2591.9 L2368.0 2591.9" fill="none" stroke="#ff0000" stroke-width="9" stroke-linecap="round" stroke-linejoin="round" stroke-dasharray="4 46" stroke-dashoffset="30"/>
<path d="M1334.0 2460.2 L1336.6 2460.8 L1339.2 2461.6 L1341.8 2462.6 L1344.3 2463.8 L1346.9 2465.2 L1349.5 2466.7 L1352.1 2468.2 L1354.7 2469.9 L1357.3 2471.6 L1359.8 2473.4 L1362.4 2475.2 L1365.0 2477.0 L1367.6 2478.8 L1370.2 2480.6 L1372.8 2482.4 L1375.4 2484.1 L1377.9 2485.8 L1380.5 2487.4 L1383.1 2488.9 L1385.7 2490.5 L1388.3 2492.0 L1390.9 2493.6 L1393.5 2495.1 L1396.0 2496.6 L1398.6 2498.1 L1401.2 2499.6 L1403.8 2501.0 L1406.4 2502.3 L1409.0 2503.6 L1411.5 2504.8 L1414.1 2505.9 L1416.7 2507.0 L1419.3 2508.1 L1421.9 2509.2 L1424.5 2510.2 L1427.1 2511.2 L1429.6 2512.1 L1432.2 2513.0 L1434.8 2513.8 L1437.4 2514.6 L1440.0 2515.3 L1442.6 2516.0 L1445.2 2516.7 L1447.7 2517.4 L1450.3 2518.0 L1452.9 2518.6 L1455.5 2519.2 L1458.1 2519.8 L1460.7 2520.4 L1463.2 2520.9 L1465.8 2521.5 L1468.4 2521.9 L1471.0 2522.4 L1473.6 2522.9 L1476.2 2523.3 L1478.8 2523.6 L1481.3 2524.0 L1483.9 2524.3 L1486.5 2524.6 L1489.1 2524.9 L1491.7 2525.2 L1494.3 2525.4 L1496.9 2525.6 L1499.4 2525.8 L1502.0 2526.1 L1504.6 2526.2 L1507.2 2526.4 L1509.8 2526.6 L1512.4 2526.8 L1515.0 2527.0 L1517.5 2527.1 L1520.1 2527.3 L1522.7 2527.5 L1525.3 2527.6 L1527.9 2527.7 L1530.5 2527.9 L1533.0 2528.0 L1535.6 2528.2 L1538.2 2528.3 L1540.8 2528.4 L1543.4 2528.6 L1546.0 2528.7 L1548.6 2528.8 L1551.1 2529.0 L1553.7 2529.1 L1556.3 2529.2 L1558.9 2529.3 L1561.5 2529.4 L1564.1 2529.6 L1566.7 2529.7 L1569.2 2529.8 L1571.8 2529.9 L1574.4 2530.1 L1577.0 2530.2 L1579.6 2530.3 L1582.2 2530.4 L1584.7 2530.6 L1587.3 2530.7 L1589.9 2530.9 L1592.5 2531.0 L1595.1 2531.2 L1597.7 2531.4 L1600.3 2531.5 L1602.8 2531.7 L1605.4 2531.9 L1608.0 2532.1 L1610.6 2532.3 L1613.2 2532.5 L1615.8 2532.8 L1618.3 2533.0 L1620.9 2533.3 L1623.5 2533.6 L1626.1 2533.9 L1628.7 2534.2 L1631.3 2534.6 L1633.9 2535.0 L1636.4 2535.5 L1639.0 2536.0 L1641.6 2536.5 L1644.2 2537.1 L1646.8 2537.6 L1649.4 2538.1 L1652.0 2538.6 L1654.5 2539.1 L1657.1 2539.6 L1659.7 2540.0 L1662.3 2540.5 L1664.9 2541.0 L1667.5 2541.4 L1670.0 2541.9 L1672.6 2542.3 L1675.2 2542.8 L1677.8 2543.2 L1680.4 2543.7 L1683.0 2544.1 L1685.6 2544.6 L1688.1 2545.0 L1690.7 2545.4 L1693.3 2545.8 L1695.9 2546.2 L1698.5 2546.6 L1701.1 2547.0 L1703.7 2547.4 L1706.2 2547.8 L1708.8 2548.1 L1711.4 2548.4 L1714.0 2548.8 L1716.6 2549.1 L1719.2 2549.4 L1721.8 2549.8 L1724.3 2550.1 L1726.9 2550.5 L1729.5 2550.9 L1732.1 2551.3 L1734.7 2551.8 L1737.3 2552.3 L1739.8 2552.9 L1742.4 2553.5 L1745.0 2554.1 L1747.6 2554.7 L1750.2 2555.3 L1752.8 2555.9 L1755.4 2556.4 L1757.9 2556.9 L1760.5 2557.3 L1763.1 2557.6 L1765.7 2557.8 L1768.3 2558.0 L1770.9 2558.2 L1773.5 2558.4 L1776.0 2558.6 L1778.6 2558.7 L1781.2 2558.9 L1783.8 2559.0 L1786.4 2559.1 L1789.0 2559.3 L1791.5 2559.4 L1794.1 2559.5 L1796.7 2559.6 L1799.3 2559.7 L1801.9 2559.8 L1804.5 2559.9 L1807.1 2560.0 L1809.6 2560.1 L1812.2 2560.2 L1814.8 2560.4 L1817.4 2560.5 L1820.0 2560.6 L1822.6 2560.7 L1825.2 2560.8 L1827.7 2560.9 L1830.3 2561.0 L1832.9 2561.1 L1835.5 2561.2 L1838.1 2561.2 L1840.7 2561.3 L1843.2 2561.3 L1845.8 2561.3 L1848.4 2561.3 L1851.0 2561.3 L1853.6 2561.3 L1856.2 2561.3 L1858.8 2561.3 L1861.3 2561.3 L1863.9 2561.3 L1866.5 2561.3 L1869.1 2561.3 L1871.7 2561.3 L1874.3 2561.3 L1876.8 2561.3 L1879.4 2561.2 L1882.0 2561.2 L1884.6 2561.1 L1887.2 2561.1 L1889.8 2561.0 L1892.4 2560.9 L1894.9 2560.8 L1897.5 2560.8 L1900.1 2560.7 L1902.7 2560.6 L1905.3 2560.5 L1907.9 2560.5 L1910.5 2560.4 L1913.0 2560.4 L1915.6 2560.3 L1918.2 2560.3 L1920.8 2560.3 L1923.4 2560.2 L1926.0 2560.3 L1928.5 2560.3 L1931.1 2560.3 L1933.7 2560.3 L1936.3 2560.4 L1938.9 2560.4 L1941.5 2560.5 L1944.1 2560.5 L1946.6 2560.6 L1949.2 2560.7 L1951.8 2560.7 L1954.4 2560.8 L1957.0 2560.8 L1959.6 2560.9 L1962.2 2560.9 L1964.7 2561.0 L1967.3 2561.0 L1969.9 2561.1 L1972.5 2561.1 L1975.1 2561.2 L1977.7 2561.2 L1980.2 2561.3 L1982.8 2561.4 L1985.4 2561.4 L1988.0 2561.5 L1990.6 2561.5 L1993.2 2561.6 L1995.8 2561.6 L1998.3 2561.7 L2000.9 2561.8 L2003.5 2561.8 L2006.1 2561.9 L2008.7 2561.9 L2011.3 2562.0 L2013.9 2562.1 L2016.4 2562.2 L2019.0 2562.3 L2021.6 2562.4 L2024.2 2562.5 L2026.8 2562.6 L2029.4 2562.7 L2032.0 2562.9 L2034.5 2563.1 L2037.1 2563.4 L2039.7 2563.8 L2042.3 2564.3 L2044.9 2564.8 L2047.5 2565.4 L2050.0 2566.0 L2052.6 2566.7 L2055.2 2567.3 L2057.8 2568.0 L2060.4 2568.6 L2063.0 2569.2 L2065.6 2569.8 L2068.1 2570.5 L2070.7 2571.2 L2073.3 2571.9 L2075.9 2572.6 L2078.5 2573.3 L2081.1 2574.0 L2083.7 2574.6 L2086.2 2575.2 L2088.8 2575.6 L2091.4 2576.0 L2094.0 2576.4 L2096.6 2576.7 L2099.2 2577.0 L2101.7 2577.2 L2104.3 2577.5 L2106.9 2577.7 L2109.5 2577.9 L2112.1 2578.1 L2114.7 2578.3 L2117.3 2578.4 L2119.8 2578.6 L2122.4 2578.8 L2125.0 2579.0 L2127.6 2579.2 L2130.2 2579.4 L2132.8 2579.6 L2135.3 2579.8 L2137.9 2580.1 L2140.5 2580.3 L2143.1 2580.6 L2145.7 2581.0 L2148.3 2581.3 L2150.9 2581.7 L2153.4 2582.1 L2156.0 2582.6 L2158.6 2583.0 L2161.2 2583.5 L2163.8 2583.9 L2166.4 2584.3 L2169.0 2584.7 L2171.5 2585.1 L2174.1 2585.5 L2176.7 2585.8 L2179.3 2586.1 L2181.9 2586.3 L2184.5 2586.5 L2187.1 2586.6 L2189.6 2586.7 L2192.2 2586.8 L2194.8 2586.9 L2197.4 2587.0 L2200.0 2587.0 L2202.6 2587.1 L2205.1 2587.2 L2207.7 2587.2 L2210.3 2587.3 L2212.9 2587.4 L2215.5 2587.4 L2218.1 2587.5 L2220.7 2587.6 L2223.2 2587.6 L2225.8 2587.7 L2228.4 2587.8 L2231.0 2587.8 L2233.6 2587.9 L2236.2 2587.9 L2238.8 2588.0 L2241.3 2588.0 L2243.9 2588.1 L2246.5 2588.1 L2249.1 2588.2 L2251.7 2588.2 L2254.3 2588.3 L2256.8 2588.3 L2259.4 2588.4 L2262.0 2588.4 L2264.6 2588.5 L2267.2 2588.5 L2269.8 2588.6 L2272.4 2588.6 L2274.9 2588.6 L2277.5 2588.7 L2280.1 2588.7 L2282.7 2588.7 L2285.3 2588.8 L2287.9 2588.8 L2290.4 2588.8 L2293.0 2588.9 L2295.6 2588.9 L2298.2 2588.9 L2300.8 2588.9 L2303.4 2589.0 L2306.0 2589.0 L2308.5 2589.0 L2311.1 2589.0 L2313.7 2589.1 L2316.3 2589.1 L2318.9 2589.1 L2321.5 2589.1 L2324.1 2589.1 L2326.6 2589.2 L2329.2 2589.2 L2331.8 2589.2 L2334.4 2589.2 L2337.0 2589.2 L2339.6 2589.2 L2342.2 2589.2 L2344.7 2589.2 L2347.3 2589.2 L2349.9 2589.3 L2352.5 2589.3 L2355.1 2589.3 L2357.7 2589.3 L2360.2 2589.3 L2362.8 2589.3 L2365.4 2589.3 L2368.0 2589.3" fill="none" stroke="#ff00ff" stroke-width="9" stroke-linecap="round" stroke-linejoin="round" stroke-dasharray="41 31 5 31" stroke-dashoffset="0"/>
</g>
<clipPath id="clip_h"><rect x="1341" y="2585.5" width="1028" height="751.5"/></clipPath>
<g clip-path="url(#clip_h)">
<rect x="1341" y="2585.5" width="1028" height="751.5" fill="#fff"/>
<path d="M1342.0 2901.3 L1344.6 2900.9 L1347.1 2900.4 L1349.7 2900.0 L1352.3 2899.8 L1354.8 2899.9 L1357.4 2900.4 L1360.0 2901.1 L1362.5 2902.0 L1365.1 2903.0 L1367.7 2904.2 L1370.2 2905.9 L1372.8 2908.7 L1375.3 2912.9 L1377.9 2919.0 L1380.5 2926.9 L1383.0 2936.4 L1385.6 2947.1 L1388.2 2958.6 L1390.7 2970.9 L1393.3 2984.2 L1395.9 2998.6 L1398.4 3013.7 L1401.0 3028.8 L1403.6 3043.5 L1406.1 3057.3 L1408.7 3069.6 L1411.3 3079.9 L1413.8 3088.4 L1416.4 3095.1 L1419.0 3100.2 L1421.5 3103.7 L1424.1 3105.9 L1426.6 3106.9 L1429.2 3106.8 L1431.8 3105.5 L1434.3 3103.1 L1436.9 3099.7 L1439.5 3095.6 L1442.0 3090.7 L1444.6 3085.2 L1447.2 3079.3 L1449.7 3073.0 L1452.3 3066.7 L1454.9 3060.4 L1457.4 3054.3 L1460.0 3048.6 L1462.6 3043.2 L1465.1 3038.3 L1467.7 3033.9 L1470.2 3030.0 L1472.8 3026.7 L1475.4 3023.9 L1477.9 3021.6 L1480.5 3019.8 L1483.1 3018.4 L1485.6 3017.5 L1488.2 3017.0 L1490.8 3016.9 L1493.3 3017.3 L1495.9 3018.3 L1498.5 3020.1 L1501.0 3022.8 L1503.6 3026.7 L1506.2 3031.9 L1508.7 3038.6 L1511.3 3046.7 L1513.9 3056.3 L1516.4 3067.1 L1519.0 3078.7 L1521.5 3090.9 L1524.1 3102.9 L1526.7 3114.6 L1529.2 3125.4 L1531.8 3135.3 L1534.4 3144.1 L1536.9 3151.9 L1539.5 3158.7 L1542.1 3164.7 L1544.6 3170.0 L1547.2 3174.9 L1549.8 3179.3 L1552.3 3183.3 L1554.9 3187.1 L1557.5 3190.7 L1560.0 3194.0 L1562.6 3197.2 L1565.2 3200.2 L1567.7 3203.1 L1570.3 3205.8 L1572.8 3208.3 L1575.4 3210.6 L1578.0 3212.6 L1580.5 3214.4 L1583.1 3216.0 L1585.7 3217.3 L1588.2 3218.3 L1590.8 3219.0 L1593.4 3219.3 L1595.9 3219.4 L1598.5 3219.0 L1601.1 3218.4 L1603.6 3217.4 L1606.2 3216.1 L1608.8 3214.6 L1611.3 3212.9 L1613.9 3211.0 L1616.5 3208.9 L1619.0 3206.7 L1621.6 3204.2 L1624.2 3201.5 L1626.7 3198.7 L1629.3 3195.7 L1631.8 3192.5 L1634.4 3189.3 L1637.0 3185.9 L1639.5 3182.3 L1642.1 3178.6 L1644.7 3174.7 L1647.2 3170.7 L1649.8 3166.5 L1652.4 3162.1 L1654.9 3157.6 L1657.5 3153.1 L1660.1 3148.5 L1662.6 3143.9 L1665.2 3139.2 L1667.8 3134.6 L1670.3 3130.0 L1672.9 3125.4 L1675.5 3120.9 L1678.0 3116.3 L1680.6 3111.8 L1683.1 3107.4 L1685.7 3103.0 L1688.3 3098.6 L1690.8 3094.3 L1693.4 3090.2 L1696.0 3086.1 L1698.5 3082.2 L1701.1 3078.4 L1703.7 3074.7 L1706.2 3071.1 L1708.8 3067.7 L1711.4 3064.4 L1713.9 3061.2 L1716.5 3058.1 L1719.1 3055.2 L1721.6 3052.4 L1724.2 3049.6 L1726.8 3047.1 L1729.3 3044.6 L1731.9 3042.2 L1734.4 3040.0 L1737.0 3037.8 L1739.6 3035.8 L1742.1 3033.7 L1744.7 3031.8 L1747.3 3029.8 L1749.8 3027.9 L1752.4 3026.1 L1755.0 3024.3 L1757.5 3022.5 L1760.1 3020.7 L1762.7 3019.1 L1765.2 3017.4 L1767.8 3015.8 L1770.4 3014.3 L1772.9 3012.8 L1775.5 3011.3 L1778.0 3009.8 L1780.6 3008.3 L1783.2 3006.7 L1785.7 3005.2 L1788.3 3003.6 L1790.9 3002.0 L1793.4 3000.4 L1796.0 2998.7 L1798.6 2997.0 L1801.1 2995.2 L1803.7 2993.3 L1806.3 2991.2 L1808.8 2989.1 L1811.4 2986.7 L1814.0 2984.2 L1816.5 2981.4 L1819.1 2978.3 L1821.7 2975.0 L1824.2 2971.3 L1826.8 2967.4 L1829.3 2963.1 L1831.9 2958.4 L1834.5 2953.4 L1837.0 2947.8 L1839.6 2941.8 L1842.2 2935.2 L1844.7 2928.1 L1847.3 2920.2 L1849.9 2911.8 L1852.4 2902.8 L1855.0 2893.3 L1857.6 2883.6 L1860.1 2873.8 L1862.7 2863.9 L1865.3 2854.2 L1867.8 2844.5 L1870.4 2835.0 L1873.0 2825.6 L1875.5 2816.3 L1878.1 2807.2 L1880.7 2798.3 L1883.2 2789.5 L1885.8 2780.8 L1888.3 2772.2 L1890.9 2763.8 L1893.5 2755.5 L1896.0 2747.2 L1898.6 2739.1 L1901.2 2731.2 L1903.7 2723.4 L1906.3 2715.9 L1908.9 2708.7 L1911.4 2701.8 L1914.0 2695.3 L1916.6 2689.3 L1919.1 2683.8 L1921.7 2679.0 L1924.3 2674.9 L1926.8 2671.5 L1929.4 2668.8 L1931.9 2666.8 L1934.5 2665.4 L1937.1 2664.6 L1939.6 2664.3 L1942.2 2664.6 L1944.8 2665.4 L1947.3 2666.7 L1949.9 2668.4 L1952.5 2670.6 L1955.0 2673.2 L1957.6 2676.1 L1960.2 2679.3 L1962.7 2682.7 L1965.3 2686.2 L1967.9 2689.8 L1970.4 2693.4 L1973.0 2697.0 L1975.6 2700.6 L1978.1 2704.2 L1980.7 2707.9 L1983.2 2711.8 L1985.8 2715.8 L1988.4 2720.2 L1990.9 2724.8 L1993.5 2729.9 L1996.1 2735.4 L1998.6 2741.3 L2001.2 2747.8 L2003.8 2754.9 L2006.3 2762.6 L2008.9 2771.2 L2011.5 2780.5 L2014.0 2790.8 L2016.6 2801.9 L2019.2 2814.1 L2021.7 2827.3 L2024.3 2841.4 L2026.9 2856.3 L2029.4 2871.9 L2032.0 2888.0 L2034.5 2904.6 L2037.1 2921.5 L2039.7 2938.6 L2042.2 2955.8 L2044.8 2973.2 L2047.4 2990.5 L2049.9 3007.6 L2052.5 3024.6 L2055.1 3041.4 L2057.6 3057.9 L2060.2 3074.0 L2062.8 3089.7 L2065.3 3105.0 L2067.9 3119.7 L2070.5 3133.9 L2073.0 3147.5 L2075.6 3160.5 L2078.2 3172.9 L2080.7 3184.6 L2083.3 3195.6 L2085.8 3205.9 L2088.4 3215.5 L2091.0 3224.4 L2093.5 3232.6 L2096.1 3240.1 L2098.7 3247.0 L2101.2 3253.3 L2103.8 3259.0 L2106.4 3264.2 L2108.9 3269.0 L2111.5 3273.2 L2114.1 3277.0 L2116.6 3280.3 L2119.2 3283.3 L2121.8 3286.0 L2124.3 3288.3 L2126.9 3290.4 L2129.5 3292.2 L2132.0 3293.8 L2134.6 3295.2 L2137.2 3296.5 L2139.7 3297.6 L2142.3 3298.6 L2144.8 3299.5 L2147.4 3300.4 L2150.0 3301.1 L2152.5 3301.8 L2155.1 3302.3 L2157.7 3302.8 L2160.2 3303.3 L2162.8 3303.6 L2165.4 3304.0 L2167.9 3304.3 L2170.5 3304.5 L2173.1 3304.8 L2175.6 3305.0 L2178.2 3305.3 L2180.8 3305.5 L2183.3 3305.7 L2185.9 3305.8 L2188.4 3306.0 L2191.0 3306.2 L2193.6 3306.3 L2196.1 3306.4 L2198.7 3306.5 L2201.3 3306.6 L2203.8 3306.7 L2206.4 3306.7 L2209.0 3306.7 L2211.5 3306.7 L2214.1 3306.8 L2216.7 3306.8 L2219.2 3306.7 L2221.8 3306.7 L2224.4 3306.7 L2226.9 3306.7 L2229.5 3306.7 L2232.1 3306.6 L2234.6 3306.6 L2237.2 3306.6 L2239.8 3306.5 L2242.3 3306.5 L2244.9 3306.4 L2247.4 3306.4 L2250.0 3306.3 L2252.6 3306.3 L2255.1 3306.2 L2257.7 3306.2 L2260.3 3306.2 L2262.8 3306.1 L2265.4 3306.1 L2268.0 3306.0 L2270.5 3306.0 L2273.1 3305.9 L2275.7 3305.9 L2278.2 3305.8 L2280.8 3305.8 L2283.4 3305.8 L2285.9 3305.7 L2288.5 3305.7 L2291.1 3305.6 L2293.6 3305.6 L2296.2 3305.5 L2298.7 3305.5 L2301.3 3305.4 L2303.9 3305.4 L2306.4 3305.3 L2309.0 3305.3 L2311.6 3305.2 L2314.1 3305.2 L2316.7 3305.2 L2319.3 3305.1 L2321.8 3305.1 L2324.4 3305.0 L2327.0 3305.0 L2329.5 3304.9 L2332.1 3304.8 L2334.7 3304.8 L2337.2 3304.7 L2339.8 3304.7 L2342.3 3304.6 L2344.9 3304.6 L2347.5 3304.5 L2350.0 3304.5 L2352.6 3304.4 L2355.2 3304.4" fill="none" stroke="#0000ff" stroke-width="9.5" stroke-linecap="round" stroke-linejoin="round"/>
<path d="M1372.3 3274.0 L1374.8 3274.6 L1377.4 3275.5 L1380.0 3276.4 L1382.5 3277.3 L1385.1 3278.2 L1387.7 3279.1 L1390.2 3280.0 L1392.8 3280.9 L1395.4 3281.7 L1397.9 3282.6 L1400.5 3283.4 L1403.0 3284.2 L1405.6 3285.0 L1408.2 3285.8 L1410.7 3286.5 L1413.3 3287.3 L1415.9 3288.0 L1418.4 3288.7 L1421.0 3289.4 L1423.6 3290.1 L1426.1 3290.8 L1428.7 3291.5 L1431.3 3292.2 L1433.8 3292.9 L1436.4 3293.5 L1439.0 3294.1 L1441.5 3294.7 L1444.1 3295.3 L1446.7 3295.9 L1449.2 3296.5 L1451.8 3297.0 L1454.3 3297.6 L1456.9 3298.1 L1459.5 3298.6 L1462.0 3299.1 L1464.6 3299.6 L1467.2 3300.1 L1469.7 3300.6 L1472.3 3301.1 L1474.9 3301.5 L1477.4 3302.0 L1480.0 3302.4 L1482.6 3302.8 L1485.1 3303.2 L1487.7 3303.5 L1490.3 3303.8 L1492.8 3304.1 L1495.4 3304.3 L1498.0 3304.5 L1500.5 3304.6 L1503.1 3304.8 L1505.6 3305.0 L1508.2 3305.1 L1510.8 3305.3 L1513.3 3305.5 L1515.9 3305.6 L1518.5 3305.7 L1521.0 3305.8 L1523.6 3306.0 L1526.2 3306.1 L1528.7 3306.1 L1531.3 3306.2 L1533.9 3306.3 L1536.4 3306.3 L1539.0 3306.4 L1541.6 3306.4 L1544.1 3306.4 L1546.7 3306.3 L1549.3 3306.3 L1551.8 3306.2 L1554.4 3306.1 L1556.9 3306.1 L1559.5 3306.0 L1562.1 3305.9 L1564.6 3305.8 L1567.2 3305.7 L1569.8 3305.6 L1572.3 3305.5 L1574.9 3305.5 L1577.5 3305.4 L1580.0 3305.4 L1582.6 3305.4 L1585.2 3305.4 L1587.7 3305.4 L1590.3 3305.5 L1592.9 3305.6 L1595.4 3305.7 L1598.0 3305.8 L1600.6 3306.0 L1603.1 3306.1 L1605.7 3306.3 L1608.2 3306.5 L1610.8 3306.7 L1613.4 3306.9 L1615.9 3307.1 L1618.5 3307.3 L1621.1 3307.5 L1623.6 3307.7 L1626.2 3307.9 L1628.8 3308.1 L1631.3 3308.3 L1633.9 3308.5 L1636.5 3308.7 L1639.0 3309.0 L1641.6 3309.2 L1644.2 3309.5 L1646.7 3309.7 L1649.3 3310.0 L1651.9 3310.2 L1654.4 3310.4 L1657.0 3310.6 L1659.5 3310.9 L1662.1 3311.0 L1664.7 3311.2 L1667.2 3311.4 L1669.8 3311.5 L1672.4 3311.6 L1674.9 3311.6 L1677.5 3311.7 L1680.1 3311.8 L1682.6 3311.8 L1685.2 3311.9 L1687.8 3311.9 L1690.3 3312.0 L1692.9 3312.0 L1695.5 3312.1 L1698.0 3312.1 L1700.6 3312.2 L1703.2 3312.2 L1705.7 3312.3 L1708.3 3312.3 L1710.8 3312.4 L1713.4 3312.5 L1716.0 3312.6 L1718.5 3312.7 L1721.1 3312.9 L1723.7 3313.1 L1726.2 3313.3 L1728.8 3313.5 L1731.4 3313.7 L1733.9 3313.9 L1736.5 3314.2 L1739.1 3314.4 L1741.6 3314.7 L1744.2 3314.9 L1746.8 3315.1 L1749.3 3315.4 L1751.9 3315.6 L1754.5 3315.9 L1757.0 3316.1 L1759.6 3316.3 L1762.1 3316.5 L1764.7 3316.7 L1767.3 3316.9 L1769.8 3317.1 L1772.4 3317.3 L1775.0 3317.6 L1777.5 3317.8 L1780.1 3318.0 L1782.7 3318.2 L1785.2 3318.4 L1787.8 3318.6 L1790.4 3318.8 L1792.9 3319.0 L1795.5 3319.2 L1798.1 3319.3 L1800.6 3319.5 L1803.2 3319.7 L1805.8 3319.8 L1808.3 3320.0 L1810.9 3320.1 L1813.4 3320.3 L1816.0 3320.4 L1818.6 3320.5 L1821.1 3320.7 L1823.7 3320.8 L1826.3 3320.9 L1828.8 3321.1 L1831.4 3321.2 L1834.0 3321.3 L1836.5 3321.4 L1839.1 3321.5 L1841.7 3321.6 L1844.2 3321.7 L1846.8 3321.8 L1849.4 3321.9 L1851.9 3322.0 L1854.5 3322.1 L1857.1 3322.2 L1859.6 3322.3 L1862.2 3322.3 L1864.7 3322.4 L1867.3 3322.5 L1869.9 3322.6 L1872.4 3322.7 L1875.0 3322.7 L1877.6 3322.8 L1880.1 3322.9 L1882.7 3323.0 L1885.3 3323.1 L1887.8 3323.2 L1890.4 3323.3 L1893.0 3323.4 L1895.5 3323.5 L1898.1 3323.6 L1900.7 3323.8 L1903.2 3323.9 L1905.8 3324.1 L1908.4 3324.2 L1910.9 3324.4 L1913.5 3324.5 L1916.0 3324.7 L1918.6 3324.8 L1921.2 3325.0 L1923.7 3325.1 L1926.3 3325.2 L1928.9 3325.3 L1931.4 3325.3 L1934.0 3325.4 L1936.6 3325.4 L1939.1 3325.4 L1941.7 3325.5 L1944.3 3325.5 L1946.8 3325.5 L1949.4 3325.6 L1952.0 3325.6 L1954.5 3325.6 L1957.1 3325.6 L1959.7 3325.6 L1962.2 3325.7 L1964.8 3325.7 L1967.3 3325.7 L1969.9 3325.7 L1972.5 3325.8 L1975.0 3325.8 L1977.6 3325.8 L1980.2 3325.9 L1982.7 3325.9 L1985.3 3326.0 L1987.9 3326.0 L1990.4 3326.1 L1993.0 3326.2 L1995.6 3326.2 L1998.1 3326.3 L2000.7 3326.4 L2003.3 3326.4 L2005.8 3326.5 L2008.4 3326.6 L2011.0 3326.6 L2013.5 3326.7 L2016.1 3326.8 L2018.6 3326.9 L2021.2 3326.9 L2023.8 3327.0 L2026.3 3327.1 L2028.9 3327.2 L2031.5 3327.2 L2034.0 3327.3 L2036.6 3327.4 L2039.2 3327.5 L2041.7 3327.6 L2044.3 3327.7 L2046.9 3327.8 L2049.4 3327.9 L2052.0 3327.9 L2054.6 3328.0 L2057.1 3328.1 L2059.7 3328.2 L2062.3 3328.3 L2064.8 3328.4 L2067.4 3328.5 L2069.9 3328.6 L2072.5 3328.7 L2075.1 3328.8 L2077.6 3328.9 L2080.2 3328.9 L2082.8 3329.0 L2085.3 3329.1 L2087.9 3329.2 L2090.5 3329.3 L2093.0 3329.4 L2095.6 3329.5 L2098.2 3329.6 L2100.7 3329.7 L2103.3 3329.8 L2105.9 3329.9 L2108.4 3330.0 L2111.0 3330.2 L2113.6 3330.3 L2116.1 3330.4 L2118.7 3330.5 L2121.2 3330.7 L2123.8 3330.8 L2126.4 3330.9 L2128.9 3331.1 L2131.5 3331.2 L2134.1 3331.3 L2136.6 3331.5 L2139.2 3331.6 L2141.8 3331.7 L2144.3 3331.8 L2146.9 3331.9 L2149.5 3331.9 L2152.0 3332.0 L2154.6 3332.0 L2157.2 3332.1 L2159.7 3332.1 L2162.3 3332.2 L2164.9 3332.2 L2167.4 3332.3 L2170.0 3332.3 L2172.5 3332.3 L2175.1 3332.4 L2177.7 3332.4 L2180.2 3332.5 L2182.8 3332.5 L2185.4 3332.6 L2187.9 3332.6 L2190.5 3332.6 L2193.1 3332.7 L2195.6 3332.7 L2198.2 3332.8 L2200.8 3332.8 L2203.3 3332.8 L2205.9 3332.9 L2208.5 3332.9 L2211.0 3332.9 L2213.6 3333.0 L2216.2 3333.0 L2218.7 3333.0 L2221.3 3333.1 L2223.8 3333.1 L2226.4 3333.1 L2229.0 3333.2 L2231.5 3333.2 L2234.1 3333.2 L2236.7 3333.3 L2239.2 3333.3 L2241.8 3333.3 L2244.4 3333.4 L2246.9 3333.4 L2249.5 3333.4 L2252.1 3333.4 L2254.6 3333.5 L2257.2 3333.5 L2259.8 3333.5 L2262.3 3333.5 L2264.9 3333.6 L2267.5 3333.6 L2270.0 3333.6 L2272.6 3333.6 L2275.1 3333.7 L2277.7 3333.7 L2280.3 3333.7 L2282.8 3333.7 L2285.4 3333.7 L2288.0 3333.8 L2290.5 3333.8 L2293.1 3333.8 L2295.7 3333.8 L2298.2 3333.8 L2300.8 3333.8 L2303.4 3333.9 L2305.9 3333.9 L2308.5 3333.9 L2311.1 3333.9 L2313.6 3333.9 L2316.2 3333.9 L2318.8 3333.9 L2321.3 3333.9 L2323.9 3334.0 L2326.4 3334.0 L2329.0 3334.0 L2331.6 3334.0 L2334.1 3334.0 L2336.7 3334.0 L2339.3 3334.0 L2341.8 3334.0 L2344.4 3334.0 L2347.0 3334.0 L2349.5 3334.0 L2352.1 3334.0 L2354.7 3334.0 L2357.2 3334.0 L2359.8 3334.0 L2362.4 3334.0 L2364.9 3334.0 L2367.5 3334.0" fill="none" stroke="#00fa00" stroke-width="9" stroke-linecap="round" stroke-linejoin="round" stroke-dasharray="37 55" stroke-dashoffset="0"/>
<path d="M1372.8 3300.4 L1375.3 3300.8 L1377.9 3301.3 L1380.5 3301.8 L1383.0 3302.4 L1385.6 3303.0 L1388.2 3303.6 L1390.7 3304.3 L1393.3 3304.9 L1395.9 3305.6 L1398.4 3306.3 L1401.0 3306.9 L1403.6 3307.6 L1406.1 3308.2 L1408.7 3308.9 L1411.3 3309.5 L1413.8 3310.1 L1416.4 3310.6 L1419.0 3311.2 L1421.5 3311.6 L1424.1 3312.1 L1426.6 3312.5 L1429.2 3312.9 L1431.8 3313.3 L1434.3 3313.6 L1436.9 3314.0 L1439.5 3314.4 L1442.0 3314.7 L1444.6 3315.0 L1447.2 3315.4 L1449.7 3315.7 L1452.3 3316.0 L1454.9 3316.3 L1457.4 3316.6 L1460.0 3316.8 L1462.6 3317.1 L1465.1 3317.3 L1467.7 3317.5 L1470.2 3317.7 L1472.8 3317.9 L1475.4 3318.0 L1477.9 3318.2 L1480.5 3318.3 L1483.1 3318.4 L1485.6 3318.5 L1488.2 3318.6 L1490.8 3318.7 L1493.3 3318.8 L1495.9 3319.0 L1498.5 3319.0 L1501.0 3319.1 L1503.6 3319.2 L1506.2 3319.3 L1508.7 3319.4 L1511.3 3319.5 L1513.9 3319.5 L1516.4 3319.6 L1519.0 3319.6 L1521.5 3319.6 L1524.1 3319.7 L1526.7 3319.7 L1529.2 3319.7 L1531.8 3319.7 L1534.4 3319.6 L1536.9 3319.6 L1539.5 3319.5 L1542.1 3319.5 L1544.6 3319.4 L1547.2 3319.3 L1549.8 3319.2 L1552.3 3319.0 L1554.9 3318.9 L1557.5 3318.8 L1560.0 3318.7 L1562.6 3318.6 L1565.2 3318.5 L1567.7 3318.4 L1570.3 3318.3 L1572.8 3318.3 L1575.4 3318.2 L1578.0 3318.2 L1580.5 3318.2 L1583.1 3318.2 L1585.7 3318.2 L1588.2 3318.3 L1590.8 3318.4 L1593.4 3318.5 L1595.9 3318.7 L1598.5 3318.8 L1601.1 3319.0 L1603.6 3319.2 L1606.2 3319.4 L1608.8 3319.7 L1611.3 3319.9 L1613.9 3320.1 L1616.5 3320.4 L1619.0 3320.6 L1621.6 3320.8 L1624.2 3321.1 L1626.7 3321.3 L1629.3 3321.5 L1631.8 3321.8 L1634.4 3322.0 L1637.0 3322.2 L1639.5 3322.4 L1642.1 3322.7 L1644.7 3322.9 L1647.2 3323.2 L1649.8 3323.5 L1652.4 3323.8 L1654.9 3324.0 L1657.5 3324.3 L1660.1 3324.6 L1662.6 3324.9 L1665.2 3325.1 L1667.8 3325.4 L1670.3 3325.7 L1672.9 3325.9 L1675.5 3326.2 L1678.0 3326.4 L1680.6 3326.7 L1683.1 3326.9 L1685.7 3327.1 L1688.3 3327.3 L1690.8 3327.5 L1693.4 3327.7 L1696.0 3327.9 L1698.5 3328.0 L1701.1 3328.2 L1703.7 3328.4 L1706.2 3328.6 L1708.8 3328.7 L1711.4 3328.9 L1713.9 3329.1 L1716.5 3329.2 L1719.1 3329.4 L1721.6 3329.6 L1724.2 3329.8 L1726.8 3329.9 L1729.3 3330.1 L1731.9 3330.3 L1734.4 3330.5 L1737.0 3330.7 L1739.6 3330.8 L1742.1 3331.0 L1744.7 3331.3 L1747.3 3331.5 L1749.8 3331.7 L1752.4 3331.9 L1755.0 3332.1 L1757.5 3332.3 L1760.1 3332.5 L1762.7 3332.7 L1765.2 3332.9 L1767.8 3333.1 L1770.4 3333.3 L1772.9 3333.5 L1775.5 3333.6 L1778.0 3333.8 L1780.6 3333.9 L1783.2 3334.0 L1785.7 3334.2 L1788.3 3334.3 L1790.9 3334.4 L1793.4 3334.5 L1796.0 3334.6 L1798.6 3334.7 L1801.1 3334.8 L1803.7 3334.9 L1806.3 3335.0 L1808.8 3335.1 L1811.4 3335.2 L1814.0 3335.3 L1816.5 3335.4 L1819.1 3335.5 L1821.7 3335.6 L1824.2 3335.7 L1826.8 3335.8 L1829.3 3335.9 L1831.9 3335.9 L1834.5 3336.0 L1837.0 3336.1 L1839.6 3336.2 L1842.2 3336.2 L1844.7 3336.3 L1847.3 3336.4 L1849.9 3336.4 L1852.4 3336.5 L1855.0 3336.6 L1857.6 3336.6 L1860.1 3336.7 L1862.7 3336.8 L1865.3 3336.8 L1867.8 3336.9 L1870.4 3336.9 L1873.0 3337.0 L1875.5 3337.0 L1878.1 3337.1 L1880.7 3337.1 L1883.2 3337.2 L1885.8 3337.2 L1888.3 3337.3 L1890.9 3337.3 L1893.5 3337.4 L1896.0 3337.4 L1898.6 3337.4 L1901.2 3337.5 L1903.7 3337.5 L1906.3 3337.6 L1908.9 3337.6 L1911.4 3337.7 L1914.0 3337.7 L1916.6 3337.8 L1919.1 3337.8 L1921.7 3337.8 L1924.3 3337.9 L1926.8 3337.9 L1929.4 3338.0 L1931.9 3338.0 L1934.5 3338.1 L1937.1 3338.1 L1939.6 3338.1 L1942.2 3338.2 L1944.8 3338.2 L1947.3 3338.3 L1949.9 3338.3 L1952.5 3338.4 L1955.0 3338.4 L1957.6 3338.4 L1960.2 3338.5 L1962.7 3338.5 L1965.3 3338.6 L1967.9 3338.6 L1970.4 3338.6 L1973.0 3338.7 L1975.6 3338.7 L1978.1 3338.8 L1980.7 3338.8 L1983.2 3338.8 L1985.8 3338.9 L1988.4 3338.9 L1990.9 3339.0 L1993.5 3339.0 L1996.1 3339.0 L1998.6 3339.1 L2001.2 3339.1 L2003.8 3339.2 L2006.3 3339.2 L2008.9 3339.2 L2011.5 3339.3 L2014.0 3339.3 L2016.6 3339.4 L2019.2 3339.4 L2021.7 3339.4 L2024.3 3339.5 L2026.9 3339.5 L2029.4 3339.5 L2032.0 3339.6 L2034.5 3339.6 L2037.1 3339.7 L2039.7 3339.7 L2042.2 3339.7 L2044.8 3339.8 L2047.4 3339.8 L2049.9 3339.8 L2052.5 3339.9 L2055.1 3339.9 L2057.6 3339.9 L2060.2 3340.0 L2062.8 3340.0 L2065.3 3340.0 L2067.9 3340.1 L2070.5 3340.1 L2073.0 3340.1 L2075.6 3340.2 L2078.2 3340.2 L2080.7 3340.2 L2083.3 3340.3 L2085.8 3340.3 L2088.4 3340.3 L2091.0 3340.4 L2093.5 3340.4 L2096.1 3340.4 L2098.7 3340.5 L2101.2 3340.5 L2103.8 3340.5 L2106.4 3340.6 L2108.9 3340.6 L2111.5 3340.6 L2114.1 3340.7 L2116.6 3340.7 L2119.2 3340.7 L2121.8 3340.7 L2124.3 3340.8 L2126.9 3340.8 L2129.5 3340.8 L2132.0 3340.9 L2134.6 3340.9 L2137.2 3340.9 L2139.7 3340.9 L2142.3 3341.0 L2144.8 3341.0 L2147.4 3341.0 L2150.0 3341.0 L2152.5 3341.1 L2155.1 3341.1 L2157.7 3341.1 L2160.2 3341.2 L2162.8 3341.2 L2165.4 3341.2 L2167.9 3341.2 L2170.5 3341.3 L2173.1 3341.3 L2175.6 3341.3 L2178.2 3341.3 L2180.8 3341.3 L2183.3 3341.4 L2185.9 3341.4 L2188.4 3341.4 L2191.0 3341.4 L2193.6 3341.5 L2196.1 3341.5 L2198.7 3341.5 L2201.3 3341.5 L2203.8 3341.5 L2206.4 3341.6 L2209.0 3341.6 L2211.5 3341.6 L2214.1 3341.6 L2216.7 3341.6 L2219.2 3341.7 L2221.8 3341.7 L2224.4 3341.7 L2226.9 3341.7 L2229.5 3341.7 L2232.1 3341.8 L2234.6 3341.8 L2237.2 3341.8 L2239.8 3341.8 L2242.3 3341.8 L2244.9 3341.8 L2247.4 3341.9 L2250.0 3341.9 L2252.6 3341.9 L2255.1 3341.9 L2257.7 3341.9 L2260.3 3341.9 L2262.8 3342.0 L2265.4 3342.0 L2268.0 3342.0 L2270.5 3342.0 L2273.1 3342.0 L2275.7 3342.0 L2278.2 3342.0 L2280.8 3342.0 L2283.4 3342.1 L2285.9 3342.1 L2288.5 3342.1 L2291.1 3342.1 L2293.6 3342.1 L2296.2 3342.1 L2298.7 3342.1 L2301.3 3342.1 L2303.9 3342.1 L2306.4 3342.1 L2309.0 3342.2 L2311.6 3342.2 L2314.1 3342.2 L2316.7 3342.2 L2319.3 3342.2 L2321.8 3342.2 L2324.4 3342.2 L2327.0 3342.2 L2329.5 3342.2 L2332.1 3342.2 L2334.7 3342.2 L2337.2 3342.2 L2339.8 3342.2 L2342.3 3342.2 L2344.9 3342.2 L2347.5 3342.2 L2350.0 3342.2 L2352.6 3342.2 L2355.2 3342.2 L2357.7 3342.2 L2360.3 3342.2 L2362.9 3342.2 L2365.4 3342.2 L2368.0 3342.2" fill="none" stroke="#ff0000" stroke-width="9" stroke-linecap="round" stroke-linejoin="round" stroke-dasharray="4 46" stroke-dashoffset="0"/>
</g>
<clipPath id="clip_g2"><rect x="1339" y="2623.5" width="14" height="707.0"/></clipPath>
<g clip-path="url(#clip_g2)">
<path d="M1297.6 3313.7 L1300.3 3313.6 L1303.0 3313.6 L1305.8 3313.5 L1308.5 3313.5 L1311.2 3313.4 L1313.9 3313.4 L1316.6 3313.3 L1319.4 3313.3 L1322.1 3313.2 L1324.8 3313.2 L1327.5 3313.1 L1330.2 3313.1 L1333.0 3313.0 L1335.7 3312.9 L1338.4 3312.9 L1341.1 3312.8 L1343.8 3312.8" fill="none" stroke="#0000ff" stroke-width="9.5" stroke-linecap="round" stroke-linejoin="round"/>
</g>
<line x1="269.5" y1="84.5" x2="2351.5" y2="84.5" stroke="#6a6a6a" stroke-width="4" stroke-linecap="square"/>
<line x1="2351.5" y1="84.5" x2="2351.5" y2="1642.5" stroke="#6a6a6a" stroke-width="4" stroke-linecap="square"/>
<line x1="269.5" y1="84.5" x2="269.5" y2="1642.5" stroke="#2a2a2a" stroke-width="4" stroke-linecap="square"/>
<line x1="1311.5" y1="84.5" x2="1311.5" y2="1642.5" stroke="#444" stroke-width="4" stroke-linecap="square"/>
<line x1="269.5" y1="875" x2="1311.5" y2="875" stroke="#2a2a2a" stroke-width="4" stroke-linecap="square"/>
<line x1="1311.5" y1="877" x2="2351.5" y2="877" stroke="#2a2a2a" stroke-width="4" stroke-linecap="square"/>
<line x1="269.5" y1="1642.5" x2="2351.5" y2="1642.5" stroke="#2a2a2a" stroke-width="4" stroke-linecap="square"/>
<line x1="263.5" y1="1793.5" x2="2369" y2="1793.5" stroke="#2a2a2a" stroke-width="3.5" stroke-linecap="square"/>
<line x1="2369" y1="1793.5" x2="2369" y2="3334" stroke="#6a6a6a" stroke-width="4" stroke-linecap="square"/>
<line x1="263.5" y1="1787.5" x2="263.5" y2="3340.5" stroke="#2a2a2a" stroke-width="4" stroke-linecap="square"/>
<line x1="1333.5" y1="1787.5" x2="1333.5" y2="2585.5" stroke="#2a2a2a" stroke-width="4" stroke-linecap="square"/>
<line x1="1341" y1="2585.5" x2="1341" y2="3340.5" stroke="#2a2a2a" stroke-width="3.5" stroke-linecap="square"/>
<line x1="263.5" y1="2583.5" x2="1333.5" y2="2583.5" stroke="#2a2a2a" stroke-width="4" stroke-linecap="square"/>
<line x1="1333.5" y1="2585.5" x2="2369" y2="2585.5" stroke="#2a2a2a" stroke-width="4" stroke-linecap="square"/>
<line x1="263.5" y1="3340.5" x2="1341" y2="3340.5" stroke="#2a2a2a" stroke-width="4" stroke-linecap="square"/>
<line x1="1341" y1="3334" x2="2369" y2="3334" stroke="#2a2a2a" stroke-width="3.5" stroke-linecap="square"/>
<line x1="269.5" y1="874.0" x2="286.5" y2="874.0" stroke="#222" stroke-width="3"/>
<line x1="269.5" y1="852.9" x2="278.5" y2="852.9" stroke="#222" stroke-width="3"/>
<line x1="269.5" y1="831.9" x2="278.5" y2="831.9" stroke="#222" stroke-width="3"/>
<line x1="269.5" y1="810.8" x2="278.5" y2="810.8" stroke="#222" stroke-width="3"/>
<line x1="269.5" y1="789.8" x2="278.5" y2="789.8" stroke="#222" stroke-width="3"/>
<line x1="269.5" y1="768.7" x2="286.5" y2="768.7" stroke="#222" stroke-width="3"/>
<line x1="269.5" y1="747.6" x2="278.5" y2="747.6" stroke="#222" stroke-width="3"/>
<line x1="269.5" y1="726.6" x2="278.5" y2="726.6" stroke="#222" stroke-width="3"/>
<line x1="269.5" y1="705.5" x2="278.5" y2="705.5" stroke="#222" stroke-width="3"/>
<line x1="269.5" y1="684.5" x2="278.5" y2="684.5" stroke="#222" stroke-width="3"/>
<line x1="269.5" y1="663.4" x2="286.5" y2="663.4" stroke="#222" stroke-width="3"/>
<line x1="269.5" y1="642.3" x2="278.5" y2="642.3" stroke="#222" stroke-width="3"/>
<line x1="269.5" y1="621.3" x2="278.5" y2="621.3" stroke="#222" stroke-width="3"/>
<line x1="269.5" y1="600.2" x2="278.5" y2="600.2" stroke="#222" stroke-width="3"/>
<line x1="269.5" y1="579.2" x2="278.5" y2="579.2" stroke="#222" stroke-width="3"/>
<line x1="269.5" y1="558.1" x2="286.5" y2="558.1" stroke="#222" stroke-width="3"/>
<line x1="269.5" y1="537.0" x2="278.5" y2="537.0" stroke="#222" stroke-width="3"/>
<line x1="269.5" y1="516.0" x2="278.5" y2="516.0" stroke="#222" stroke-width="3"/>
<line x1="269.5" y1="494.9" x2="278.5" y2="494.9" stroke="#222" stroke-width="3"/>
<line x1="269.5" y1="473.9" x2="278.5" y2="473.9" stroke="#222" stroke-width="3"/>
<line x1="269.5" y1="452.8" x2="286.5" y2="452.8" stroke="#222" stroke-width="3"/>
<line x1="269.5" y1="431.7" x2="278.5" y2="431.7" stroke="#222" stroke-width="3"/>
<line x1="269.5" y1="410.7" x2="278.5" y2="410.7" stroke="#222" stroke-width="3"/>
<line x1="269.5" y1="389.6" x2="278.5" y2="389.6" stroke="#222" stroke-width="3"/>
<line x1="269.5" y1="368.6" x2="278.5" y2="368.6" stroke="#222" stroke-width="3"/>
<line x1="269.5" y1="347.5" x2="286.5" y2="347.5" stroke="#222" stroke-width="3"/>
<line x1="269.5" y1="326.4" x2="278.5" y2="326.4" stroke="#222" stroke-width="3"/>
<line x1="269.5" y1="305.4" x2="278.5" y2="305.4" stroke="#222" stroke-width="3"/>
<line x1="269.5" y1="284.3" x2="278.5" y2="284.3" stroke="#222" stroke-width="3"/>
<line x1="269.5" y1="263.3" x2="278.5" y2="263.3" stroke="#222" stroke-width="3"/>
<line x1="269.5" y1="242.2" x2="286.5" y2="242.2" stroke="#222" stroke-width="3"/>
<line x1="269.5" y1="221.1" x2="278.5" y2="221.1" stroke="#222" stroke-width="3"/>
<line x1="269.5" y1="200.1" x2="278.5" y2="200.1" stroke="#222" stroke-width="3"/>
<line x1="269.5" y1="179.0" x2="278.5" y2="179.0" stroke="#222" stroke-width="3"/>
<line x1="269.5" y1="158.0" x2="278.5" y2="158.0" stroke="#222" stroke-width="3"/>
<line x1="269.5" y1="136.9" x2="286.5" y2="136.9" stroke="#222" stroke-width="3"/>
<line x1="269.5" y1="115.8" x2="278.5" y2="115.8" stroke="#222" stroke-width="3"/>
<line x1="269.5" y1="94.8" x2="278.5" y2="94.8" stroke="#222" stroke-width="3"/>
<line x1="269.5" y1="1642.0" x2="286.5" y2="1642.0" stroke="#222" stroke-width="3"/>
<line x1="269.5" y1="1621.4" x2="278.5" y2="1621.4" stroke="#222" stroke-width="3"/>
<line x1="269.5" y1="1600.7" x2="278.5" y2="1600.7" stroke="#222" stroke-width="3"/>
<line x1="269.5" y1="1580.1" x2="278.5" y2="1580.1" stroke="#222" stroke-width="3"/>
<line x1="269.5" y1="1559.4" x2="278.5" y2="1559.4" stroke="#222" stroke-width="3"/>
<line x1="269.5" y1="1538.8" x2="286.5" y2="1538.8" stroke="#222" stroke-width="3"/>
<line x1="269.5" y1="1518.2" x2="278.5" y2="1518.2" stroke="#222" stroke-width="3"/>
<line x1="269.5" y1="1497.5" x2="278.5" y2="1497.5" stroke="#222" stroke-width="3"/>
<line x1="269.5" y1="1476.9" x2="278.5" y2="1476.9" stroke="#222" stroke-width="3"/>
<line x1="269.5" y1="1456.2" x2="278.5" y2="1456.2" stroke="#222" stroke-width="3"/>
<line x1="269.5" y1="1435.6" x2="286.5" y2="1435.6" stroke="#222" stroke-width="3"/>
<line x1="269.5" y1="1415.0" x2="278.5" y2="1415.0" stroke="#222" stroke-width="3"/>
<line x1="269.5" y1="1394.3" x2="278.5" y2="1394.3" stroke="#222" stroke-width="3"/>
<line x1="269.5" y1="1373.7" x2="278.5" y2="1373.7" stroke="#222" stroke-width="3"/>
<line x1="269.5" y1="1353.0" x2="278.5" y2="1353.0" stroke="#222" stroke-width="3"/>
<line x1="269.5" y1="1332.4" x2="286.5" y2="1332.4" stroke="#222" stroke-width="3"/>
<line x1="269.5" y1="1311.8" x2="278.5" y2="1311.8" stroke="#222" stroke-width="3"/>
<line x1="269.5" y1="1291.1" x2="278.5" y2="1291.1" stroke="#222" stroke-width="3"/>
<line x1="269.5" y1="1270.5" x2="278.5" y2="1270.5" stroke="#222" stroke-width="3"/>
<line x1="269.5" y1="1249.8" x2="278.5" y2="1249.8" stroke="#222" stroke-width="3"/>
<line x1="269.5" y1="1229.2" x2="286.5" y2="1229.2" stroke="#222" stroke-width="3"/>
<line x1="269.5" y1="1208.6" x2="278.5" y2="1208.6" stroke="#222" stroke-width="3"/>
<line x1="269.5" y1="1187.9" x2="278.5" y2="1187.9" stroke="#222" stroke-width="3"/>
<line x1="269.5" y1="1167.3" x2="278.5" y2="1167.3" stroke="#222" stroke-width="3"/>
<line x1="269.5" y1="1146.6" x2="278.5" y2="1146.6" stroke="#222" stroke-width="3"/>
<line x1="269.5" y1="1126.0" x2="286.5" y2="1126.0" stroke="#222" stroke-width="3"/>
<line x1="269.5" y1="1105.4" x2="278.5" y2="1105.4" stroke="#222" stroke-width="3"/>
<line x1="269.5" y1="1084.7" x2="278.5" y2="1084.7" stroke="#222" stroke-width="3"/>
<line x1="269.5" y1="1064.1" x2="278.5" y2="1064.1" stroke="#222" stroke-width="3"/>
<line x1="269.5" y1="1043.4" x2="278.5" y2="1043.4" stroke="#222" stroke-width="3"/>
<line x1="269.5" y1="1022.8" x2="286.5" y2="1022.8" stroke="#222" stroke-width="3"/>
<line x1="269.5" y1="1002.2" x2="278.5" y2="1002.2" stroke="#222" stroke-width="3"/>
<line x1="269.5" y1="981.5" x2="278.5" y2="981.5" stroke="#222" stroke-width="3"/>
<line x1="269.5" y1="960.9" x2="278.5" y2="960.9" stroke="#222" stroke-width="3"/>
<line x1="269.5" y1="940.2" x2="278.5" y2="940.2" stroke="#222" stroke-width="3"/>
<line x1="269.5" y1="919.6" x2="286.5" y2="919.6" stroke="#222" stroke-width="3"/>
<line x1="269.5" y1="899.0" x2="278.5" y2="899.0" stroke="#222" stroke-width="3"/>
<line x1="1311.5" y1="869.4" x2="1328.5" y2="869.4" stroke="#222" stroke-width="3"/>
<line x1="1311.5" y1="848.5" x2="1320.5" y2="848.5" stroke="#222" stroke-width="3"/>
<line x1="1311.5" y1="827.5" x2="1320.5" y2="827.5" stroke="#222" stroke-width="3"/>
<line x1="1311.5" y1="806.6" x2="1320.5" y2="806.6" stroke="#222" stroke-width="3"/>
<line x1="1311.5" y1="785.7" x2="1320.5" y2="785.7" stroke="#222" stroke-width="3"/>
<line x1="1311.5" y1="764.7" x2="1328.5" y2="764.7" stroke="#222" stroke-width="3"/>
<line x1="1311.5" y1="743.8" x2="1320.5" y2="743.8" stroke="#222" stroke-width="3"/>
<line x1="1311.5" y1="722.8" x2="1320.5" y2="722.8" stroke="#222" stroke-width="3"/>
<line x1="1311.5" y1="701.9" x2="1320.5" y2="701.9" stroke="#222" stroke-width="3"/>
<line x1="1311.5" y1="681.0" x2="1320.5" y2="681.0" stroke="#222" stroke-width="3"/>
<line x1="1311.5" y1="660.0" x2="1328.5" y2="660.0" stroke="#222" stroke-width="3"/>
<line x1="1311.5" y1="639.1" x2="1320.5" y2="639.1" stroke="#222" stroke-width="3"/>
<line x1="1311.5" y1="618.2" x2="1320.5" y2="618.2" stroke="#222" stroke-width="3"/>
<line x1="1311.5" y1="597.2" x2="1320.5" y2="597.2" stroke="#222" stroke-width="3"/>
<line x1="1311.5" y1="576.3" x2="1320.5" y2="576.3" stroke="#222" stroke-width="3"/>
<line x1="1311.5" y1="555.4" x2="1328.5" y2="555.4" stroke="#222" stroke-width="3"/>
<line x1="1311.5" y1="534.4" x2="1320.5" y2="534.4" stroke="#222" stroke-width="3"/>
<line x1="1311.5" y1="513.5" x2="1320.5" y2="513.5" stroke="#222" stroke-width="3"/>
<line x1="1311.5" y1="492.6" x2="1320.5" y2="492.6" stroke="#222" stroke-width="3"/>
<line x1="1311.5" y1="471.6" x2="1320.5" y2="471.6" stroke="#222" stroke-width="3"/>
<line x1="1311.5" y1="450.7" x2="1328.5" y2="450.7" stroke="#222" stroke-width="3"/>
<line x1="1311.5" y1="115.7" x2="1320.5" y2="115.7" stroke="#222" stroke-width="3"/>
<line x1="1311.5" y1="94.8" x2="1320.5" y2="94.8" stroke="#222" stroke-width="3"/>
<line x1="1311.5" y1="1643.5" x2="1328.5" y2="1643.5" stroke="#222" stroke-width="3"/>
<line x1="1311.5" y1="1623.0" x2="1320.5" y2="1623.0" stroke="#222" stroke-width="3"/>
<line x1="1311.5" y1="1602.4" x2="1320.5" y2="1602.4" stroke="#222" stroke-width="3"/>
<line x1="1311.5" y1="1581.9" x2="1320.5" y2="1581.9" stroke="#222" stroke-width="3"/>
<line x1="1311.5" y1="1561.3" x2="1320.5" y2="1561.3" stroke="#222" stroke-width="3"/>
<line x1="1311.5" y1="1540.8" x2="1328.5" y2="1540.8" stroke="#222" stroke-width="3"/>
<line x1="1311.5" y1="1520.3" x2="1320.5" y2="1520.3" stroke="#222" stroke-width="3"/>
<line x1="1311.5" y1="1499.7" x2="1320.5" y2="1499.7" stroke="#222" stroke-width="3"/>
<line x1="1311.5" y1="1479.2" x2="1320.5" y2="1479.2" stroke="#222" stroke-width="3"/>
<line x1="1311.5" y1="1458.6" x2="1320.5" y2="1458.6" stroke="#222" stroke-width="3"/>
<line x1="1311.5" y1="1438.1" x2="1328.5" y2="1438.1" stroke="#222" stroke-width="3"/>
<line x1="1311.5" y1="1417.6" x2="1320.5" y2="1417.6" stroke="#222" stroke-width="3"/>
<line x1="1311.5" y1="1397.0" x2="1320.5" y2="1397.0" stroke="#222" stroke-width="3"/>
<line x1="1311.5" y1="1376.5" x2="1320.5" y2="1376.5" stroke="#222" stroke-width="3"/>
<line x1="1311.5" y1="1355.9" x2="1320.5" y2="1355.9" stroke="#222" stroke-width="3"/>
<line x1="1311.5" y1="1335.4" x2="1328.5" y2="1335.4" stroke="#222" stroke-width="3"/>
<line x1="1311.5" y1="1314.9" x2="1320.5" y2="1314.9" stroke="#222" stroke-width="3"/>
<line x1="1311.5" y1="1294.3" x2="1320.5" y2="1294.3" stroke="#222" stroke-width="3"/>
<line x1="1311.5" y1="1273.8" x2="1320.5" y2="1273.8" stroke="#222" stroke-width="3"/>
<line x1="1311.5" y1="1253.2" x2="1320.5" y2="1253.2" stroke="#222" stroke-width="3"/>
<line x1="1311.5" y1="1232.7" x2="1328.5" y2="1232.7" stroke="#222" stroke-width="3"/>
<line x1="1311.5" y1="1212.2" x2="1320.5" y2="1212.2" stroke="#222" stroke-width="3"/>
<line x1="1311.5" y1="1191.6" x2="1320.5" y2="1191.6" stroke="#222" stroke-width="3"/>
<line x1="1311.5" y1="1171.1" x2="1320.5" y2="1171.1" stroke="#222" stroke-width="3"/>
<line x1="1311.5" y1="1150.5" x2="1320.5" y2="1150.5" stroke="#222" stroke-width="3"/>
<line x1="1311.5" y1="1130.0" x2="1328.5" y2="1130.0" stroke="#222" stroke-width="3"/>
<line x1="1311.5" y1="1109.5" x2="1320.5" y2="1109.5" stroke="#222" stroke-width="3"/>
<line x1="1311.5" y1="1088.9" x2="1320.5" y2="1088.9" stroke="#222" stroke-width="3"/>
<line x1="1311.5" y1="1068.4" x2="1320.5" y2="1068.4" stroke="#222" stroke-width="3"/>
<line x1="1311.5" y1="1047.8" x2="1320.5" y2="1047.8" stroke="#222" stroke-width="3"/>
<line x1="1311.5" y1="1027.3" x2="1328.5" y2="1027.3" stroke="#222" stroke-width="3"/>
<line x1="1311.5" y1="1006.8" x2="1320.5" y2="1006.8" stroke="#222" stroke-width="3"/>
<line x1="1311.5" y1="986.2" x2="1320.5" y2="986.2" stroke="#222" stroke-width="3"/>
<line x1="1311.5" y1="965.7" x2="1320.5" y2="965.7" stroke="#222" stroke-width="3"/>
<line x1="1311.5" y1="945.1" x2="1320.5" y2="945.1" stroke="#222" stroke-width="3"/>
<line x1="1311.5" y1="924.6" x2="1328.5" y2="924.6" stroke="#222" stroke-width="3"/>
<line x1="1311.5" y1="904.1" x2="1320.5" y2="904.1" stroke="#222" stroke-width="3"/>
<line x1="295.8" y1="875.0" x2="295.8" y2="867.0" stroke="#222" stroke-width="3"/>
<line x1="321.9" y1="875.0" x2="321.9" y2="867.0" stroke="#222" stroke-width="3"/>
<line x1="348.0" y1="875.0" x2="348.0" y2="867.0" stroke="#222" stroke-width="3"/>
<line x1="374.1" y1="875.0" x2="374.1" y2="867.0" stroke="#222" stroke-width="3"/>
<line x1="400.2" y1="875.0" x2="400.2" y2="860.0" stroke="#222" stroke-width="3"/>
<line x1="426.3" y1="875.0" x2="426.3" y2="867.0" stroke="#222" stroke-width="3"/>
<line x1="452.4" y1="875.0" x2="452.4" y2="867.0" stroke="#222" stroke-width="3"/>
<line x1="478.5" y1="875.0" x2="478.5" y2="867.0" stroke="#222" stroke-width="3"/>
<line x1="504.6" y1="875.0" x2="504.6" y2="867.0" stroke="#222" stroke-width="3"/>
<line x1="530.7" y1="875.0" x2="530.7" y2="860.0" stroke="#222" stroke-width="3"/>
<line x1="556.8" y1="875.0" x2="556.8" y2="867.0" stroke="#222" stroke-width="3"/>
<line x1="582.9" y1="875.0" x2="582.9" y2="867.0" stroke="#222" stroke-width="3"/>
<line x1="609.0" y1="875.0" x2="609.0" y2="867.0" stroke="#222" stroke-width="3"/>
<line x1="635.1" y1="875.0" x2="635.1" y2="867.0" stroke="#222" stroke-width="3"/>
<line x1="661.2" y1="875.0" x2="661.2" y2="860.0" stroke="#222" stroke-width="3"/>
<line x1="687.3" y1="875.0" x2="687.3" y2="867.0" stroke="#222" stroke-width="3"/>
<line x1="713.4" y1="875.0" x2="713.4" y2="867.0" stroke="#222" stroke-width="3"/>
<line x1="739.5" y1="875.0" x2="739.5" y2="867.0" stroke="#222" stroke-width="3"/>
<line x1="765.6" y1="875.0" x2="765.6" y2="867.0" stroke="#222" stroke-width="3"/>
<line x1="791.7" y1="875.0" x2="791.7" y2="860.0" stroke="#222" stroke-width="3"/>
<line x1="817.8" y1="875.0" x2="817.8" y2="867.0" stroke="#222" stroke-width="3"/>
<line x1="843.9" y1="875.0" x2="843.9" y2="867.0" stroke="#222" stroke-width="3"/>
<line x1="870.0" y1="875.0" x2="870.0" y2="867.0" stroke="#222" stroke-width="3"/>
<line x1="896.1" y1="875.0" x2="896.1" y2="867.0" stroke="#222" stroke-width="3"/>
<line x1="922.2" y1="875.0" x2="922.2" y2="860.0" stroke="#222" stroke-width="3"/>
<line x1="948.3" y1="875.0" x2="948.3" y2="867.0" stroke="#222" stroke-width="3"/>
<line x1="974.4" y1="875.0" x2="974.4" y2="867.0" stroke="#222" stroke-width="3"/>
<line x1="1000.5" y1="875.0" x2="1000.5" y2="867.0" stroke="#222" stroke-width="3"/>
<line x1="1026.6" y1="875.0" x2="1026.6" y2="867.0" stroke="#222" stroke-width="3"/>
<line x1="1052.7" y1="875.0" x2="1052.7" y2="860.0" stroke="#222" stroke-width="3"/>
<line x1="1078.8" y1="875.0" x2="1078.8" y2="867.0" stroke="#222" stroke-width="3"/>
<line x1="1104.9" y1="875.0" x2="1104.9" y2="867.0" stroke="#222" stroke-width="3"/>
<line x1="1131.0" y1="875.0" x2="1131.0" y2="867.0" stroke="#222" stroke-width="3"/>
<line x1="1157.1" y1="875.0" x2="1157.1" y2="867.0" stroke="#222" stroke-width="3"/>
<line x1="1183.2" y1="875.0" x2="1183.2" y2="860.0" stroke="#222" stroke-width="3"/>
<line x1="1209.3" y1="875.0" x2="1209.3" y2="867.0" stroke="#222" stroke-width="3"/>
<line x1="1235.4" y1="875.0" x2="1235.4" y2="867.0" stroke="#222" stroke-width="3"/>
<line x1="1261.5" y1="875.0" x2="1261.5" y2="867.0" stroke="#222" stroke-width="3"/>
<line x1="1287.6" y1="875.0" x2="1287.6" y2="867.0" stroke="#222" stroke-width="3"/>
<line x1="1337.5" y1="877.0" x2="1337.5" y2="869.0" stroke="#222" stroke-width="3"/>
<line x1="1363.5" y1="877.0" x2="1363.5" y2="869.0" stroke="#222" stroke-width="3"/>
<line x1="1389.5" y1="877.0" x2="1389.5" y2="869.0" stroke="#222" stroke-width="3"/>
<line x1="1415.5" y1="877.0" x2="1415.5" y2="869.0" stroke="#222" stroke-width="3"/>
<line x1="1441.5" y1="877.0" x2="1441.5" y2="862.0" stroke="#222" stroke-width="3"/>
<line x1="1467.5" y1="877.0" x2="1467.5" y2="869.0" stroke="#222" stroke-width="3"/>
<line x1="1493.5" y1="877.0" x2="1493.5" y2="869.0" stroke="#222" stroke-width="3"/>
<line x1="1519.5" y1="877.0" x2="1519.5" y2="869.0" stroke="#222" stroke-width="3"/>
<line x1="1545.5" y1="877.0" x2="1545.5" y2="869.0" stroke="#222" stroke-width="3"/>
<line x1="1571.5" y1="877.0" x2="1571.5" y2="862.0" stroke="#222" stroke-width="3"/>
<line x1="1597.5" y1="877.0" x2="1597.5" y2="869.0" stroke="#222" stroke-width="3"/>
<line x1="1623.5" y1="877.0" x2="1623.5" y2="869.0" stroke="#222" stroke-width="3"/>
<line x1="1649.5" y1="877.0" x2="1649.5" y2="869.0" stroke="#222" stroke-width="3"/>
<line x1="1675.5" y1="877.0" x2="1675.5" y2="869.0" stroke="#222" stroke-width="3"/>
<line x1="1701.5" y1="877.0" x2="1701.5" y2="862.0" stroke="#222" stroke-width="3"/>
<line x1="1727.5" y1="877.0" x2="1727.5" y2="869.0" stroke="#222" stroke-width="3"/>
<line x1="1753.5" y1="877.0" x2="1753.5" y2="869.0" stroke="#222" stroke-width="3"/>
<line x1="1779.5" y1="877.0" x2="1779.5" y2="869.0" stroke="#222" stroke-width="3"/>
<line x1="1805.5" y1="877.0" x2="1805.5" y2="869.0" stroke="#222" stroke-width="3"/>
<line x1="1831.5" y1="877.0" x2="1831.5" y2="862.0" stroke="#222" stroke-width="3"/>
<line x1="1857.5" y1="877.0" x2="1857.5" y2="869.0" stroke="#222" stroke-width="3"/>
<line x1="1883.5" y1="877.0" x2="1883.5" y2="869.0" stroke="#222" stroke-width="3"/>
<line x1="1909.5" y1="877.0" x2="1909.5" y2="869.0" stroke="#222" stroke-width="3"/>
<line x1="1935.5" y1="877.0" x2="1935.5" y2="869.0" stroke="#222" stroke-width="3"/>
<line x1="1961.5" y1="877.0" x2="1961.5" y2="862.0" stroke="#222" stroke-width="3"/>
<line x1="1987.5" y1="877.0" x2="1987.5" y2="869.0" stroke="#222" stroke-width="3"/>
<line x1="2013.5" y1="877.0" x2="2013.5" y2="869.0" stroke="#222" stroke-width="3"/>
<line x1="2039.5" y1="877.0" x2="2039.5" y2="869.0" stroke="#222" stroke-width="3"/>
<line x1="2065.5" y1="877.0" x2="2065.5" y2="869.0" stroke="#222" stroke-width="3"/>
<line x1="2091.5" y1="877.0" x2="2091.5" y2="862.0" stroke="#222" stroke-width="3"/>
<line x1="2117.5" y1="877.0" x2="2117.5" y2="869.0" stroke="#222" stroke-width="3"/>
<line x1="2143.5" y1="877.0" x2="2143.5" y2="869.0" stroke="#222" stroke-width="3"/>
<line x1="2169.5" y1="877.0" x2="2169.5" y2="869.0" stroke="#222" stroke-width="3"/>
<line x1="2195.5" y1="877.0" x2="2195.5" y2="869.0" stroke="#222" stroke-width="3"/>
<line x1="2221.5" y1="877.0" x2="2221.5" y2="862.0" stroke="#222" stroke-width="3"/>
<line x1="2247.5" y1="877.0" x2="2247.5" y2="869.0" stroke="#222" stroke-width="3"/>
<line x1="2273.5" y1="877.0" x2="2273.5" y2="869.0" stroke="#222" stroke-width="3"/>
<line x1="2299.5" y1="877.0" x2="2299.5" y2="869.0" stroke="#222" stroke-width="3"/>
<line x1="2325.5" y1="877.0" x2="2325.5" y2="869.0" stroke="#222" stroke-width="3"/>
<line x1="278.4" y1="1642.5" x2="278.4" y2="1627.5" stroke="#222" stroke-width="3"/>
<line x1="304.5" y1="1642.5" x2="304.5" y2="1634.5" stroke="#222" stroke-width="3"/>
<line x1="330.6" y1="1642.5" x2="330.6" y2="1634.5" stroke="#222" stroke-width="3"/>
<line x1="356.7" y1="1642.5" x2="356.7" y2="1634.5" stroke="#222" stroke-width="3"/>
<line x1="382.8" y1="1642.5" x2="382.8" y2="1634.5" stroke="#222" stroke-width="3"/>
<line x1="408.9" y1="1642.5" x2="408.9" y2="1627.5" stroke="#222" stroke-width="3"/>
<line x1="435.0" y1="1642.5" x2="435.0" y2="1634.5" stroke="#222" stroke-width="3"/>
<line x1="461.1" y1="1642.5" x2="461.1" y2="1634.5" stroke="#222" stroke-width="3"/>
<line x1="487.2" y1="1642.5" x2="487.2" y2="1634.5" stroke="#222" stroke-width="3"/>
<line x1="513.3" y1="1642.5" x2="513.3" y2="1634.5" stroke="#222" stroke-width="3"/>
<line x1="539.4" y1="1642.5" x2="539.4" y2="1627.5" stroke="#222" stroke-width="3"/>
<line x1="565.5" y1="1642.5" x2="565.5" y2="1634.5" stroke="#222" stroke-width="3"/>
<line x1="591.6" y1="1642.5" x2="591.6" y2="1634.5" stroke="#222" stroke-width="3"/>
<line x1="617.7" y1="1642.5" x2="617.7" y2="1634.5" stroke="#222" stroke-width="3"/>
<line x1="643.8" y1="1642.5" x2="643.8" y2="1634.5" stroke="#222" stroke-width="3"/>
<line x1="669.9" y1="1642.5" x2="669.9" y2="1627.5" stroke="#222" stroke-width="3"/>
<line x1="696.0" y1="1642.5" x2="696.0" y2="1634.5" stroke="#222" stroke-width="3"/>
<line x1="722.1" y1="1642.5" x2="722.1" y2="1634.5" stroke="#222" stroke-width="3"/>
<line x1="748.2" y1="1642.5" x2="748.2" y2="1634.5" stroke="#222" stroke-width="3"/>
<line x1="774.3" y1="1642.5" x2="774.3" y2="1634.5" stroke="#222" stroke-width="3"/>
<line x1="800.4" y1="1642.5" x2="800.4" y2="1627.5" stroke="#222" stroke-width="3"/>
<line x1="826.5" y1="1642.5" x2="826.5" y2="1634.5" stroke="#222" stroke-width="3"/>
<line x1="852.6" y1="1642.5" x2="852.6" y2="1634.5" stroke="#222" stroke-width="3"/>
<line x1="878.7" y1="1642.5" x2="878.7" y2="1634.5" stroke="#222" stroke-width="3"/>
<line x1="904.8" y1="1642.5" x2="904.8" y2="1634.5" stroke="#222" stroke-width="3"/>
<line x1="930.9" y1="1642.5" x2="930.9" y2="1627.5" stroke="#222" stroke-width="3"/>
<line x1="957.0" y1="1642.5" x2="957.0" y2="1634.5" stroke="#222" stroke-width="3"/>
<line x1="983.1" y1="1642.5" x2="983.1" y2="1634.5" stroke="#222" stroke-width="3"/>
<line x1="1009.2" y1="1642.5" x2="1009.2" y2="1634.5" stroke="#222" stroke-width="3"/>
<line x1="1035.3" y1="1642.5" x2="1035.3" y2="1634.5" stroke="#222" stroke-width="3"/>
<line x1="1061.4" y1="1642.5" x2="1061.4" y2="1627.5" stroke="#222" stroke-width="3"/>
<line x1="1087.5" y1="1642.5" x2="1087.5" y2="1634.5" stroke="#222" stroke-width="3"/>
<line x1="1113.6" y1="1642.5" x2="1113.6" y2="1634.5" stroke="#222" stroke-width="3"/>
<line x1="1139.7" y1="1642.5" x2="1139.7" y2="1634.5" stroke="#222" stroke-width="3"/>
<line x1="1165.8" y1="1642.5" x2="1165.8" y2="1634.5" stroke="#222" stroke-width="3"/>
<line x1="1191.9" y1="1642.5" x2="1191.9" y2="1627.5" stroke="#222" stroke-width="3"/>
<line x1="1218.0" y1="1642.5" x2="1218.0" y2="1634.5" stroke="#222" stroke-width="3"/>
<line x1="1244.1" y1="1642.5" x2="1244.1" y2="1634.5" stroke="#222" stroke-width="3"/>
<line x1="1270.2" y1="1642.5" x2="1270.2" y2="1634.5" stroke="#222" stroke-width="3"/>
<line x1="1296.3" y1="1642.5" x2="1296.3" y2="1634.5" stroke="#222" stroke-width="3"/>
<line x1="1337.5" y1="1642.5" x2="1337.5" y2="1634.5" stroke="#222" stroke-width="3"/>
<line x1="1363.5" y1="1642.5" x2="1363.5" y2="1634.5" stroke="#222" stroke-width="3"/>
<line x1="1389.5" y1="1642.5" x2="1389.5" y2="1634.5" stroke="#222" stroke-width="3"/>
<line x1="1415.5" y1="1642.5" x2="1415.5" y2="1634.5" stroke="#222" stroke-width="3"/>
<line x1="1441.5" y1="1642.5" x2="1441.5" y2="1627.5" stroke="#222" stroke-width="3"/>
<line x1="1467.5" y1="1642.5" x2="1467.5" y2="1634.5" stroke="#222" stroke-width="3"/>
<line x1="1493.5" y1="1642.5" x2="1493.5" y2="1634.5" stroke="#222" stroke-width="3"/>
<line x1="1519.5" y1="1642.5" x2="1519.5" y2="1634.5" stroke="#222" stroke-width="3"/>
<line x1="1545.5" y1="1642.5" x2="1545.5" y2="1634.5" stroke="#222" stroke-width="3"/>
<line x1="1571.5" y1="1642.5" x2="1571.5" y2="1627.5" stroke="#222" stroke-width="3"/>
<line x1="1597.5" y1="1642.5" x2="1597.5" y2="1634.5" stroke="#222" stroke-width="3"/>
<line x1="1623.5" y1="1642.5" x2="1623.5" y2="1634.5" stroke="#222" stroke-width="3"/>
<line x1="1649.5" y1="1642.5" x2="1649.5" y2="1634.5" stroke="#222" stroke-width="3"/>
<line x1="1675.5" y1="1642.5" x2="1675.5" y2="1634.5" stroke="#222" stroke-width="3"/>
<line x1="1701.5" y1="1642.5" x2="1701.5" y2="1627.5" stroke="#222" stroke-width="3"/>
<line x1="1727.5" y1="1642.5" x2="1727.5" y2="1634.5" stroke="#222" stroke-width="3"/>
<line x1="1753.5" y1="1642.5" x2="1753.5" y2="1634.5" stroke="#222" stroke-width="3"/>
<line x1="1779.5" y1="1642.5" x2="1779.5" y2="1634.5" stroke="#222" stroke-width="3"/>
<line x1="1805.5" y1="1642.5" x2="1805.5" y2="1634.5" stroke="#222" stroke-width="3"/>
<line x1="1831.5" y1="1642.5" x2="1831.5" y2="1627.5" stroke="#222" stroke-width="3"/>
<line x1="1857.5" y1="1642.5" x2="1857.5" y2="1634.5" stroke="#222" stroke-width="3"/>
<line x1="1883.5" y1="1642.5" x2="1883.5" y2="1634.5" stroke="#222" stroke-width="3"/>
<line x1="1909.5" y1="1642.5" x2="1909.5" y2="1634.5" stroke="#222" stroke-width="3"/>
<line x1="1935.5" y1="1642.5" x2="1935.5" y2="1634.5" stroke="#222" stroke-width="3"/>
<line x1="1961.5" y1="1642.5" x2="1961.5" y2="1627.5" stroke="#222" stroke-width="3"/>
<line x1="1987.5" y1="1642.5" x2="1987.5" y2="1634.5" stroke="#222" stroke-width="3"/>
<line x1="2013.5" y1="1642.5" x2="2013.5" y2="1634.5" stroke="#222" stroke-width="3"/>
<line x1="2039.5" y1="1642.5" x2="2039.5" y2="1634.5" stroke="#222" stroke-width="3"/>
<line x1="2065.5" y1="1642.5" x2="2065.5" y2="1634.5" stroke="#222" stroke-width="3"/>
<line x1="2091.5" y1="1642.5" x2="2091.5" y2="1627.5" stroke="#222" stroke-width="3"/>
<line x1="2117.5" y1="1642.5" x2="2117.5" y2="1634.5" stroke="#222" stroke-width="3"/>
<line x1="2143.5" y1="1642.5" x2="2143.5" y2="1634.5" stroke="#222" stroke-width="3"/>
<line x1="2169.5" y1="1642.5" x2="2169.5" y2="1634.5" stroke="#222" stroke-width="3"/>
<line x1="2195.5" y1="1642.5" x2="2195.5" y2="1634.5" stroke="#222" stroke-width="3"/>
<line x1="2221.5" y1="1642.5" x2="2221.5" y2="1627.5" stroke="#222" stroke-width="3"/>
<line x1="2247.5" y1="1642.5" x2="2247.5" y2="1634.5" stroke="#222" stroke-width="3"/>
<line x1="2273.5" y1="1642.5" x2="2273.5" y2="1634.5" stroke="#222" stroke-width="3"/>
<line x1="2299.5" y1="1642.5" x2="2299.5" y2="1634.5" stroke="#222" stroke-width="3"/>
<line x1="2325.5" y1="1642.5" x2="2325.5" y2="1634.5" stroke="#222" stroke-width="3"/>
<line x1="2351.5" y1="1642.5" x2="2351.5" y2="1627.5" stroke="#222" stroke-width="3"/>
<line x1="263.5" y1="2583.0" x2="280.5" y2="2583.0" stroke="#222" stroke-width="3"/>
<line x1="263.5" y1="2561.8" x2="272.5" y2="2561.8" stroke="#222" stroke-width="3"/>
<line x1="263.5" y1="2540.6" x2="272.5" y2="2540.6" stroke="#222" stroke-width="3"/>
<line x1="263.5" y1="2519.4" x2="272.5" y2="2519.4" stroke="#222" stroke-width="3"/>
<line x1="263.5" y1="2498.2" x2="272.5" y2="2498.2" stroke="#222" stroke-width="3"/>
<line x1="263.5" y1="2477.0" x2="280.5" y2="2477.0" stroke="#222" stroke-width="3"/>
<line x1="263.5" y1="2455.8" x2="272.5" y2="2455.8" stroke="#222" stroke-width="3"/>
<line x1="263.5" y1="2434.6" x2="272.5" y2="2434.6" stroke="#222" stroke-width="3"/>
<line x1="263.5" y1="2413.4" x2="272.5" y2="2413.4" stroke="#222" stroke-width="3"/>
<line x1="263.5" y1="2392.2" x2="272.5" y2="2392.2" stroke="#222" stroke-width="3"/>
<line x1="263.5" y1="2371.0" x2="280.5" y2="2371.0" stroke="#222" stroke-width="3"/>
<line x1="263.5" y1="2349.8" x2="272.5" y2="2349.8" stroke="#222" stroke-width="3"/>
<line x1="263.5" y1="2328.6" x2="272.5" y2="2328.6" stroke="#222" stroke-width="3"/>
<line x1="263.5" y1="2307.4" x2="272.5" y2="2307.4" stroke="#222" stroke-width="3"/>
<line x1="263.5" y1="2286.2" x2="272.5" y2="2286.2" stroke="#222" stroke-width="3"/>
<line x1="263.5" y1="2265.0" x2="280.5" y2="2265.0" stroke="#222" stroke-width="3"/>
<line x1="263.5" y1="2243.8" x2="272.5" y2="2243.8" stroke="#222" stroke-width="3"/>
<line x1="263.5" y1="2222.6" x2="272.5" y2="2222.6" stroke="#222" stroke-width="3"/>
<line x1="263.5" y1="2201.4" x2="272.5" y2="2201.4" stroke="#222" stroke-width="3"/>
<line x1="263.5" y1="2180.2" x2="272.5" y2="2180.2" stroke="#222" stroke-width="3"/>
<line x1="263.5" y1="2159.0" x2="280.5" y2="2159.0" stroke="#222" stroke-width="3"/>
<line x1="263.5" y1="2137.8" x2="272.5" y2="2137.8" stroke="#222" stroke-width="3"/>
<line x1="263.5" y1="2116.6" x2="272.5" y2="2116.6" stroke="#222" stroke-width="3"/>
<line x1="263.5" y1="2095.4" x2="272.5" y2="2095.4" stroke="#222" stroke-width="3"/>
<line x1="263.5" y1="2074.2" x2="272.5" y2="2074.2" stroke="#222" stroke-width="3"/>
<line x1="263.5" y1="2053.0" x2="280.5" y2="2053.0" stroke="#222" stroke-width="3"/>
<line x1="263.5" y1="2031.8" x2="272.5" y2="2031.8" stroke="#222" stroke-width="3"/>
<line x1="263.5" y1="2010.6" x2="272.5" y2="2010.6" stroke="#222" stroke-width="3"/>
<line x1="263.5" y1="1989.4" x2="272.5" y2="1989.4" stroke="#222" stroke-width="3"/>
<line x1="263.5" y1="1968.2" x2="272.5" y2="1968.2" stroke="#222" stroke-width="3"/>
<line x1="263.5" y1="1947.0" x2="280.5" y2="1947.0" stroke="#222" stroke-width="3"/>
<line x1="263.5" y1="1925.8" x2="272.5" y2="1925.8" stroke="#222" stroke-width="3"/>
<line x1="263.5" y1="1904.6" x2="272.5" y2="1904.6" stroke="#222" stroke-width="3"/>
<line x1="263.5" y1="1883.4" x2="272.5" y2="1883.4" stroke="#222" stroke-width="3"/>
<line x1="263.5" y1="1862.2" x2="272.5" y2="1862.2" stroke="#222" stroke-width="3"/>
<line x1="263.5" y1="1841.0" x2="280.5" y2="1841.0" stroke="#222" stroke-width="3"/>
<line x1="263.5" y1="1819.8" x2="272.5" y2="1819.8" stroke="#222" stroke-width="3"/>
<line x1="263.5" y1="3340.5" x2="280.5" y2="3340.5" stroke="#222" stroke-width="3"/>
<line x1="263.5" y1="3320.0" x2="272.5" y2="3320.0" stroke="#222" stroke-width="3"/>
<line x1="263.5" y1="3299.5" x2="272.5" y2="3299.5" stroke="#222" stroke-width="3"/>
<line x1="263.5" y1="3279.1" x2="272.5" y2="3279.1" stroke="#222" stroke-width="3"/>
<line x1="263.5" y1="3258.6" x2="272.5" y2="3258.6" stroke="#222" stroke-width="3"/>
<line x1="263.5" y1="3238.1" x2="280.5" y2="3238.1" stroke="#222" stroke-width="3"/>
<line x1="263.5" y1="3217.6" x2="272.5" y2="3217.6" stroke="#222" stroke-width="3"/>
<line x1="263.5" y1="3197.1" x2="272.5" y2="3197.1" stroke="#222" stroke-width="3"/>
<line x1="263.5" y1="3176.7" x2="272.5" y2="3176.7" stroke="#222" stroke-width="3"/>
<line x1="263.5" y1="3156.2" x2="272.5" y2="3156.2" stroke="#222" stroke-width="3"/>
<line x1="263.5" y1="3135.7" x2="280.5" y2="3135.7" stroke="#222" stroke-width="3"/>
<line x1="263.5" y1="3115.2" x2="272.5" y2="3115.2" stroke="#222" stroke-width="3"/>
<line x1="263.5" y1="3094.7" x2="272.5" y2="3094.7" stroke="#222" stroke-width="3"/>
<line x1="263.5" y1="3074.3" x2="272.5" y2="3074.3" stroke="#222" stroke-width="3"/>
<line x1="263.5" y1="3053.8" x2="272.5" y2="3053.8" stroke="#222" stroke-width="3"/>
<line x1="263.5" y1="3033.3" x2="280.5" y2="3033.3" stroke="#222" stroke-width="3"/>
<line x1="263.5" y1="3012.8" x2="272.5" y2="3012.8" stroke="#222" stroke-width="3"/>
<line x1="263.5" y1="2992.3" x2="272.5" y2="2992.3" stroke="#222" stroke-width="3"/>
<line x1="263.5" y1="2971.9" x2="272.5" y2="2971.9" stroke="#222" stroke-width="3"/>
<line x1="263.5" y1="2951.4" x2="272.5" y2="2951.4" stroke="#222" stroke-width="3"/>
<line x1="263.5" y1="2930.9" x2="280.5" y2="2930.9" stroke="#222" stroke-width="3"/>
<line x1="263.5" y1="2910.4" x2="272.5" y2="2910.4" stroke="#222" stroke-width="3"/>
<line x1="263.5" y1="2889.9" x2="272.5" y2="2889.9" stroke="#222" stroke-width="3"/>
<line x1="263.5" y1="2869.5" x2="272.5" y2="2869.5" stroke="#222" stroke-width="3"/>
<line x1="263.5" y1="2849.0" x2="272.5" y2="2849.0" stroke="#222" stroke-width="3"/>
<line x1="263.5" y1="2828.5" x2="280.5" y2="2828.5" stroke="#222" stroke-width="3"/>
<line x1="263.5" y1="2808.0" x2="272.5" y2="2808.0" stroke="#222" stroke-width="3"/>
<line x1="263.5" y1="2787.5" x2="272.5" y2="2787.5" stroke="#222" stroke-width="3"/>
<line x1="263.5" y1="2767.1" x2="272.5" y2="2767.1" stroke="#222" stroke-width="3"/>
<line x1="263.5" y1="2746.6" x2="272.5" y2="2746.6" stroke="#222" stroke-width="3"/>
<line x1="263.5" y1="2726.1" x2="280.5" y2="2726.1" stroke="#222" stroke-width="3"/>
<line x1="263.5" y1="2705.6" x2="272.5" y2="2705.6" stroke="#222" stroke-width="3"/>
<line x1="263.5" y1="2685.1" x2="272.5" y2="2685.1" stroke="#222" stroke-width="3"/>
<line x1="263.5" y1="2664.7" x2="272.5" y2="2664.7" stroke="#222" stroke-width="3"/>
<line x1="263.5" y1="2644.2" x2="272.5" y2="2644.2" stroke="#222" stroke-width="3"/>
<line x1="263.5" y1="2623.7" x2="280.5" y2="2623.7" stroke="#222" stroke-width="3"/>
<line x1="263.5" y1="2603.2" x2="272.5" y2="2603.2" stroke="#222" stroke-width="3"/>
<line x1="1333.5" y1="2576.0" x2="1350.5" y2="2576.0" stroke="#222" stroke-width="3"/>
<line x1="1333.5" y1="2555.0" x2="1342.5" y2="2555.0" stroke="#222" stroke-width="3"/>
<line x1="1333.5" y1="2534.0" x2="1342.5" y2="2534.0" stroke="#222" stroke-width="3"/>
<line x1="1333.5" y1="2513.0" x2="1342.5" y2="2513.0" stroke="#222" stroke-width="3"/>
<line x1="1333.5" y1="2492.0" x2="1342.5" y2="2492.0" stroke="#222" stroke-width="3"/>
<line x1="1333.5" y1="2471.0" x2="1350.5" y2="2471.0" stroke="#222" stroke-width="3"/>
<line x1="1333.5" y1="2450.0" x2="1342.5" y2="2450.0" stroke="#222" stroke-width="3"/>
<line x1="1333.5" y1="2429.0" x2="1342.5" y2="2429.0" stroke="#222" stroke-width="3"/>
<line x1="1333.5" y1="2408.0" x2="1342.5" y2="2408.0" stroke="#222" stroke-width="3"/>
<line x1="1333.5" y1="2387.0" x2="1342.5" y2="2387.0" stroke="#222" stroke-width="3"/>
<line x1="1333.5" y1="2366.0" x2="1350.5" y2="2366.0" stroke="#222" stroke-width="3"/>
<line x1="1333.5" y1="2345.0" x2="1342.5" y2="2345.0" stroke="#222" stroke-width="3"/>
<line x1="1333.5" y1="2324.0" x2="1342.5" y2="2324.0" stroke="#222" stroke-width="3"/>
<line x1="1333.5" y1="2303.0" x2="1342.5" y2="2303.0" stroke="#222" stroke-width="3"/>
<line x1="1333.5" y1="2282.0" x2="1342.5" y2="2282.0" stroke="#222" stroke-width="3"/>
<line x1="1333.5" y1="2261.0" x2="1350.5" y2="2261.0" stroke="#222" stroke-width="3"/>
<line x1="1333.5" y1="2240.0" x2="1342.5" y2="2240.0" stroke="#222" stroke-width="3"/>
<line x1="1333.5" y1="2219.0" x2="1342.5" y2="2219.0" stroke="#222" stroke-width="3"/>
<line x1="1333.5" y1="2198.0" x2="1342.5" y2="2198.0" stroke="#222" stroke-width="3"/>
<line x1="1333.5" y1="2177.0" x2="1342.5" y2="2177.0" stroke="#222" stroke-width="3"/>
<line x1="1333.5" y1="2156.0" x2="1350.5" y2="2156.0" stroke="#222" stroke-width="3"/>
<line x1="1333.5" y1="2135.0" x2="1342.5" y2="2135.0" stroke="#222" stroke-width="3"/>
<line x1="1333.5" y1="2114.0" x2="1342.5" y2="2114.0" stroke="#222" stroke-width="3"/>
<line x1="1333.5" y1="2093.0" x2="1342.5" y2="2093.0" stroke="#222" stroke-width="3"/>
<line x1="1333.5" y1="2072.0" x2="1342.5" y2="2072.0" stroke="#222" stroke-width="3"/>
<line x1="1333.5" y1="2051.0" x2="1350.5" y2="2051.0" stroke="#222" stroke-width="3"/>
<line x1="1333.5" y1="2030.0" x2="1342.5" y2="2030.0" stroke="#222" stroke-width="3"/>
<line x1="1333.5" y1="2009.0" x2="1342.5" y2="2009.0" stroke="#222" stroke-width="3"/>
<line x1="1333.5" y1="1988.0" x2="1342.5" y2="1988.0" stroke="#222" stroke-width="3"/>
<line x1="1333.5" y1="1967.0" x2="1342.5" y2="1967.0" stroke="#222" stroke-width="3"/>
<line x1="1333.5" y1="1946.0" x2="1350.5" y2="1946.0" stroke="#222" stroke-width="3"/>
<line x1="1333.5" y1="1925.0" x2="1342.5" y2="1925.0" stroke="#222" stroke-width="3"/>
<line x1="1333.5" y1="1904.0" x2="1342.5" y2="1904.0" stroke="#222" stroke-width="3"/>
<line x1="1333.5" y1="1883.0" x2="1342.5" y2="1883.0" stroke="#222" stroke-width="3"/>
<line x1="1333.5" y1="1862.0" x2="1342.5" y2="1862.0" stroke="#222" stroke-width="3"/>
<line x1="1333.5" y1="1841.0" x2="1350.5" y2="1841.0" stroke="#222" stroke-width="3"/>
<line x1="1333.5" y1="1820.0" x2="1342.5" y2="1820.0" stroke="#222" stroke-width="3"/>
<line x1="1341.0" y1="3334.0" x2="1358.0" y2="3334.0" stroke="#222" stroke-width="3"/>
<line x1="1341.0" y1="3313.2" x2="1350.0" y2="3313.2" stroke="#222" stroke-width="3"/>
<line x1="1341.0" y1="3292.5" x2="1350.0" y2="3292.5" stroke="#222" stroke-width="3"/>
<line x1="1341.0" y1="3271.7" x2="1350.0" y2="3271.7" stroke="#222" stroke-width="3"/>
<line x1="1341.0" y1="3251.0" x2="1350.0" y2="3251.0" stroke="#222" stroke-width="3"/>
<line x1="1341.0" y1="3230.2" x2="1358.0" y2="3230.2" stroke="#222" stroke-width="3"/>
<line x1="1341.0" y1="3209.4" x2="1350.0" y2="3209.4" stroke="#222" stroke-width="3"/>
<line x1="1341.0" y1="3188.7" x2="1350.0" y2="3188.7" stroke="#222" stroke-width="3"/>
<line x1="1341.0" y1="3167.9" x2="1350.0" y2="3167.9" stroke="#222" stroke-width="3"/>
<line x1="1341.0" y1="3147.2" x2="1350.0" y2="3147.2" stroke="#222" stroke-width="3"/>
<line x1="1341.0" y1="3126.4" x2="1358.0" y2="3126.4" stroke="#222" stroke-width="3"/>
<line x1="1341.0" y1="3105.6" x2="1350.0" y2="3105.6" stroke="#222" stroke-width="3"/>
<line x1="1341.0" y1="3084.9" x2="1350.0" y2="3084.9" stroke="#222" stroke-width="3"/>
<line x1="1341.0" y1="3064.1" x2="1350.0" y2="3064.1" stroke="#222" stroke-width="3"/>
<line x1="1341.0" y1="3043.4" x2="1350.0" y2="3043.4" stroke="#222" stroke-width="3"/>
<line x1="1341.0" y1="3022.6" x2="1358.0" y2="3022.6" stroke="#222" stroke-width="3"/>
<line x1="1341.0" y1="3001.8" x2="1350.0" y2="3001.8" stroke="#222" stroke-width="3"/>
<line x1="1341.0" y1="2981.1" x2="1350.0" y2="2981.1" stroke="#222" stroke-width="3"/>
<line x1="1341.0" y1="2960.3" x2="1350.0" y2="2960.3" stroke="#222" stroke-width="3"/>
<line x1="1341.0" y1="2939.6" x2="1350.0" y2="2939.6" stroke="#222" stroke-width="3"/>
<line x1="1341.0" y1="2918.8" x2="1358.0" y2="2918.8" stroke="#222" stroke-width="3"/>
<line x1="1341.0" y1="2898.0" x2="1350.0" y2="2898.0" stroke="#222" stroke-width="3"/>
<line x1="1341.0" y1="2877.3" x2="1350.0" y2="2877.3" stroke="#222" stroke-width="3"/>
<line x1="1341.0" y1="2856.5" x2="1350.0" y2="2856.5" stroke="#222" stroke-width="3"/>
<line x1="1341.0" y1="2835.8" x2="1350.0" y2="2835.8" stroke="#222" stroke-width="3"/>
<line x1="1341.0" y1="2815.0" x2="1358.0" y2="2815.0" stroke="#222" stroke-width="3"/>
<line x1="1341.0" y1="2794.2" x2="1350.0" y2="2794.2" stroke="#222" stroke-width="3"/>
<line x1="1341.0" y1="2773.5" x2="1350.0" y2="2773.5" stroke="#222" stroke-width="3"/>
<line x1="1341.0" y1="2752.7" x2="1350.0" y2="2752.7" stroke="#222" stroke-width="3"/>
<line x1="1341.0" y1="2732.0" x2="1350.0" y2="2732.0" stroke="#222" stroke-width="3"/>
<line x1="1341.0" y1="2711.2" x2="1358.0" y2="2711.2" stroke="#222" stroke-width="3"/>
<line x1="1341.0" y1="2690.4" x2="1350.0" y2="2690.4" stroke="#222" stroke-width="3"/>
<line x1="1341.0" y1="2669.7" x2="1350.0" y2="2669.7" stroke="#222" stroke-width="3"/>
<line x1="1341.0" y1="2648.9" x2="1350.0" y2="2648.9" stroke="#222" stroke-width="3"/>
<line x1="1341.0" y1="2628.2" x2="1350.0" y2="2628.2" stroke="#222" stroke-width="3"/>
<line x1="1341.0" y1="2607.4" x2="1358.0" y2="2607.4" stroke="#222" stroke-width="3"/>
<line x1="290.6" y1="2583.5" x2="290.6" y2="2575.5" stroke="#222" stroke-width="3"/>
<line x1="317.7" y1="2583.5" x2="317.7" y2="2575.5" stroke="#222" stroke-width="3"/>
<line x1="344.8" y1="2583.5" x2="344.8" y2="2575.5" stroke="#222" stroke-width="3"/>
<line x1="371.9" y1="2583.5" x2="371.9" y2="2575.5" stroke="#222" stroke-width="3"/>
<line x1="399.0" y1="2583.5" x2="399.0" y2="2568.5" stroke="#222" stroke-width="3"/>
<line x1="426.2" y1="2583.5" x2="426.2" y2="2575.5" stroke="#222" stroke-width="3"/>
<line x1="453.3" y1="2583.5" x2="453.3" y2="2575.5" stroke="#222" stroke-width="3"/>
<line x1="480.4" y1="2583.5" x2="480.4" y2="2575.5" stroke="#222" stroke-width="3"/>
<line x1="507.5" y1="2583.5" x2="507.5" y2="2575.5" stroke="#222" stroke-width="3"/>
<line x1="534.6" y1="2583.5" x2="534.6" y2="2568.5" stroke="#222" stroke-width="3"/>
<line x1="561.7" y1="2583.5" x2="561.7" y2="2575.5" stroke="#222" stroke-width="3"/>
<line x1="588.8" y1="2583.5" x2="588.8" y2="2575.5" stroke="#222" stroke-width="3"/>
<line x1="615.9" y1="2583.5" x2="615.9" y2="2575.5" stroke="#222" stroke-width="3"/>
<line x1="643.0" y1="2583.5" x2="643.0" y2="2575.5" stroke="#222" stroke-width="3"/>
<line x1="670.1" y1="2583.5" x2="670.1" y2="2568.5" stroke="#222" stroke-width="3"/>
<line x1="697.3" y1="2583.5" x2="697.3" y2="2575.5" stroke="#222" stroke-width="3"/>
<line x1="724.4" y1="2583.5" x2="724.4" y2="2575.5" stroke="#222" stroke-width="3"/>
<line x1="751.5" y1="2583.5" x2="751.5" y2="2575.5" stroke="#222" stroke-width="3"/>
<line x1="778.6" y1="2583.5" x2="778.6" y2="2575.5" stroke="#222" stroke-width="3"/>
<line x1="805.7" y1="2583.5" x2="805.7" y2="2568.5" stroke="#222" stroke-width="3"/>
<line x1="832.8" y1="2583.5" x2="832.8" y2="2575.5" stroke="#222" stroke-width="3"/>
<line x1="859.9" y1="2583.5" x2="859.9" y2="2575.5" stroke="#222" stroke-width="3"/>
<line x1="887.0" y1="2583.5" x2="887.0" y2="2575.5" stroke="#222" stroke-width="3"/>
<line x1="914.1" y1="2583.5" x2="914.1" y2="2575.5" stroke="#222" stroke-width="3"/>
<line x1="941.2" y1="2583.5" x2="941.2" y2="2568.5" stroke="#222" stroke-width="3"/>
<line x1="968.4" y1="2583.5" x2="968.4" y2="2575.5" stroke="#222" stroke-width="3"/>
<line x1="995.5" y1="2583.5" x2="995.5" y2="2575.5" stroke="#222" stroke-width="3"/>
<line x1="1022.6" y1="2583.5" x2="1022.6" y2="2575.5" stroke="#222" stroke-width="3"/>
<line x1="1049.7" y1="2583.5" x2="1049.7" y2="2575.5" stroke="#222" stroke-width="3"/>
<line x1="1076.8" y1="2583.5" x2="1076.8" y2="2568.5" stroke="#222" stroke-width="3"/>
<line x1="1103.9" y1="2583.5" x2="1103.9" y2="2575.5" stroke="#222" stroke-width="3"/>
<line x1="1131.0" y1="2583.5" x2="1131.0" y2="2575.5" stroke="#222" stroke-width="3"/>
<line x1="1158.1" y1="2583.5" x2="1158.1" y2="2575.5" stroke="#222" stroke-width="3"/>
<line x1="1185.2" y1="2583.5" x2="1185.2" y2="2575.5" stroke="#222" stroke-width="3"/>
<line x1="1212.3" y1="2583.5" x2="1212.3" y2="2568.5" stroke="#222" stroke-width="3"/>
<line x1="1239.5" y1="2583.5" x2="1239.5" y2="2575.5" stroke="#222" stroke-width="3"/>
<line x1="1266.6" y1="2583.5" x2="1266.6" y2="2575.5" stroke="#222" stroke-width="3"/>
<line x1="1293.7" y1="2583.5" x2="1293.7" y2="2575.5" stroke="#222" stroke-width="3"/>
<line x1="1320.8" y1="2583.5" x2="1320.8" y2="2575.5" stroke="#222" stroke-width="3"/>
<line x1="1359.8" y1="2585.5" x2="1359.8" y2="2577.5" stroke="#222" stroke-width="3"/>
<line x1="1385.7" y1="2585.5" x2="1385.7" y2="2577.5" stroke="#222" stroke-width="3"/>
<line x1="1411.5" y1="2585.5" x2="1411.5" y2="2577.5" stroke="#222" stroke-width="3"/>
<line x1="1437.4" y1="2585.5" x2="1437.4" y2="2577.5" stroke="#222" stroke-width="3"/>
<line x1="1463.2" y1="2585.5" x2="1463.2" y2="2570.5" stroke="#222" stroke-width="3"/>
<line x1="1489.1" y1="2585.5" x2="1489.1" y2="2577.5" stroke="#222" stroke-width="3"/>
<line x1="1515.0" y1="2585.5" x2="1515.0" y2="2577.5" stroke="#222" stroke-width="3"/>
<line x1="1540.8" y1="2585.5" x2="1540.8" y2="2577.5" stroke="#222" stroke-width="3"/>
<line x1="1566.7" y1="2585.5" x2="1566.7" y2="2577.5" stroke="#222" stroke-width="3"/>
<line x1="1592.5" y1="2585.5" x2="1592.5" y2="2570.5" stroke="#222" stroke-width="3"/>
<line x1="1618.3" y1="2585.5" x2="1618.3" y2="2577.5" stroke="#222" stroke-width="3"/>
<line x1="1644.2" y1="2585.5" x2="1644.2" y2="2577.5" stroke="#222" stroke-width="3"/>
<line x1="1670.0" y1="2585.5" x2="1670.0" y2="2577.5" stroke="#222" stroke-width="3"/>
<line x1="1695.9" y1="2585.5" x2="1695.9" y2="2577.5" stroke="#222" stroke-width="3"/>
<line x1="1721.8" y1="2585.5" x2="1721.8" y2="2570.5" stroke="#222" stroke-width="3"/>
<line x1="1747.6" y1="2585.5" x2="1747.6" y2="2577.5" stroke="#222" stroke-width="3"/>
<line x1="1773.5" y1="2585.5" x2="1773.5" y2="2577.5" stroke="#222" stroke-width="3"/>
<line x1="1799.3" y1="2585.5" x2="1799.3" y2="2577.5" stroke="#222" stroke-width="3"/>
<line x1="1825.2" y1="2585.5" x2="1825.2" y2="2577.5" stroke="#222" stroke-width="3"/>
<line x1="1851.0" y1="2585.5" x2="1851.0" y2="2570.5" stroke="#222" stroke-width="3"/>
<line x1="1876.8" y1="2585.5" x2="1876.8" y2="2577.5" stroke="#222" stroke-width="3"/>
<line x1="1902.7" y1="2585.5" x2="1902.7" y2="2577.5" stroke="#222" stroke-width="3"/>
<line x1="1928.5" y1="2585.5" x2="1928.5" y2="2577.5" stroke="#222" stroke-width="3"/>
<line x1="1954.4" y1="2585.5" x2="1954.4" y2="2577.5" stroke="#222" stroke-width="3"/>
<line x1="1980.2" y1="2585.5" x2="1980.2" y2="2570.5" stroke="#222" stroke-width="3"/>
<line x1="2006.1" y1="2585.5" x2="2006.1" y2="2577.5" stroke="#222" stroke-width="3"/>
<line x1="2032.0" y1="2585.5" x2="2032.0" y2="2577.5" stroke="#222" stroke-width="3"/>
<line x1="2057.8" y1="2585.5" x2="2057.8" y2="2577.5" stroke="#222" stroke-width="3"/>
<line x1="2083.7" y1="2585.5" x2="2083.7" y2="2577.5" stroke="#222" stroke-width="3"/>
<line x1="2109.5" y1="2585.5" x2="2109.5" y2="2570.5" stroke="#222" stroke-width="3"/>
<line x1="2135.3" y1="2585.5" x2="2135.3" y2="2577.5" stroke="#222" stroke-width="3"/>
<line x1="2161.2" y1="2585.5" x2="2161.2" y2="2577.5" stroke="#222" stroke-width="3"/>
<line x1="2187.1" y1="2585.5" x2="2187.1" y2="2577.5" stroke="#222" stroke-width="3"/>
<line x1="2212.9" y1="2585.5" x2="2212.9" y2="2577.5" stroke="#222" stroke-width="3"/>
<line x1="2238.8" y1="2585.5" x2="2238.8" y2="2570.5" stroke="#222" stroke-width="3"/>
<line x1="2264.6" y1="2585.5" x2="2264.6" y2="2577.5" stroke="#222" stroke-width="3"/>
<line x1="2290.4" y1="2585.5" x2="2290.4" y2="2577.5" stroke="#222" stroke-width="3"/>
<line x1="2316.3" y1="2585.5" x2="2316.3" y2="2577.5" stroke="#222" stroke-width="3"/>
<line x1="2342.2" y1="2585.5" x2="2342.2" y2="2577.5" stroke="#222" stroke-width="3"/>
<line x1="291.2" y1="3340.5" x2="291.2" y2="3332.5" stroke="#222" stroke-width="3"/>
<line x1="318.4" y1="3340.5" x2="318.4" y2="3332.5" stroke="#222" stroke-width="3"/>
<line x1="345.6" y1="3340.5" x2="345.6" y2="3332.5" stroke="#222" stroke-width="3"/>
<line x1="372.8" y1="3340.5" x2="372.8" y2="3332.5" stroke="#222" stroke-width="3"/>
<line x1="400.0" y1="3340.5" x2="400.0" y2="3325.5" stroke="#222" stroke-width="3"/>
<line x1="427.2" y1="3340.5" x2="427.2" y2="3332.5" stroke="#222" stroke-width="3"/>
<line x1="454.4" y1="3340.5" x2="454.4" y2="3332.5" stroke="#222" stroke-width="3"/>
<line x1="481.6" y1="3340.5" x2="481.6" y2="3332.5" stroke="#222" stroke-width="3"/>
<line x1="508.8" y1="3340.5" x2="508.8" y2="3332.5" stroke="#222" stroke-width="3"/>
<line x1="536.0" y1="3340.5" x2="536.0" y2="3325.5" stroke="#222" stroke-width="3"/>
<line x1="563.2" y1="3340.5" x2="563.2" y2="3332.5" stroke="#222" stroke-width="3"/>
<line x1="590.4" y1="3340.5" x2="590.4" y2="3332.5" stroke="#222" stroke-width="3"/>
<line x1="617.6" y1="3340.5" x2="617.6" y2="3332.5" stroke="#222" stroke-width="3"/>
<line x1="644.8" y1="3340.5" x2="644.8" y2="3332.5" stroke="#222" stroke-width="3"/>
<line x1="672.0" y1="3340.5" x2="672.0" y2="3325.5" stroke="#222" stroke-width="3"/>
<line x1="699.2" y1="3340.5" x2="699.2" y2="3332.5" stroke="#222" stroke-width="3"/>
<line x1="726.4" y1="3340.5" x2="726.4" y2="3332.5" stroke="#222" stroke-width="3"/>
<line x1="753.6" y1="3340.5" x2="753.6" y2="3332.5" stroke="#222" stroke-width="3"/>
<line x1="780.8" y1="3340.5" x2="780.8" y2="3332.5" stroke="#222" stroke-width="3"/>
<line x1="808.0" y1="3340.5" x2="808.0" y2="3325.5" stroke="#222" stroke-width="3"/>
<line x1="835.2" y1="3340.5" x2="835.2" y2="3332.5" stroke="#222" stroke-width="3"/>
<line x1="862.4" y1="3340.5" x2="862.4" y2="3332.5" stroke="#222" stroke-width="3"/>
<line x1="889.6" y1="3340.5" x2="889.6" y2="3332.5" stroke="#222" stroke-width="3"/>
<line x1="916.8" y1="3340.5" x2="916.8" y2="3332.5" stroke="#222" stroke-width="3"/>
<line x1="944.0" y1="3340.5" x2="944.0" y2="3325.5" stroke="#222" stroke-width="3"/>
<line x1="971.2" y1="3340.5" x2="971.2" y2="3332.5" stroke="#222" stroke-width="3"/>
<line x1="998.4" y1="3340.5" x2="998.4" y2="3332.5" stroke="#222" stroke-width="3"/>
<line x1="1025.6" y1="3340.5" x2="1025.6" y2="3332.5" stroke="#222" stroke-width="3"/>
<line x1="1052.8" y1="3340.5" x2="1052.8" y2="3332.5" stroke="#222" stroke-width="3"/>
<line x1="1080.0" y1="3340.5" x2="1080.0" y2="3325.5" stroke="#222" stroke-width="3"/>
<line x1="1107.2" y1="3340.5" x2="1107.2" y2="3332.5" stroke="#222" stroke-width="3"/>
<line x1="1134.4" y1="3340.5" x2="1134.4" y2="3332.5" stroke="#222" stroke-width="3"/>
<line x1="1161.6" y1="3340.5" x2="1161.6" y2="3332.5" stroke="#222" stroke-width="3"/>
<line x1="1188.8" y1="3340.5" x2="1188.8" y2="3332.5" stroke="#222" stroke-width="3"/>
<line x1="1216.0" y1="3340.5" x2="1216.0" y2="3325.5" stroke="#222" stroke-width="3"/>
<line x1="1243.2" y1="3340.5" x2="1243.2" y2="3332.5" stroke="#222" stroke-width="3"/>
<line x1="1270.4" y1="3340.5" x2="1270.4" y2="3332.5" stroke="#222" stroke-width="3"/>
<line x1="1297.6" y1="3340.5" x2="1297.6" y2="3332.5" stroke="#222" stroke-width="3"/>
<line x1="1324.8" y1="3340.5" x2="1324.8" y2="3332.5" stroke="#222" stroke-width="3"/>
<line x1="1367.7" y1="3334.0" x2="1367.7" y2="3326.0" stroke="#222" stroke-width="3"/>
<line x1="1393.3" y1="3334.0" x2="1393.3" y2="3326.0" stroke="#222" stroke-width="3"/>
<line x1="1419.0" y1="3334.0" x2="1419.0" y2="3326.0" stroke="#222" stroke-width="3"/>
<line x1="1444.6" y1="3334.0" x2="1444.6" y2="3326.0" stroke="#222" stroke-width="3"/>
<line x1="1470.2" y1="3334.0" x2="1470.2" y2="3319.0" stroke="#222" stroke-width="3"/>
<line x1="1495.9" y1="3334.0" x2="1495.9" y2="3326.0" stroke="#222" stroke-width="3"/>
<line x1="1521.5" y1="3334.0" x2="1521.5" y2="3326.0" stroke="#222" stroke-width="3"/>
<line x1="1547.2" y1="3334.0" x2="1547.2" y2="3326.0" stroke="#222" stroke-width="3"/>
<line x1="1572.8" y1="3334.0" x2="1572.8" y2="3326.0" stroke="#222" stroke-width="3"/>
<line x1="1598.5" y1="3334.0" x2="1598.5" y2="3319.0" stroke="#222" stroke-width="3"/>
<line x1="1624.2" y1="3334.0" x2="1624.2" y2="3326.0" stroke="#222" stroke-width="3"/>
<line x1="1649.8" y1="3334.0" x2="1649.8" y2="3326.0" stroke="#222" stroke-width="3"/>
<line x1="1675.5" y1="3334.0" x2="1675.5" y2="3326.0" stroke="#222" stroke-width="3"/>
<line x1="1701.1" y1="3334.0" x2="1701.1" y2="3326.0" stroke="#222" stroke-width="3"/>
<line x1="1726.8" y1="3334.0" x2="1726.8" y2="3319.0" stroke="#222" stroke-width="3"/>
<line x1="1752.4" y1="3334.0" x2="1752.4" y2="3326.0" stroke="#222" stroke-width="3"/>
<line x1="1778.0" y1="3334.0" x2="1778.0" y2="3326.0" stroke="#222" stroke-width="3"/>
<line x1="1803.7" y1="3334.0" x2="1803.7" y2="3326.0" stroke="#222" stroke-width="3"/>
<line x1="1829.3" y1="3334.0" x2="1829.3" y2="3326.0" stroke="#222" stroke-width="3"/>
<line x1="1855.0" y1="3334.0" x2="1855.0" y2="3319.0" stroke="#222" stroke-width="3"/>
<line x1="1880.7" y1="3334.0" x2="1880.7" y2="3326.0" stroke="#222" stroke-width="3"/>
<line x1="1906.3" y1="3334.0" x2="1906.3" y2="3326.0" stroke="#222" stroke-width="3"/>
<line x1="1931.9" y1="3334.0" x2="1931.9" y2="3326.0" stroke="#222" stroke-width="3"/>
<line x1="1957.6" y1="3334.0" x2="1957.6" y2="3326.0" stroke="#222" stroke-width="3"/>
<line x1="1983.2" y1="3334.0" x2="1983.2" y2="3319.0" stroke="#222" stroke-width="3"/>
<line x1="2008.9" y1="3334.0" x2="2008.9" y2="3326.0" stroke="#222" stroke-width="3"/>
<line x1="2034.5" y1="3334.0" x2="2034.5" y2="3326.0" stroke="#222" stroke-width="3"/>
<line x1="2060.2" y1="3334.0" x2="2060.2" y2="3326.0" stroke="#222" stroke-width="3"/>
<line x1="2085.8" y1="3334.0" x2="2085.8" y2="3326.0" stroke="#222" stroke-width="3"/>
<line x1="2111.5" y1="3334.0" x2="2111.5" y2="3319.0" stroke="#222" stroke-width="3"/>
<line x1="2137.2" y1="3334.0" x2="2137.2" y2="3326.0" stroke="#222" stroke-width="3"/>
<line x1="2162.8" y1="3334.0" x2="2162.8" y2="3326.0" stroke="#222" stroke-width="3"/>
<line x1="2188.4" y1="3334.0" x2="2188.4" y2="3326.0" stroke="#222" stroke-width="3"/>
<line x1="2214.1" y1="3334.0" x2="2214.1" y2="3326.0" stroke="#222" stroke-width="3"/>
<line x1="2239.8" y1="3334.0" x2="2239.8" y2="3319.0" stroke="#222" stroke-width="3"/>
<line x1="2265.4" y1="3334.0" x2="2265.4" y2="3326.0" stroke="#222" stroke-width="3"/>
<line x1="2291.1" y1="3334.0" x2="2291.1" y2="3326.0" stroke="#222" stroke-width="3"/>
<line x1="2316.7" y1="3334.0" x2="2316.7" y2="3326.0" stroke="#222" stroke-width="3"/>
<line x1="2342.3" y1="3334.0" x2="2342.3" y2="3326.0" stroke="#222" stroke-width="3"/>
<line x1="2368.0" y1="3334.0" x2="2368.0" y2="3319.0" stroke="#222" stroke-width="3"/>
<line x1="1291" y1="431.7" x2="1299" y2="431.7" stroke="#555" stroke-width="3"/>
<line x1="1291" y1="410.7" x2="1299" y2="410.7" stroke="#555" stroke-width="3"/>
<line x1="1291" y1="389.6" x2="1299" y2="389.6" stroke="#555" stroke-width="3"/>
<line x1="1291" y1="368.6" x2="1299" y2="368.6" stroke="#555" stroke-width="3"/>
<line x1="1289" y1="347.5" x2="1307" y2="347.5" stroke="#555" stroke-width="3"/>
<line x1="1291" y1="326.4" x2="1299" y2="326.4" stroke="#555" stroke-width="3"/>
<line x1="1291" y1="305.4" x2="1299" y2="305.4" stroke="#555" stroke-width="3"/>
<line x1="1291" y1="284.3" x2="1299" y2="284.3" stroke="#555" stroke-width="3"/>
<line x1="1291" y1="263.3" x2="1299" y2="263.3" stroke="#555" stroke-width="3"/>
<line x1="1289" y1="242.2" x2="1307" y2="242.2" stroke="#555" stroke-width="3"/>
<line x1="1291" y1="221.1" x2="1299" y2="221.1" stroke="#555" stroke-width="3"/>
<line x1="1291" y1="200.1" x2="1299" y2="200.1" stroke="#555" stroke-width="3"/>
<line x1="1291" y1="179.0" x2="1299" y2="179.0" stroke="#555" stroke-width="3"/>
<line x1="1291" y1="158.0" x2="1299" y2="158.0" stroke="#555" stroke-width="3"/>
<line x1="1289" y1="136.9" x2="1307" y2="136.9" stroke="#555" stroke-width="3"/>
<text x="251.5" y="871.7" text-anchor="end" font-family="'DejaVu Sans', Verdana, sans-serif" font-weight="bold" font-size="55" textLength="96" lengthAdjust="spacingAndGlyphs" fill="#000">0.0</text>
<text x="251.5" y="781.1" text-anchor="end" font-family="'DejaVu Sans', Verdana, sans-serif" font-weight="bold" font-size="55" textLength="96" lengthAdjust="spacingAndGlyphs" fill="#000">0.2</text>
<text x="251.5" y="675.8" text-anchor="end" font-family="'DejaVu Sans', Verdana, sans-serif" font-weight="bold" font-size="55" textLength="96" lengthAdjust="spacingAndGlyphs" fill="#000">0.4</text>
<text x="251.5" y="570.5" text-anchor="end" font-family="'DejaVu Sans', Verdana, sans-serif" font-weight="bold" font-size="55" textLength="96" lengthAdjust="spacingAndGlyphs" fill="#000">0.6</text>
<text x="251.5" y="465.2" text-anchor="end" font-family="'DejaVu Sans', Verdana, sans-serif" font-weight="bold" font-size="55" textLength="96" lengthAdjust="spacingAndGlyphs" fill="#000">0.8</text>
<text x="251.5" y="359.9" text-anchor="end" font-family="'DejaVu Sans', Verdana, sans-serif" font-weight="bold" font-size="55" textLength="96" lengthAdjust="spacingAndGlyphs" fill="#000">1.0</text>
<text x="251.5" y="254.6" text-anchor="end" font-family="'DejaVu Sans', Verdana, sans-serif" font-weight="bold" font-size="55" textLength="96" lengthAdjust="spacingAndGlyphs" fill="#000">1.2</text>
<text x="251.5" y="149.3" text-anchor="end" font-family="'DejaVu Sans', Verdana, sans-serif" font-weight="bold" font-size="55" textLength="96" lengthAdjust="spacingAndGlyphs" fill="#000">1.4</text>
<text x="251.5" y="1654.1" text-anchor="end" font-family="'DejaVu Sans', Verdana, sans-serif" font-weight="bold" font-size="55" textLength="96" lengthAdjust="spacingAndGlyphs" fill="#000">0.0</text>
<text x="251.5" y="1550.9" text-anchor="end" font-family="'DejaVu Sans', Verdana, sans-serif" font-weight="bold" font-size="55" textLength="96" lengthAdjust="spacingAndGlyphs" fill="#000">0.2</text>
<text x="251.5" y="1447.7" text-anchor="end" font-family="'DejaVu Sans', Verdana, sans-serif" font-weight="bold" font-size="55" textLength="96" lengthAdjust="spacingAndGlyphs" fill="#000">0.4</text>
<text x="251.5" y="1344.5" text-anchor="end" font-family="'DejaVu Sans', Verdana, sans-serif" font-weight="bold" font-size="55" textLength="96" lengthAdjust="spacingAndGlyphs" fill="#000">0.6</text>
<text x="251.5" y="1241.3" text-anchor="end" font-family="'DejaVu Sans', Verdana, sans-serif" font-weight="bold" font-size="55" textLength="96" lengthAdjust="spacingAndGlyphs" fill="#000">0.8</text>
<text x="251.5" y="1138.1" text-anchor="end" font-family="'DejaVu Sans', Verdana, sans-serif" font-weight="bold" font-size="55" textLength="96" lengthAdjust="spacingAndGlyphs" fill="#000">1.0</text>
<text x="251.5" y="1034.9" text-anchor="end" font-family="'DejaVu Sans', Verdana, sans-serif" font-weight="bold" font-size="55" textLength="96" lengthAdjust="spacingAndGlyphs" fill="#000">1.2</text>
<text x="251.5" y="931.7" text-anchor="end" font-family="'DejaVu Sans', Verdana, sans-serif" font-weight="bold" font-size="55" textLength="96" lengthAdjust="spacingAndGlyphs" fill="#000">1.4</text>
<text x="247" y="2583.5" text-anchor="end" font-family="'DejaVu Sans', Verdana, sans-serif" font-weight="bold" font-size="55" textLength="101" lengthAdjust="spacingAndGlyphs" fill="#000">0.0</text>
<text x="247" y="2489.1" text-anchor="end" font-family="'DejaVu Sans', Verdana, sans-serif" font-weight="bold" font-size="55" textLength="101" lengthAdjust="spacingAndGlyphs" fill="#000">0.2</text>
<text x="247" y="2383.1" text-anchor="end" font-family="'DejaVu Sans', Verdana, sans-serif" font-weight="bold" font-size="55" textLength="101" lengthAdjust="spacingAndGlyphs" fill="#000">0.4</text>
<text x="247" y="2277.1" text-anchor="end" font-family="'DejaVu Sans', Verdana, sans-serif" font-weight="bold" font-size="55" textLength="101" lengthAdjust="spacingAndGlyphs" fill="#000">0.6</text>
<text x="247" y="2171.1" text-anchor="end" font-family="'DejaVu Sans', Verdana, sans-serif" font-weight="bold" font-size="55" textLength="101" lengthAdjust="spacingAndGlyphs" fill="#000">0.8</text>
<text x="247" y="2065.1" text-anchor="end" font-family="'DejaVu Sans', Verdana, sans-serif" font-weight="bold" font-size="55" textLength="101" lengthAdjust="spacingAndGlyphs" fill="#000">1.0</text>
<text x="247" y="1959.1" text-anchor="end" font-family="'DejaVu Sans', Verdana, sans-serif" font-weight="bold" font-size="55" textLength="101" lengthAdjust="spacingAndGlyphs" fill="#000">1.2</text>
<text x="247" y="1853.1" text-anchor="end" font-family="'DejaVu Sans', Verdana, sans-serif" font-weight="bold" font-size="55" textLength="101" lengthAdjust="spacingAndGlyphs" fill="#000">1.4</text>
<text x="247" y="3352.3" text-anchor="end" font-family="'DejaVu Sans', Verdana, sans-serif" font-weight="bold" font-size="55" textLength="101" lengthAdjust="spacingAndGlyphs" fill="#000">0.0</text>
<text x="247" y="3251.0" text-anchor="end" font-family="'DejaVu Sans', Verdana, sans-serif" font-weight="bold" font-size="55" textLength="101" lengthAdjust="spacingAndGlyphs" fill="#000">0.2</text>
<text x="247" y="3148.6" text-anchor="end" font-family="'DejaVu Sans', Verdana, sans-serif" font-weight="bold" font-size="55" textLength="101" lengthAdjust="spacingAndGlyphs" fill="#000">0.4</text>
<text x="247" y="3046.2" text-anchor="end" font-family="'DejaVu Sans', Verdana, sans-serif" font-weight="bold" font-size="55" textLength="101" lengthAdjust="spacingAndGlyphs" fill="#000">0.6</text>
<text x="247" y="2945.8" text-anchor="end" font-family="'DejaVu Sans', Verdana, sans-serif" font-weight="bold" font-size="55" textLength="101" lengthAdjust="spacingAndGlyphs" fill="#000">0.8</text>
<text x="247" y="2841.4" text-anchor="end" font-family="'DejaVu Sans', Verdana, sans-serif" font-weight="bold" font-size="55" textLength="101" lengthAdjust="spacingAndGlyphs" fill="#000">1.0</text>
<text x="247" y="2739.0" text-anchor="end" font-family="'DejaVu Sans', Verdana, sans-serif" font-weight="bold" font-size="55" textLength="101" lengthAdjust="spacingAndGlyphs" fill="#000">1.2</text>
<text x="247" y="2636.6" text-anchor="end" font-family="'DejaVu Sans', Verdana, sans-serif" font-weight="bold" font-size="55" textLength="101" lengthAdjust="spacingAndGlyphs" fill="#000">1.4</text>
<text x="286.3" y="1699.5" text-anchor="middle" font-family="'Liberation Sans', Arial, sans-serif" font-weight="bold" font-size="52" textLength="95" lengthAdjust="spacingAndGlyphs" fill="#000">250</text>
<text x="416.8" y="1699.5" text-anchor="middle" font-family="'Liberation Sans', Arial, sans-serif" font-weight="bold" font-size="52" textLength="95" lengthAdjust="spacingAndGlyphs" fill="#000">300</text>
<text x="547.3" y="1699.5" text-anchor="middle" font-family="'Liberation Sans', Arial, sans-serif" font-weight="bold" font-size="52" textLength="95" lengthAdjust="spacingAndGlyphs" fill="#000">350</text>
<text x="677.8" y="1699.5" text-anchor="middle" font-family="'Liberation Sans', Arial, sans-serif" font-weight="bold" font-size="52" textLength="95" lengthAdjust="spacingAndGlyphs" fill="#000">400</text>
<text x="808.3" y="1699.5" text-anchor="middle" font-family="'Liberation Sans', Arial, sans-serif" font-weight="bold" font-size="52" textLength="95" lengthAdjust="spacingAndGlyphs" fill="#000">450</text>
<text x="938.8" y="1699.5" text-anchor="middle" font-family="'Liberation Sans', Arial, sans-serif" font-weight="bold" font-size="52" textLength="95" lengthAdjust="spacingAndGlyphs" fill="#000">500</text>
<text x="1069.3" y="1699.5" text-anchor="middle" font-family="'Liberation Sans', Arial, sans-serif" font-weight="bold" font-size="52" textLength="95" lengthAdjust="spacingAndGlyphs" fill="#000">550</text>
<text x="1199.8" y="1699.5" text-anchor="middle" font-family="'Liberation Sans', Arial, sans-serif" font-weight="bold" font-size="52" textLength="95" lengthAdjust="spacingAndGlyphs" fill="#000">600</text>
<text x="1330.3" y="1699.5" text-anchor="middle" font-family="'Liberation Sans', Arial, sans-serif" font-weight="bold" font-size="52" textLength="95" lengthAdjust="spacingAndGlyphs" fill="#000">650</text>
<text x="1446.0" y="1699.5" text-anchor="middle" font-family="'Liberation Sans', Arial, sans-serif" font-weight="bold" font-size="52" textLength="95" lengthAdjust="spacingAndGlyphs" fill="#000">300</text>
<text x="1575.5" y="1699.5" text-anchor="middle" font-family="'Liberation Sans', Arial, sans-serif" font-weight="bold" font-size="52" textLength="95" lengthAdjust="spacingAndGlyphs" fill="#000">350</text>
<text x="1705.0" y="1699.5" text-anchor="middle" font-family="'Liberation Sans', Arial, sans-serif" font-weight="bold" font-size="52" textLength="95" lengthAdjust="spacingAndGlyphs" fill="#000">400</text>
<text x="1834.5" y="1699.5" text-anchor="middle" font-family="'Liberation Sans', Arial, sans-serif" font-weight="bold" font-size="52" textLength="95" lengthAdjust="spacingAndGlyphs" fill="#000">450</text>
<text x="1964.0" y="1699.5" text-anchor="middle" font-family="'Liberation Sans', Arial, sans-serif" font-weight="bold" font-size="52" textLength="95" lengthAdjust="spacingAndGlyphs" fill="#000">500</text>
<text x="2093.5" y="1699.5" text-anchor="middle" font-family="'Liberation Sans', Arial, sans-serif" font-weight="bold" font-size="52" textLength="95" lengthAdjust="spacingAndGlyphs" fill="#000">550</text>
<text x="2223.0" y="1699.5" text-anchor="middle" font-family="'Liberation Sans', Arial, sans-serif" font-weight="bold" font-size="52" textLength="95" lengthAdjust="spacingAndGlyphs" fill="#000">600</text>
<text x="2352.5" y="1699.5" text-anchor="middle" font-family="'Liberation Sans', Arial, sans-serif" font-weight="bold" font-size="52" textLength="95" lengthAdjust="spacingAndGlyphs" fill="#000">650</text>
<text x="266.0" y="3396.7" text-anchor="middle" font-family="'Liberation Sans', Arial, sans-serif" font-weight="bold" font-size="53" textLength="94" lengthAdjust="spacingAndGlyphs" fill="#000">250</text>
<text x="393.6" y="3396.7" text-anchor="middle" font-family="'Liberation Sans', Arial, sans-serif" font-weight="bold" font-size="53" textLength="94" lengthAdjust="spacingAndGlyphs" fill="#000">300</text>
<text x="534.0" y="3396.7" text-anchor="middle" font-family="'Liberation Sans', Arial, sans-serif" font-weight="bold" font-size="53" textLength="94" lengthAdjust="spacingAndGlyphs" fill="#000">350</text>
<text x="663.0" y="3396.7" text-anchor="middle" font-family="'Liberation Sans', Arial, sans-serif" font-weight="bold" font-size="53" textLength="94" lengthAdjust="spacingAndGlyphs" fill="#000">400</text>
<text x="796.6" y="3396.7" text-anchor="middle" font-family="'Liberation Sans', Arial, sans-serif" font-weight="bold" font-size="53" textLength="94" lengthAdjust="spacingAndGlyphs" fill="#000">450</text>
<text x="930.0" y="3396.7" text-anchor="middle" font-family="'Liberation Sans', Arial, sans-serif" font-weight="bold" font-size="53" textLength="94" lengthAdjust="spacingAndGlyphs" fill="#000">500</text>
<text x="1066.8" y="3396.7" text-anchor="middle" font-family="'Liberation Sans', Arial, sans-serif" font-weight="bold" font-size="53" textLength="94" lengthAdjust="spacingAndGlyphs" fill="#000">550</text>
<text x="1199.6" y="3396.7" text-anchor="middle" font-family="'Liberation Sans', Arial, sans-serif" font-weight="bold" font-size="53" textLength="94" lengthAdjust="spacingAndGlyphs" fill="#000">600</text>
<text x="1329.4" y="3396.7" text-anchor="middle" font-family="'Liberation Sans', Arial, sans-serif" font-weight="bold" font-size="53" textLength="94" lengthAdjust="spacingAndGlyphs" fill="#000">650</text>
<text x="1471.4" y="3396.7" text-anchor="middle" font-family="'Liberation Sans', Arial, sans-serif" font-weight="bold" font-size="53" textLength="94" lengthAdjust="spacingAndGlyphs" fill="#000">300</text>
<text x="1599.0" y="3396.7" text-anchor="middle" font-family="'Liberation Sans', Arial, sans-serif" font-weight="bold" font-size="53" textLength="94" lengthAdjust="spacingAndGlyphs" fill="#000">350</text>
<text x="1725.0" y="3396.7" text-anchor="middle" font-family="'Liberation Sans', Arial, sans-serif" font-weight="bold" font-size="53" textLength="94" lengthAdjust="spacingAndGlyphs" fill="#000">400</text>
<text x="1854.0" y="3396.7" text-anchor="middle" font-family="'Liberation Sans', Arial, sans-serif" font-weight="bold" font-size="53" textLength="94" lengthAdjust="spacingAndGlyphs" fill="#000">450</text>
<text x="1984.0" y="3396.7" text-anchor="middle" font-family="'Liberation Sans', Arial, sans-serif" font-weight="bold" font-size="53" textLength="94" lengthAdjust="spacingAndGlyphs" fill="#000">500</text>
<text x="2110.8" y="3396.7" text-anchor="middle" font-family="'Liberation Sans', Arial, sans-serif" font-weight="bold" font-size="53" textLength="94" lengthAdjust="spacingAndGlyphs" fill="#000">550</text>
<text x="2239.0" y="3396.7" text-anchor="middle" font-family="'Liberation Sans', Arial, sans-serif" font-weight="bold" font-size="53" textLength="94" lengthAdjust="spacingAndGlyphs" fill="#000">600</text>
<text x="2368.2" y="3396.7" text-anchor="middle" font-family="'Liberation Sans', Arial, sans-serif" font-weight="bold" font-size="53" textLength="94" lengthAdjust="spacingAndGlyphs" fill="#000">650</text>
<text x="1165" y="1771" font-family="'Liberation Serif', 'Times New Roman', serif" font-weight="bold" font-size="62" textLength="481" lengthAdjust="spacingAndGlyphs" fill="#000">Wavelenght (nm)</text>
<text x="1175" y="3474" font-family="'Liberation Serif', 'Times New Roman', serif" font-weight="bold" font-size="62" textLength="475" lengthAdjust="spacingAndGlyphs" fill="#000">Wavelenght (nm)</text>
<text transform="translate(103 1129.5) rotate(-90)" font-family="'Liberation Serif', 'Times New Roman', serif" font-weight="bold" font-size="67" textLength="511" lengthAdjust="spacingAndGlyphs" fill="#000">Absorbance (a.u.)</text>
<text transform="translate(99 2849) rotate(-90)" font-family="'Liberation Serif', 'Times New Roman', serif" font-weight="bold" font-size="74" textLength="529" lengthAdjust="spacingAndGlyphs" fill="#000">Absorbance (a.u.)</text>
<text x="295" y="153.5" font-family="'DejaVu Sans', Verdana, sans-serif" font-weight="bold" font-size="72" textLength="121" lengthAdjust="spacingAndGlyphs" fill="#000">(a)</text>
<text x="1344.5" y="159.8" font-family="'Liberation Sans', Arial, sans-serif" font-weight="bold" font-size="65" textLength="86" lengthAdjust="spacingAndGlyphs" fill="#000">(b)</text>
<text x="314.5" y="933" font-family="'Liberation Serif', 'Times New Roman', serif" font-weight="bold" font-size="68" textLength="77" lengthAdjust="spacingAndGlyphs" fill="#000">(c)</text>
<text x="1326" y="928.5" font-family="'Liberation Serif', 'Times New Roman', serif" font-weight="bold" font-size="66" fill="#000">(d)</text>
<text x="312" y="1871" font-family="'Liberation Sans', Arial, sans-serif" font-weight="bold" font-size="65" textLength="77" lengthAdjust="spacingAndGlyphs" fill="#000">(e)</text>
<text x="1381.5" y="1877.5" font-family="'Liberation Sans', Arial, sans-serif" font-weight="bold" font-size="65" textLength="67" lengthAdjust="spacingAndGlyphs" fill="#000">(f)</text>
<text x="301" y="2666" font-family="'Liberation Sans', Arial, sans-serif" font-weight="bold" font-size="65" textLength="85" lengthAdjust="spacingAndGlyphs" fill="#000">(g)</text>
<text x="1362" y="2678" font-family="'Liberation Sans', Arial, sans-serif" font-weight="bold" font-size="65" textLength="90" lengthAdjust="spacingAndGlyphs" fill="#000">(h)</text>
<path d="M463.8 159.5 L544.2 159.5" fill="none" stroke="#0000ff" stroke-width="9.5" stroke-linecap="round"/>
<text x="560.5" y="171.8" font-family="'Liberation Sans', Arial, sans-serif" font-weight="bold" font-size="53" fill="#000">R</text>
<path d="M463.5 217.6 L544.5 217.6" fill="none" stroke="#ff0000" stroke-width="9" stroke-linecap="round" stroke-dasharray="35 45.8 0.1 200"/>
<text x="560.5" y="230.0" font-family="'Liberation Sans', Arial, sans-serif" font-weight="bold" font-size="53" fill="#000">15 min</text>
<path d="M463.5 275.0 L544.5 275.0" fill="none" stroke="#00fa00" stroke-width="9" stroke-linecap="round" stroke-dasharray="4 46"/>
<text x="560.5" y="287.4" font-family="'Liberation Sans', Arial, sans-serif" font-weight="bold" font-size="53" fill="#000">30 min</text>
<path d="M463.5 332.8 L544.5 332.8" fill="none" stroke="#00f8f8" stroke-width="9" stroke-linecap="round" stroke-dasharray="41 31 5 31"/>
<text x="560.5" y="344.8" font-family="'Liberation Sans', Arial, sans-serif" font-weight="bold" font-size="53" fill="#000">45 min</text>
<path d="M463.5 389.8 L544.5 389.8" fill="none" stroke="#ff00ff" stroke-width="9" stroke-linecap="round" stroke-dasharray="33 24 6 24"/>
<text x="560.5" y="402.2" font-family="'Liberation Sans', Arial, sans-serif" font-weight="bold" font-size="53" fill="#000">60 min</text>
<path d="M463.5 447.2 L544.5 447.2" fill="none" stroke="#800080" stroke-width="9" stroke-linecap="round" stroke-dasharray="9 28"/>
<text x="560.5" y="460.5" font-family="'Liberation Sans', Arial, sans-serif" font-weight="bold" font-size="53" fill="#000">75 min</text>
<path d="M989.2 169.6 L1070.8 169.6" fill="none" stroke="#800000" stroke-width="6.5" stroke-linecap="round" stroke-dasharray="0.1 16"/>
<text x="1089.0" y="183.2" font-family="'Liberation Sans', Arial, sans-serif" font-weight="bold" font-size="52" fill="#000">90 min</text>
<path d="M990.5 227.0 L1069.5 227.0" fill="none" stroke="#008000" stroke-width="9" stroke-linecap="round" stroke-dasharray="18 22 0.1 22"/>
<text x="1089.0" y="240.6" font-family="'Liberation Sans', Arial, sans-serif" font-weight="bold" font-size="52" fill="#000">105 min</text>
<path d="M989.0 284.5 L1071.0 284.5" fill="none" stroke="#ff8000" stroke-width="6" stroke-linecap="round" stroke-dasharray="28 38"/>
<text x="1089.0" y="298.8" font-family="'Liberation Sans', Arial, sans-serif" font-weight="bold" font-size="52" fill="#000">120 min</text>
<path d="M989.0 341.9 L1071.0 341.9" fill="none" stroke="#ff0080" stroke-width="6" stroke-linecap="round"/>
<text x="1089.0" y="356.2" font-family="'Liberation Sans', Arial, sans-serif" font-weight="bold" font-size="52" fill="#000">135 min</text>
<path d="M989.8 399.3 L1070.2 399.3" fill="none" stroke="#2060a0" stroke-width="7.5" stroke-linecap="round" stroke-dasharray="1 39"/>
<text x="1089.0" y="413.6" font-family="'Liberation Sans', Arial, sans-serif" font-weight="bold" font-size="52" fill="#000">150 min</text>
<path d="M439.9 979.7 L516.5 979.7" fill="none" stroke="#0000ff" stroke-width="9.5" stroke-linecap="round"/>
<text x="535.0" y="994.3" font-family="'Liberation Sans', Arial, sans-serif" font-weight="bold" font-size="53" fill="#000">R</text>
<path d="M439.7 1037.8 L516.8 1037.8" fill="none" stroke="#ff0000" stroke-width="9" stroke-linecap="round" stroke-dasharray="35 41.9 0.1 200"/>
<text x="535.0" y="1051.7" font-family="'Liberation Sans', Arial, sans-serif" font-weight="bold" font-size="53" fill="#000">15 min</text>
<path d="M439.7 1095.9 L516.8 1095.9" fill="none" stroke="#00fa00" stroke-width="9" stroke-linecap="round" stroke-dasharray="4 46"/>
<text x="535.0" y="1109.2" font-family="'Liberation Sans', Arial, sans-serif" font-weight="bold" font-size="53" fill="#000">30 min</text>
<path d="M439.7 1153.6 L516.8 1153.6" fill="none" stroke="#00f8f8" stroke-width="9" stroke-linecap="round" stroke-dasharray="41 31 5 31"/>
<text x="535.0" y="1166.6" font-family="'Liberation Sans', Arial, sans-serif" font-weight="bold" font-size="53" fill="#000">45 min</text>
<path d="M439.7 1211.0 L516.8 1211.0" fill="none" stroke="#80ffff" stroke-width="9" stroke-linecap="round" stroke-dasharray="28 34 1 34 1 34"/>
<text x="535.0" y="1224.0" font-family="'Liberation Sans', Arial, sans-serif" font-weight="bold" font-size="53" fill="#000">60 min</text>
<path d="M439.7 1268.5 L516.8 1268.5" fill="none" stroke="#ff80ff" stroke-width="9" stroke-linecap="round" stroke-dasharray="12 25"/>
<text x="535.0" y="1281.4" font-family="'Liberation Sans', Arial, sans-serif" font-weight="bold" font-size="53" fill="#000">75 min</text>
<path d="M990.2 984.9 L1088.5 984.9" fill="none" stroke="#8000ff" stroke-width="6.5" stroke-linecap="round" stroke-dasharray="0.1 16"/>
<text x="1098.5" y="997.7" font-family="'Liberation Sans', Arial, sans-serif" font-weight="bold" font-size="53" fill="#000">90 min</text>
<path d="M991.5 1041.2 L1087.2 1041.2" fill="none" stroke="#800080" stroke-width="9" stroke-linecap="round" stroke-dasharray="25 20 0.1 19"/>
<text x="1098.5" y="1055.1" font-family="'Liberation Sans', Arial, sans-serif" font-weight="bold" font-size="53" fill="#000">105 min</text>
<path d="M990.2 1097.5 L1088.5 1097.5" fill="none" stroke="#800000" stroke-width="6.5" stroke-linecap="round"/>
<text x="1098.5" y="1112.5" font-family="'Liberation Sans', Arial, sans-serif" font-weight="bold" font-size="53" fill="#000">120 min</text>
<path d="M998.3 1154.4 L1087.2 1154.4" fill="none" stroke="#808000" stroke-width="9" stroke-linecap="round" stroke-dasharray="41 31 5 31"/>
<text x="1098.5" y="1167.7" font-family="'Liberation Sans', Arial, sans-serif" font-weight="bold" font-size="53" fill="#000">135 min</text>
<path d="M998.3 1211.2 L1087.2 1211.2" fill="none" stroke="#2060a0" stroke-width="9" stroke-linecap="round" stroke-dasharray="41 31 5 31"/>
<text x="1098.5" y="1224.5" font-family="'Liberation Sans', Arial, sans-serif" font-weight="bold" font-size="53" fill="#000">150 min</text>
<path d="M2040.8 167.5 L2127.8 167.5" fill="none" stroke="#0000ff" stroke-width="9.5" stroke-linecap="round"/>
<text x="2144.0" y="182.6" font-family="'Liberation Sans', Arial, sans-serif" font-weight="bold" font-size="54" fill="#000">R</text>
<path d="M2040.5 233.4 L2128.0 233.4" fill="none" stroke="#ff0000" stroke-width="9" stroke-linecap="round" stroke-dasharray="35 52.3 0.1 200"/>
<text x="2144.0" y="248.5" font-family="'Liberation Sans', Arial, sans-serif" font-weight="bold" font-size="54" fill="#000">15 min</text>
<path d="M2040.5 299.3 L2128.0 299.3" fill="none" stroke="#00fa00" stroke-width="9" stroke-linecap="round" stroke-dasharray="4 46"/>
<text x="2144.0" y="314.3" font-family="'Liberation Sans', Arial, sans-serif" font-weight="bold" font-size="54" fill="#000">30 min</text>
<path d="M2040.5 363.4 L2128.0 363.4" fill="none" stroke="#ff00ff" stroke-width="9" stroke-linecap="round" stroke-dasharray="41 31 5 31"/>
<text x="2144.0" y="378.5" font-family="'Liberation Sans', Arial, sans-serif" font-weight="bold" font-size="54" fill="#000">45 min</text>
<path d="M2040.5 429.3 L2128.0 429.3" fill="none" stroke="#80ffff" stroke-width="9" stroke-linecap="round" stroke-dasharray="28 34 1 34 1 34"/>
<text x="2144.0" y="445.8" font-family="'Liberation Sans', Arial, sans-serif" font-weight="bold" font-size="54" fill="#000">60 min</text>
<path d="M2052.8 1003.2 L2141.8 1003.2" fill="none" stroke="#0000ff" stroke-width="9.5" stroke-linecap="round"/>
<text x="2158.5" y="1017.0" font-family="'Liberation Sans', Arial, sans-serif" font-weight="bold" font-size="54" fill="#000">R</text>
<path d="M2052.5 1067.4 L2142.0 1067.4" fill="none" stroke="#00fa00" stroke-width="9" stroke-linecap="round" stroke-dasharray="35 54.3 0.1 200"/>
<text x="2158.5" y="1079.2" font-family="'Liberation Sans', Arial, sans-serif" font-weight="bold" font-size="54" fill="#000">15 min</text>
<path d="M2052.5 1131.2 L2142.0 1131.2" fill="none" stroke="#ff0000" stroke-width="9" stroke-linecap="round" stroke-dasharray="4 46"/>
<text x="2158.5" y="1143.6" font-family="'Liberation Sans', Arial, sans-serif" font-weight="bold" font-size="54" fill="#000">30 min</text>
<path d="M2052.5 1195.0 L2142.0 1195.0" fill="none" stroke="#ff00ff" stroke-width="9" stroke-linecap="round" stroke-dasharray="41 31 5 31"/>
<text x="2158.5" y="1208.4" font-family="'Liberation Sans', Arial, sans-serif" font-weight="bold" font-size="54" fill="#000">45 min</text>
<path d="M1030.2 1910.4 L1116.5 1910.4" fill="none" stroke="#0000ff" stroke-width="9.5" stroke-linecap="round"/>
<text x="1132.5" y="1920.7" font-family="'Liberation Sans', Arial, sans-serif" font-weight="bold" font-size="54" fill="#000">R</text>
<path d="M1030.0 1968.9 L1116.7 1968.9" fill="none" stroke="#00fa00" stroke-width="9" stroke-linecap="round" stroke-dasharray="35 51.5 0.1 200"/>
<text x="1132.5" y="1982.3" font-family="'Liberation Sans', Arial, sans-serif" font-weight="bold" font-size="54" fill="#000">15 min</text>
<path d="M1030.0 2026.7 L1116.7 2026.7" fill="none" stroke="#ff0000" stroke-width="9" stroke-linecap="round" stroke-dasharray="4 46"/>
<text x="1132.5" y="2040.8" font-family="'Liberation Sans', Arial, sans-serif" font-weight="bold" font-size="54" fill="#000">30 min</text>
<path d="M1030.0 2084.8 L1116.7 2084.8" fill="none" stroke="#ff00ff" stroke-width="9" stroke-linecap="round" stroke-dasharray="41 31 5 31"/>
<text x="1132.5" y="2098.7" font-family="'Liberation Sans', Arial, sans-serif" font-weight="bold" font-size="54" fill="#000">45 min</text>
<path d="M1030.0 2142.8 L1116.7 2142.8" fill="none" stroke="#80ffff" stroke-width="9" stroke-linecap="round" stroke-dasharray="28 34 1 34 1 34"/>
<text x="1132.5" y="2155.6" font-family="'Liberation Sans', Arial, sans-serif" font-weight="bold" font-size="54" fill="#000">60 min</text>
<path d="M2068.2 1920.8 L2156.8 1920.8" fill="none" stroke="#0000ff" stroke-width="9.5" stroke-linecap="round"/>
<text x="2172.5" y="1934.2" font-family="'Liberation Sans', Arial, sans-serif" font-weight="bold" font-size="54" fill="#000">R</text>
<path d="M2067.9 1985.3 L2157.1 1985.3" fill="none" stroke="#00fa00" stroke-width="9" stroke-linecap="round" stroke-dasharray="35 54.0 0.1 200"/>
<text x="2172.5" y="1999.2" font-family="'Liberation Sans', Arial, sans-serif" font-weight="bold" font-size="54" fill="#000">15 min</text>
<path d="M2067.9 2049.7 L2157.1 2049.7" fill="none" stroke="#ff0000" stroke-width="9" stroke-linecap="round" stroke-dasharray="4 46"/>
<text x="2172.5" y="2063.6" font-family="'Liberation Sans', Arial, sans-serif" font-weight="bold" font-size="54" fill="#000">30 min</text>
<path d="M2067.9 2113.9 L2157.1 2113.9" fill="none" stroke="#ff00ff" stroke-width="9" stroke-linecap="round" stroke-dasharray="41 31 5 31"/>
<text x="2172.5" y="2128.4" font-family="'Liberation Sans', Arial, sans-serif" font-weight="bold" font-size="54" fill="#000">45 min</text>
<path d="M1022.8 2675.1 L1110.0 2675.1" fill="none" stroke="#0000ff" stroke-width="9.5" stroke-linecap="round"/>
<text x="1125.3" y="2685.9" font-family="'Liberation Sans', Arial, sans-serif" font-weight="bold" font-size="54" fill="#000">R</text>
<path d="M1022.5 2731.4 L1110.3 2731.4" fill="none" stroke="#00fa00" stroke-width="9" stroke-linecap="round" stroke-dasharray="35 52.6 0.1 200"/>
<text x="1125.3" y="2743.3" font-family="'Liberation Sans', Arial, sans-serif" font-weight="bold" font-size="54" fill="#000">15 min</text>
<path d="M1022.5 2786.7 L1110.3 2786.7" fill="none" stroke="#ff0000" stroke-width="9" stroke-linecap="round" stroke-dasharray="4 46"/>
<text x="1125.3" y="2798.0" font-family="'Liberation Sans', Arial, sans-serif" font-weight="bold" font-size="54" fill="#000">30 min</text>
<path d="M1022.5 2843.1 L1110.3 2843.1" fill="none" stroke="#ff00ff" stroke-width="9" stroke-linecap="round" stroke-dasharray="41 31 5 31"/>
<text x="1125.3" y="2854.9" font-family="'Liberation Sans', Arial, sans-serif" font-weight="bold" font-size="54" fill="#000">45 min</text>
<path d="M2050.8 2677.2 L2139.1 2677.2" fill="none" stroke="#0000ff" stroke-width="9.5" stroke-linecap="round"/>
<text x="2155.3" y="2688.5" font-family="'Liberation Sans', Arial, sans-serif" font-weight="bold" font-size="54" fill="#000">R</text>
<path d="M2050.5 2741.0 L2139.3 2741.0" fill="none" stroke="#00fa00" stroke-width="9" stroke-linecap="round" stroke-dasharray="35 53.6 0.1 200"/>
<text x="2155.3" y="2753.4" font-family="'Liberation Sans', Arial, sans-serif" font-weight="bold" font-size="54" fill="#000">15 min</text>
<path d="M2050.5 2804.8 L2139.3 2804.8" fill="none" stroke="#ff0000" stroke-width="9" stroke-linecap="round" stroke-dasharray="4 46"/>
<text x="2155.3" y="2818.3" font-family="'Liberation Sans', Arial, sans-serif" font-weight="bold" font-size="54" fill="#000">30 min</text>
</svg>
</body></html>
